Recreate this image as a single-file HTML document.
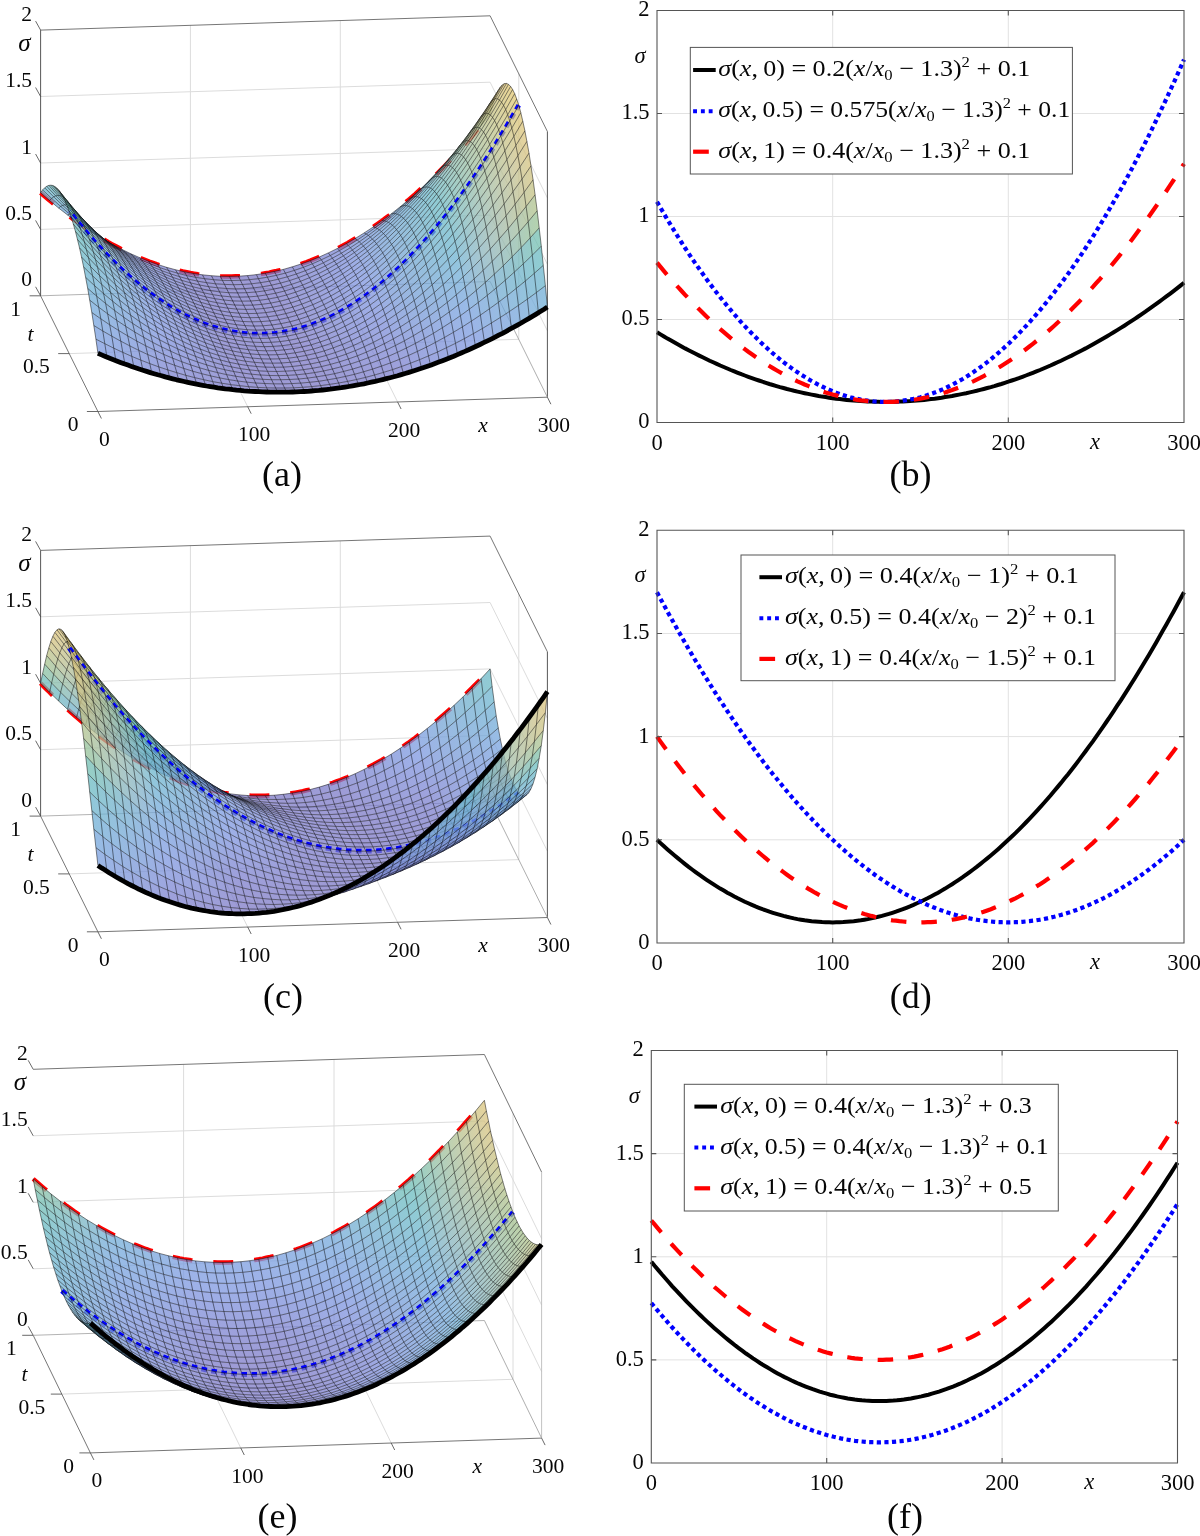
<!DOCTYPE html>
<html><head><meta charset="utf-8"><style>
html,body{margin:0;padding:0;background:#fff;}
svg{display:block;}
text{font-family:"Liberation Serif", serif;fill:#000;opacity:.99}
</style></head><body>
<svg width="1200" height="1536" viewBox="0 0 1200 1536">
<defs><linearGradient id="g1" gradientUnits="userSpaceOnUse" x1="41.6" x2="491.1" y1="0" y2="0"><stop offset="0" stop-color="#6eb3d3"/><stop offset="0.167" stop-color="#7d92dd"/><stop offset="0.333" stop-color="#7d7ac8"/><stop offset="0.5" stop-color="#7d79c6"/><stop offset="0.667" stop-color="#7d8ad7"/><stop offset="0.833" stop-color="#72abd9"/><stop offset="1" stop-color="#b3c28a"/></linearGradient><linearGradient id="g2" gradientUnits="userSpaceOnUse" x1="43.7" x2="493.2" y1="0" y2="0"><stop offset="0" stop-color="#6db5ce"/><stop offset="0.167" stop-color="#7e94df"/><stop offset="0.333" stop-color="#7d7ac8"/><stop offset="0.5" stop-color="#7d79c6"/><stop offset="0.667" stop-color="#7d8cd8"/><stop offset="0.833" stop-color="#70aed7"/><stop offset="1" stop-color="#c8c282"/></linearGradient><linearGradient id="g3" gradientUnits="userSpaceOnUse" x1="45.7" x2="495.2" y1="0" y2="0"><stop offset="0" stop-color="#6cb8ca"/><stop offset="0.167" stop-color="#7e96e0"/><stop offset="0.333" stop-color="#7d7bc8"/><stop offset="0.5" stop-color="#7d79c6"/><stop offset="0.667" stop-color="#7d8dd9"/><stop offset="0.833" stop-color="#6fb1d4"/><stop offset="1" stop-color="#d0c27f"/></linearGradient><linearGradient id="g4" gradientUnits="userSpaceOnUse" x1="47.8" x2="497.3" y1="0" y2="0"><stop offset="0" stop-color="#6bb9c6"/><stop offset="0.167" stop-color="#7d97e0"/><stop offset="0.333" stop-color="#7d7bc8"/><stop offset="0.5" stop-color="#7d79c6"/><stop offset="0.667" stop-color="#7d8fdb"/><stop offset="0.833" stop-color="#6db4d2"/><stop offset="1" stop-color="#d6c37f"/></linearGradient><linearGradient id="g5" gradientUnits="userSpaceOnUse" x1="49.8" x2="499.3" y1="0" y2="0"><stop offset="0" stop-color="#6abbc3"/><stop offset="0.167" stop-color="#7d98e0"/><stop offset="0.333" stop-color="#7d7bc8"/><stop offset="0.5" stop-color="#7d79c7"/><stop offset="0.667" stop-color="#7d90dc"/><stop offset="0.833" stop-color="#6db5cf"/><stop offset="1" stop-color="#dac37e"/></linearGradient><linearGradient id="g6" gradientUnits="userSpaceOnUse" x1="51.9" x2="501.4" y1="0" y2="0"><stop offset="0" stop-color="#6abcc0"/><stop offset="0.167" stop-color="#7c98e0"/><stop offset="0.333" stop-color="#7d7bc9"/><stop offset="0.5" stop-color="#7d79c7"/><stop offset="0.667" stop-color="#7d91dd"/><stop offset="0.833" stop-color="#6cb6cd"/><stop offset="1" stop-color="#ddc47b"/></linearGradient><linearGradient id="g7" gradientUnits="userSpaceOnUse" x1="53.9" x2="503.4" y1="0" y2="0"><stop offset="0" stop-color="#6cbdbb"/><stop offset="0.167" stop-color="#7c99e0"/><stop offset="0.333" stop-color="#7d7bc9"/><stop offset="0.5" stop-color="#7d7ac7"/><stop offset="0.667" stop-color="#7d92dd"/><stop offset="0.833" stop-color="#6cb7ca"/><stop offset="1" stop-color="#dfc579"/></linearGradient><linearGradient id="g8" gradientUnits="userSpaceOnUse" x1="55.9" x2="505.4" y1="0" y2="0"><stop offset="0" stop-color="#6ebeb8"/><stop offset="0.167" stop-color="#7c9ae0"/><stop offset="0.333" stop-color="#7d7bc9"/><stop offset="0.5" stop-color="#7d7ac7"/><stop offset="0.667" stop-color="#7e93de"/><stop offset="0.833" stop-color="#6bb8c9"/><stop offset="1" stop-color="#e0c677"/></linearGradient><linearGradient id="g9" gradientUnits="userSpaceOnUse" x1="58" x2="507.5" y1="0" y2="0"><stop offset="0" stop-color="#70beb5"/><stop offset="0.167" stop-color="#7b9ae0"/><stop offset="0.333" stop-color="#7d7bc9"/><stop offset="0.5" stop-color="#7d7ac7"/><stop offset="0.667" stop-color="#7e93de"/><stop offset="0.833" stop-color="#6bb9c7"/><stop offset="1" stop-color="#e1c776"/></linearGradient><linearGradient id="g10" gradientUnits="userSpaceOnUse" x1="60" x2="509.5" y1="0" y2="0"><stop offset="0" stop-color="#71beb3"/><stop offset="0.167" stop-color="#7b9ae0"/><stop offset="0.333" stop-color="#7d7bc9"/><stop offset="0.5" stop-color="#7d7ac7"/><stop offset="0.667" stop-color="#7e94df"/><stop offset="0.833" stop-color="#6bb9c7"/><stop offset="1" stop-color="#e2c874"/></linearGradient><linearGradient id="g11" gradientUnits="userSpaceOnUse" x1="62.1" x2="511.6" y1="0" y2="0"><stop offset="0" stop-color="#72bfb2"/><stop offset="0.167" stop-color="#7b9be0"/><stop offset="0.333" stop-color="#7d7bc9"/><stop offset="0.5" stop-color="#7d7ac7"/><stop offset="0.667" stop-color="#7e94df"/><stop offset="0.833" stop-color="#6bb9c6"/><stop offset="1" stop-color="#e2c874"/></linearGradient><linearGradient id="g12" gradientUnits="userSpaceOnUse" x1="64.1" x2="513.6" y1="0" y2="0"><stop offset="0" stop-color="#72bfb1"/><stop offset="0.167" stop-color="#7b9be0"/><stop offset="0.333" stop-color="#7d7bc9"/><stop offset="0.5" stop-color="#7d7ac7"/><stop offset="0.667" stop-color="#7e94df"/><stop offset="0.833" stop-color="#6bbac6"/><stop offset="1" stop-color="#e3c874"/></linearGradient><linearGradient id="g13" gradientUnits="userSpaceOnUse" x1="66.2" x2="515.7" y1="0" y2="0"><stop offset="0" stop-color="#72bfb2"/><stop offset="0.167" stop-color="#7b9be0"/><stop offset="0.333" stop-color="#7d7bc9"/><stop offset="0.5" stop-color="#7d7ac7"/><stop offset="0.667" stop-color="#7e94df"/><stop offset="0.833" stop-color="#6bb9c6"/><stop offset="1" stop-color="#e2c874"/></linearGradient><linearGradient id="g14" gradientUnits="userSpaceOnUse" x1="68.2" x2="517.7" y1="0" y2="0"><stop offset="0" stop-color="#71beb3"/><stop offset="0.167" stop-color="#7b9ae0"/><stop offset="0.333" stop-color="#7d7bc9"/><stop offset="0.5" stop-color="#7d7ac7"/><stop offset="0.667" stop-color="#7e94df"/><stop offset="0.833" stop-color="#6bb9c7"/><stop offset="1" stop-color="#e2c875"/></linearGradient><linearGradient id="g15" gradientUnits="userSpaceOnUse" x1="70.3" x2="519.8" y1="0" y2="0"><stop offset="0" stop-color="#70beb5"/><stop offset="0.167" stop-color="#7b9ae0"/><stop offset="0.333" stop-color="#7d7bc9"/><stop offset="0.5" stop-color="#7d7ac7"/><stop offset="0.667" stop-color="#7e93de"/><stop offset="0.833" stop-color="#6bb9c8"/><stop offset="1" stop-color="#e1c776"/></linearGradient><linearGradient id="g16" gradientUnits="userSpaceOnUse" x1="72.3" x2="521.8" y1="0" y2="0"><stop offset="0" stop-color="#6ebeb8"/><stop offset="0.167" stop-color="#7c9ae0"/><stop offset="0.333" stop-color="#7d7bc9"/><stop offset="0.5" stop-color="#7d7ac7"/><stop offset="0.667" stop-color="#7d93de"/><stop offset="0.833" stop-color="#6cb8c9"/><stop offset="1" stop-color="#e0c677"/></linearGradient><linearGradient id="g17" gradientUnits="userSpaceOnUse" x1="74.4" x2="523.9" y1="0" y2="0"><stop offset="0" stop-color="#6cbdbc"/><stop offset="0.167" stop-color="#7c99e0"/><stop offset="0.333" stop-color="#7d7bc9"/><stop offset="0.5" stop-color="#7d7ac7"/><stop offset="0.667" stop-color="#7d92dd"/><stop offset="0.833" stop-color="#6cb7cb"/><stop offset="1" stop-color="#dec579"/></linearGradient><linearGradient id="g18" gradientUnits="userSpaceOnUse" x1="76.4" x2="525.9" y1="0" y2="0"><stop offset="0" stop-color="#6abcc0"/><stop offset="0.167" stop-color="#7c98e0"/><stop offset="0.333" stop-color="#7d7bc9"/><stop offset="0.5" stop-color="#7d79c7"/><stop offset="0.667" stop-color="#7d91dc"/><stop offset="0.833" stop-color="#6cb6cd"/><stop offset="1" stop-color="#ddc47c"/></linearGradient><linearGradient id="g19" gradientUnits="userSpaceOnUse" x1="78.5" x2="528" y1="0" y2="0"><stop offset="0" stop-color="#6abbc3"/><stop offset="0.167" stop-color="#7d98e0"/><stop offset="0.333" stop-color="#7d7bc8"/><stop offset="0.5" stop-color="#7d79c7"/><stop offset="0.667" stop-color="#7d90dc"/><stop offset="0.833" stop-color="#6db5cf"/><stop offset="1" stop-color="#dac37e"/></linearGradient><linearGradient id="g20" gradientUnits="userSpaceOnUse" x1="80.5" x2="530" y1="0" y2="0"><stop offset="0" stop-color="#6bb9c7"/><stop offset="0.167" stop-color="#7d97e0"/><stop offset="0.333" stop-color="#7d7bc8"/><stop offset="0.5" stop-color="#7d79c6"/><stop offset="0.667" stop-color="#7d8fdb"/><stop offset="0.833" stop-color="#6db3d2"/><stop offset="1" stop-color="#d5c37f"/></linearGradient><linearGradient id="g21" gradientUnits="userSpaceOnUse" x1="82.6" x2="532.1" y1="0" y2="0"><stop offset="0" stop-color="#6cb7ca"/><stop offset="0.167" stop-color="#7e96e0"/><stop offset="0.333" stop-color="#7d7bc8"/><stop offset="0.5" stop-color="#7d79c6"/><stop offset="0.667" stop-color="#7d8dd9"/><stop offset="0.833" stop-color="#6fb1d4"/><stop offset="1" stop-color="#d0c280"/></linearGradient><linearGradient id="g22" gradientUnits="userSpaceOnUse" x1="84.6" x2="534.1" y1="0" y2="0"><stop offset="0" stop-color="#6db5cf"/><stop offset="0.167" stop-color="#7e94df"/><stop offset="0.333" stop-color="#7d7ac8"/><stop offset="0.5" stop-color="#7d79c6"/><stop offset="0.667" stop-color="#7d8cd8"/><stop offset="0.833" stop-color="#71aed7"/><stop offset="1" stop-color="#c6c282"/></linearGradient><linearGradient id="g23" gradientUnits="userSpaceOnUse" x1="86.6" x2="536.1" y1="0" y2="0"><stop offset="0" stop-color="#6eb3d3"/><stop offset="0.167" stop-color="#7d91dd"/><stop offset="0.333" stop-color="#7d7ac8"/><stop offset="0.5" stop-color="#7d79c6"/><stop offset="0.667" stop-color="#7d8ad7"/><stop offset="0.833" stop-color="#73abd9"/><stop offset="1" stop-color="#b1c28b"/></linearGradient><linearGradient id="g24" gradientUnits="userSpaceOnUse" x1="88.7" x2="538.2" y1="0" y2="0"><stop offset="0" stop-color="#70aed6"/><stop offset="0.167" stop-color="#7d8fdb"/><stop offset="0.333" stop-color="#7d7ac8"/><stop offset="0.5" stop-color="#7d79c6"/><stop offset="0.667" stop-color="#7d88d5"/><stop offset="0.833" stop-color="#75a7dc"/><stop offset="1" stop-color="#9bc394"/></linearGradient><linearGradient id="g25" gradientUnits="userSpaceOnUse" x1="90.7" x2="540.2" y1="0" y2="0"><stop offset="0" stop-color="#73aada"/><stop offset="0.167" stop-color="#7d8cd8"/><stop offset="0.333" stop-color="#7d7ac7"/><stop offset="0.5" stop-color="#7d79c6"/><stop offset="0.667" stop-color="#7d86d3"/><stop offset="0.833" stop-color="#77a3df"/><stop offset="1" stop-color="#73bfaf"/></linearGradient><linearGradient id="g26" gradientUnits="userSpaceOnUse" x1="92.8" x2="542.3" y1="0" y2="0"><stop offset="0" stop-color="#76a5de"/><stop offset="0.167" stop-color="#7d89d6"/><stop offset="0.333" stop-color="#7d7ac7"/><stop offset="0.5" stop-color="#7d79c6"/><stop offset="0.667" stop-color="#7d84d1"/><stop offset="0.833" stop-color="#799fdf"/><stop offset="1" stop-color="#6abcc1"/></linearGradient><linearGradient id="g27" gradientUnits="userSpaceOnUse" x1="94.8" x2="544.3" y1="0" y2="0"><stop offset="0" stop-color="#79a0df"/><stop offset="0.167" stop-color="#7d86d3"/><stop offset="0.333" stop-color="#7d7ac7"/><stop offset="0.5" stop-color="#7d79c6"/><stop offset="0.667" stop-color="#7d81cf"/><stop offset="0.833" stop-color="#7b9be0"/><stop offset="1" stop-color="#6cb6cc"/></linearGradient><linearGradient id="g28" gradientUnits="userSpaceOnUse" x1="96.9" x2="546.4" y1="0" y2="0"><stop offset="0" stop-color="#7b9be0"/><stop offset="0.167" stop-color="#7d83d1"/><stop offset="0.333" stop-color="#7d79c6"/><stop offset="0.5" stop-color="#7d79c6"/><stop offset="0.667" stop-color="#7c7fcd"/><stop offset="0.833" stop-color="#7d97e0"/><stop offset="1" stop-color="#70afd6"/></linearGradient><linearGradient id="g29" gradientUnits="userSpaceOnUse" x1="41.6" x2="491.1" y1="0" y2="0"><stop offset="0" stop-color="#6fbeb7"/><stop offset="0.167" stop-color="#799fdf"/><stop offset="0.333" stop-color="#7c80ce"/><stop offset="0.5" stop-color="#7d78c5"/><stop offset="0.667" stop-color="#7c7dcb"/><stop offset="0.833" stop-color="#7b9ae0"/><stop offset="1" stop-color="#6bbac5"/></linearGradient><linearGradient id="g30" gradientUnits="userSpaceOnUse" x1="43.7" x2="493.2" y1="0" y2="0"><stop offset="0" stop-color="#8ac1a0"/><stop offset="0.167" stop-color="#77a4df"/><stop offset="0.333" stop-color="#7d84d2"/><stop offset="0.5" stop-color="#7d79c5"/><stop offset="0.667" stop-color="#7d7bc9"/><stop offset="0.833" stop-color="#7d96e0"/><stop offset="1" stop-color="#6db6ce"/></linearGradient><linearGradient id="g31" gradientUnits="userSpaceOnUse" x1="45.7" x2="495.2" y1="0" y2="0"><stop offset="0" stop-color="#a8c38f"/><stop offset="0.167" stop-color="#73a9da"/><stop offset="0.333" stop-color="#7d89d6"/><stop offset="0.5" stop-color="#7d79c6"/><stop offset="0.667" stop-color="#7d7ac8"/><stop offset="0.833" stop-color="#7d90dc"/><stop offset="1" stop-color="#6fb1d4"/></linearGradient><linearGradient id="g32" gradientUnits="userSpaceOnUse" x1="47.8" x2="497.3" y1="0" y2="0"><stop offset="0" stop-color="#bec286"/><stop offset="0.167" stop-color="#70aed7"/><stop offset="0.333" stop-color="#7d8eda"/><stop offset="0.5" stop-color="#7d7ac7"/><stop offset="0.667" stop-color="#7d7ac7"/><stop offset="0.833" stop-color="#7d8cd8"/><stop offset="1" stop-color="#72acd8"/></linearGradient><linearGradient id="g33" gradientUnits="userSpaceOnUse" x1="49.8" x2="499.3" y1="0" y2="0"><stop offset="0" stop-color="#cdc280"/><stop offset="0.167" stop-color="#6eb3d3"/><stop offset="0.333" stop-color="#7d92de"/><stop offset="0.5" stop-color="#7d7bc8"/><stop offset="0.667" stop-color="#7d79c6"/><stop offset="0.833" stop-color="#7d88d5"/><stop offset="1" stop-color="#75a7dc"/></linearGradient><linearGradient id="g34" gradientUnits="userSpaceOnUse" x1="51.9" x2="501.4" y1="0" y2="0"><stop offset="0" stop-color="#d4c27f"/><stop offset="0.167" stop-color="#6db6ce"/><stop offset="0.333" stop-color="#7d96e0"/><stop offset="0.5" stop-color="#7d7bc9"/><stop offset="0.667" stop-color="#7d79c5"/><stop offset="0.833" stop-color="#7d84d2"/><stop offset="1" stop-color="#77a3df"/></linearGradient><linearGradient id="g35" gradientUnits="userSpaceOnUse" x1="53.9" x2="503.4" y1="0" y2="0"><stop offset="0" stop-color="#d9c37e"/><stop offset="0.167" stop-color="#6cb8c9"/><stop offset="0.333" stop-color="#7c98e0"/><stop offset="0.5" stop-color="#7d7cca"/><stop offset="0.667" stop-color="#7d78c5"/><stop offset="0.833" stop-color="#7d82d0"/><stop offset="1" stop-color="#78a1df"/></linearGradient><linearGradient id="g36" gradientUnits="userSpaceOnUse" x1="55.9" x2="505.4" y1="0" y2="0"><stop offset="0" stop-color="#dcc47c"/><stop offset="0.167" stop-color="#6bbac5"/><stop offset="0.333" stop-color="#7c9ae0"/><stop offset="0.5" stop-color="#7c7dcb"/><stop offset="0.667" stop-color="#7d78c5"/><stop offset="0.833" stop-color="#7c80ce"/><stop offset="1" stop-color="#799fdf"/></linearGradient><linearGradient id="g37" gradientUnits="userSpaceOnUse" x1="58" x2="507.5" y1="0" y2="0"><stop offset="0" stop-color="#dec57a"/><stop offset="0.167" stop-color="#6abbc2"/><stop offset="0.333" stop-color="#7b9be0"/><stop offset="0.5" stop-color="#7c7dcc"/><stop offset="0.667" stop-color="#7d78c5"/><stop offset="0.833" stop-color="#7c7fcd"/><stop offset="1" stop-color="#7a9de0"/></linearGradient><linearGradient id="g38" gradientUnits="userSpaceOnUse" x1="60" x2="509.5" y1="0" y2="0"><stop offset="0" stop-color="#dfc678"/><stop offset="0.167" stop-color="#6abcc0"/><stop offset="0.333" stop-color="#7a9ce0"/><stop offset="0.5" stop-color="#7c7ecc"/><stop offset="0.667" stop-color="#7d78c5"/><stop offset="0.833" stop-color="#7c7ecc"/><stop offset="1" stop-color="#7a9ce0"/></linearGradient><linearGradient id="g39" gradientUnits="userSpaceOnUse" x1="62.1" x2="511.6" y1="0" y2="0"><stop offset="0" stop-color="#e0c677"/><stop offset="0.167" stop-color="#6bbdbd"/><stop offset="0.333" stop-color="#7a9de0"/><stop offset="0.5" stop-color="#7c7ecd"/><stop offset="0.667" stop-color="#7d78c5"/><stop offset="0.833" stop-color="#7c7dcc"/><stop offset="1" stop-color="#7b9ce0"/></linearGradient><linearGradient id="g40" gradientUnits="userSpaceOnUse" x1="64.1" x2="513.6" y1="0" y2="0"><stop offset="0" stop-color="#e0c777"/><stop offset="0.167" stop-color="#6cbdbc"/><stop offset="0.333" stop-color="#7a9de0"/><stop offset="0.5" stop-color="#7c7fcd"/><stop offset="0.667" stop-color="#7d78c5"/><stop offset="0.833" stop-color="#7c7dcc"/><stop offset="1" stop-color="#7b9be0"/></linearGradient><linearGradient id="g41" gradientUnits="userSpaceOnUse" x1="66.2" x2="515.7" y1="0" y2="0"><stop offset="0" stop-color="#e0c677"/><stop offset="0.167" stop-color="#6cbdbd"/><stop offset="0.333" stop-color="#7a9de0"/><stop offset="0.5" stop-color="#7c7fcd"/><stop offset="0.667" stop-color="#7d78c5"/><stop offset="0.833" stop-color="#7c7dcc"/><stop offset="1" stop-color="#7b9be0"/></linearGradient><linearGradient id="g42" gradientUnits="userSpaceOnUse" x1="68.2" x2="517.7" y1="0" y2="0"><stop offset="0" stop-color="#e0c678"/><stop offset="0.167" stop-color="#6bbdbf"/><stop offset="0.333" stop-color="#7a9de0"/><stop offset="0.5" stop-color="#7c7ecd"/><stop offset="0.667" stop-color="#7d78c5"/><stop offset="0.833" stop-color="#7c7dcc"/><stop offset="1" stop-color="#7b9ce0"/></linearGradient><linearGradient id="g43" gradientUnits="userSpaceOnUse" x1="70.3" x2="519.8" y1="0" y2="0"><stop offset="0" stop-color="#dec579"/><stop offset="0.167" stop-color="#6abcc1"/><stop offset="0.333" stop-color="#7b9ce0"/><stop offset="0.5" stop-color="#7c7dcc"/><stop offset="0.667" stop-color="#7d78c5"/><stop offset="0.833" stop-color="#7c7ecd"/><stop offset="1" stop-color="#7a9de0"/></linearGradient><linearGradient id="g44" gradientUnits="userSpaceOnUse" x1="72.3" x2="521.8" y1="0" y2="0"><stop offset="0" stop-color="#ddc47b"/><stop offset="0.167" stop-color="#6bbac4"/><stop offset="0.333" stop-color="#7b9ae0"/><stop offset="0.5" stop-color="#7c7dcb"/><stop offset="0.667" stop-color="#7d78c5"/><stop offset="0.833" stop-color="#7c7fce"/><stop offset="1" stop-color="#799edf"/></linearGradient><linearGradient id="g45" gradientUnits="userSpaceOnUse" x1="74.4" x2="523.9" y1="0" y2="0"><stop offset="0" stop-color="#dac37e"/><stop offset="0.167" stop-color="#6bb9c8"/><stop offset="0.333" stop-color="#7c99e0"/><stop offset="0.5" stop-color="#7d7cca"/><stop offset="0.667" stop-color="#7d78c5"/><stop offset="0.833" stop-color="#7d81cf"/><stop offset="1" stop-color="#78a0df"/></linearGradient><linearGradient id="g46" gradientUnits="userSpaceOnUse" x1="76.4" x2="525.9" y1="0" y2="0"><stop offset="0" stop-color="#d5c37f"/><stop offset="0.167" stop-color="#6cb6cc"/><stop offset="0.333" stop-color="#7d97e0"/><stop offset="0.5" stop-color="#7d7cc9"/><stop offset="0.667" stop-color="#7d79c5"/><stop offset="0.833" stop-color="#7d83d1"/><stop offset="1" stop-color="#77a2df"/></linearGradient><linearGradient id="g47" gradientUnits="userSpaceOnUse" x1="78.5" x2="528" y1="0" y2="0"><stop offset="0" stop-color="#d0c280"/><stop offset="0.167" stop-color="#6db4d1"/><stop offset="0.333" stop-color="#7e94df"/><stop offset="0.5" stop-color="#7d7bc8"/><stop offset="0.667" stop-color="#7d79c6"/><stop offset="0.833" stop-color="#7d86d4"/><stop offset="1" stop-color="#75a6dd"/></linearGradient><linearGradient id="g48" gradientUnits="userSpaceOnUse" x1="80.5" x2="530" y1="0" y2="0"><stop offset="0" stop-color="#c5c283"/><stop offset="0.167" stop-color="#6fb0d5"/><stop offset="0.333" stop-color="#7d8fdb"/><stop offset="0.5" stop-color="#7d7ac7"/><stop offset="0.667" stop-color="#7d79c6"/><stop offset="0.833" stop-color="#7d8ad7"/><stop offset="1" stop-color="#73aada"/></linearGradient><linearGradient id="g49" gradientUnits="userSpaceOnUse" x1="82.6" x2="532.1" y1="0" y2="0"><stop offset="0" stop-color="#b0c28c"/><stop offset="0.167" stop-color="#72abd9"/><stop offset="0.333" stop-color="#7d8bd7"/><stop offset="0.5" stop-color="#7d79c6"/><stop offset="0.667" stop-color="#7d7ac7"/><stop offset="0.833" stop-color="#7d8fdb"/><stop offset="1" stop-color="#70afd6"/></linearGradient><linearGradient id="g50" gradientUnits="userSpaceOnUse" x1="84.6" x2="534.1" y1="0" y2="0"><stop offset="0" stop-color="#97c397"/><stop offset="0.167" stop-color="#76a5dd"/><stop offset="0.333" stop-color="#7d86d3"/><stop offset="0.5" stop-color="#7d79c6"/><stop offset="0.667" stop-color="#7d7bc9"/><stop offset="0.833" stop-color="#7e94df"/><stop offset="1" stop-color="#6db4d0"/></linearGradient><linearGradient id="g51" gradientUnits="userSpaceOnUse" x1="86.6" x2="536.1" y1="0" y2="0"><stop offset="0" stop-color="#72bfb1"/><stop offset="0.167" stop-color="#78a0df"/><stop offset="0.333" stop-color="#7d81cf"/><stop offset="0.5" stop-color="#7d78c5"/><stop offset="0.667" stop-color="#7d7cca"/><stop offset="0.833" stop-color="#7c99e0"/><stop offset="1" stop-color="#6bb8c8"/></linearGradient><linearGradient id="g52" gradientUnits="userSpaceOnUse" x1="88.7" x2="538.2" y1="0" y2="0"><stop offset="0" stop-color="#6abbc2"/><stop offset="0.167" stop-color="#7b9ce0"/><stop offset="0.333" stop-color="#7c7dcc"/><stop offset="0.5" stop-color="#7d78c5"/><stop offset="0.667" stop-color="#7c7ecd"/><stop offset="0.833" stop-color="#7a9de0"/><stop offset="1" stop-color="#6bbdbd"/></linearGradient><linearGradient id="g53" gradientUnits="userSpaceOnUse" x1="90.7" x2="540.2" y1="0" y2="0"><stop offset="0" stop-color="#6cb6cc"/><stop offset="0.167" stop-color="#7d97e0"/><stop offset="0.333" stop-color="#7d7cc9"/><stop offset="0.5" stop-color="#7d79c5"/><stop offset="0.667" stop-color="#7d83d1"/><stop offset="0.833" stop-color="#77a2df"/><stop offset="1" stop-color="#81c0a5"/></linearGradient><linearGradient id="g54" gradientUnits="userSpaceOnUse" x1="92.8" x2="542.3" y1="0" y2="0"><stop offset="0" stop-color="#6fb0d5"/><stop offset="0.167" stop-color="#7d90db"/><stop offset="0.333" stop-color="#7d7ac7"/><stop offset="0.5" stop-color="#7d79c6"/><stop offset="0.667" stop-color="#7d8ad7"/><stop offset="0.833" stop-color="#73aada"/><stop offset="1" stop-color="#acc38d"/></linearGradient><linearGradient id="g55" gradientUnits="userSpaceOnUse" x1="94.8" x2="544.3" y1="0" y2="0"><stop offset="0" stop-color="#74a7dc"/><stop offset="0.167" stop-color="#7d88d5"/><stop offset="0.333" stop-color="#7d79c6"/><stop offset="0.5" stop-color="#7d7bc8"/><stop offset="0.667" stop-color="#7d92dd"/><stop offset="0.833" stop-color="#6eb3d3"/><stop offset="1" stop-color="#cdc280"/></linearGradient><linearGradient id="g56" gradientUnits="userSpaceOnUse" x1="96.9" x2="546.4" y1="0" y2="0"><stop offset="0" stop-color="#79a0df"/><stop offset="0.167" stop-color="#7d81cf"/><stop offset="0.333" stop-color="#7d78c5"/><stop offset="0.5" stop-color="#7c7ccb"/><stop offset="0.667" stop-color="#7c99e0"/><stop offset="0.833" stop-color="#6bb9c7"/><stop offset="1" stop-color="#dbc37e"/></linearGradient><linearGradient id="g57" gradientUnits="userSpaceOnUse" x1="34.2" x2="485.4" y1="0" y2="0"><stop offset="0" stop-color="#88c1a1"/><stop offset="0.167" stop-color="#71aed7"/><stop offset="0.333" stop-color="#7a9de0"/><stop offset="0.5" stop-color="#7b9ce0"/><stop offset="0.667" stop-color="#74a9db"/><stop offset="0.833" stop-color="#6ebeb7"/><stop offset="1" stop-color="#dcc47c"/></linearGradient><linearGradient id="g58" gradientUnits="userSpaceOnUse" x1="36.3" x2="487.5" y1="0" y2="0"><stop offset="0" stop-color="#75bfae"/><stop offset="0.167" stop-color="#73aada"/><stop offset="0.333" stop-color="#7c9ae0"/><stop offset="0.5" stop-color="#7c99e0"/><stop offset="0.667" stop-color="#76a5de"/><stop offset="0.833" stop-color="#6abcc0"/><stop offset="1" stop-color="#dac37e"/></linearGradient><linearGradient id="g59" gradientUnits="userSpaceOnUse" x1="38.3" x2="489.5" y1="0" y2="0"><stop offset="0" stop-color="#6fbeb6"/><stop offset="0.167" stop-color="#75a6dd"/><stop offset="0.333" stop-color="#7d97e0"/><stop offset="0.5" stop-color="#7e96e0"/><stop offset="0.667" stop-color="#78a2df"/><stop offset="0.833" stop-color="#6abac4"/><stop offset="1" stop-color="#d6c37e"/></linearGradient><linearGradient id="g60" gradientUnits="userSpaceOnUse" x1="40.4" x2="491.6" y1="0" y2="0"><stop offset="0" stop-color="#6cbdbd"/><stop offset="0.167" stop-color="#77a3df"/><stop offset="0.333" stop-color="#7e93de"/><stop offset="0.5" stop-color="#7d91dc"/><stop offset="0.667" stop-color="#799fdf"/><stop offset="0.833" stop-color="#6bb9c8"/><stop offset="1" stop-color="#d3c27f"/></linearGradient><linearGradient id="g61" gradientUnits="userSpaceOnUse" x1="42.4" x2="493.6" y1="0" y2="0"><stop offset="0" stop-color="#6abbc2"/><stop offset="0.167" stop-color="#78a0df"/><stop offset="0.333" stop-color="#7d8fdb"/><stop offset="0.5" stop-color="#7d8cd9"/><stop offset="0.667" stop-color="#7a9ce0"/><stop offset="0.833" stop-color="#6cb7cb"/><stop offset="1" stop-color="#d0c280"/></linearGradient><linearGradient id="g62" gradientUnits="userSpaceOnUse" x1="44.4" x2="495.6" y1="0" y2="0"><stop offset="0" stop-color="#6bbac5"/><stop offset="0.167" stop-color="#799edf"/><stop offset="0.333" stop-color="#7d8bd7"/><stop offset="0.5" stop-color="#7d88d5"/><stop offset="0.667" stop-color="#7b9ae0"/><stop offset="0.833" stop-color="#6db5cf"/><stop offset="1" stop-color="#cdc280"/></linearGradient><linearGradient id="g63" gradientUnits="userSpaceOnUse" x1="46.5" x2="497.7" y1="0" y2="0"><stop offset="0" stop-color="#6bb8c8"/><stop offset="0.167" stop-color="#7a9ce0"/><stop offset="0.333" stop-color="#7d87d4"/><stop offset="0.5" stop-color="#7d84d2"/><stop offset="0.667" stop-color="#7c98e0"/><stop offset="0.833" stop-color="#6db4d2"/><stop offset="1" stop-color="#cac281"/></linearGradient><linearGradient id="g64" gradientUnits="userSpaceOnUse" x1="48.5" x2="499.7" y1="0" y2="0"><stop offset="0" stop-color="#6cb7cb"/><stop offset="0.167" stop-color="#7b9ae0"/><stop offset="0.333" stop-color="#7d83d1"/><stop offset="0.5" stop-color="#7d81cf"/><stop offset="0.667" stop-color="#7d96e0"/><stop offset="0.833" stop-color="#6eb2d4"/><stop offset="1" stop-color="#c3c284"/></linearGradient><linearGradient id="g65" gradientUnits="userSpaceOnUse" x1="50.6" x2="501.8" y1="0" y2="0"><stop offset="0" stop-color="#6cb6cd"/><stop offset="0.167" stop-color="#7c98e0"/><stop offset="0.333" stop-color="#7c80ce"/><stop offset="0.5" stop-color="#7c7ecc"/><stop offset="0.667" stop-color="#7e93de"/><stop offset="0.833" stop-color="#6fb0d5"/><stop offset="1" stop-color="#bdc286"/></linearGradient><linearGradient id="g66" gradientUnits="userSpaceOnUse" x1="52.6" x2="503.8" y1="0" y2="0"><stop offset="0" stop-color="#6db5cf"/><stop offset="0.167" stop-color="#7d97e0"/><stop offset="0.333" stop-color="#7c7ecc"/><stop offset="0.5" stop-color="#7c7dcb"/><stop offset="0.667" stop-color="#7d91dc"/><stop offset="0.833" stop-color="#71aed7"/><stop offset="1" stop-color="#b8c288"/></linearGradient><linearGradient id="g67" gradientUnits="userSpaceOnUse" x1="54.7" x2="505.9" y1="0" y2="0"><stop offset="0" stop-color="#6db4d1"/><stop offset="0.167" stop-color="#7e96e0"/><stop offset="0.333" stop-color="#7c7dcb"/><stop offset="0.5" stop-color="#7d7cc9"/><stop offset="0.667" stop-color="#7d8eda"/><stop offset="0.833" stop-color="#71add8"/><stop offset="1" stop-color="#b3c28a"/></linearGradient><linearGradient id="g68" gradientUnits="userSpaceOnUse" x1="56.7" x2="507.9" y1="0" y2="0"><stop offset="0" stop-color="#6eb3d3"/><stop offset="0.167" stop-color="#7e94df"/><stop offset="0.333" stop-color="#7d7cca"/><stop offset="0.5" stop-color="#7d7bc8"/><stop offset="0.667" stop-color="#7d8cd9"/><stop offset="0.833" stop-color="#72abd9"/><stop offset="1" stop-color="#afc28c"/></linearGradient><linearGradient id="g69" gradientUnits="userSpaceOnUse" x1="58.7" x2="509.9" y1="0" y2="0"><stop offset="0" stop-color="#6eb2d4"/><stop offset="0.167" stop-color="#7d92dd"/><stop offset="0.333" stop-color="#7d7bc9"/><stop offset="0.5" stop-color="#7d7ac7"/><stop offset="0.667" stop-color="#7d8bd7"/><stop offset="0.833" stop-color="#73aada"/><stop offset="1" stop-color="#acc38d"/></linearGradient><linearGradient id="g70" gradientUnits="userSpaceOnUse" x1="60.8" x2="512" y1="0" y2="0"><stop offset="0" stop-color="#6fb1d4"/><stop offset="0.167" stop-color="#7d91dc"/><stop offset="0.333" stop-color="#7d7ac8"/><stop offset="0.5" stop-color="#7d79c6"/><stop offset="0.667" stop-color="#7d8ad6"/><stop offset="0.833" stop-color="#73a9da"/><stop offset="1" stop-color="#a9c38e"/></linearGradient><linearGradient id="g71" gradientUnits="userSpaceOnUse" x1="62.8" x2="514" y1="0" y2="0"><stop offset="0" stop-color="#6fb1d5"/><stop offset="0.167" stop-color="#7d90dc"/><stop offset="0.333" stop-color="#7d7ac7"/><stop offset="0.5" stop-color="#7d79c6"/><stop offset="0.667" stop-color="#7d89d6"/><stop offset="0.833" stop-color="#74a9db"/><stop offset="1" stop-color="#a8c38f"/></linearGradient><linearGradient id="g72" gradientUnits="userSpaceOnUse" x1="64.9" x2="516.1" y1="0" y2="0"><stop offset="0" stop-color="#6fb0d5"/><stop offset="0.167" stop-color="#7d90db"/><stop offset="0.333" stop-color="#7d7ac7"/><stop offset="0.5" stop-color="#7d79c6"/><stop offset="0.667" stop-color="#7d88d5"/><stop offset="0.833" stop-color="#74a8db"/><stop offset="1" stop-color="#a7c38f"/></linearGradient><linearGradient id="g73" gradientUnits="userSpaceOnUse" x1="66.9" x2="518.1" y1="0" y2="0"><stop offset="0" stop-color="#6fb0d5"/><stop offset="0.167" stop-color="#7d8fdb"/><stop offset="0.333" stop-color="#7d7ac7"/><stop offset="0.5" stop-color="#7d79c6"/><stop offset="0.667" stop-color="#7d88d5"/><stop offset="0.833" stop-color="#74a8db"/><stop offset="1" stop-color="#a6c390"/></linearGradient><linearGradient id="g74" gradientUnits="userSpaceOnUse" x1="69" x2="520.1" y1="0" y2="0"><stop offset="0" stop-color="#6fb1d5"/><stop offset="0.167" stop-color="#7d90db"/><stop offset="0.333" stop-color="#7d7ac7"/><stop offset="0.5" stop-color="#7d79c6"/><stop offset="0.667" stop-color="#7d88d5"/><stop offset="0.833" stop-color="#74a9db"/><stop offset="1" stop-color="#a7c38f"/></linearGradient><linearGradient id="g75" gradientUnits="userSpaceOnUse" x1="71" x2="522.2" y1="0" y2="0"><stop offset="0" stop-color="#6fb1d5"/><stop offset="0.167" stop-color="#7d90dc"/><stop offset="0.333" stop-color="#7d7ac8"/><stop offset="0.5" stop-color="#7d79c6"/><stop offset="0.667" stop-color="#7d89d6"/><stop offset="0.833" stop-color="#74a9db"/><stop offset="1" stop-color="#a8c38f"/></linearGradient><linearGradient id="g76" gradientUnits="userSpaceOnUse" x1="73" x2="524.2" y1="0" y2="0"><stop offset="0" stop-color="#6eb2d4"/><stop offset="0.167" stop-color="#7d91dd"/><stop offset="0.333" stop-color="#7d7bc8"/><stop offset="0.5" stop-color="#7d7ac7"/><stop offset="0.667" stop-color="#7d8ad7"/><stop offset="0.833" stop-color="#73aada"/><stop offset="1" stop-color="#aac38e"/></linearGradient><linearGradient id="g77" gradientUnits="userSpaceOnUse" x1="75.1" x2="526.3" y1="0" y2="0"><stop offset="0" stop-color="#6eb3d3"/><stop offset="0.167" stop-color="#7d93de"/><stop offset="0.333" stop-color="#7d7bc9"/><stop offset="0.5" stop-color="#7d7ac8"/><stop offset="0.667" stop-color="#7d8bd8"/><stop offset="0.833" stop-color="#73abd9"/><stop offset="1" stop-color="#adc38d"/></linearGradient><linearGradient id="g78" gradientUnits="userSpaceOnUse" x1="77.1" x2="528.3" y1="0" y2="0"><stop offset="0" stop-color="#6db3d2"/><stop offset="0.167" stop-color="#7e94df"/><stop offset="0.333" stop-color="#7d7cca"/><stop offset="0.5" stop-color="#7d7bc9"/><stop offset="0.667" stop-color="#7d8dd9"/><stop offset="0.833" stop-color="#72acd8"/><stop offset="1" stop-color="#b0c28b"/></linearGradient><linearGradient id="g79" gradientUnits="userSpaceOnUse" x1="79.2" x2="530.4" y1="0" y2="0"><stop offset="0" stop-color="#6db4d1"/><stop offset="0.167" stop-color="#7d96e0"/><stop offset="0.333" stop-color="#7c7dcb"/><stop offset="0.5" stop-color="#7d7cca"/><stop offset="0.667" stop-color="#7d8fdb"/><stop offset="0.833" stop-color="#71add7"/><stop offset="1" stop-color="#b4c28a"/></linearGradient><linearGradient id="g80" gradientUnits="userSpaceOnUse" x1="81.2" x2="532.4" y1="0" y2="0"><stop offset="0" stop-color="#6db5cf"/><stop offset="0.167" stop-color="#7d97e0"/><stop offset="0.333" stop-color="#7c7ecd"/><stop offset="0.5" stop-color="#7c7dcb"/><stop offset="0.667" stop-color="#7d92dd"/><stop offset="0.833" stop-color="#70afd6"/><stop offset="1" stop-color="#b9c288"/></linearGradient><linearGradient id="g81" gradientUnits="userSpaceOnUse" x1="83.2" x2="534.5" y1="0" y2="0"><stop offset="0" stop-color="#6cb6cc"/><stop offset="0.167" stop-color="#7c99e0"/><stop offset="0.333" stop-color="#7d81cf"/><stop offset="0.5" stop-color="#7c7fcd"/><stop offset="0.667" stop-color="#7e94df"/><stop offset="0.833" stop-color="#6fb1d5"/><stop offset="1" stop-color="#bfc285"/></linearGradient><linearGradient id="g82" gradientUnits="userSpaceOnUse" x1="85.3" x2="536.5" y1="0" y2="0"><stop offset="0" stop-color="#6cb7ca"/><stop offset="0.167" stop-color="#7b9be0"/><stop offset="0.333" stop-color="#7d84d2"/><stop offset="0.5" stop-color="#7d82d0"/><stop offset="0.667" stop-color="#7d97e0"/><stop offset="0.833" stop-color="#6eb3d3"/><stop offset="1" stop-color="#c5c283"/></linearGradient><linearGradient id="g83" gradientUnits="userSpaceOnUse" x1="87.3" x2="538.5" y1="0" y2="0"><stop offset="0" stop-color="#6bb9c7"/><stop offset="0.167" stop-color="#7a9de0"/><stop offset="0.333" stop-color="#7d88d5"/><stop offset="0.5" stop-color="#7d86d3"/><stop offset="0.667" stop-color="#7c99e0"/><stop offset="0.833" stop-color="#6db4d1"/><stop offset="1" stop-color="#cbc280"/></linearGradient><linearGradient id="g84" gradientUnits="userSpaceOnUse" x1="89.4" x2="540.6" y1="0" y2="0"><stop offset="0" stop-color="#6abac4"/><stop offset="0.167" stop-color="#799fdf"/><stop offset="0.333" stop-color="#7d8cd8"/><stop offset="0.5" stop-color="#7d89d6"/><stop offset="0.667" stop-color="#7b9be0"/><stop offset="0.833" stop-color="#6cb6ce"/><stop offset="1" stop-color="#cec280"/></linearGradient></defs>
<rect width="1200" height="1536" fill="#fff"/>
<g><path d="M247.7 406.7l-57.3-115.7M397.6 402l-57.3-115.7M69.2 353.6l449.6-14.3M190.4 291l0-265.7M340.3 286.3l0-265.7M40.6 229.4l449.5-14.3l57.3 115.7M40.6 163l449.5-14.3l57.3 115.7M40.6 96.5l449.5-14.3l57.3 115.7M518.8 339.3l0-265.7" stroke="#dcdcdc" stroke-width="1" fill="none"/><path d="M97.9 411.5l-57.3-115.7M40.6 30.1l449.5-14.3l57.3 115.7M547.4 397.2l-449.5 14.3" stroke="#666" stroke-width="0.9" fill="none"/><path d="M40.6 295.8l0-265.7" stroke="#444" stroke-width="0.9" fill="none"/><path d="M547.4 131.5l0 265.7" stroke="#444" stroke-width="0.9" fill="none"/><path d="M40.6 295.8l449.5-14.3" stroke="#aaa" stroke-width="0.9" fill="none"/><path d="M547.4 397.2l-57.3-115.7" stroke="#999" stroke-width="0.8" fill="none"/><path d="M40.6 295.8l-5-9M40.6 229.4l-5-9M40.6 163l-5-9M40.6 96.5l-5-9M40.6 30.1l-5-9M97.9 411.5l-11 0M69.2 353.6l-11 0M40.6 295.8l-11 0M97.9 411.5l3.5 7M247.7 406.7l3.5 7M397.6 402l3.5 7M547.4 397.2l3.5 7" stroke="#444" stroke-width="0.8" fill="none"/><path d="M40.6 192.7l3.7 3.3l3.8 3.2l3.7 3.2l3.8 3.1l3.7 3.1l3.8 2.9l3.7 2.9l3.8 2.9l3.7 2.7l3.8 2.7l3.7 2.7l3.8 2.5l3.7 2.5l3.7 2.5l3.8 2.4l3.7 2.3l3.8 2.2l3.7 2.2l3.8 2.1l3.7 2l3.8 2l3.7 1.9l3.8 1.8l3.7 1.8l3.7 1.7l3.8 1.7l3.7 1.5l3.8 1.5l3.7 1.5l3.8 1.4l3.7 1.3l3.8 1.2l3.7 1.2l3.8 1.1l3.7 1l3.7 1l3.8 0.9l3.7 0.9l3.8 0.8l3.7 0.7l3.8 0.6l3.7 0.6l3.8 0.5l3.7 0.4l3.8 0.4l3.7 0.3l3.8 0.3l3.7 0.2l3.7 0.1l3.8 0l3.7 0l3.8-0.1l3.7-0.1l3.8-0.3l3.7-0.2l3.8-0.4l3.7-0.4l3.8-0.5l3.7-0.5l3.7-0.7l3.8-0.6l3.7-0.8l3.8-0.8l3.7-0.9l3.8-0.9l3.7-1.1l3.8-1l3.7-1.2l3.8-1.2l3.7-1.3l3.8-1.3l3.7-1.4l3.7-1.5l3.8-1.6l3.7-1.6l3.8-1.7l3.7-1.7l3.8-1.8l3.7-1.9l3.8-2l3.7-2l3.8-2l3.7-2.2l3.7-2.2l3.8-2.3l3.7-2.3l3.8-2.4l3.7-2.5l3.8-2.6l3.7-2.6l3.8-2.6l3.7-2.8l3.8-2.8l3.7-2.9l3.8-2.9l3.7-3l3.7-3.1l3.8-3.1l3.7-3.2l3.8-3.3l3.7-3.4l3.8-3.4l3.7-3.4l3.8-3.6l3.7-3.6l3.8-3.7l3.7-3.7l3.8-3.8l3.7-3.9l3.7-3.9l3.8-4l3.7-4.1l3.8-4.1l3.7-4.2l3.8-4.3l3.7-4.3l3.8-4.5l3.7-4.4l3.8-4.6l3.7-4.6" stroke="#ff0000" stroke-width="4.5" stroke-dasharray="20 21" stroke-dashoffset="3" fill="none"/><path d="M40.6 192.7l9 7.8l9 7.5l9 7l9 6.7l9 6.2l8.9 5.9l9 5.6l9 5.1l9 4.7l9 4.4l9 4l9 3.6l9 3.2l9 2.9l8.9 2.4l9 2.1l9 1.7l9 1.3l9 0.9l9 0.6l9 0.1l9-0.2l9-0.6l9-1l8.9-1.4l9-1.7l9-2.1l9-2.6l9-2.9l9-3.2l9-3.7l9-4.1l9-4.4l9-4.8l8.9-5.2l9-5.6l9-5.9l9-6.4l9-6.7l9-7.1l9-7.5l9-7.9l9-8.2l9-8.7l9-9l8.9-9.4l9-9.8l9-10.2l9-10.5l9-11l2-7.6l-8.9 11.7l-9 11.4l-9 10.9l-9 10.5l-9 10.1l-9 9.7l-9 9.3l-9 8.9l-9 8.4l-9 8.1l-8.9 7.6l-9 7.2l-9 6.8l-9 6.4l-9 6l-9 5.6l-9 5.1l-9 4.8l-9 4.3l-9 4l-8.9 3.5l-9 3.1l-9 2.7l-9 2.2l-9 1.9l-9 1.5l-9 1l-9 0.6l-9 0.2l-9-0.1l-8.9-0.7l-9-1l-9-1.4l-9-1.8l-9-2.3l-9-2.7l-9-3l-9-3.5l-9-3.9l-9-4.4l-8.9-4.7l-9-5.1l-9-5.6l-9-5.9l-9-6.4l-9-6.8l-9-7.2l-9-7.6l-9-8l-9-8.5z" fill="url(#g1)" fill-opacity="0.75"/><path d="M40.6 192.7l2-2.8m7 10.6l2-2.1m7 9.6l2-1.6m7 8.6l2-1m7 7.7l2-0.5m7 6.7l2 0.1m6.9 5.8l2.1 0.6m6.9 5l2.1 0.9m6.9 4.2l2.1 1.4m6.9 3.3l2.1 1.8m6.9 2.6l2 2.1m7 1.9l2 2.5m7 1.1l2 2.8m7 0.4l2 3.1m7-0.2l2 3.2m6.9-0.8l2.1 3.5m6.9-1.4l2.1 3.7m6.9-2l2.1 3.8m6.9-2.5l2.1 3.9m6.9-3l2.1 4m6.9-3.4l2 4.1m7-4l2 4.1m7-4.3l2 4.1m7-4.7l2 4.1m7-5.1l2 4.1m6.9-5.5l2.1 4m6.9-5.7l2.1 3.8m6.9-5.9l2.1 3.7m6.9-6.3l2.1 3.6m6.9-6.5l2.1 3.4m6.9-6.6l2 3.1m7-6.8l2 2.8m7-6.9l2 2.6m7-7l2 2.2m7-7l2 1.9m6.9-7.1l2.1 1.5m6.9-7.1l2.1 1.1m6.9-7l2.1 0.6m6.9-7l2.1 0.2m6.9-6.9l2.1-0.3m6.9-6.8l2-0.8m7-6.7l2-1.4m7-6.5l2-1.9m7-6.3l2-2.6m7-6.1l2-3.2m7-5.8l2-3.9m6.9-5.5l2.1-4.6m6.9-5.2l2.1-5.3m6.9-4.9l2.1-6m6.9-4.5l2.1-6.9m6.9-4.1l2-7.6M40.6 192.7l9 7.8l9 7.5l9 7l9 6.7l9 6.2l8.9 5.9l9 5.6l9 5.1l9 4.7l9 4.4l9 4l9 3.6l9 3.2l9 2.9l8.9 2.4l9 2.1l9 1.7l9 1.3l9 0.9l9 0.6l9 0.1l9-0.2l9-0.6l9-1l8.9-1.4l9-1.7l9-2.1l9-2.6l9-2.9l9-3.2l9-3.7l9-4.1l9-4.4l9-4.8l8.9-5.2l9-5.6l9-5.9l9-6.4l9-6.7l9-7.1l9-7.5l9-7.9l9-8.2l9-8.7l9-9l8.9-9.4l9-9.8l9-10.2l9-10.5l9-11" stroke="#000" stroke-opacity="0.6" stroke-width="0.8" fill="none"/><path d="M42.6 189.9l9 8.5l9 8l9 7.6l9 7.2l9 6.8l9 6.4l9 5.9l9 5.6l9 5.1l8.9 4.7l9 4.4l9 3.9l9 3.5l9 3l9 2.7l9 2.3l9 1.8l9 1.4l9 1l8.9 0.7l9 0.1l9-0.2l9-0.6l9-1l9-1.5l9-1.9l9-2.2l9-2.7l9-3.1l8.9-3.5l9-4l9-4.3l9-4.8l9-5.1l9-5.6l9-6l9-6.4l9-6.8l9-7.2l8.9-7.6l9-8.1l9-8.4l9-8.9l9-9.3l9-9.7l9-10.1l9-10.5l9-10.9l9-11.4l8.9-11.7l2.1-6.6l-9 12.5l-9 12l-9 11.7l-9 11.1l-9 10.8l-8.9 10.3l-9 9.8l-9 9.5l-9 9l-9 8.5l-9 8.1l-9 7.7l-9 7.2l-9 6.8l-9 6.4l-8.9 5.9l-9 5.5l-9 5l-9 4.6l-9 4.2l-9 3.7l-9 3.3l-9 2.8l-9 2.4l-9 2l-8.9 1.5l-9 1.1l-9 0.7l-9 0.2l-9-0.3l-9-0.6l-9-1.1l-9-1.6l-9-1.9l-9-2.5l-8.9-2.8l-9-3.3l-9-3.8l-9-4.1l-9-4.6l-9-5.1l-9-5.5l-9-5.9l-9-6.4l-9-6.8l-8.9-7.2l-9-7.7l-9-8.1l-9-8.6l-9-9z" fill="url(#g2)" fill-opacity="0.75"/><path d="M42.6 189.9l2.1-2.1m6.9 10.6l2.1-1.6m6.9 9.6l2.1-1m6.9 8.6l2.1-0.5m6.9 7.7l2.1 0m6.9 6.8l2 0.4m7 6l2 0.8m7 5.1l2 1.3m7 4.3l2 1.6m7 3.5l2 2m6.9 2.7l2.1 2.4m6.9 2l2.1 2.6m6.9 1.3l2.1 2.8m6.9 0.7l2.1 3.1m6.9-0.1l2.1 3.4m6.9-0.7l2 3.5m7-1.2l2 3.7m7-1.9l2 3.8m7-2.4l2 4m7-3l2 4.1m6.9-3.4l2.1 4m6.9-3.9l2.1 4.2m6.9-4.4l2.1 4.2m6.9-4.8l2.1 4.1m6.9-5.1l2.1 4m6.9-5.5l2 4m7-5.9l2 3.9m7-6.1l2 3.7m7-6.4l2 3.6m7-6.7l2 3.4m6.9-6.9l2.1 3.2m6.9-7.2l2.1 3m6.9-7.3l2.1 2.7m6.9-7.5l2.1 2.5m6.9-7.6l2.1 2.1m6.9-7.7l2 1.8m7-7.8l2 1.4m7-7.8l2 1m7-7.8l2 0.6m7-7.8l2 0.1m6.9-7.7l2.1-0.4m6.9-7.7l2.1-0.8m6.9-7.6l2.1-1.4m6.9-7.5l2.1-2m6.9-7.3l2.1-2.5m6.9-7.2l2-3.1m7-7l2-3.8m7-6.7l2-4.4m7-6.5l2-5.2m7-6.2l2-5.8m6.9-5.9l2.1-6.6M42.6 189.9l9 8.5l9 8l9 7.6l9 7.2l9 6.8l9 6.4l9 5.9l9 5.6l9 5.1l8.9 4.7l9 4.4l9 3.9l9 3.5l9 3l9 2.7l9 2.3l9 1.8l9 1.4l9 1l8.9 0.7l9 0.1l9-0.2l9-0.6l9-1l9-1.5l9-1.9l9-2.2l9-2.7l9-3.1l8.9-3.5l9-4l9-4.3l9-4.8l9-5.1l9-5.6l9-6l9-6.4l9-6.8l9-7.2l8.9-7.6l9-8.1l9-8.4l9-8.9l9-9.3l9-9.7l9-10.1l9-10.5l9-10.9l9-11.4l8.9-11.7" stroke="#000" stroke-opacity="0.6" stroke-width="0.8" fill="none"/><path d="M44.7 187.8l9 9l9 8.6l9 8.1l9 7.7l8.9 7.2l9 6.8l9 6.4l9 5.9l9 5.5l9 5.1l9 4.6l9 4.1l9 3.8l9 3.3l8.9 2.8l9 2.5l9 1.9l9 1.6l9 1.1l9 0.6l9 0.3l9-0.2l9-0.7l9-1.1l8.9-1.5l9-2l9-2.4l9-2.8l9-3.3l9-3.7l9-4.2l9-4.6l9-5l9-5.5l8.9-5.9l9-6.4l9-6.8l9-7.2l9-7.7l9-8.1l9-8.5l9-9l9-9.5l9-9.8l8.9-10.3l9-10.8l9-11.1l9-11.7l9-12l9-12.5l2-5.5l-9 13.1l-8.9 12.7l-9 12.3l-9 11.8l-9 11.3l-9 10.8l-9 10.4l-9 9.9l-9 9.5l-9 9l-9 8.5l-8.9 8.1l-9 7.6l-9 7.2l-9 6.7l-9 6.2l-9 5.8l-9 5.3l-9 4.8l-9 4.4l-9 3.9l-8.9 3.4l-9 3l-9 2.5l-9 2.1l-9 1.6l-9 1.1l-9 0.7l-9 0.2l-9-0.3l-9-0.7l-8.9-1.1l-9-1.7l-9-2.1l-9-2.6l-9-3l-9-3.5l-9-3.9l-9-4.5l-9-4.8l-9-5.4l-8.9-5.8l-9-6.3l-9-6.7l-9-7.2l-9-7.6l-9-8.2l-9-8.6l-9-9l-9-9.5z" fill="url(#g3)" fill-opacity="0.75"/><path d="M44.7 187.8l2-1.5m7 10.5l2-1m7 9.6l2-0.6m7 8.7l2-0.1m7 7.8l2 0.4m6.9 6.8l2.1 0.8m6.9 6l2.1 1.2m6.9 5.2l2.1 1.5m6.9 4.4l2.1 1.9m6.9 3.6l2 2.2m7 2.9l2 2.5m7 2.1l2 2.7m7 1.4l2 3.1m7 0.7l2 3.2m7 0.1l2 3.4m6.9-0.6l2.1 3.6m6.9-1.1l2.1 3.7m6.9-1.8l2.1 3.9m6.9-2.3l2.1 4m6.9-2.9l2 4m7-3.4l2 4.1m7-3.8l2 4.1m7-4.3l2 4.1m7-4.8l2 4.1m7-5.2l2 4.1m6.9-5.6l2.1 4m6.9-6l2.1 3.9m6.9-6.3l2.1 3.8m6.9-6.6l2.1 3.6m6.9-6.9l2 3.5m7-7.2l2 3.3m7-7.5l2 3.1m7-7.7l2 2.9m7-7.9l2 2.6m7-8.1l2 2.3m6.9-8.2l2.1 2m6.9-8.4l2.1 1.7m6.9-8.5l2.1 1.3m6.9-8.5l2.1 0.9m6.9-8.6l2 0.5m7-8.6l2 0.1m7-8.6l2-0.4m7-8.6l2-0.9m7-8.6l2-1.3m7-8.5l2-1.9m6.9-8.4l2.1-2.4m6.9-8.4l2.1-2.9m6.9-8.2l2.1-3.6m6.9-8.1l2.1-4.2m6.9-7.8l2-4.9m7-7.6l2-5.5M44.7 187.8l9 9l9 8.6l9 8.1l9 7.7l8.9 7.2l9 6.8l9 6.4l9 5.9l9 5.5l9 5.1l9 4.6l9 4.1l9 3.8l9 3.3l8.9 2.8l9 2.5l9 1.9l9 1.6l9 1.1l9 0.6l9 0.3l9-0.2l9-0.7l9-1.1l8.9-1.5l9-2l9-2.4l9-2.8l9-3.3l9-3.7l9-4.2l9-4.6l9-5l9-5.5l8.9-5.9l9-6.4l9-6.8l9-7.2l9-7.7l9-8.1l9-8.5l9-9l9-9.5l9-9.8l8.9-10.3l9-10.8l9-11.1l9-11.7l9-12l9-12.5" stroke="#000" stroke-opacity="0.6" stroke-width="0.8" fill="none"/><path d="M46.7 186.3l9 9.5l9 9l9 8.6l9 8.2l9 7.6l9 7.2l9 6.7l9 6.3l8.9 5.8l9 5.4l9 4.8l9 4.5l9 3.9l9 3.5l9 3l9 2.6l9 2.1l9 1.7l8.9 1.1l9 0.7l9 0.3l9-0.2l9-0.7l9-1.1l9-1.6l9-2.1l9-2.5l9-3l8.9-3.4l9-3.9l9-4.4l9-4.8l9-5.3l9-5.8l9-6.2l9-6.7l9-7.2l9-7.6l8.9-8.1l9-8.5l9-9l9-9.5l9-9.9l9-10.4l9-10.8l9-11.3l9-11.8l9-12.3l8.9-12.7l9-13.1l2.1-4.5l-9 13.8l-9 13.3l-9 12.8l-9 12.3l-9 11.8l-9 11.3l-8.9 10.9l-9 10.4l-9 9.8l-9 9.4l-9 9l-9 8.4l-9 8l-9 7.4l-9 7l-9 6.5l-8.9 6l-9 5.5l-9 5.1l-9 4.6l-9 4l-9 3.6l-9 3.1l-9 2.7l-9 2.1l-9 1.7l-8.9 1.1l-9 0.7l-9 0.2l-9-0.2l-9-0.8l-9-1.3l-9-1.7l-9-2.2l-9-2.7l-9-3.2l-8.9-3.7l-9-4.1l-9-4.6l-9-5.2l-9-5.6l-9-6.1l-9-6.5l-9-7.1l-9-7.5l-9-8l-8.9-8.6l-9-9l-9-9.4l-9-10z" fill="url(#g4)" fill-opacity="0.75"/><path d="M46.7 186.3l2.1-0.9m6.9 10.4l2.1-0.4m6.9 9.4l2.1 0m6.9 8.6l2.1 0.4m6.9 7.8l2 0.8m7 6.8l2 1.2m7 6l2 1.5m7 5.2l2 1.9m7 4.4l2 2.1m6.9 3.7l2.1 2.4m6.9 3l2.1 2.6m6.9 2.2l2.1 3m6.9 1.5l2.1 3.1m6.9 0.8l2.1 3.3m6.9 0.2l2 3.5m7-0.5l2 3.7m7-1.1l2 3.8m7-1.7l2 3.9m7-2.2l2 3.9m6.9-2.8l2.1 4.1m6.9-3.4l2.1 4.2m6.9-3.9l2.1 4.1m6.9-4.3l2.1 4.1m6.9-4.8l2.1 4.1m6.9-5.2l2 4.1m7-5.7l2 4m7-6.1l2 4m7-6.5l2 3.8m7-6.8l2 3.7m6.9-7.1l2.1 3.5m6.9-7.4l2.1 3.4m6.9-7.8l2.1 3.2m6.9-8l2.1 2.9m6.9-8.2l2.1 2.7m6.9-8.5l2 2.5m7-8.7l2 2.2m7-8.9l2 1.9m7-9.1l2 1.7m7-9.3l2 1.3m6.9-9.4l2.1 1m6.9-9.5l2.1 0.5m6.9-9.5l2.1 0.1m6.9-9.6l2.1-0.2m6.9-9.7l2.1-0.7m6.9-9.7l2-1.2m7-9.6l2-1.7m7-9.6l2-2.2m7-9.6l2-2.7m7-9.6l2-3.2m6.9-9.5l2.1-3.8m6.9-9.3l2.1-4.5M46.7 186.3l9 9.5l9 9l9 8.6l9 8.2l9 7.6l9 7.2l9 6.7l9 6.3l8.9 5.8l9 5.4l9 4.8l9 4.5l9 3.9l9 3.5l9 3l9 2.6l9 2.1l9 1.7l8.9 1.1l9 0.7l9 0.3l9-0.2l9-0.7l9-1.1l9-1.6l9-2.1l9-2.5l9-3l8.9-3.4l9-3.9l9-4.4l9-4.8l9-5.3l9-5.8l9-6.2l9-6.7l9-7.2l9-7.6l8.9-8.1l9-8.5l9-9l9-9.5l9-9.9l9-10.4l9-10.8l9-11.3l9-11.8l9-12.3l8.9-12.7l9-13.1" stroke="#000" stroke-opacity="0.6" stroke-width="0.8" fill="none"/><path d="M48.8 185.4l9 10l9 9.4l9 9l8.9 8.6l9 8l9 7.5l9 7.1l9 6.5l9 6.1l9 5.6l9 5.2l9 4.6l9 4.1l8.9 3.7l9 3.2l9 2.7l9 2.2l9 1.7l9 1.3l9 0.8l9 0.2l9-0.2l9-0.7l8.9-1.1l9-1.7l9-2.1l9-2.7l9-3.1l9-3.6l9-4l9-4.6l9-5.1l9-5.5l8.9-6l9-6.5l9-7l9-7.4l9-8l9-8.4l9-9l9-9.4l9-9.8l9-10.4l8.9-10.9l9-11.3l9-11.8l9-12.3l9-12.8l9-13.3l9-13.8l2-3.3l-9 14.2l-8.9 13.8l-9 13.3l-9 12.8l-9 12.2l-9 11.8l-9 11.3l-9 10.7l-9 10.3l-9 9.7l-9 9.3l-8.9 8.7l-9 8.3l-9 7.7l-9 7.3l-9 6.7l-9 6.2l-9 5.8l-9 5.2l-9 4.7l-9 4.3l-8.9 3.7l-9 3.2l-9 2.7l-9 2.2l-9 1.7l-9 1.3l-9 0.7l-9 0.2l-9-0.3l-9-0.8l-8.9-1.4l-9-1.8l-9-2.3l-9-2.8l-9-3.3l-9-3.8l-9-4.3l-9-4.9l-9-5.3l-9-5.8l-8.9-6.4l-9-6.8l-9-7.3l-9-7.9l-9-8.3l-9-8.9l-9-9.3l-9-9.9l-9-10.3z" fill="url(#g5)" fill-opacity="0.75"/><path d="M48.8 185.4l2-0.2m7 10.2l2 0.1m7 9.3l2 0.6m7 8.4l2 0.9m6.9 7.7l2.1 1.2m6.9 6.8l2.1 1.5m6.9 6l2.1 1.9m6.9 5.2l2.1 2.1m6.9 4.4l2.1 2.4m6.9 3.7l2 2.7m7 2.9l2 2.9m7 2.3l2 3m7 1.6l2 3.3m7 0.8l2 3.5m6.9 0.2l2.1 3.6m6.9-0.4l2.1 3.7m6.9-1l2.1 3.8m6.9-1.6l2.1 3.9m6.9-2.2l2.1 4m6.9-2.7l2 4.1m7-3.3l2 4.1m7-3.9l2 4.2m7-4.4l2 4.2m7-4.9l2 4.2m6.9-5.3l2.1 4m6.9-5.7l2.1 4m6.9-6.1l2.1 3.9m6.9-6.6l2.1 3.9m6.9-7l2.1 3.8m6.9-7.4l2 3.7m7-7.7l2 3.4m7-8l2 3.3m7-8.4l2 3.2m7-8.7l2 2.9m6.9-8.9l2.1 2.7m6.9-9.2l2.1 2.5m6.9-9.5l2.1 2.2m6.9-9.6l2.1 1.9m6.9-9.9l2.1 1.6m6.9-10l2 1.3m7-10.3l2 1m7-10.4l2 0.7m7-10.5l2 0.2m7-10.6l2-0.1m6.9-10.8l2.1-0.5m6.9-10.8l2.1-1m6.9-10.8l2.1-1.4m6.9-10.9l2.1-1.9m6.9-10.9l2.1-2.4m6.9-10.9l2-2.9m7-10.9l2-3.3M48.8 185.4l9 10l9 9.4l9 9l8.9 8.6l9 8l9 7.5l9 7.1l9 6.5l9 6.1l9 5.6l9 5.2l9 4.6l9 4.1l8.9 3.7l9 3.2l9 2.7l9 2.2l9 1.7l9 1.3l9 0.8l9 0.2l9-0.2l9-0.7l8.9-1.1l9-1.7l9-2.1l9-2.7l9-3.1l9-3.6l9-4l9-4.6l9-5.1l9-5.5l8.9-6l9-6.5l9-7l9-7.4l9-8l9-8.4l9-9l9-9.4l9-9.8l9-10.4l8.9-10.9l9-11.3l9-11.8l9-12.3l9-12.8l9-13.3l9-13.8" stroke="#000" stroke-opacity="0.6" stroke-width="0.8" fill="none"/><path d="M50.8 185.2l9 10.3l9 9.9l9 9.3l9 8.9l9 8.3l9 7.9l9 7.3l9 6.8l8.9 6.4l9 5.8l9 5.3l9 4.9l9 4.3l9 3.8l9 3.3l9 2.8l9 2.3l9 1.8l8.9 1.4l9 0.8l9 0.3l9-0.2l9-0.7l9-1.3l9-1.7l9-2.2l9-2.7l9-3.2l8.9-3.7l9-4.3l9-4.7l9-5.2l9-5.8l9-6.2l9-6.7l9-7.3l9-7.7l9-8.3l8.9-8.7l9-9.3l9-9.7l9-10.3l9-10.7l9-11.3l9-11.8l9-12.2l9-12.8l9-13.3l8.9-13.8l9-14.2l2.1-2.3l-9 14.7l-9 14.2l-9 13.7l-9 13.2l-9 12.6l-9 12.1l-9 11.7l-8.9 11.1l-9 10.5l-9 10.1l-9 9.5l-9 9l-9 8.5l-9 8l-9 7.5l-9 6.9l-9 6.5l-8.9 5.9l-9 5.3l-9 4.9l-9 4.4l-9 3.8l-9 3.3l-9 2.8l-9 2.3l-9 1.7l-9 1.3l-8.9 0.7l-9 0.2l-9-0.3l-9-0.9l-9-1.3l-9-1.9l-9-2.4l-9-2.9l-9-3.4l-9-4l-8.9-4.5l-9-5l-9-5.5l-9-6l-9-6.5l-9-7.1l-9-7.6l-9-8.1l-9-8.6l-9-9.1l-8.9-9.7l-9-10.2l-9-10.7z" fill="url(#g6)" fill-opacity="0.75"/><path d="M50.8 185.2l2.1 0.3m6.9 10l2.1 0.7m6.9 9.2l2.1 1m6.9 8.3l2 1.4m7 7.5l2 1.6m7 6.7l2 1.9m7 6l2 2.1m7 5.2l2 2.4m7 4.4l2 2.7m6.9 3.7l2.1 2.8m6.9 3l2.1 3m6.9 2.3l2.1 3.2m6.9 1.7l2.1 3.3m6.9 1l2 3.5m7 0.3l2 3.7m7-0.4l2 3.8m7-1l2 3.9m7-1.6l2 4m7-2.2l2 4.1m6.9-2.7l2.1 4m6.9-3.2l2.1 4.1m6.9-3.8l2.1 4.1m6.9-4.3l2.1 4.1m6.9-4.8l2 4.1m7-5.4l2 4.1m7-5.8l2 4.1m7-6.3l2 4m7-6.7l2 3.9m7-7.1l2 3.8m6.9-7.5l2.1 3.7m6.9-8l2.1 3.6m6.9-8.3l2.1 3.4m6.9-8.6l2.1 3.3m6.9-9.1l2 3.2m7-9.4l2 2.9m7-9.6l2 2.7m7-10l2 2.5m7-10.2l2 2.2m7-10.5l2 2m6.9-10.7l2.1 1.7m6.9-11l2.1 1.5m6.9-11.2l2.1 1.1m6.9-11.4l2.1 0.9m6.9-11.6l2 0.5m7-11.8l2 0.1m7-11.9l2-0.2m7-12l2-0.6m7-12.2l2-1m7-12.3l2-1.4m6.9-12.4l2.1-1.8m6.9-12.4l2.1-2.3M50.8 185.2l9 10.3l9 9.9l9 9.3l9 8.9l9 8.3l9 7.9l9 7.3l9 6.8l8.9 6.4l9 5.8l9 5.3l9 4.9l9 4.3l9 3.8l9 3.3l9 2.8l9 2.3l9 1.8l8.9 1.4l9 0.8l9 0.3l9-0.2l9-0.7l9-1.3l9-1.7l9-2.2l9-2.7l9-3.2l8.9-3.7l9-4.3l9-4.7l9-5.2l9-5.8l9-6.2l9-6.7l9-7.3l9-7.7l9-8.3l8.9-8.7l9-9.3l9-9.7l9-10.3l9-10.7l9-11.3l9-11.8l9-12.2l9-12.8l9-13.3l8.9-13.8l9-14.2" stroke="#000" stroke-opacity="0.6" stroke-width="0.8" fill="none"/><path d="M52.9 185.5l9 10.7l9 10.2l8.9 9.7l9 9.1l9 8.6l9 8.1l9 7.6l9 7.1l9 6.5l9 6l9 5.5l9 5l8.9 4.5l9 4l9 3.4l9 2.9l9 2.4l9 1.9l9 1.3l9 0.9l9 0.3l9-0.2l8.9-0.7l9-1.3l9-1.7l9-2.3l9-2.8l9-3.3l9-3.8l9-4.4l9-4.9l9-5.3l8.9-5.9l9-6.5l9-6.9l9-7.5l9-8l9-8.5l9-9l9-9.5l9-10.1l9-10.5l8.9-11.1l9-11.7l9-12.1l9-12.6l9-13.2l9-13.7l9-14.2l9-14.7l2-1.2l-9 15.1l-9 14.5l-8.9 14.1l-9 13.5l-9 12.9l-9 12.5l-9 11.9l-9 11.3l-9 10.9l-9 10.3l-9 9.8l-9 9.2l-8.9 8.7l-9 8.2l-9 7.6l-9 7.1l-9 6.6l-9 6.1l-9 5.5l-9 5l-9 4.4l-9 4l-8.9 3.4l-9 2.8l-9 2.3l-9 1.8l-9 1.3l-9 0.7l-9 0.2l-9-0.3l-9-0.9l-9-1.4l-8.9-1.9l-9-2.5l-9-3l-9-3.5l-9-4.1l-9-4.6l-9-5.1l-9-5.6l-9-6.2l-9-6.7l-8.9-7.3l-9-7.8l-9-8.3l-9-8.8l-9-9.4l-9-9.9l-9-10.5l-9-10.9z" fill="url(#g7)" fill-opacity="0.75"/><path d="M52.9 185.5l2 1.1m7 9.6l2 1.3m7 8.9l2 1.6m6.9 8.1l2.1 1.8m6.9 7.3l2.1 2.1m6.9 6.5l2.1 2.3m6.9 5.8l2.1 2.5m6.9 5.1l2.1 2.7m6.9 4.4l2 2.9m7 3.6l2 3.1m7 2.9l2 3.3m7 2.2l2 3.4m7 1.6l2 3.5m6.9 1l2.1 3.6m6.9 0.4l2.1 3.7m6.9-0.3l2.1 3.8m6.9-0.9l2.1 3.9m6.9-1.5l2.1 4m6.9-2.1l2 4m7-2.7l2 4.1m7-3.2l2 4.1m7-3.8l2 4.1m7-4.3l2 4.1m6.9-4.8l2.1 4.1m6.9-5.4l2.1 4.1m6.9-5.8l2.1 4m6.9-6.3l2.1 4m6.9-6.8l2.1 4m6.9-7.3l2 3.9m7-7.7l2 3.7m7-8.1l2 3.7m7-8.6l2 3.6m7-8.9l2 3.4m6.9-9.3l2.1 3.2m6.9-9.7l2.1 3.1m6.9-10l2.1 2.9m6.9-10.4l2.1 2.8m6.9-10.8l2.1 2.6m6.9-11.1l2 2.4m7-11.4l2 2.2m7-11.7l2 1.9m7-12l2 1.7m7-12.2l2 1.3m6.9-12.4l2.1 1.1m6.9-12.8l2.1 0.9m6.9-13l2.1 0.5m6.9-13.1l2.1 0.2m6.9-13.4l2.1-0.1m6.9-13.6l2-0.5m7-13.7l2-0.8m7-13.9l2-1.2M52.9 185.5l9 10.7l9 10.2l8.9 9.7l9 9.1l9 8.6l9 8.1l9 7.6l9 7.1l9 6.5l9 6l9 5.5l9 5l8.9 4.5l9 4l9 3.4l9 2.9l9 2.4l9 1.9l9 1.3l9 0.9l9 0.3l9-0.2l8.9-0.7l9-1.3l9-1.7l9-2.3l9-2.8l9-3.3l9-3.8l9-4.4l9-4.9l9-5.3l8.9-5.9l9-6.5l9-6.9l9-7.5l9-8l9-8.5l9-9l9-9.5l9-10.1l9-10.5l8.9-11.1l9-11.7l9-12.1l9-12.6l9-13.2l9-13.7l9-14.2l9-14.7" stroke="#000" stroke-opacity="0.6" stroke-width="0.8" fill="none"/><path d="M54.9 186.6l9 10.9l9 10.5l9 9.9l9 9.4l9 8.8l9 8.3l9 7.8l8.9 7.3l9 6.7l9 6.2l9 5.6l9 5.1l9 4.6l9 4.1l9 3.5l9 3l9 2.5l8.9 1.9l9 1.4l9 0.9l9 0.3l9-0.2l9-0.7l9-1.3l9-1.8l9-2.3l9-2.8l8.9-3.4l9-4l9-4.4l9-5l9-5.5l9-6.1l9-6.6l9-7.1l9-7.6l9-8.2l8.9-8.7l9-9.2l9-9.8l9-10.3l9-10.9l9-11.3l9-11.9l9-12.5l9-12.9l9-13.5l8.9-14.1l9-14.5l9-15.1l2.1-0.2l-9 15.4l-9 14.9l-9 14.3l-9 13.8l-9 13.2l-9 12.7l-9 12.1l-8.9 11.6l-9 11l-9 10.5l-9 10l-9 9.4l-9 8.9l-9 8.3l-9 7.8l-9 7.3l-9 6.7l-8.9 6.1l-9 5.7l-9 5l-9 4.6l-9 4l-9 3.4l-9 2.9l-9 2.4l-9 1.8l-9 1.3l-8.9 0.7l-9 0.2l-9-0.3l-9-0.9l-9-1.4l-9-2l-9-2.5l-9-3.1l-9-3.6l-9-4.1l-8.9-4.7l-9-5.2l-9-5.8l-9-6.3l-9-6.9l-9-7.4l-9-7.9l-9-8.5l-9-9.1l-9-9.5l-8.9-10.1l-9-10.7l-9-11.2z" fill="url(#g8)" fill-opacity="0.75"/><path d="M54.9 186.6l2.1 1.6m6.9 9.3l2.1 1.9m6.9 8.6l2.1 2.1m6.9 7.8l2 2.3m7 7.1l2 2.4m7 6.4l2 2.7m7 5.6l2 2.9m7 4.9l2 3m6.9 4.3l2.1 3.1m6.9 3.6l2.1 3.3m6.9 2.9l2.1 3.4m6.9 2.2l2.1 3.6m6.9 1.5l2.1 3.7m6.9 0.9l2 3.8m7 0.3l2 3.8m7-0.3l2 3.9m7-0.9l2 4m7-1.5l2 4m6.9-2.1l2.1 4.1m6.9-2.7l2.1 4.1m6.9-3.2l2.1 4.1m6.9-3.8l2.1 4.1m6.9-4.3l2.1 4.1m6.9-4.8l2 4.1m7-5.4l2 4.1m7-5.9l2 4.1m7-6.4l2 4m7-6.8l2 3.9m6.9-7.3l2.1 3.9m6.9-7.9l2.1 3.9m6.9-8.3l2.1 3.7m6.9-8.7l2.1 3.7m6.9-9.2l2.1 3.5m6.9-9.6l2 3.5m7-10.1l2 3.4m7-10.5l2 3.2m7-10.8l2 3m7-11.2l2 2.9m6.9-11.6l2.1 2.7m6.9-11.9l2.1 2.5m6.9-12.3l2.1 2.3m6.9-12.6l2.1 2.1m6.9-13l2.1 2m6.9-13.3l2 1.7m7-13.6l2 1.5m7-14l2 1.3m7-14.2l2 1m7-14.5l2 0.7m6.9-14.8l2.1 0.5m6.9-15l2.1 0.1m6.9-15.2l2.1-0.2M54.9 186.6l9 10.9l9 10.5l9 9.9l9 9.4l9 8.8l9 8.3l9 7.8l8.9 7.3l9 6.7l9 6.2l9 5.6l9 5.1l9 4.6l9 4.1l9 3.5l9 3l9 2.5l8.9 1.9l9 1.4l9 0.9l9 0.3l9-0.2l9-0.7l9-1.3l9-1.8l9-2.3l9-2.8l8.9-3.4l9-4l9-4.4l9-5l9-5.5l9-6.1l9-6.6l9-7.1l9-7.6l9-8.2l8.9-8.7l9-9.2l9-9.8l9-10.3l9-10.9l9-11.3l9-11.9l9-12.5l9-12.9l9-13.5l8.9-14.1l9-14.5l9-15.1" stroke="#000" stroke-opacity="0.6" stroke-width="0.8" fill="none"/><path d="M57 188.2l9 11.2l9 10.7l8.9 10.1l9 9.5l9 9.1l9 8.5l9 7.9l9 7.4l9 6.9l9 6.3l9 5.8l9 5.2l8.9 4.7l9 4.1l9 3.6l9 3.1l9 2.5l9 2l9 1.4l9 0.9l9 0.3l9-0.2l8.9-0.7l9-1.3l9-1.8l9-2.4l9-2.9l9-3.4l9-4l9-4.6l9-5l9-5.7l8.9-6.1l9-6.7l9-7.3l9-7.8l9-8.3l9-8.9l9-9.4l9-10l9-10.5l9-11l8.9-11.6l9-12.1l9-12.7l9-13.2l9-13.8l9-14.3l9-14.9l9-15.4l2 1l-9 15.6l-9 15.1l-9 14.5l-8.9 13.9l-9 13.4l-9 12.9l-9 12.3l-9 11.8l-9 11.2l-9 10.6l-9 10.1l-9 9.6l-9 9l-8.9 8.4l-9 8l-9 7.3l-9 6.8l-9 6.3l-9 5.7l-9 5.1l-9 4.6l-9 4.1l-9 3.5l-8.9 2.9l-9 2.4l-9 1.8l-9 1.3l-9 0.8l-9 0.2l-9-0.4l-9-0.9l-9-1.4l-9-2.1l-8.9-2.5l-9-3.1l-9-3.7l-9-4.2l-9-4.8l-9-5.3l-9-5.8l-9-6.4l-9-7l-9-7.5l-8.9-8.1l-9-8.6l-9-9.2l-9-9.7l-9-10.2l-9-10.9l-9-11.3z" fill="url(#g9)" fill-opacity="0.75"/><path d="M57 188.2l2 2.3m7 8.9l2 2.4m7 8.3l2 2.6m6.9 7.5l2.1 2.7m6.9 6.8l2.1 2.9m6.9 6.2l2.1 3m6.9 5.5l2.1 3.1m6.9 4.8l2 3.3m7 4.1l2 3.4m7 3.5l2 3.5m7 2.8l2 3.6m7 2.2l2 3.6m7 1.6l2 3.7m6.9 1l2.1 3.8m6.9 0.3l2.1 3.9m6.9-0.3l2.1 4m6.9-0.9l2.1 4m6.9-1.5l2 4m7-2l2 4.1m7-2.7l2 4.1m7-3.2l2 4.1m7-3.8l2 4.2m7-4.4l2 4.2m6.9-4.9l2.1 4.1m6.9-5.4l2.1 4.1m6.9-5.9l2.1 4.1m6.9-6.5l2.1 4.1m6.9-7l2 4.1m7-7.5l2 4m7-8l2 3.9m7-8.5l2 3.9m7-8.9l2 3.8m7-9.5l2 3.8m6.9-9.9l2.1 3.6m6.9-10.3l2.1 3.5m6.9-10.8l2.1 3.5m6.9-11.3l2.1 3.3m6.9-11.6l2 3.2m7-12.1l2 3.1m7-12.5l2 2.9m7-12.9l2 2.8m7-13.3l2 2.7m7-13.7l2 2.5m6.9-14.1l2.1 2.3m6.9-14.4l2.1 2.1m6.9-14.8l2.1 1.9m6.9-15.1l2.1 1.7m6.9-15.5l2 1.6m7-15.9l2 1.4m7-16.3l2 1.2m7-16.6l2 1M57 188.2l9 11.2l9 10.7l8.9 10.1l9 9.5l9 9.1l9 8.5l9 7.9l9 7.4l9 6.9l9 6.3l9 5.8l9 5.2l8.9 4.7l9 4.1l9 3.6l9 3.1l9 2.5l9 2l9 1.4l9 0.9l9 0.3l9-0.2l8.9-0.7l9-1.3l9-1.8l9-2.4l9-2.9l9-3.4l9-4l9-4.6l9-5l9-5.7l8.9-6.1l9-6.7l9-7.3l9-7.8l9-8.3l9-8.9l9-9.4l9-10l9-10.5l9-11l8.9-11.6l9-12.1l9-12.7l9-13.2l9-13.8l9-14.3l9-14.9l9-15.4" stroke="#000" stroke-opacity="0.6" stroke-width="0.8" fill="none"/><path d="M59 190.5l9 11.3l9 10.9l9 10.2l9 9.7l9 9.2l9 8.6l8.9 8.1l9 7.5l9 7l9 6.4l9 5.8l9 5.3l9 4.8l9 4.2l9 3.7l9 3.1l8.9 2.5l9 2.1l9 1.4l9 0.9l9 0.4l9-0.2l9-0.8l9-1.3l9-1.8l9-2.4l8.9-2.9l9-3.5l9-4.1l9-4.6l9-5.1l9-5.7l9-6.3l9-6.8l9-7.3l9-8l8.9-8.4l9-9l9-9.6l9-10.1l9-10.6l9-11.2l9-11.8l9-12.3l9-12.9l9-13.4l8.9-13.9l9-14.5l9-15.1l9-15.6l2.1 2l-9 15.8l-9 15.2l-9 14.6l-9 14.1l-9 13.6l-9 12.9l-9 12.5l-9 11.8l-8.9 11.3l-9 10.8l-9 10.2l-9 9.6l-9 9.1l-9 8.5l-9 8l-9 7.4l-9 6.9l-9 6.3l-8.9 5.8l-9 5.2l-9 4.6l-9 4.1l-9 3.5l-9 3l-9 2.4l-9 1.9l-9 1.3l-9 0.7l-8.9 0.2l-9-0.4l-9-0.9l-9-1.4l-9-2.1l-9-2.6l-9-3.1l-9-3.7l-9-4.3l-9-4.8l-8.9-5.3l-9-6l-9-6.4l-9-7.1l-9-7.6l-9-8.1l-9-8.7l-9-9.3l-9-9.8l-9-10.3l-8.9-11l-9-11.4z" fill="url(#g10)" fill-opacity="0.75"/><path d="M59 190.5l2.1 2.9m6.9 8.4l2.1 3m6.9 7.9l2 3.1m7 7.1l2 3.2m7 6.5l2 3.3m7 5.9l2 3.4m7 5.2l2 3.5m6.9 4.6l2.1 3.5m6.9 4l2.1 3.6m6.9 3.4l2.1 3.7m6.9 2.7l2.1 3.7m6.9 2.1l2.1 3.9m6.9 1.4l2 3.9m7 0.9l2 3.9m7 0.3l2 4m7-0.3l2 4m7-0.9l2 4m6.9-1.5l2.1 4.1m6.9-2l2.1 4.1m6.9-2.7l2.1 4.1m6.9-3.2l2.1 4.1m6.9-3.7l2.1 4.1m6.9-4.3l2 4.1m7-4.9l2 4.2m7-5.5l2 4.2m7-6l2 4.1m7-6.5l2 4.1m6.9-7l2.1 4m6.9-7.5l2.1 4m6.9-8.1l2.1 4m6.9-8.6l2.1 4m6.9-9.1l2.1 3.9m6.9-9.6l2 3.8m7-10.1l2 3.8m7-10.6l2 3.7m7-11l2 3.6m7-11.6l2 3.6m6.9-12l2.1 3.5m6.9-12.5l2.1 3.4m6.9-13l2.1 3.4m6.9-13.5l2.1 3.3m6.9-13.9l2.1 3.1m6.9-14.3l2 3m7-14.8l2 3m7-15.3l2 2.8m7-15.7l2 2.8m7-16.2l2 2.6m6.9-16.5l2.1 2.4m6.9-16.9l2.1 2.3m6.9-17.4l2.1 2.2m6.9-17.8l2.1 2M59 190.5l9 11.3l9 10.9l9 10.2l9 9.7l9 9.2l9 8.6l8.9 8.1l9 7.5l9 7l9 6.4l9 5.8l9 5.3l9 4.8l9 4.2l9 3.7l9 3.1l8.9 2.5l9 2.1l9 1.4l9 0.9l9 0.4l9-0.2l9-0.8l9-1.3l9-1.8l9-2.4l8.9-2.9l9-3.5l9-4.1l9-4.6l9-5.1l9-5.7l9-6.3l9-6.8l9-7.3l9-8l8.9-8.4l9-9l9-9.6l9-10.1l9-10.6l9-11.2l9-11.8l9-12.3l9-12.9l9-13.4l8.9-13.9l9-14.5l9-15.1l9-15.6" stroke="#000" stroke-opacity="0.6" stroke-width="0.8" fill="none"/><path d="M61.1 193.4l9 11.4l8.9 11l9 10.3l9 9.8l9 9.3l9 8.7l9 8.1l9 7.6l9 7.1l9 6.4l9 6l8.9 5.3l9 4.8l9 4.3l9 3.7l9 3.1l9 2.6l9 2.1l9 1.4l9 0.9l9 0.4l8.9-0.2l9-0.7l9-1.3l9-1.9l9-2.4l9-3l9-3.5l9-4.1l9-4.6l9-5.2l8.9-5.8l9-6.3l9-6.9l9-7.4l9-8l9-8.5l9-9.1l9-9.6l9-10.2l9-10.8l8.9-11.3l9-11.8l9-12.5l9-12.9l9-13.6l9-14.1l9-14.6l9-15.2l9-15.8l2 3.1l-9 15.9l-9 15.2l-9 14.7l-8.9 14.2l-9 13.6l-9 13l-9 12.5l-9 11.9l-9 11.4l-9 10.8l-9 10.2l-9 9.7l-9 9.1l-8.9 8.6l-9 8l-9 7.5l-9 6.9l-9 6.3l-9 5.8l-9 5.2l-9 4.7l-9 4.1l-9 3.5l-8.9 3l-9 2.4l-9 1.9l-9 1.3l-9 0.7l-9 0.2l-9-0.3l-9-1l-9-1.4l-9-2.1l-8.9-2.6l-9-3.1l-9-3.7l-9-4.3l-9-4.9l-9-5.3l-9-6l-9-6.5l-9-7.1l-9-7.6l-8.9-8.2l-9-8.7l-9-9.3l-9-9.9l-9-10.4l-9-11l-9-11.5z" fill="url(#g11)" fill-opacity="0.75"/><path d="M61.1 193.4l2 3.5m7 7.9l2 3.6m6.9 7.4l2.1 3.6m6.9 6.7l2.1 3.7m6.9 6.1l2.1 3.8m6.9 5.5l2.1 3.8m6.9 4.9l2.1 3.8m6.9 4.3l2 3.9m7 3.7l2 3.9m7 3.2l2 3.9m7 2.5l2 4m7 2l2 4m6.9 1.3l2.1 4m6.9 0.8l2.1 4.1m6.9 0.2l2.1 4.1m6.9-0.4l2.1 4.1m6.9-1l2.1 4.1m6.9-1.5l2 4.1m7-2l2 4.1m7-2.7l2 4.1m7-3.2l2 4.2m7-3.8l2 4.1m6.9-4.3l2.1 4.1m6.9-4.8l2.1 4.1m6.9-5.4l2.1 4.1m6.9-6l2.1 4.1m6.9-6.5l2.1 4.1m6.9-7.1l2 4.1m7-7.6l2 4.1m7-8.2l2 4.1m7-8.7l2 4m7-9.2l2 4m6.9-9.8l2.1 4m6.9-10.3l2.1 4m6.9-10.9l2.1 4m6.9-11.4l2.1 3.9m6.9-11.9l2.1 3.9m6.9-12.4l2 3.8m7-12.9l2 3.8m7-13.4l2 3.7m7-13.9l2 3.7m7-14.5l2 3.7m6.9-15l2.1 3.6m6.9-15.4l2.1 3.5m6.9-16l2.1 3.5m6.9-16.4l2.1 3.4m6.9-17l2.1 3.4m6.9-17.5l2 3.3m7-17.9l2 3.2m7-18.4l2 3.2m7-19l2 3.1M61.1 193.4l9 11.4l8.9 11l9 10.3l9 9.8l9 9.3l9 8.7l9 8.1l9 7.6l9 7.1l9 6.4l9 6l8.9 5.3l9 4.8l9 4.3l9 3.7l9 3.1l9 2.6l9 2.1l9 1.4l9 0.9l9 0.4l8.9-0.2l9-0.7l9-1.3l9-1.9l9-2.4l9-3l9-3.5l9-4.1l9-4.6l9-5.2l8.9-5.8l9-6.3l9-6.9l9-7.4l9-8l9-8.5l9-9.1l9-9.6l9-10.2l9-10.8l8.9-11.3l9-11.8l9-12.5l9-12.9l9-13.6l9-14.1l9-14.6l9-15.2l9-15.8" stroke="#000" stroke-opacity="0.6" stroke-width="0.8" fill="none"/><path d="M63.1 196.9l9 11.5l9 11l9 10.4l9 9.9l9 9.3l9 8.7l8.9 8.2l9 7.6l9 7.1l9 6.5l9 6l9 5.3l9 4.9l9 4.3l9 3.7l9 3.1l8.9 2.6l9 2.1l9 1.4l9 1l9 0.3l9-0.2l9-0.7l9-1.3l9-1.9l9-2.4l8.9-3l9-3.5l9-4.1l9-4.7l9-5.2l9-5.8l9-6.3l9-6.9l9-7.5l9-8l8.9-8.6l9-9.1l9-9.7l9-10.2l9-10.8l9-11.4l9-11.9l9-12.5l9-13l9-13.6l8.9-14.2l9-14.7l9-15.2l9-15.9l2.1 4.2l-9 15.8l-9 15.3l-9 14.7l-9 14.2l-9 13.6l-9 13l-9 12.5l-9 11.9l-9 11.3l-8.9 10.8l-9 10.3l-9 9.7l-9 9.1l-9 8.6l-9 8l-9 7.4l-9 6.9l-9 6.3l-9 5.8l-8.9 5.2l-9 4.7l-9 4.1l-9 3.5l-9 3l-9 2.4l-9 1.9l-9 1.3l-9 0.8l-9 0.2l-8.9-0.4l-9-0.9l-9-1.5l-9-2l-9-2.6l-9-3.2l-9-3.7l-9-4.3l-9-4.8l-9-5.4l-8.9-6l-9-6.5l-9-7l-9-7.6l-9-8.2l-9-8.8l-9-9.3l-9-9.8l-9-10.4l-9-11l-8.9-11.5z" fill="url(#g12)" fill-opacity="0.75"/><path d="M63.1 196.9l2.1 4.2m6.9 7.3l2 4.2m7 6.8l2 4.2m7 6.2l2 4.2m7 5.7l2 4.1m7 5.2l2 4.1m7 4.6l2 4.2m6.9 4l2.1 4.2m6.9 3.4l2.1 4.2m6.9 2.9l2.1 4.1m6.9 2.4l2.1 4.1m6.9 1.9l2 4.1m7 1.2l2 4.2m7 0.7l2 4.1m7 0.2l2 4.1m7-0.4l2 4.1m7-1l2 4.2m6.9-1.6l2.1 4.2m6.9-2.1l2.1 4.1m6.9-2.7l2.1 4.2m6.9-3.2l2.1 4.1m6.9-3.8l2 4.2m7-4.4l2 4.2m7-4.9l2 4.1m7-5.4l2 4.1m7-6l2 4.1m7-6.5l2 4.1m6.9-7.1l2.1 4.1m6.9-7.6l2.1 4.1m6.9-8.2l2.1 4.1m6.9-8.8l2.1 4.1m6.9-9.3l2 4.1m7-9.9l2 4.1m7-10.4l2 4.1m7-11l2 4.1m7-11.6l2 4.2m7-12.2l2 4.2m6.9-12.8l2.1 4.2m6.9-13.3l2.1 4.2m6.9-13.9l2.1 4.2m6.9-14.4l2.1 4.1m6.9-14.9l2 4.1m7-15.5l2 4.2m7-16.1l2 4.2m7-16.7l2 4.2m7-17.2l2 4.2m7-17.8l2 4.2m6.9-18.4l2.1 4.2m6.9-18.9l2.1 4.2m6.9-19.4l2.1 4.1m6.9-20l2.1 4.2M63.1 196.9l9 11.5l9 11l9 10.4l9 9.9l9 9.3l9 8.7l8.9 8.2l9 7.6l9 7.1l9 6.5l9 6l9 5.3l9 4.9l9 4.3l9 3.7l9 3.1l8.9 2.6l9 2.1l9 1.4l9 1l9 0.3l9-0.2l9-0.7l9-1.3l9-1.9l9-2.4l8.9-3l9-3.5l9-4.1l9-4.7l9-5.2l9-5.8l9-6.3l9-6.9l9-7.5l9-8l8.9-8.6l9-9.1l9-9.7l9-10.2l9-10.8l9-11.4l9-11.9l9-12.5l9-13l9-13.6l8.9-14.2l9-14.7l9-15.2l9-15.9" stroke="#000" stroke-opacity="0.6" stroke-width="0.8" fill="none"/><path d="M65.2 201.1l8.9 11.5l9 11l9 10.4l9 9.8l9 9.3l9 8.8l9 8.2l9 7.6l9 7l9 6.5l8.9 6l9 5.4l9 4.8l9 4.3l9 3.7l9 3.2l9 2.6l9 2l9 1.5l9 0.9l8.9 0.4l9-0.2l9-0.8l9-1.3l9-1.9l9-2.4l9-3l9-3.5l9-4.1l9-4.7l8.9-5.2l9-5.8l9-6.3l9-6.9l9-7.4l9-8l9-8.6l9-9.1l9-9.7l9-10.3l8.9-10.8l9-11.3l9-11.9l9-12.5l9-13l9-13.6l9-14.2l9-14.7l9-15.3l9-15.8l2 5.3l-9 15.7l-9 15.2l-9 14.6l-9 14.1l-8.9 13.5l-9 13l-9 12.4l-9 11.9l-9 11.3l-9 10.7l-9 10.2l-9 9.7l-9 9.1l-9 8.5l-8.9 7.9l-9 7.5l-9 6.8l-9 6.3l-9 5.8l-9 5.2l-9 4.6l-9 4.1l-9 3.5l-9 3l-8.9 2.4l-9 1.9l-9 1.3l-9 0.7l-9 0.2l-9-0.4l-9-0.9l-9-1.4l-9-2.1l-9-2.6l-8.9-3.1l-9-3.7l-9-4.2l-9-4.9l-9-5.3l-9-5.9l-9-6.5l-9-7l-9-7.6l-9-8.2l-8.9-8.6l-9-9.3l-9-9.8l-9-10.4l-9-10.9l-9-11.5z" fill="url(#g13)" fill-opacity="0.75"/><path d="M65.2 201.1l2 4.7m6.9 6.8l2.1 4.7m6.9 6.3l2.1 4.6m6.9 5.8l2.1 4.6m6.9 5.2l2.1 4.6m6.9 4.7l2.1 4.6m6.9 4.2l2 4.4m7 3.8l2 4.4m7 3.2l2 4.4m7 2.6l2 4.4m7 2.1l2 4.4m6.9 1.6l2.1 4.3m6.9 1.1l2.1 4.2m6.9 0.6l2.1 4.3m6.9 0l2.1 4.2m6.9-0.5l2.1 4.2m6.9-1l2 4.1m7-1.5l2 4.1m7-2.1l2 4.2m7-2.7l2 4.1m7-3.2l2 4.1m6.9-3.7l2.1 4.1m6.9-4.3l2.1 4.1m6.9-4.9l2.1 4.2m6.9-5.5l2.1 4.2m6.9-6.1l2.1 4.2m6.9-6.6l2 4.2m7-7.2l2 4.2m7-7.7l2 4.2m7-8.3l2 4.2m7-8.9l2 4.3m6.9-9.5l2.1 4.3m6.9-10.1l2.1 4.3m6.9-10.6l2.1 4.3m6.9-11.2l2.1 4.4m6.9-11.8l2.1 4.3m6.9-12.3l2 4.4m7-13l2 4.5m7-13.6l2 4.5m7-14.2l2 4.5m7-14.8l2 4.6m6.9-15.4l2.1 4.7m6.9-16l2.1 4.7m6.9-16.6l2.1 4.7m6.9-17.2l2.1 4.8m6.9-17.8l2.1 4.8m6.9-18.4l2 4.9m7-19.1l2 5m7-19.7l2 5.1m7-20.4l2 5.2m7-21l2 5.3M65.2 201.1l8.9 11.5l9 11l9 10.4l9 9.8l9 9.3l9 8.8l9 8.2l9 7.6l9 7l9 6.5l8.9 6l9 5.4l9 4.8l9 4.3l9 3.7l9 3.2l9 2.6l9 2l9 1.5l9 0.9l8.9 0.4l9-0.2l9-0.8l9-1.3l9-1.9l9-2.4l9-3l9-3.5l9-4.1l9-4.7l8.9-5.2l9-5.8l9-6.3l9-6.9l9-7.4l9-8l9-8.6l9-9.1l9-9.7l9-10.3l8.9-10.8l9-11.3l9-11.9l9-12.5l9-13l9-13.6l9-14.2l9-14.7l9-15.3l9-15.8" stroke="#000" stroke-opacity="0.6" stroke-width="0.8" fill="none"/><path d="M67.2 205.8l9 11.5l9 10.9l9 10.4l9 9.8l9 9.3l8.9 8.6l9 8.2l9 7.6l9 7l9 6.5l9 5.9l9 5.3l9 4.9l9 4.2l9 3.7l8.9 3.1l9 2.6l9 2.1l9 1.4l9 0.9l9 0.4l9-0.2l9-0.7l9-1.3l9-1.9l8.9-2.4l9-3l9-3.5l9-4.1l9-4.6l9-5.2l9-5.8l9-6.3l9-6.8l9-7.5l8.9-7.9l9-8.5l9-9.1l9-9.7l9-10.2l9-10.7l9-11.3l9-11.9l9-12.4l9-13l8.9-13.5l9-14.1l9-14.6l9-15.2l9-15.7l2.1 6.3l-9 15.6l-9 15l-9 14.5l-9 14l-9 13.4l-9 12.8l-9 12.3l-9 11.8l-9 11.2l-8.9 10.6l-9 10.1l-9 9.5l-9 9l-9 8.5l-9 7.9l-9 7.3l-9 6.8l-9 6.2l-9 5.7l-8.9 5.2l-9 4.6l-9 4l-9 3.5l-9 3l-9 2.4l-9 1.8l-9 1.3l-9 0.7l-9 0.2l-8.9-0.3l-9-0.9l-9-1.5l-9-2l-9-2.5l-9-3.1l-9-3.7l-9-4.2l-9-4.8l-9-5.3l-8.9-5.8l-9-6.4l-9-7l-9-7.5l-9-8l-9-8.7l-9-9.1l-9-9.7l-9-10.3l-9-10.8l-9-11.3z" fill="url(#g14)" fill-opacity="0.75"/><path d="M67.2 205.8l2 5.5m7 6l2 5.3m7 5.6l2 5.2m7 5.2l2 5.1m7 4.7l2 5m7 4.3l2 4.8m6.9 3.8l2.1 4.9m6.9 3.3l2.1 4.7m6.9 2.9l2.1 4.6m6.9 2.4l2.1 4.6m6.9 1.9l2.1 4.5m6.9 1.4l2 4.4m7 0.9l2 4.4m7 0.5l2 4.3m7-0.1l2 4.3m7-0.6l2 4.3m6.9-1.2l2.1 4.3m6.9-1.7l2.1 4.2m6.9-2.1l2.1 4.1m6.9-2.7l2.1 4.2m6.9-3.3l2.1 4.2m6.9-3.8l2 4.1m7-4.3l2 4.1m7-4.8l2 4.1m7-5.4l2 4.1m7-6l2 4.2m6.9-6.6l2.1 4.2m6.9-7.2l2.1 4.2m6.9-7.7l2.1 4.2m6.9-8.3l2.1 4.3m6.9-8.9l2.1 4.3m6.9-9.5l2 4.3m7-10.1l2 4.4m7-10.7l2 4.5m7-11.3l2 4.5m7-12l2 4.7m6.9-12.6l2.1 4.7m6.9-13.2l2.1 4.7m6.9-13.8l2.1 4.8m6.9-14.5l2.1 5m6.9-15.2l2.1 5.1m6.9-15.8l2 5.2m7-16.5l2 5.3m7-17.2l2 5.4m7-17.8l2 5.5m7-18.5l2 5.7m6.9-19.2l2.1 5.8m6.9-19.9l2.1 5.9m6.9-20.5l2.1 6m6.9-21.2l2.1 6.2m6.9-21.9l2.1 6.3M67.2 205.8l9 11.5l9 10.9l9 10.4l9 9.8l9 9.3l8.9 8.6l9 8.2l9 7.6l9 7l9 6.5l9 5.9l9 5.3l9 4.9l9 4.2l9 3.7l8.9 3.1l9 2.6l9 2.1l9 1.4l9 0.9l9 0.4l9-0.2l9-0.7l9-1.3l9-1.9l8.9-2.4l9-3l9-3.5l9-4.1l9-4.6l9-5.2l9-5.8l9-6.3l9-6.8l9-7.5l8.9-7.9l9-8.5l9-9.1l9-9.7l9-10.2l9-10.7l9-11.3l9-11.9l9-12.4l9-13l8.9-13.5l9-14.1l9-14.6l9-15.2l9-15.7" stroke="#000" stroke-opacity="0.6" stroke-width="0.8" fill="none"/><path d="M69.2 211.3l3.8 4.8l3.7 4.7l3.8 4.6l3.7 4.5l3.8 4.4l3.7 4.3l3.8 4.3l3.7 4.1l3.8 4l3.7 4l3.8 3.8l3.7 3.7l3.7 3.7l3.8 3.6l3.7 3.4l3.8 3.4l3.7 3.3l3.8 3.1l3.7 3.1l3.8 3l3.7 2.9l3.8 2.8l3.7 2.7l3.8 2.6l3.7 2.5l3.7 2.4l3.8 2.3l3.7 2.2l3.8 2.2l3.7 2l3.8 1.9l3.7 1.9l3.8 1.7l3.7 1.6l3.8 1.6l3.7 1.5l3.7 1.3l3.8 1.3l3.7 1.1l3.8 1.1l3.7 1l3.8 0.9l3.7 0.8l3.8 0.7l3.7 0.6l3.8 0.5l3.7 0.4l3.8 0.3l3.7 0.2l3.7 0.1l3.8 0l3.7 0l3.8-0.2l3.7-0.3l3.8-0.3l3.7-0.5l3.8-0.5l3.7-0.7l3.8-0.7l3.7-0.8l3.7-1l3.8-1l3.7-1.1l3.8-1.2l3.7-1.3l3.8-1.5l3.7-1.5l3.8-1.6l3.7-1.7l3.8-1.7l3.7-1.9l3.8-2l3.7-2.1l3.7-2.2l3.8-2.2l3.7-2.4l3.8-2.5l3.7-2.5l3.8-2.7l3.7-2.7l3.8-2.8l3.7-3l3.8-3l3.7-3.1l3.7-3.3l3.8-3.3l3.7-3.4l3.8-3.5l3.7-3.6l3.8-3.7l3.7-3.8l3.8-3.9l3.7-4l3.8-4.1l3.7-4.1l3.8-4.3l3.7-4.4l3.7-4.4l3.8-4.6l3.7-4.7l3.8-4.7l3.7-4.8l3.8-5l3.7-5l3.8-5.2l3.7-5.2l3.8-5.3l3.7-5.4l3.7-5.5l3.8-5.7l3.7-5.7l3.8-5.8l3.7-5.9l3.8-5.9l3.7-6.1l3.8-6.2l3.7-6.3l3.8-6.4l3.7-6.4l3.8-6.6" stroke="#0000ff" stroke-width="4.8" stroke-dasharray="5.6 4.5" stroke-dashoffset="5.4" fill="none"/><path d="M69.2 211.3l9 11.3l9 10.8l9 10.3l9 9.7l9 9.1l9 8.7l9 8l9 7.5l9 7l9 6.4l8.9 5.8l9 5.3l9 4.8l9 4.2l9 3.7l9 3.1l9 2.5l9 2l9 1.5l9 0.9l8.9 0.3l9-0.2l9-0.7l9-1.3l9-1.8l9-2.4l9-3l9-3.5l9-4l9-4.6l8.9-5.2l9-5.7l9-6.2l9-6.8l9-7.3l9-7.9l9-8.5l9-9l9-9.5l9-10.1l8.9-10.6l9-11.2l9-11.8l9-12.3l9-12.8l9-13.4l9-14l9-14.5l9-15l9-15.6l2 7.4l-9 15.4l-9 14.8l-9 14.3l-9 13.7l-9 13.2l-8.9 12.7l-9 12.1l-9 11.6l-9 11l-9 10.5l-9 9.9l-9 9.5l-9 8.8l-9 8.3l-9 7.8l-8.9 7.3l-9 6.7l-9 6.1l-9 5.6l-9 5.1l-9 4.5l-9 4l-9 3.5l-9 2.9l-9 2.3l-8.9 1.9l-9 1.2l-9 0.8l-9 0.2l-9-0.4l-9-0.9l-9-1.4l-9-2l-9-2.5l-9-3l-8.9-3.6l-9-4.2l-9-4.7l-9-5.2l-9-5.7l-9-6.3l-9-6.9l-9-7.4l-9-7.9l-9-8.5l-8.9-9l-9-9.6l-9-10.1l-9-10.6l-9-11.2z" fill="url(#g15)" fill-opacity="0.75"/><path d="M69.2 211.3l2.1 6m6.9 5.3l2.1 5.9m6.9 4.9l2.1 5.7m6.9 4.6l2.1 5.5m6.9 4.2l2.1 5.4m6.9 3.7l2 5.3m7 3.4l2 5.1m7 2.9l2 5m7 2.5l2 4.9m7 2.1l2 4.8m7 1.6l2 4.7m6.9 1.1l2.1 4.6m6.9 0.7l2.1 4.5m6.9 0.3l2.1 4.4m6.9-0.2l2.1 4.4m6.9-0.7l2 4.3m7-1.2l2 4.2m7-1.7l2 4.2m7-2.2l2 4.2m7-2.7l2 4.1m7-3.2l2 4.1m6.9-3.8l2.1 4.2m6.9-4.4l2.1 4.2m6.9-4.9l2.1 4.1m6.9-5.4l2.1 4.2m6.9-6l2 4.1m7-6.5l2 4.2m7-7.2l2 4.3m7-7.8l2 4.3m7-8.3l2 4.3m7-8.9l2 4.4m6.9-9.6l2.1 4.5m6.9-10.2l2.1 4.6m6.9-10.8l2.1 4.7m6.9-11.5l2.1 4.8m6.9-12.1l2 4.8m7-12.7l2 4.9m7-13.4l2 5.1m7-14.1l2 5.3m7-14.8l2 5.3m7-15.4l2 5.5m6.9-16.1l2.1 5.6m6.9-16.8l2.1 5.8m6.9-17.6l2.1 6m6.9-18.3l2.1 6.2m6.9-19l2 6.3m7-19.7l2 6.5m7-20.5l2 6.8m7-21.3l2 7m7-22l2 7.2m7-22.8l2 7.4M69.2 211.3l9 11.3l9 10.8l9 10.3l9 9.7l9 9.1l9 8.7l9 8l9 7.5l9 7l9 6.4l8.9 5.8l9 5.3l9 4.8l9 4.2l9 3.7l9 3.1l9 2.5l9 2l9 1.5l9 0.9l8.9 0.3l9-0.2l9-0.7l9-1.3l9-1.8l9-2.4l9-3l9-3.5l9-4l9-4.6l8.9-5.2l9-5.7l9-6.2l9-6.8l9-7.3l9-7.9l9-8.5l9-9l9-9.5l9-10.1l8.9-10.6l9-11.2l9-11.8l9-12.3l9-12.8l9-13.4l9-14l9-14.5l9-15l9-15.6" stroke="#000" stroke-opacity="0.6" stroke-width="0.8" fill="none"/><path d="M71.3 217.3l9 11.2l9 10.6l9 10.1l9 9.6l8.9 9l9 8.5l9 7.9l9 7.4l9 6.9l9 6.3l9 5.7l9 5.2l9 4.7l9 4.2l8.9 3.6l9 3l9 2.5l9 2l9 1.4l9 0.9l9 0.4l9-0.2l9-0.8l9-1.2l8.9-1.9l9-2.3l9-2.9l9-3.5l9-4l9-4.5l9-5.1l9-5.6l9-6.1l9-6.7l8.9-7.3l9-7.8l9-8.3l9-8.8l9-9.5l9-9.9l9-10.5l9-11l9-11.6l9-12.1l8.9-12.7l9-13.2l9-13.7l9-14.3l9-14.8l9-15.4l2 8.5l-8.9 15.1l-9 14.5l-9 14l-9 13.5l-9 12.9l-9 12.4l-9 11.9l-9 11.4l-9 10.8l-9 10.3l-8.9 9.7l-9 9.2l-9 8.7l-9 8.2l-9 7.6l-9 7.1l-9 6.6l-9 6l-9 5.5l-9 5l-8.9 4.5l-9 3.9l-9 3.4l-9 2.8l-9 2.3l-9 1.8l-9 1.3l-9 0.7l-9 0.2l-9-0.3l-8.9-0.9l-9-1.4l-9-1.9l-9-2.5l-9-3l-9-3.5l-9-4l-9-4.6l-9-5.1l-9-5.7l-8.9-6.1l-9-6.7l-9-7.3l-9-7.7l-9-8.3l-9-8.9l-9-9.3l-9-9.9l-9-10.4l-9-11z" fill="url(#g16)" fill-opacity="0.75"/><path d="M71.3 217.3l2 6.7m7 4.5l2 6.5m7 4.1l2 6.3m7 3.8l2 6.1m7 3.5l2 5.8m6.9 3.2l2.1 5.7m6.9 2.8l2.1 5.5m6.9 2.4l2.1 5.3m6.9 2.1l2.1 5.2m6.9 1.7l2.1 5m6.9 1.3l2 4.8m7 0.9l2 4.8m7 0.4l2 4.7m7 0l2 4.6m7-0.4l2 4.4m6.9-0.8l2.1 4.3m6.9-1.3l2.1 4.3m6.9-1.8l2.1 4.3m6.9-2.3l2.1 4.2m6.9-2.8l2.1 4.2m6.9-3.3l2 4.2m7-3.8l2 4.1m7-4.3l2 4.1m7-4.9l2 4.2m7-5.4l2 4.1m6.9-6l2.1 4.2m6.9-6.5l2.1 4.2m6.9-7.1l2.1 4.3m6.9-7.8l2.1 4.4m6.9-8.4l2.1 4.5m6.9-9l2 4.5m7-9.6l2 4.6m7-10.2l2 4.7m7-10.8l2 4.8m7-11.5l2 4.9m6.9-12.2l2.1 5.1m6.9-12.9l2.1 5.3m6.9-13.6l2.1 5.4m6.9-14.2l2.1 5.5m6.9-15l2.1 5.8m6.9-15.7l2 6m7-16.5l2 6.2m7-17.2l2 6.4m7-18l2 6.6m7-18.7l2 6.8m6.9-19.5l2.1 7.1m6.9-20.3l2.1 7.4m6.9-21.1l2.1 7.6m6.9-21.9l2.1 7.9m6.9-22.7l2.1 8.2m6.9-23.6l2 8.5M71.3 217.3l9 11.2l9 10.6l9 10.1l9 9.6l8.9 9l9 8.5l9 7.9l9 7.4l9 6.9l9 6.3l9 5.7l9 5.2l9 4.7l9 4.2l8.9 3.6l9 3l9 2.5l9 2l9 1.4l9 0.9l9 0.4l9-0.2l9-0.8l9-1.2l8.9-1.9l9-2.3l9-2.9l9-3.5l9-4l9-4.5l9-5.1l9-5.6l9-6.1l9-6.7l8.9-7.3l9-7.8l9-8.3l9-8.8l9-9.5l9-9.9l9-10.5l9-11l9-11.6l9-12.1l8.9-12.7l9-13.2l9-13.7l9-14.3l9-14.8l9-15.4" stroke="#000" stroke-opacity="0.6" stroke-width="0.8" fill="none"/><path d="M73.3 224l9 11l9 10.4l9 9.9l9 9.3l9 8.9l9 8.3l9 7.7l9 7.3l9 6.7l8.9 6.1l9 5.7l9 5.1l9 4.6l9 4l9 3.5l9 3l9 2.5l9 1.9l9 1.4l8.9 0.9l9 0.3l9-0.2l9-0.7l9-1.3l9-1.8l9-2.3l9-2.8l9-3.4l9-3.9l8.9-4.5l9-5l9-5.5l9-6l9-6.6l9-7.1l9-7.6l9-8.2l9-8.7l9-9.2l8.9-9.7l9-10.3l9-10.8l9-11.4l9-11.9l9-12.4l9-12.9l9-13.5l9-14l9-14.5l8.9-15.1l2.1 9.6l-9 14.7l-9 14.1l-9 13.7l-9 13.1l-9 12.6l-9 12.1l-8.9 11.6l-9 11.1l-9 10.5l-9 10.1l-9 9.5l-9 9l-9 8.5l-9 7.9l-9 7.5l-9 6.9l-8.9 6.4l-9 5.9l-9 5.4l-9 4.8l-9 4.4l-9 3.8l-9 3.3l-9 2.8l-9 2.2l-9 1.8l-8.9 1.2l-9 0.7l-9 0.2l-9-0.3l-9-0.8l-9-1.4l-9-1.8l-9-2.4l-9-2.9l-9-3.4l-8.9-4l-9-4.4l-9-5l-9-5.5l-9-6l-9-6.5l-9-7.1l-9-7.6l-9-8l-9-8.6l-8.9-9.1l-9-9.7l-9-10.1l-9-10.7z" fill="url(#g17)" fill-opacity="0.75"/><path d="M73.3 224l2.1 7.3m6.9 3.7l2.1 7m6.9 3.4l2.1 6.7m6.9 3.2l2.1 6.5m6.9 2.8l2 6.3m7 2.6l2 6m7 2.3l2 5.7m7 2l2 5.6m7 1.7l2 5.4m7 1.3l2 5.2m6.9 0.9l2.1 5.1m6.9 0.6l2.1 4.9m6.9 0.2l2.1 4.8m6.9-0.2l2.1 4.6m6.9-0.6l2 4.6m7-1.1l2 4.5m7-1.5l2 4.4m7-1.9l2 4.3m7-2.4l2 4.2m7-2.8l2 4.2m6.9-3.3l2.1 4.1m6.9-3.8l2.1 4.1m6.9-4.3l2.1 4.1m6.9-4.8l2.1 4.1m6.9-5.4l2 4.2m7-6l2 4.2m7-6.5l2 4.3m7-7.1l2 4.3m7-7.7l2 4.4m7-8.3l2 4.5m6.9-9l2.1 4.6m6.9-9.6l2.1 4.8m6.9-10.3l2.1 4.9m6.9-10.9l2.1 5m6.9-11.6l2 5.2m7-12.3l2 5.4m7-13l2 5.5m7-13.7l2 5.8m7-14.5l2 6m7-15.2l2 6.2m6.9-15.9l2.1 6.4m6.9-16.7l2.1 6.6m6.9-17.4l2.1 6.9m6.9-18.3l2.1 7.2m6.9-19.1l2 7.5m7-19.9l2 7.8m7-20.7l2 8.1m7-21.6l2 8.5m7-22.5l2 8.8m7-23.3l2 9.2m6.9-24.3l2.1 9.6M73.3 224l9 11l9 10.4l9 9.9l9 9.3l9 8.9l9 8.3l9 7.7l9 7.3l9 6.7l8.9 6.1l9 5.7l9 5.1l9 4.6l9 4l9 3.5l9 3l9 2.5l9 1.9l9 1.4l8.9 0.9l9 0.3l9-0.2l9-0.7l9-1.3l9-1.8l9-2.3l9-2.8l9-3.4l9-3.9l8.9-4.5l9-5l9-5.5l9-6l9-6.6l9-7.1l9-7.6l9-8.2l9-8.7l9-9.2l8.9-9.7l9-10.3l9-10.8l9-11.4l9-11.9l9-12.4l9-12.9l9-13.5l9-14l9-14.5l8.9-15.1" stroke="#000" stroke-opacity="0.6" stroke-width="0.8" fill="none"/><path d="M75.4 231.3l9 10.7l9 10.1l9 9.7l8.9 9.1l9 8.6l9 8l9 7.6l9 7.1l9 6.5l9 6l9 5.5l9 5l9 4.4l8.9 4l9 3.4l9 2.9l9 2.4l9 1.8l9 1.4l9 0.8l9 0.3l9-0.2l9-0.7l8.9-1.2l9-1.8l9-2.2l9-2.8l9-3.3l9-3.8l9-4.4l9-4.8l9-5.4l9-5.9l8.9-6.4l9-6.9l9-7.5l9-7.9l9-8.5l9-9l9-9.5l9-10.1l9-10.5l9-11.1l8.9-11.6l9-12.1l9-12.6l9-13.1l9-13.7l9-14.1l9-14.7l2 10.6l-9 14.3l-8.9 13.7l-9 13.2l-9 12.8l-9 12.2l-9 11.7l-9 11.2l-9 10.8l-9 10.2l-9 9.7l-9 9.2l-8.9 8.8l-9 8.2l-9 7.7l-9 7.2l-9 6.8l-9 6.2l-9 5.7l-9 5.2l-9 4.7l-9 4.2l-8.9 3.7l-9 3.2l-9 2.8l-9 2.2l-9 1.7l-9 1.2l-9 0.7l-9 0.2l-9-0.3l-9-0.8l-8.9-1.3l-9-1.8l-9-2.3l-9-2.8l-9-3.3l-9-3.8l-9-4.4l-9-4.8l-9-5.3l-9-5.8l-8.9-6.3l-9-6.8l-9-7.3l-9-7.8l-9-8.4l-9-8.8l-9-9.3l-9-9.8l-9-10.3z" fill="url(#g18)" fill-opacity="0.75"/><path d="M75.4 231.3l2 8m7 2.7l2 7.6m7 2.5l2 7.3m7 2.4l2 6.9m6.9 2.2l2.1 6.6m6.9 2l2.1 6.4m6.9 1.6l2.1 6.2m6.9 1.4l2.1 5.9m6.9 1.2l2.1 5.6m6.9 0.9l2 5.4m7 0.6l2 5.2m7 0.3l2 5m7 0l2 4.8m7-0.4l2 4.8m6.9-0.8l2.1 4.6m6.9-1.2l2.1 4.5m6.9-1.6l2.1 4.4m6.9-2l2.1 4.3m6.9-2.5l2.1 4.3m6.9-2.9l2 4.2m7-3.4l2 4.2m7-3.9l2 4.2m7-4.4l2 4.2m7-4.9l2 4.2m6.9-5.4l2.1 4.2m6.9-6l2.1 4.3m6.9-6.5l2.1 4.3m6.9-7.1l2.1 4.3m6.9-7.6l2.1 4.4m6.9-8.2l2 4.5m7-8.9l2 4.7m7-9.5l2 4.8m7-10.2l2 5m7-10.9l2 5.2m6.9-11.6l2.1 5.4m6.9-12.3l2.1 5.5m6.9-13l2.1 5.8m6.9-13.7l2.1 6m6.9-14.5l2.1 6.3m6.9-15.3l2 6.5m7-16l2 6.8m7-16.9l2 7.2m7-17.7l2 7.5m7-18.6l2 7.8m6.9-19.4l2.1 8.2m6.9-20.3l2.1 8.6m6.9-21.2l2.1 9m6.9-22.1l2.1 9.3m6.9-23l2.1 9.8m6.9-23.9l2 10.2m7-24.9l2 10.6M75.4 231.3l9 10.7l9 10.1l9 9.7l8.9 9.1l9 8.6l9 8l9 7.6l9 7.1l9 6.5l9 6l9 5.5l9 5l9 4.4l8.9 4l9 3.4l9 2.9l9 2.4l9 1.8l9 1.4l9 0.8l9 0.3l9-0.2l9-0.7l8.9-1.2l9-1.8l9-2.2l9-2.8l9-3.3l9-3.8l9-4.4l9-4.8l9-5.4l9-5.9l8.9-6.4l9-6.9l9-7.5l9-7.9l9-8.5l9-9l9-9.5l9-10.1l9-10.5l9-11.1l8.9-11.6l9-12.1l9-12.6l9-13.1l9-13.7l9-14.1l9-14.7" stroke="#000" stroke-opacity="0.6" stroke-width="0.8" fill="none"/><path d="M77.4 239.3l9 10.3l9 9.8l9 9.3l9 8.8l9 8.4l9 7.8l9 7.3l9 6.8l8.9 6.3l9 5.8l9 5.3l9 4.8l9 4.4l9 3.8l9 3.3l9 2.8l9 2.3l9 1.8l8.9 1.3l9 0.8l9 0.3l9-0.2l9-0.7l9-1.2l9-1.7l9-2.2l9-2.8l9-3.2l8.9-3.7l9-4.2l9-4.7l9-5.2l9-5.7l9-6.2l9-6.8l9-7.2l9-7.7l9-8.2l8.9-8.8l9-9.2l9-9.7l9-10.2l9-10.8l9-11.2l9-11.7l9-12.2l9-12.8l9-13.2l8.9-13.7l9-14.3l2.1 11.7l-9 13.8l-9 13.2l-9 12.7l-9 12.3l-9 11.8l-9 11.3l-8.9 10.8l-9 10.3l-9 9.9l-9 9.3l-9 8.9l-9 8.4l-9 7.9l-9 7.5l-9 6.9l-9 6.5l-8.9 6l-9 5.5l-9 5.1l-9 4.5l-9 4.1l-9 3.5l-9 3.1l-9 2.7l-9 2.1l-9 1.6l-8.9 1.2l-9 0.7l-9 0.2l-9-0.3l-9-0.7l-9-1.3l-9-1.7l-9-2.2l-9-2.7l-9-3.2l-8.9-3.6l-9-4.1l-9-4.7l-9-5.1l-9-5.5l-9-6.1l-9-6.5l-9-7.1l-9-7.5l-9-8l-8.9-8.5l-9-8.9l-9-9.5l-9-9.9z" fill="url(#g19)" fill-opacity="0.75"/><path d="M77.4 239.3l2.1 8.5m6.9 1.8l2.1 8.1m6.9 1.7l2.1 7.8m6.9 1.5l2.1 7.4m6.9 1.4l2 7.1m7 1.3l2 6.7m7 1.1l2 6.4m7 0.9l2 6.2m7 0.6l2 5.9m6.9 0.4l2.1 5.7m6.9 0.1l2.1 5.4m6.9-0.1l2.1 5.2m6.9-0.4l2.1 5.1m6.9-0.7l2.1 4.8m6.9-1l2 4.6m7-1.3l2 4.5m7-1.7l2 4.4m7-2.1l2 4.3m7-2.5l2 4.2m6.9-2.9l2.1 4.2m6.9-3.4l2.1 4.1m6.9-3.8l2.1 4.1m6.9-4.3l2.1 4.1m6.9-4.8l2.1 4.1m6.9-5.3l2 4.1m7-5.8l2 4.2m7-6.4l2 4.3m7-7.1l2 4.4m7-7.6l2 4.5m6.9-8.2l2.1 4.7m6.9-8.9l2.1 4.8m6.9-9.5l2.1 5m6.9-10.2l2.1 5.1m6.9-10.8l2.1 5.3m6.9-11.5l2 5.5m7-12.3l2 5.8m7-13l2 6.1m7-13.8l2 6.3m7-14.5l2 6.6m6.9-15.4l2.1 7m6.9-16.2l2.1 7.3m6.9-17l2.1 7.7m6.9-17.9l2.1 8m6.9-18.8l2.1 8.5m6.9-19.7l2 8.9m7-20.6l2 9.3m7-21.5l2 9.7m7-22.5l2 10.2m7-23.4l2 10.7m6.9-24.4l2.1 11.2m6.9-25.5l2.1 11.7M77.4 239.3l9 10.3l9 9.8l9 9.3l9 8.8l9 8.4l9 7.8l9 7.3l9 6.8l8.9 6.3l9 5.8l9 5.3l9 4.8l9 4.4l9 3.8l9 3.3l9 2.8l9 2.3l9 1.8l8.9 1.3l9 0.8l9 0.3l9-0.2l9-0.7l9-1.2l9-1.7l9-2.2l9-2.8l9-3.2l8.9-3.7l9-4.2l9-4.7l9-5.2l9-5.7l9-6.2l9-6.8l9-7.2l9-7.7l9-8.2l8.9-8.8l9-9.2l9-9.7l9-10.2l9-10.8l9-11.2l9-11.7l9-12.2l9-12.8l9-13.2l8.9-13.7l9-14.3" stroke="#000" stroke-opacity="0.6" stroke-width="0.8" fill="none"/><path d="M79.5 247.8l9 9.9l9 9.5l9 8.9l8.9 8.5l9 8l9 7.5l9 7.1l9 6.5l9 6.1l9 5.5l9 5.1l9 4.7l9 4.1l8.9 3.6l9 3.2l9 2.7l9 2.2l9 1.7l9 1.3l9 0.7l9 0.3l9-0.2l9-0.7l8.9-1.2l9-1.6l9-2.1l9-2.7l9-3.1l9-3.5l9-4.1l9-4.5l9-5.1l9-5.5l8.9-6l9-6.5l9-6.9l9-7.5l9-7.9l9-8.4l9-8.9l9-9.3l9-9.9l9-10.3l8.9-10.8l9-11.3l9-11.8l9-12.3l9-12.7l9-13.2l9-13.8l2 12.8l-9 13.2l-9 12.6l-8.9 12.2l-9 11.7l-9 11.3l-9 10.8l-9 10.3l-9 9.9l-9 9.4l-9 9l-9 8.5l-9 8l-8.9 7.6l-9 7.1l-9 6.7l-9 6.2l-9 5.7l-9 5.3l-9 4.8l-9 4.4l-9 3.9l-9 3.4l-8.9 3l-9 2.5l-9 2l-9 1.6l-9 1.2l-9 0.6l-9 0.2l-9-0.2l-9-0.7l-9-1.2l-8.9-1.6l-9-2.1l-9-2.6l-9-3l-9-3.5l-9-3.9l-9-4.4l-9-4.9l-9-5.3l-9-5.8l-8.9-6.2l-9-6.7l-9-7.2l-9-7.6l-9-8.1l-9-8.5l-9-9l-9-9.5z" fill="url(#g20)" fill-opacity="0.75"/><path d="M79.5 247.8l2 9.2m7 0.7l2 8.8m7 0.7l2 8.3m7 0.6l2 7.9m6.9 0.6l2.1 7.5m6.9 0.5l2.1 7.1m6.9 0.4l2.1 6.8m6.9 0.3l2.1 6.4m6.9 0.1l2 6.1m7 0l2 5.8m7-0.3l2 5.6m7-0.5l2 5.4m7-0.7l2 5.1m7-1l2 4.9m6.9-1.3l2.1 4.8m6.9-1.6l2.1 4.6m6.9-1.9l2.1 4.5m6.9-2.3l2.1 4.4m6.9-2.7l2 4.3m7-3l2 4.2m7-3.5l2 4.2m7-3.9l2 4.1m7-4.3l2 4.1m7-4.8l2 4.2m6.9-5.4l2.1 4.2m6.9-5.8l2.1 4.2m6.9-6.3l2.1 4.3m6.9-7l2.1 4.5m6.9-7.6l2 4.6m7-8.1l2 4.7m7-8.8l2 4.9m7-9.4l2 5m7-10.1l2 5.3m7-10.8l2 5.5m6.9-11.5l2.1 5.8m6.9-12.3l2.1 6.1m6.9-13l2.1 6.3m6.9-13.8l2.1 6.7m6.9-14.6l2 7m7-15.4l2 7.4m7-16.3l2 7.8m7-17.1l2 8.1m7-18l2 8.6m7-18.9l2 9m6.9-19.8l2.1 9.5m6.9-20.8l2.1 10m6.9-21.8l2.1 10.5m6.9-22.8l2.1 11.1m6.9-23.8l2 11.6m7-24.8l2 12.2m7-26l2 12.8M79.5 247.8l9 9.9l9 9.5l9 8.9l8.9 8.5l9 8l9 7.5l9 7.1l9 6.5l9 6.1l9 5.5l9 5.1l9 4.7l9 4.1l8.9 3.6l9 3.2l9 2.7l9 2.2l9 1.7l9 1.3l9 0.7l9 0.3l9-0.2l9-0.7l8.9-1.2l9-1.6l9-2.1l9-2.7l9-3.1l9-3.5l9-4.1l9-4.5l9-5.1l9-5.5l8.9-6l9-6.5l9-6.9l9-7.5l9-7.9l9-8.4l9-8.9l9-9.3l9-9.9l9-10.3l8.9-10.8l9-11.3l9-11.8l9-12.3l9-12.7l9-13.2l9-13.8" stroke="#000" stroke-opacity="0.6" stroke-width="0.8" fill="none"/><path d="M81.5 257l9 9.5l9 9l9 8.5l9 8.1l9 7.6l9 7.2l9 6.7l8.9 6.2l9 5.8l9 5.3l9 4.9l9 4.4l9 3.9l9 3.5l9 3l9 2.6l9 2.1l8.9 1.6l9 1.2l9 0.7l9 0.2l9-0.2l9-0.6l9-1.2l9-1.6l9-2l9-2.5l8.9-3l9-3.4l9-3.9l9-4.4l9-4.8l9-5.3l9-5.7l9-6.2l9-6.7l9-7.1l8.9-7.6l9-8l9-8.5l9-9l9-9.4l9-9.9l9-10.3l9-10.8l9-11.3l9-11.7l8.9-12.2l9-12.6l9-13.2l2.1 13.9l-9 12.5l-9 11.9l-9 11.6l-9 11.1l-9 10.7l-9 10.3l-9 9.8l-8.9 9.4l-9 8.9l-9 8.5l-9 8.1l-9 7.6l-9 7.2l-9 6.8l-9 6.3l-9 5.9l-9 5.4l-8.9 5l-9 4.6l-9 4.2l-9 3.7l-9 3.2l-9 2.9l-9 2.4l-9 1.9l-9 1.5l-9 1.1l-8.9 0.7l-9 0.2l-9-0.2l-9-0.7l-9-1.1l-9-1.5l-9-2l-9-2.4l-9-2.8l-9-3.3l-8.9-3.7l-9-4.2l-9-4.6l-9-5l-9-5.5l-9-5.9l-9-6.3l-9-6.8l-9-7.2l-9-7.6l-8.9-8.1l-9-8.5l-9-8.9z" fill="url(#g21)" fill-opacity="0.75"/><path d="M81.5 257l2.1 9.9m6.9-0.4l2.1 9.3m6.9-0.3l2.1 8.8m6.9-0.3l2 8.4m7-0.3l2 7.9m7-0.3l2 7.5m7-0.3l2 7.1m7-0.4l2 6.7m6.9-0.5l2.1 6.4m6.9-0.6l2.1 6.1m6.9-0.8l2.1 5.8m6.9-0.9l2.1 5.5m6.9-1.1l2.1 5.3m6.9-1.4l2 5.1m7-1.6l2 4.9m7-1.9l2 4.7m7-2.1l2 4.5m7-2.4l2 4.4m6.9-2.8l2.1 4.3m6.9-3.1l2.1 4.2m6.9-3.5l2.1 4.2m6.9-4l2.1 4.2m6.9-4.4l2.1 4.2m6.9-4.8l2 4.1m7-5.3l2 4.2m7-5.8l2 4.3m7-6.3l2 4.4m7-6.9l2 4.5m6.9-7.5l2.1 4.6m6.9-8l2.1 4.8m6.9-8.7l2.1 5m6.9-9.4l2.1 5.2m6.9-10l2.1 5.4m6.9-10.7l2 5.7m7-11.4l2 6m7-12.2l2 6.3m7-13l2 6.7m7-13.8l2 7m6.9-14.6l2.1 7.4m6.9-15.4l2.1 7.8m6.9-16.3l2.1 8.2m6.9-17.2l2.1 8.7m6.9-18.1l2.1 9.2m6.9-19.1l2 9.7m7-20l2 10.2m7-21l2 10.7m7-22l2 11.3m7-23l2 11.9m6.9-24.1l2.1 12.5m6.9-25.1l2.1 13.2m6.9-26.4l2.1 13.9M81.5 257l9 9.5l9 9l9 8.5l9 8.1l9 7.6l9 7.2l9 6.7l8.9 6.2l9 5.8l9 5.3l9 4.9l9 4.4l9 3.9l9 3.5l9 3l9 2.6l9 2.1l8.9 1.6l9 1.2l9 0.7l9 0.2l9-0.2l9-0.6l9-1.2l9-1.6l9-2l9-2.5l8.9-3l9-3.4l9-3.9l9-4.4l9-4.8l9-5.3l9-5.7l9-6.2l9-6.7l9-7.1l8.9-7.6l9-8l9-8.5l9-9l9-9.4l9-9.9l9-10.3l9-10.8l9-11.3l9-11.7l8.9-12.2l9-12.6l9-13.2" stroke="#000" stroke-opacity="0.6" stroke-width="0.8" fill="none"/><path d="M83.6 266.9l9 8.9l9 8.5l8.9 8.1l9 7.6l9 7.2l9 6.8l9 6.3l9 5.9l9 5.5l9 5l9 4.6l9 4.2l8.9 3.7l9 3.3l9 2.8l9 2.4l9 2l9 1.5l9 1.1l9 0.7l9 0.2l9-0.2l8.9-0.7l9-1.1l9-1.5l9-1.9l9-2.4l9-2.9l9-3.2l9-3.7l9-4.2l9-4.6l8.9-5l9-5.4l9-5.9l9-6.3l9-6.8l9-7.2l9-7.6l9-8.1l9-8.5l9-8.9l8.9-9.4l9-9.8l9-10.3l9-10.7l9-11.1l9-11.6l9-11.9l9-12.5l2 15l-9 11.7l-9 11.2l-8.9 10.9l-9 10.4l-9 10.1l-9 9.6l-9 9.3l-9 8.8l-9 8.4l-9 8l-9 7.6l-9 7.1l-8.9 6.8l-9 6.4l-9 5.9l-9 5.6l-9 5.1l-9 4.7l-9 4.3l-9 3.9l-9 3.5l-9 3.1l-8.9 2.7l-9 2.2l-9 1.9l-9 1.4l-9 1.1l-9 0.6l-9 0.2l-9-0.2l-9-0.6l-9-1l-8.9-1.4l-9-1.8l-9-2.3l-9-2.6l-9-3.1l-9-3.4l-9-3.9l-9-4.3l-9-4.7l-9-5.1l-8.9-5.5l-9-5.9l-9-6.4l-9-6.7l-9-7.2l-9-7.5l-9-8l-9-8.4z" fill="url(#g22)" fill-opacity="0.75"/><path d="M83.6 266.9l2 10.4m7-1.5l2 9.9m7-1.4l2 9.4m6.9-1.3l2.1 8.8m6.9-1.2l2.1 8.4m6.9-1.2l2.1 7.9m6.9-1.1l2.1 7.5m6.9-1.2l2.1 7.1m6.9-1.2l2 6.7m7-1.2l2 6.3m7-1.3l2 6m7-1.4l2 5.7m7-1.5l2 5.4m6.9-1.7l2.1 5.1m6.9-1.8l2.1 4.9m6.9-2.1l2.1 4.7m6.9-2.3l2.1 4.6m6.9-2.6l2.1 4.4m6.9-2.9l2 4.3m7-3.2l2 4.2m7-3.5l2 4.1m7-3.9l2 4.1m7-4.3l2 4.1m6.9-4.8l2.1 4.2m6.9-5.3l2.1 4.2m6.9-5.7l2.1 4.3m6.9-6.2l2.1 4.3m6.9-6.7l2.1 4.5m6.9-7.4l2 4.7m7-7.9l2 4.8m7-8.5l2 5m7-9.2l2 5.3m7-9.9l2 5.6m6.9-10.6l2.1 5.9m6.9-11.3l2.1 6.2m6.9-12.1l2.1 6.5m6.9-12.8l2.1 6.9m6.9-13.7l2.1 7.3m6.9-14.5l2 7.7m7-15.3l2 8.2m7-16.3l2 8.7m7-17.2l2 9.2m7-18.1l2 9.7m6.9-19.1l2.1 10.3m6.9-20.1l2.1 10.8m6.9-21.1l2.1 11.5m6.9-22.2l2.1 12.1m6.9-23.2l2.1 12.8m6.9-24.4l2 13.5m7-25.4l2 14.2m7-26.7l2 15M83.6 266.9l9 8.9l9 8.5l8.9 8.1l9 7.6l9 7.2l9 6.8l9 6.3l9 5.9l9 5.5l9 5l9 4.6l9 4.2l8.9 3.7l9 3.3l9 2.8l9 2.4l9 2l9 1.5l9 1.1l9 0.7l9 0.2l9-0.2l8.9-0.7l9-1.1l9-1.5l9-1.9l9-2.4l9-2.9l9-3.2l9-3.7l9-4.2l9-4.6l8.9-5l9-5.4l9-5.9l9-6.3l9-6.8l9-7.2l9-7.6l9-8.1l9-8.5l9-8.9l8.9-9.4l9-9.8l9-10.3l9-10.7l9-11.1l9-11.6l9-11.9l9-12.5" stroke="#000" stroke-opacity="0.6" stroke-width="0.8" fill="none"/><path d="M85.6 277.3l9 8.4l9 8l9 7.5l9 7.2l9 6.7l9 6.4l9 5.9l8.9 5.5l9 5.1l9 4.7l9 4.3l9 3.9l9 3.4l9 3.1l9 2.6l9 2.3l9 1.8l8.9 1.4l9 1l9 0.6l9 0.2l9-0.2l9-0.6l9-1.1l9-1.4l9-1.9l9-2.2l8.9-2.7l9-3.1l9-3.5l9-3.9l9-4.3l9-4.7l9-5.1l9-5.6l9-5.9l9-6.4l8.9-6.8l9-7.1l9-7.6l9-8l9-8.4l9-8.8l9-9.3l9-9.6l9-10.1l9-10.4l8.9-10.9l9-11.2l9-11.7l2.1 16l-9 10.9l-9 10.4l-9 10.1l-9 9.8l-9 9.3l-9 9l-9 8.5l-9 8.2l-8.9 7.8l-9 7.5l-9 7l-9 6.7l-9 6.3l-9 5.9l-9 5.6l-9 5.1l-9 4.8l-9 4.4l-8.9 4l-9 3.7l-9 3.2l-9 2.9l-9 2.5l-9 2.2l-9 1.7l-9 1.4l-9 0.9l-9 0.6l-8.9 0.3l-9-0.2l-9-0.5l-9-0.9l-9-1.3l-9-1.7l-9-2.1l-9-2.4l-9-2.8l-9-3.2l-8.9-3.6l-9-4l-9-4.3l-9-4.7l-9-5.1l-9-5.5l-9-5.8l-9-6.3l-9-6.6l-9-7l-8.9-7.3l-9-7.8z" fill="url(#g23)" fill-opacity="0.75"/><path d="M85.6 277.3l2.1 11.1m6.9-2.7l2.1 10.5m6.9-2.5l2 9.8m7-2.3l2 9.3m7-2.1l2 8.7m7-2l2 8.3m7-1.9l2 7.7m7-1.8l2 7.3m6.9-1.8l2.1 6.9m6.9-1.8l2.1 6.5m6.9-1.8l2.1 6.1m6.9-1.8l2.1 5.8m6.9-1.9l2 5.5m7-2.1l2 5.3m7-2.2l2 5m7-2.4l2 4.8m7-2.5l2 4.6m7-2.8l2 4.5m6.9-3.1l2.1 4.4m6.9-3.4l2.1 4.3m6.9-3.7l2.1 4.2m6.9-4l2.1 4.2m6.9-4.4l2 4.1m7-4.7l2 4.1m7-5.2l2 4.3m7-5.7l2 4.3m7-6.2l2 4.5m7-6.7l2 4.5m6.9-7.2l2.1 4.7m6.9-7.8l2.1 4.9m6.9-8.4l2.1 5.2m6.9-9.1l2.1 5.4m6.9-9.7l2 5.7m7-10.4l2 6m7-11.1l2 6.3m7-11.9l2 6.8m7-12.7l2 7.1m7-13.5l2 7.6m6.9-14.4l2.1 8.1m6.9-15.2l2.1 8.5m6.9-16.1l2.1 9.1m6.9-17.1l2.1 9.6m6.9-18l2 10.2m7-19l2 10.8m7-20.1l2 11.6m7-21.2l2 12.2m7-22.3l2 13m7-23.4l2 13.6m6.9-24.5l2.1 14.4m6.9-25.6l2.1 15.2m6.9-26.9l2.1 16M85.6 277.3l9 8.4l9 8l9 7.5l9 7.2l9 6.7l9 6.4l9 5.9l8.9 5.5l9 5.1l9 4.7l9 4.3l9 3.9l9 3.4l9 3.1l9 2.6l9 2.3l9 1.8l8.9 1.4l9 1l9 0.6l9 0.2l9-0.2l9-0.6l9-1.1l9-1.4l9-1.9l9-2.2l8.9-2.7l9-3.1l9-3.5l9-3.9l9-4.3l9-4.7l9-5.1l9-5.6l9-5.9l9-6.4l8.9-6.8l9-7.1l9-7.6l9-8l9-8.4l9-8.8l9-9.3l9-9.6l9-10.1l9-10.4l8.9-10.9l9-11.2l9-11.7" stroke="#000" stroke-opacity="0.6" stroke-width="0.8" fill="none"/><path d="M87.7 288.4l9 7.8l8.9 7.3l9 7l9 6.6l9 6.3l9 5.8l9 5.5l9 5.1l9 4.7l9 4.3l9 4l8.9 3.6l9 3.2l9 2.8l9 2.4l9 2.1l9 1.7l9 1.3l9 0.9l9 0.5l9 0.2l8.9-0.3l9-0.6l9-0.9l9-1.4l9-1.7l9-2.2l9-2.5l9-2.9l9-3.2l9-3.7l8.9-4l9-4.4l9-4.8l9-5.1l9-5.6l9-5.9l9-6.3l9-6.7l9-7l9-7.5l8.9-7.8l9-8.2l9-8.5l9-9l9-9.3l9-9.8l9-10.1l9-10.4l9-10.9l2 17.1l-9 10l-9 9.6l-9 9.2l-8.9 9l-9 8.5l-9 8.2l-9 7.9l-9 7.5l-9 7.2l-9 6.9l-9 6.4l-9 6.2l-9 5.8l-8.9 5.4l-9 5.1l-9 4.7l-9 4.4l-9 4.1l-9 3.7l-9 3.3l-9 3l-9 2.7l-9 2.3l-8.9 2l-9 1.6l-9 1.3l-9 0.9l-9 0.6l-9 0.2l-9-0.1l-9-0.5l-9-0.8l-9-1.2l-8.9-1.5l-9-1.8l-9-2.2l-9-2.6l-9-2.9l-9-3.2l-9-3.6l-9-4l-9-4.3l-9-4.6l-8.9-5l-9-5.3l-9-5.7l-9-6l-9-6.4l-9-6.7l-9-7.1z" fill="url(#g24)" fill-opacity="0.75"/><path d="M87.7 288.4l2 11.7m7-3.9l2 11m6.9-3.7l2.1 10.4m6.9-3.4l2.1 9.8m6.9-3.2l2.1 9.2m6.9-2.9l2.1 8.6m6.9-2.8l2.1 8.1m6.9-2.6l2 7.6m7-2.5l2 7.1m7-2.4l2 6.7m7-2.4l2 6.4m7-2.4l2 6m6.9-2.4l2.1 5.6m6.9-2.4l2.1 5.3m6.9-2.5l2.1 5.1m6.9-2.7l2.1 4.9m6.9-2.8l2.1 4.6m6.9-2.9l2 4.4m7-3.1l2 4.3m7-3.4l2 4.2m7-3.7l2 4.2m7-4l2 4.1m6.9-4.4l2.1 4.2m6.9-4.8l2.1 4.2m6.9-5.1l2.1 4.2m6.9-5.6l2.1 4.3m6.9-6l2.1 4.4m6.9-6.6l2 4.6m7-7.1l2 4.8m7-7.7l2 5m7-8.2l2 5.2m7-8.9l2 5.6m6.9-9.6l2.1 5.9m6.9-10.3l2.1 6.2m6.9-11l2.1 6.6m6.9-11.7l2.1 7m6.9-12.6l2.1 7.5m6.9-13.4l2 8m7-14.3l2 8.5m7-15.2l2 9m7-16l2 9.6m7-17.1l2 10.2m6.9-18l2.1 10.8m6.9-19l2.1 11.5m6.9-20l2.1 12.1m6.9-21.1l2.1 12.9m6.9-22.2l2.1 13.7m6.9-23.5l2 14.5m7-24.6l2 15.4m7-25.8l2 16.2m7-27.1l2 17.1M87.7 288.4l9 7.8l8.9 7.3l9 7l9 6.6l9 6.3l9 5.8l9 5.5l9 5.1l9 4.7l9 4.3l9 4l8.9 3.6l9 3.2l9 2.8l9 2.4l9 2.1l9 1.7l9 1.3l9 0.9l9 0.5l9 0.2l8.9-0.3l9-0.6l9-0.9l9-1.4l9-1.7l9-2.2l9-2.5l9-2.9l9-3.2l9-3.7l8.9-4l9-4.4l9-4.8l9-5.1l9-5.6l9-5.9l9-6.3l9-6.7l9-7l9-7.5l8.9-7.8l9-8.2l9-8.5l9-9l9-9.3l9-9.8l9-10.1l9-10.4l9-10.9" stroke="#000" stroke-opacity="0.6" stroke-width="0.8" fill="none"/><path d="M89.7 300.1l9 7.1l9 6.7l9 6.4l9 6l9 5.7l9 5.3l8.9 5l9 4.6l9 4.3l9 4l9 3.6l9 3.2l9 2.9l9 2.6l9 2.2l9 1.8l8.9 1.5l9 1.2l9 0.8l9 0.5l9 0.1l9-0.2l9-0.6l9-0.9l9-1.3l9-1.6l8.9-2l9-2.3l9-2.7l9-3l9-3.3l9-3.7l9-4.1l9-4.4l9-4.7l9-5.1l8.9-5.4l9-5.8l9-6.2l9-6.4l9-6.9l9-7.2l9-7.5l9-7.9l9-8.2l9-8.5l8.9-9l9-9.2l9-9.6l9-10l2.1 18.2l-9 9l-9 8.7l-9 8.3l-9 8.1l-9 7.7l-9 7.4l-9 7.1l-9 6.8l-8.9 6.5l-9 6.2l-9 5.8l-9 5.6l-9 5.2l-9 4.9l-9 4.6l-9 4.3l-9 4l-9 3.7l-8.9 3.3l-9 3.1l-9 2.7l-9 2.4l-9 2.2l-9 1.7l-9 1.5l-9 1.2l-9 0.9l-9 0.5l-8.9 0.2l-9 0l-9-0.4l-9-0.7l-9-1l-9-1.4l-9-1.6l-9-2l-9-2.2l-9-2.6l-8.9-2.9l-9-3.2l-9-3.5l-9-3.8l-9-4.2l-9-4.4l-9-4.8l-9-5.1l-9-5.4l-9-5.7l-8.9-6l-9-6.3z" fill="url(#g25)" fill-opacity="0.75"/><path d="M89.7 300.1l2.1 12.4m6.9-5.3l2.1 11.6m6.9-4.9l2 10.9m7-4.5l2 10.2m7-4.2l2 9.6m7-3.9l2 9m7-3.7l2 8.5m6.9-3.5l2.1 7.9m6.9-3.3l2.1 7.5m6.9-3.2l2.1 7m6.9-3l2.1 6.5m6.9-2.9l2.1 6.1m6.9-2.9l2 5.8m7-2.9l2 5.5m7-2.9l2 5.1m7-2.9l2 4.9m7-3.1l2 4.7m6.9-3.2l2.1 4.6m6.9-3.4l2.1 4.4m6.9-3.6l2.1 4.3m6.9-3.8l2.1 4.2m6.9-4.1l2.1 4.1m6.9-4.3l2 4.1m7-4.7l2 4.2m7-5.1l2 4.2m7-5.5l2 4.3m7-5.9l2 4.4m6.9-6.4l2.1 4.7m6.9-7l2.1 4.8m6.9-7.5l2.1 5.1m6.9-8.1l2.1 5.4m6.9-8.7l2.1 5.6m6.9-9.3l2 6m7-10.1l2 6.4m7-10.8l2 6.8m7-11.5l2 7.2m7-12.3l2 7.7m6.9-13.1l2.1 8.2m6.9-14l2.1 8.8m6.9-15l2.1 9.4m6.9-15.8l2.1 10m6.9-16.9l2.1 10.7m6.9-17.9l2 11.4m7-18.9l2 12.1m7-20l2 12.9m7-21.1l2 13.7m7-22.2l2 14.5m6.9-23.5l2.1 15.4m6.9-24.6l2.1 16.3m6.9-25.9l2.1 17.2m6.9-27.2l2.1 18.2M89.7 300.1l9 7.1l9 6.7l9 6.4l9 6l9 5.7l9 5.3l8.9 5l9 4.6l9 4.3l9 4l9 3.6l9 3.2l9 2.9l9 2.6l9 2.2l9 1.8l8.9 1.5l9 1.2l9 0.8l9 0.5l9 0.1l9-0.2l9-0.6l9-0.9l9-1.3l9-1.6l8.9-2l9-2.3l9-2.7l9-3l9-3.3l9-3.7l9-4.1l9-4.4l9-4.7l9-5.1l8.9-5.4l9-5.8l9-6.2l9-6.4l9-6.9l9-7.2l9-7.5l9-7.9l9-8.2l9-8.5l8.9-9l9-9.2l9-9.6l9-10" stroke="#000" stroke-opacity="0.6" stroke-width="0.8" fill="none"/><path d="M91.8 312.5l9 6.3l8.9 6l9 5.7l9 5.4l9 5.1l9 4.8l9 4.4l9 4.2l9 3.8l9 3.5l9 3.2l8.9 2.9l9 2.6l9 2.2l9 2l9 1.6l9 1.4l9 1l9 0.7l9 0.4l9 0l8.9-0.2l9-0.5l9-0.9l9-1.2l9-1.5l9-1.7l9-2.2l9-2.4l9-2.7l9-3.1l8.9-3.3l9-3.7l9-4l9-4.3l9-4.6l9-4.9l9-5.2l9-5.6l9-5.8l9-6.2l8.9-6.5l9-6.8l9-7.1l9-7.4l9-7.7l9-8.1l9-8.3l9-8.7l9-9l2 19.3l-9 7.9l-9 7.7l-9 7.3l-9 7.2l-8.9 6.8l-9 6.5l-9 6.3l-9 6l-9 5.8l-9 5.4l-9 5.2l-9 4.9l-9 4.7l-9 4.3l-8.9 4.1l-9 3.8l-9 3.6l-9 3.2l-9 3l-9 2.7l-9 2.5l-9 2.1l-9 1.9l-9 1.6l-8.9 1.4l-9 1l-9 0.8l-9 0.5l-9 0.3l-9-0.1l-9-0.3l-9-0.5l-9-0.9l-9-1.1l-8.9-1.4l-9-1.7l-9-2l-9-2.2l-9-2.5l-9-2.8l-9-3.1l-9-3.3l-9-3.6l-9-3.9l-8.9-4.1l-9-4.5l-9-4.7l-9-5l-9-5.2l-9-5.5z" fill="url(#g26)" fill-opacity="0.75"/><path d="M91.8 312.5l2 13m7-6.7l2 12.2m6.9-6.2l2.1 11.4m6.9-5.7l2.1 10.7m6.9-5.3l2.1 10m6.9-4.9l2.1 9.4m6.9-4.6l2 8.7m7-4.3l2 8.2m7-4l2 7.6m7-3.8l2 7.1m7-3.6l2 6.7m7-3.5l2 6.3m6.9-3.4l2.1 5.9m6.9-3.3l2.1 5.5m6.9-3.3l2.1 5.3m6.9-3.3l2.1 5m6.9-3.4l2 4.8m7-3.4l2 4.5m7-3.5l2 4.4m7-3.7l2 4.2m7-3.8l2 4.1m7-4.1l2 4.2m6.9-4.4l2.1 4.1m6.9-4.6l2.1 4.1m6.9-5l2.1 4.2m6.9-5.4l2.1 4.4m6.9-5.9l2 4.5m7-6.2l2 4.6m7-6.8l2 4.9m7-7.3l2 5.2m7-7.9l2 5.4m7-8.5l2 5.8m6.9-9.1l2.1 6.1m6.9-9.8l2.1 6.6m6.9-10.6l2.1 7m6.9-11.3l2.1 7.5m6.9-12.1l2 8m7-12.9l2 8.6m7-13.8l2 9.1m7-14.7l2 9.8m7-15.6l2 10.4m7-16.6l2 11.2m6.9-17.7l2.1 11.9m6.9-18.7l2.1 12.7m6.9-19.8l2.1 13.5m6.9-20.9l2.1 14.4m6.9-22.1l2 15.3m7-23.4l2 16.2m7-24.5l2 17.2m7-25.9l2 18.2m7-27.2l2 19.3M91.8 312.5l9 6.3l8.9 6l9 5.7l9 5.4l9 5.1l9 4.8l9 4.4l9 4.2l9 3.8l9 3.5l9 3.2l8.9 2.9l9 2.6l9 2.2l9 2l9 1.6l9 1.4l9 1l9 0.7l9 0.4l9 0l8.9-0.2l9-0.5l9-0.9l9-1.2l9-1.5l9-1.7l9-2.2l9-2.4l9-2.7l9-3.1l8.9-3.3l9-3.7l9-4l9-4.3l9-4.6l9-4.9l9-5.2l9-5.6l9-5.8l9-6.2l8.9-6.5l9-6.8l9-7.1l9-7.4l9-7.7l9-8.1l9-8.3l9-8.7l9-9" stroke="#000" stroke-opacity="0.6" stroke-width="0.8" fill="none"/><path d="M93.8 325.5l9 5.5l9 5.2l9 5l9 4.7l9 4.5l8.9 4.1l9 3.9l9 3.6l9 3.3l9 3.1l9 2.8l9 2.5l9 2.2l9 2l9 1.7l8.9 1.4l9 1.1l9 0.9l9 0.5l9 0.3l9 0.1l9-0.3l9-0.5l9-0.8l9-1l8.9-1.4l9-1.6l9-1.9l9-2.1l9-2.5l9-2.7l9-3l9-3.2l9-3.6l9-3.8l8.9-4.1l9-4.3l9-4.7l9-4.9l9-5.2l9-5.4l9-5.8l9-6l9-6.3l9-6.5l8.9-6.8l9-7.2l9-7.3l9-7.7l9-7.9l2.1 20.3l-9 6.8l-9 6.6l-9 6.3l-9 6.1l-9 5.9l-9 5.6l-9 5.5l-9 5.1l-9 5l-8.9 4.7l-9 4.4l-9 4.3l-9 3.9l-9 3.8l-9 3.5l-9 3.3l-9 3.1l-9 2.8l-9 2.6l-8.9 2.4l-9 2.1l-9 1.9l-9 1.6l-9 1.4l-9 1.2l-9 1l-9 0.7l-9 0.5l-9 0.2l-8.9 0l-9-0.2l-9-0.4l-9-0.7l-9-1l-9-1.1l-9-1.4l-9-1.6l-9-1.9l-9-2.1l-8.9-2.3l-9-2.6l-9-2.8l-9-3l-9-3.3l-9-3.5l-9-3.7l-9-4l-9-4.2l-9-4.5l-8.9-4.6z" fill="url(#g27)" fill-opacity="0.75"/><path d="M93.8 325.5l2.1 13.6m6.9-8.1l2 12.7m7-7.5l2 12m7-7l2 11.2m7-6.5l2 10.5m7-6l2 9.7m6.9-5.6l2.1 9.1m6.9-5.2l2.1 8.5m6.9-4.9l2.1 7.9m6.9-4.6l2.1 7.4m6.9-4.3l2.1 6.9m6.9-4.1l2 6.4m7-3.9l2 6m7-3.8l2 5.7m7-3.7l2 5.3m7-3.6l2 5m6.9-3.6l2.1 4.7m6.9-3.6l2.1 4.6m6.9-3.7l2.1 4.4m6.9-3.9l2.1 4.3m6.9-4l2.1 4.2m6.9-4.1l2 4.1m7-4.4l2 4.2m7-4.7l2 4.2m7-5l2 4.3m7-5.3l2 4.3m6.9-5.7l2.1 4.5m6.9-6.1l2.1 4.7m6.9-6.6l2.1 5m6.9-7.1l2.1 5.2m6.9-7.7l2.1 5.6m6.9-8.3l2 5.9m7-8.9l2 6.3m7-9.5l2 6.7m7-10.3l2 7.2m7-11l2 7.7m6.9-11.8l2.1 8.3m6.9-12.6l2.1 8.8m6.9-13.5l2.1 9.6m6.9-14.5l2.1 10.2m6.9-15.4l2.1 11m6.9-16.4l2 11.7m7-17.5l2 12.5m7-18.5l2 13.4m7-19.7l2 14.2m7-20.7l2 15.1m6.9-21.9l2.1 16m6.9-23.2l2.1 17.1m6.9-24.4l2.1 18.1m6.9-25.8l2.1 19.2m6.9-27.1l2.1 20.3M93.8 325.5l9 5.5l9 5.2l9 5l9 4.7l9 4.5l8.9 4.1l9 3.9l9 3.6l9 3.3l9 3.1l9 2.8l9 2.5l9 2.2l9 2l9 1.7l8.9 1.4l9 1.1l9 0.9l9 0.5l9 0.3l9 0.1l9-0.3l9-0.5l9-0.8l9-1l8.9-1.4l9-1.6l9-1.9l9-2.1l9-2.5l9-2.7l9-3l9-3.2l9-3.6l9-3.8l8.9-4.1l9-4.3l9-4.7l9-4.9l9-5.2l9-5.4l9-5.8l9-6l9-6.3l9-6.5l8.9-6.8l9-7.2l9-7.3l9-7.7l9-7.9" stroke="#000" stroke-opacity="0.6" stroke-width="0.8" fill="none"/><path d="M95.9 339.1l8.9 4.6l9 4.5l9 4.2l9 4l9 3.7l9 3.5l9 3.3l9 3l9 2.8l9 2.6l8.9 2.3l9 2.1l9 1.9l9 1.6l9 1.4l9 1.1l9 1l9 0.7l9 0.4l9 0.2l8.9 0l9-0.2l9-0.5l9-0.7l9-1l9-1.2l9-1.4l9-1.6l9-1.9l9-2.1l8.9-2.4l9-2.6l9-2.8l9-3.1l9-3.3l9-3.5l9-3.8l9-3.9l9-4.3l9-4.4l8.9-4.7l9-5l9-5.1l9-5.5l9-5.6l9-5.9l9-6.1l9-6.3l9-6.6l9-6.8l2 21.4l-9 5.6l-9 5.5l-9 5.2l-9 5l-8.9 4.9l-9 4.6l-9 4.5l-9 4.3l-9 4l-9 3.9l-9 3.7l-9 3.5l-9 3.3l-9 3.2l-9 2.9l-8.9 2.7l-9 2.6l-9 2.3l-9 2.2l-9 2l-9 1.8l-9 1.6l-9 1.4l-9 1.2l-9 1l-8.9 0.8l-9 0.7l-9 0.4l-9 0.3l-9 0l-9-0.1l-9-0.3l-9-0.5l-9-0.7l-8.9-0.9l-9-1.1l-9-1.3l-9-1.5l-9-1.6l-9-1.9l-9-2l-9-2.2l-9-2.5l-9-2.6l-8.9-2.8l-9-3l-9-3.2l-9-3.4l-9-3.5l-9-3.8z" fill="url(#g28)" fill-opacity="0.75"/><path d="M95.9 339.1l2 14.2m6.9-9.6l2.1 13.4m6.9-8.9l2.1 12.4m6.9-8.2l2.1 11.6m6.9-7.6l2.1 10.8m6.9-7.1l2.1 10.1m6.9-6.6l2 9.4m7-6.1l2 8.7m7-5.7l2 8.2m7-5.4l2 7.6m7-5l2 7m6.9-4.7l2.1 6.6m6.9-4.5l2.1 6.1m6.9-4.2l2.1 5.7m6.9-4.1l2.1 5.4m6.9-4l2.1 5.1m6.9-4l2 4.9m7-3.9l2 4.6m7-3.9l2 4.4m7-4l2 4.3m7-4.1l2 4.2m6.9-4.2l2.1 4.2m6.9-4.4l2.1 4.1m6.9-4.6l2.1 4.2m6.9-4.9l2.1 4.2m6.9-5.2l2 4.4m7-5.6l2 4.6m7-6l2 4.8m7-6.4l2 5m7-6.9l2 5.3m7-7.4l2 5.6m6.9-8l2.1 6m6.9-8.6l2.1 6.4m6.9-9.2l2.1 6.9m6.9-10l2.1 7.4m6.9-10.7l2 8m7-11.5l2 8.6m7-12.4l2 9.2m7-13.1l2 9.8m7-14.1l2 10.6m7-15l2 11.3m6.9-16l2.1 12.1m6.9-17.1l2.1 13.1m6.9-18.2l2.1 13.9m6.9-19.4l2.1 14.9m6.9-20.5l2.1 15.9m6.9-21.8l2 16.9m7-23l2 18m7-24.3l2 19.1m7-25.7l2 20.2m7-27l2 21.4M95.9 339.1l8.9 4.6l9 4.5l9 4.2l9 4l9 3.7l9 3.5l9 3.3l9 3l9 2.8l9 2.6l8.9 2.3l9 2.1l9 1.9l9 1.6l9 1.4l9 1.1l9 1l9 0.7l9 0.4l9 0.2l8.9 0l9-0.2l9-0.5l9-0.7l9-1l9-1.2l9-1.4l9-1.6l9-1.9l9-2.1l8.9-2.4l9-2.6l9-2.8l9-3.1l9-3.3l9-3.5l9-3.8l9-3.9l9-4.3l9-4.4l8.9-4.7l9-5l9-5.1l9-5.5l9-5.6l9-5.9l9-6.1l9-6.3l9-6.6l9-6.8" stroke="#000" stroke-opacity="0.6" stroke-width="0.8" fill="none"/><path d="M97.9 353.3l3.7 1.6l3.8 1.6l3.7 1.5l3.8 1.5l3.7 1.4l3.8 1.5l3.7 1.4l3.8 1.3l3.7 1.3l3.8 1.3l3.7 1.3l3.8 1.2l3.7 1.2l3.7 1.2l3.8 1.1l3.7 1.1l3.8 1l3.7 1.1l3.8 1l3.7 0.9l3.8 1l3.7 0.8l3.8 0.9l3.7 0.8l3.7 0.8l3.8 0.8l3.7 0.7l3.8 0.7l3.7 0.7l3.8 0.6l3.7 0.6l3.8 0.6l3.7 0.5l3.8 0.5l3.7 0.4l3.8 0.5l3.7 0.4l3.7 0.3l3.8 0.4l3.7 0.3l3.8 0.2l3.7 0.2l3.8 0.2l3.7 0.2l3.8 0.1l3.7 0.1l3.8 0.1l3.7 0l3.7 0l3.8 0l3.7-0.1l3.8-0.1l3.7-0.1l3.8-0.2l3.7-0.2l3.8-0.2l3.7-0.3l3.8-0.3l3.7-0.3l3.7-0.4l3.8-0.4l3.7-0.4l3.8-0.5l3.7-0.5l3.8-0.5l3.7-0.6l3.8-0.6l3.7-0.6l3.8-0.7l3.7-0.7l3.8-0.7l3.7-0.8l3.7-0.8l3.8-0.8l3.7-0.9l3.8-0.9l3.7-0.9l3.8-1l3.7-1l3.8-1l3.7-1.1l3.8-1.1l3.7-1.1l3.7-1.2l3.8-1.2l3.7-1.2l3.8-1.3l3.7-1.3l3.8-1.3l3.7-1.4l3.8-1.4l3.7-1.4l3.8-1.5l3.7-1.5l3.8-1.5l3.7-1.6l3.7-1.6l3.8-1.6l3.7-1.7l3.8-1.7l3.7-1.7l3.8-1.8l3.7-1.8l3.8-1.8l3.7-1.8l3.8-1.9l3.7-2l3.8-1.9l3.7-2l3.7-2.1l3.8-2l3.7-2.1l3.8-2.1l3.7-2.2l3.8-2.2l3.7-2.2l3.8-2.3l3.7-2.3l3.8-2.3l3.7-2.4" stroke="#000" stroke-width="4.8" fill="none" stroke-linejoin="round"/></g>
<g><path d="M247.7 927l-57.3-115.7M397.6 922.3l-57.3-115.7M69.2 873.9l449.6-14.3M190.4 811.3l0-265.7M340.3 806.6l0-265.7M40.6 749.7l449.5-14.3l57.3 115.7M40.6 683.2l449.5-14.3l57.3 115.7M40.6 616.8l449.5-14.3l57.3 115.7M518.8 859.6l0-265.6" stroke="#dcdcdc" stroke-width="1" fill="none"/><path d="M97.9 931.8l-57.3-115.7M40.6 550.4l449.5-14.3l57.3 115.7M547.4 917.5l-449.5 14.3" stroke="#666" stroke-width="0.9" fill="none"/><path d="M40.6 816.1l0-265.7" stroke="#444" stroke-width="0.9" fill="none"/><path d="M547.4 651.8l0 265.7" stroke="#444" stroke-width="0.9" fill="none"/><path d="M40.6 816.1l449.5-14.3" stroke="#aaa" stroke-width="0.9" fill="none"/><path d="M547.4 917.5l-57.3-115.7" stroke="#999" stroke-width="0.8" fill="none"/><path d="M40.6 816.1l-5-9M40.6 749.7l-5-9M40.6 683.2l-5-9M40.6 616.8l-5-9M40.6 550.4l-5-9M97.9 931.8l-11 0M69.2 873.9l-11 0M40.6 816.1l-11 0M97.9 931.8l3.5 7M247.7 927l3.5 7M397.6 922.3l3.5 7M547.4 917.5l3.5 7" stroke="#444" stroke-width="0.8" fill="none"/><path d="M40.6 683.2l3.7 3.9l3.8 3.7l3.7 3.8l3.8 3.6l3.7 3.6l3.8 3.5l3.7 3.4l3.8 3.4l3.7 3.3l3.8 3.2l3.7 3.2l3.8 3.1l3.7 3l3.7 3l3.8 2.9l3.7 2.8l3.8 2.8l3.7 2.7l3.8 2.6l3.7 2.6l3.8 2.5l3.7 2.4l3.8 2.4l3.7 2.3l3.7 2.3l3.8 2.1l3.7 2.1l3.8 2.1l3.7 1.9l3.8 1.9l3.7 1.9l3.8 1.8l3.7 1.7l3.8 1.6l3.7 1.6l3.7 1.5l3.8 1.4l3.7 1.4l3.8 1.3l3.7 1.3l3.8 1.1l3.7 1.1l3.8 1.1l3.7 1l3.8 0.9l3.7 0.8l3.8 0.8l3.7 0.7l3.7 0.7l3.8 0.5l3.7 0.5l3.8 0.5l3.7 0.4l3.8 0.3l3.7 0.2l3.8 0.2l3.7 0.1l3.8 0.1l3.7 0l3.7-0.1l3.8-0.2l3.7-0.2l3.8-0.3l3.7-0.3l3.8-0.5l3.7-0.4l3.8-0.6l3.7-0.6l3.8-0.7l3.7-0.7l3.8-0.9l3.7-0.8l3.7-1l3.8-1l3.7-1.1l3.8-1.1l3.7-1.3l3.8-1.2l3.7-1.4l3.8-1.4l3.7-1.5l3.8-1.5l3.7-1.6l3.7-1.7l3.8-1.8l3.7-1.8l3.8-1.9l3.7-1.9l3.8-2l3.7-2.1l3.8-2.1l3.7-2.3l3.8-2.2l3.7-2.4l3.8-2.4l3.7-2.5l3.7-2.5l3.8-2.6l3.7-2.7l3.8-2.7l3.7-2.9l3.8-2.8l3.7-3l3.8-3l3.7-3.1l3.8-3.1l3.7-3.2l3.8-3.3l3.7-3.3l3.7-3.4l3.8-3.5l3.7-3.5l3.8-3.6l3.7-3.7l3.8-3.8l3.7-3.8l3.8-3.8l3.7-4l3.8-4l3.7-4.1" stroke="#ff0000" stroke-width="4.5" stroke-dasharray="20 21" stroke-dashoffset="3" fill="none"/><path d="M40.6 683.2l9 9.1l9 8.7l9 8.4l9 7.9l9 7.6l8.9 7.1l9 6.8l9 6.4l9 6.1l9 5.6l9 5.3l9 4.9l9 4.4l9 4.2l8.9 3.7l9 3.3l9 3l9 2.6l9 2.2l9 1.8l9 1.4l9 1.1l9 0.7l9 0.3l8.9-0.1l9-0.5l9-0.9l9-1.2l9-1.6l9-2l9-2.4l9-2.8l9-3.2l9-3.5l8.9-3.9l9-4.3l9-4.7l9-5.1l9-5.4l9-5.9l9-6.2l9-6.6l9-7l9-7.3l9-7.8l8.9-8.1l9-8.5l9-8.9l9-9.3l9-9.7l2 17.4l-8.9 9.1l-9 8.8l-9 8.3l-9 8l-9 7.6l-9 7.2l-9 6.8l-9 6.4l-9 6.1l-9 5.6l-8.9 5.3l-9 4.9l-9 4.6l-9 4.1l-9 3.8l-9 3.3l-9 3l-9 2.6l-9 2.3l-9 1.8l-8.9 1.5l-9 1.1l-9 0.7l-9 0.3l-9-0.1l-9-0.4l-9-0.9l-9-1.2l-9-1.6l-9-2l-8.9-2.3l-9-2.8l-9-3.1l-9-3.5l-9-3.9l-9-4.3l-9-4.6l-9-5.1l-9-5.4l-9-5.8l-8.9-6.2l-9-6.6l-9-6.9l-9-7.4l-9-7.7l-9-8.1l-9-8.5l-9-8.8l-9-9.3l-9-9.6z" fill="url(#g29)" fill-opacity="0.75"/><path d="M40.6 683.2l2-9.8m7 18.9l2-9.3m7 18l2-8.7m7 17.1l2-8.3m7 16.2l2-7.7m7 15.3l2-7.2m6.9 14.3l2.1-6.6m6.9 13.4l2.1-6m6.9 12.4l2.1-5.5m6.9 11.6l2.1-5m6.9 10.6l2-4.4m7 9.7l2-3.9m7 8.8l2-3.4m7 7.8l2-2.7m7 6.9l2-2.3m6.9 6l2.1-1.7m6.9 5l2.1-1.1m6.9 4.1l2.1-0.6m6.9 3.2l2.1-0.1m6.9 2.3l2.1 0.5m6.9 1.3l2 1m7 0.4l2 1.6m7-0.5l2 2.1m7-1.4l2 2.6m7-2.3l2 3.2m6.9-3.3l2.1 3.7m6.9-4.2l2.1 4.3m6.9-5.2l2.1 4.9m6.9-6.1l2.1 5.4m6.9-7l2.1 5.9m6.9-7.9l2 6.4m7-8.8l2 7m7-9.8l2 7.5m7-10.7l2 8.1m7-11.6l2 8.6m6.9-12.5l2.1 9.2m6.9-13.5l2.1 9.7m6.9-14.4l2.1 10.3m6.9-15.4l2.1 10.8m6.9-16.2l2.1 11.3m6.9-17.2l2 11.9m7-18.1l2 12.5m7-19.1l2 13m7-20l2 13.6m7-20.9l2 14.1m7-21.9l2 14.7m6.9-22.8l2.1 15.2m6.9-23.7l2.1 15.7m6.9-24.6l2.1 16.3m6.9-25.6l2.1 16.8m6.9-26.5l2 17.4M40.6 683.2l9 9.1l9 8.7l9 8.4l9 7.9l9 7.6l8.9 7.1l9 6.8l9 6.4l9 6.1l9 5.6l9 5.3l9 4.9l9 4.4l9 4.2l8.9 3.7l9 3.3l9 3l9 2.6l9 2.2l9 1.8l9 1.4l9 1.1l9 0.7l9 0.3l8.9-0.1l9-0.5l9-0.9l9-1.2l9-1.6l9-2l9-2.4l9-2.8l9-3.2l9-3.5l8.9-3.9l9-4.3l9-4.7l9-5.1l9-5.4l9-5.9l9-6.2l9-6.6l9-7l9-7.3l9-7.8l8.9-8.1l9-8.5l9-8.9l9-9.3l9-9.7" stroke="#000" stroke-opacity="0.6" stroke-width="0.8" fill="none"/><path d="M42.6 673.4l9 9.6l9 9.3l9 8.8l9 8.5l9 8.1l9 7.7l9 7.4l9 6.9l9 6.6l8.9 6.2l9 5.8l9 5.4l9 5.1l9 4.6l9 4.3l9 3.9l9 3.5l9 3.1l9 2.8l8.9 2.3l9 2l9 1.6l9 1.2l9 0.9l9 0.4l9 0.1l9-0.3l9-0.7l9-1.1l8.9-1.5l9-1.8l9-2.3l9-2.6l9-3l9-3.3l9-3.8l9-4.1l9-4.6l9-4.9l8.9-5.3l9-5.6l9-6.1l9-6.4l9-6.8l9-7.2l9-7.6l9-8l9-8.3l9-8.8l8.9-9.1l2.1 15.5l-9 8.6l-9 8.3l-9 7.8l-9 7.5l-9 7.1l-8.9 6.7l-9 6.3l-9 6l-9 5.5l-9 5.2l-9 4.8l-9 4.4l-9 4l-9 3.7l-9 3.2l-8.9 2.9l-9 2.5l-9 2.1l-9 1.8l-9 1.3l-9 1l-9 0.6l-9 0.2l-9-0.2l-9-0.6l-8.9-0.9l-9-1.4l-9-1.7l-9-2.1l-9-2.4l-9-2.9l-9-3.2l-9-3.7l-9-4l-9-4.4l-8.9-4.7l-9-5.2l-9-5.5l-9-6l-9-6.3l-9-6.6l-9-7.1l-9-7.5l-9-7.8l-9-8.2l-8.9-8.6l-9-9l-9-9.4l-9-9.7l-9-10.1z" fill="url(#g30)" fill-opacity="0.75"/><path d="M42.6 673.4l2.1-9.3m6.9 18.9l2.1-8.8m6.9 18.1l2.1-8.4m6.9 17.2l2.1-7.8m6.9 16.3l2.1-7.3m6.9 15.4l2-6.8m7 14.5l2-6.3m7 13.7l2-5.9m7 12.8l2-5.3m7 11.9l2-4.8m6.9 11l2.1-4.4m6.9 10.2l2.1-3.9m6.9 9.3l2.1-3.3m6.9 8.4l2.1-2.9m6.9 7.5l2.1-2.3m6.9 6.6l2-1.9m7 5.8l2-1.4m7 4.9l2-0.9m7 4l2-0.3m7 3.1l2 0.1m6.9 2.2l2.1 0.7m6.9 1.3l2.1 1.1m6.9 0.5l2.1 1.6m6.9-0.4l2.1 2.1m6.9-1.2l2.1 2.6m6.9-2.2l2 3.1m7-3l2 3.6m7-3.9l2 4.1m7-4.8l2 4.6m7-5.7l2 5.1m6.9-6.6l2.1 5.6m6.9-7.4l2.1 6.1m6.9-8.4l2.1 6.6m6.9-9.2l2.1 7.1m6.9-10.1l2.1 7.6m6.9-10.9l2 8m7-11.8l2 8.6m7-12.7l2 9m7-13.6l2 9.6m7-14.5l2 10.1m6.9-15.4l2.1 10.6m6.9-16.2l2.1 11m6.9-17.1l2.1 11.6m6.9-18l2.1 12m6.9-18.8l2.1 12.5m6.9-19.7l2 13m7-20.6l2 13.5m7-21.5l2 14m7-22.3l2 14.5m7-23.3l2 15m6.9-24.1l2.1 15.5M42.6 673.4l9 9.6l9 9.3l9 8.8l9 8.5l9 8.1l9 7.7l9 7.4l9 6.9l9 6.6l8.9 6.2l9 5.8l9 5.4l9 5.1l9 4.6l9 4.3l9 3.9l9 3.5l9 3.1l9 2.8l8.9 2.3l9 2l9 1.6l9 1.2l9 0.9l9 0.4l9 0.1l9-0.3l9-0.7l9-1.1l8.9-1.5l9-1.8l9-2.3l9-2.6l9-3l9-3.3l9-3.8l9-4.1l9-4.6l9-4.9l8.9-5.3l9-5.6l9-6.1l9-6.4l9-6.8l9-7.2l9-7.6l9-8l9-8.3l9-8.8l8.9-9.1" stroke="#000" stroke-opacity="0.6" stroke-width="0.8" fill="none"/><path d="M44.7 664.1l9 10.1l9 9.7l9 9.4l9 9l8.9 8.6l9 8.2l9 7.8l9 7.5l9 7.1l9 6.6l9 6.3l9 6l9 5.5l9 5.2l8.9 4.7l9 4.4l9 4l9 3.7l9 3.2l9 2.9l9 2.4l9 2.1l9 1.7l9 1.4l8.9 0.9l9 0.6l9 0.2l9-0.2l9-0.6l9-1l9-1.3l9-1.8l9-2.1l9-2.5l8.9-2.9l9-3.2l9-3.7l9-4l9-4.4l9-4.8l9-5.2l9-5.5l9-6l9-6.3l8.9-6.7l9-7.1l9-7.5l9-7.8l9-8.3l9-8.6l2 13.9l-9 8.1l-8.9 7.8l-9 7.4l-9 7.1l-9 6.6l-9 6.3l-9 5.8l-9 5.5l-9 5.1l-9 4.8l-9 4.3l-8.9 4l-9 3.5l-9 3.2l-9 2.9l-9 2.4l-9 2l-9 1.7l-9 1.3l-9 0.9l-9 0.5l-8.9 0.2l-9-0.3l-9-0.6l-9-1l-9-1.4l-9-1.8l-9-2.2l-9-2.5l-9-2.9l-9-3.3l-8.9-3.7l-9-4.1l-9-4.5l-9-4.8l-9-5.2l-9-5.6l-9-6l-9-6.4l-9-6.7l-9-7.1l-8.9-7.6l-9-7.9l-9-8.2l-9-8.7l-9-9.1l-9-9.4l-9-9.8l-9-10.2l-9-10.6z" fill="url(#g31)" fill-opacity="0.75"/><path d="M44.7 664.1l2-8.6m7 18.7l2-8.1m7 17.8l2-7.6m7 17l2-7.2m7 16.2l2-6.8m6.9 15.4l2.1-6.3m6.9 14.5l2.1-5.8m6.9 13.6l2.1-5.4m6.9 12.9l2.1-5m6.9 12.1l2-4.5m7 11.1l2-4m7 10.3l2-3.6m7 9.6l2-3.2m7 8.7l2-2.7m7 7.9l2-2.3m6.9 7l2.1-1.8m6.9 6.2l2.1-1.4m6.9 5.4l2.1-0.9m6.9 4.6l2.1-0.5m6.9 3.7l2 0m7 2.9l2 0.4m7 2l2 0.9m7 1.2l2 1.3m7 0.4l2 1.8m7-0.4l2 2.2m6.9-1.3l2.1 2.7m6.9-2.1l2.1 3.1m6.9-2.9l2.1 3.5m6.9-3.7l2.1 4m6.9-4.6l2 4.4m7-5.4l2 4.9m7-6.2l2 5.3m7-7.1l2 5.8m7-7.9l2 6.2m7-8.7l2 6.7m6.9-9.6l2.1 7.2m6.9-10.4l2.1 7.5m6.9-11.2l2.1 8m6.9-12l2.1 8.5m6.9-12.9l2 8.9m7-13.7l2 9.4m7-14.6l2 9.8m7-15.3l2 10.2m7-16.2l2 10.7m7-17l2 11.2m6.9-17.9l2.1 11.6m6.9-18.7l2.1 12.1m6.9-19.6l2.1 12.5m6.9-20.3l2.1 12.9m6.9-21.2l2 13.4m7-22l2 13.9M44.7 664.1l9 10.1l9 9.7l9 9.4l9 9l8.9 8.6l9 8.2l9 7.8l9 7.5l9 7.1l9 6.6l9 6.3l9 6l9 5.5l9 5.2l8.9 4.7l9 4.4l9 4l9 3.7l9 3.2l9 2.9l9 2.4l9 2.1l9 1.7l9 1.4l8.9 0.9l9 0.6l9 0.2l9-0.2l9-0.6l9-1l9-1.3l9-1.8l9-2.1l9-2.5l8.9-2.9l9-3.2l9-3.7l9-4l9-4.4l9-4.8l9-5.2l9-5.5l9-6l9-6.3l8.9-6.7l9-7.1l9-7.5l9-7.8l9-8.3l9-8.6" stroke="#000" stroke-opacity="0.6" stroke-width="0.8" fill="none"/><path d="M46.7 655.5l9 10.6l9 10.2l9 9.8l9 9.4l9 9.1l9 8.7l9 8.2l9 7.9l8.9 7.6l9 7.1l9 6.7l9 6.4l9 6l9 5.6l9 5.2l9 4.8l9 4.5l9 4.1l8.9 3.7l9 3.3l9 2.9l9 2.5l9 2.2l9 1.8l9 1.4l9 1l9 0.6l9 0.3l8.9-0.2l9-0.5l9-0.9l9-1.3l9-1.7l9-2l9-2.4l9-2.9l9-3.2l9-3.5l8.9-4l9-4.3l9-4.8l9-5.1l9-5.5l9-5.8l9-6.3l9-6.6l9-7.1l9-7.4l8.9-7.8l9-8.1l2.1 12.3l-9 7.8l-9 7.4l-9 7l-9 6.6l-9 6.2l-9 5.9l-8.9 5.5l-9 5.1l-9 4.7l-9 4.3l-9 4l-9 3.5l-9 3.2l-9 2.8l-9 2.4l-9 2.1l-8.9 1.6l-9 1.3l-9 0.9l-9 0.5l-9 0.1l-9-0.3l-9-0.6l-9-1.1l-9-1.4l-9-1.8l-8.9-2.1l-9-2.6l-9-2.9l-9-3.3l-9-3.8l-9-4l-9-4.5l-9-4.9l-9-5.2l-9-5.6l-8.9-6l-9-6.4l-9-6.8l-9-7.1l-9-7.5l-9-8l-9-8.3l-9-8.6l-9-9.1l-9-9.4l-8.9-9.9l-9-10.2l-9-10.6l-9-11z" fill="url(#g32)" fill-opacity="0.75"/><path d="M46.7 655.5l2.1-7.6m6.9 18.2l2.1-7.2m6.9 17.4l2.1-6.8m6.9 16.6l2.1-6.4m6.9 15.8l2-5.9m7 15l2-5.6m7 14.3l2-5.2m7 13.4l2-4.8m7 12.7l2-4.4m6.9 12l2.1-4m6.9 11.1l2.1-3.6m6.9 10.3l2.1-3.2m6.9 9.6l2.1-2.8m6.9 8.8l2.1-2.4m6.9 8l2-2m7 7.2l2-1.6m7 6.4l2-1.2m7 5.7l2-0.8m7 4.9l2-0.4m6.9 4.1l2.1-0.1m6.9 3.4l2.1 0.4m6.9 2.5l2.1 0.8m6.9 1.7l2.1 1.2m6.9 1l2.1 1.6m6.9 0.2l2 1.9m7-0.5l2 2.3m7-1.3l2 2.7m7-2.1l2 3.2m7-2.9l2 3.5m6.9-3.7l2.1 4m6.9-4.5l2.1 4.4m6.9-5.3l2.1 4.8m6.9-6.1l2.1 5.2m6.9-6.9l2.1 5.6m6.9-7.6l2 6m7-8.4l2 6.3m7-9.2l2 6.8m7-10l2 7.2m7-10.7l2 7.5m6.9-11.5l2.1 8m6.9-12.3l2.1 8.3m6.9-13.1l2.1 8.8m6.9-13.9l2.1 9.2m6.9-14.7l2.1 9.6m6.9-15.4l2 9.9m7-16.2l2 10.3m7-16.9l2 10.7m7-17.8l2 11.2m7-18.6l2 11.6m6.9-19.4l2.1 12m6.9-20.1l2.1 12.3M46.7 655.5l9 10.6l9 10.2l9 9.8l9 9.4l9 9.1l9 8.7l9 8.2l9 7.9l8.9 7.6l9 7.1l9 6.7l9 6.4l9 6l9 5.6l9 5.2l9 4.8l9 4.5l9 4.1l8.9 3.7l9 3.3l9 2.9l9 2.5l9 2.2l9 1.8l9 1.4l9 1l9 0.6l9 0.3l8.9-0.2l9-0.5l9-0.9l9-1.3l9-1.7l9-2l9-2.4l9-2.9l9-3.2l9-3.5l8.9-4l9-4.3l9-4.8l9-5.1l9-5.5l9-5.8l9-6.3l9-6.6l9-7.1l9-7.4l8.9-7.8l9-8.1" stroke="#000" stroke-opacity="0.6" stroke-width="0.8" fill="none"/><path d="M48.8 647.9l9 11l9 10.6l9 10.2l8.9 9.9l9 9.4l9 9.1l9 8.6l9 8.3l9 8l9 7.5l9 7.1l9 6.8l9 6.4l8.9 6l9 5.6l9 5.2l9 4.9l9 4.5l9 4l9 3.8l9 3.3l9 2.9l9 2.6l8.9 2.1l9 1.8l9 1.4l9 1.1l9 0.6l9 0.3l9-0.1l9-0.5l9-0.9l9-1.3l8.9-1.6l9-2.1l9-2.4l9-2.8l9-3.2l9-3.5l9-4l9-4.3l9-4.7l9-5.1l8.9-5.5l9-5.9l9-6.2l9-6.6l9-7l9-7.4l9-7.8l2 11l-9 7.4l-8.9 7.1l-9 6.6l-9 6.3l-9 5.9l-9 5.5l-9 5.1l-9 4.8l-9 4.3l-9 4l-9 3.6l-8.9 3.2l-9 2.8l-9 2.5l-9 2.1l-9 1.6l-9 1.4l-9 0.9l-9 0.5l-9 0.2l-9-0.3l-8.9-0.6l-9-1l-9-1.4l-9-1.7l-9-2.2l-9-2.5l-9-2.9l-9-3.3l-9-3.6l-9-4.1l-8.9-4.4l-9-4.9l-9-5.2l-9-5.6l-9-5.9l-9-6.4l-9-6.7l-9-7.1l-9-7.5l-9-7.9l-8.9-8.3l-9-8.6l-9-9l-9-9.4l-9-9.8l-9-10.2l-9-10.6l-9-10.9l-9-11.3z" fill="url(#g33)" fill-opacity="0.75"/><path d="M48.8 647.9l2-6.4m7 17.4l2-6.1m7 16.7l2-5.8m7 16l2-5.4m6.9 15.3l2.1-5.1m6.9 14.5l2.1-4.7m6.9 13.8l2.1-4.4m6.9 13l2.1-4m6.9 12.3l2.1-3.7m6.9 11.7l2-3.4m7 10.9l2-3m7 10.1l2-2.6m7 9.4l2-2.3m7 8.7l2-2m6.9 8l2.1-1.6m6.9 7.2l2.1-1.3m6.9 6.5l2.1-0.9m6.9 5.8l2.1-0.6m6.9 5.1l2.1-0.2m6.9 4.2l2 0.2m7 3.6l2 0.5m7 2.8l2 0.8m7 2.1l2 1.2m7 1.4l2 1.5m6.9 0.6l2.1 1.9m6.9-0.1l2.1 2.3m6.9-0.9l2.1 2.6m6.9-1.5l2.1 2.9m6.9-2.3l2.1 3.3m6.9-3l2 3.6m7-3.7l2 4m7-4.5l2 4.3m7-5.2l2 4.7m7-6l2 5.1m6.9-6.7l2.1 5.3m6.9-7.4l2.1 5.8m6.9-8.2l2.1 6.1m6.9-8.9l2.1 6.4m6.9-9.6l2.1 6.8m6.9-10.3l2 7.1m7-11.1l2 7.5m7-11.8l2 7.8m7-12.5l2 8.2m7-13.3l2 8.5m6.9-14l2.1 8.9m6.9-14.8l2.1 9.3m6.9-15.5l2.1 9.6m6.9-16.2l2.1 9.9m6.9-16.9l2.1 10.3m6.9-17.7l2 10.6m7-18.4l2 11M48.8 647.9l9 11l9 10.6l9 10.2l8.9 9.9l9 9.4l9 9.1l9 8.6l9 8.3l9 8l9 7.5l9 7.1l9 6.8l9 6.4l8.9 6l9 5.6l9 5.2l9 4.9l9 4.5l9 4l9 3.8l9 3.3l9 2.9l9 2.6l8.9 2.1l9 1.8l9 1.4l9 1.1l9 0.6l9 0.3l9-0.1l9-0.5l9-0.9l9-1.3l8.9-1.6l9-2.1l9-2.4l9-2.8l9-3.2l9-3.5l9-4l9-4.3l9-4.7l9-5.1l8.9-5.5l9-5.9l9-6.2l9-6.6l9-7l9-7.4l9-7.8" stroke="#000" stroke-opacity="0.6" stroke-width="0.8" fill="none"/><path d="M50.8 641.5l9 11.3l9 10.9l9 10.6l9 10.2l9 9.8l9 9.4l9 9l9 8.6l8.9 8.3l9 7.9l9 7.5l9 7.1l9 6.7l9 6.4l9 5.9l9 5.6l9 5.2l9 4.9l8.9 4.4l9 4.1l9 3.6l9 3.3l9 2.9l9 2.5l9 2.2l9 1.7l9 1.4l9 1l8.9 0.6l9 0.3l9-0.2l9-0.5l9-0.9l9-1.4l9-1.6l9-2.1l9-2.5l9-2.8l8.9-3.2l9-3.6l9-4l9-4.3l9-4.8l9-5.1l9-5.5l9-5.9l9-6.3l9-6.6l8.9-7.1l9-7.4l2.1 9.8l-9 7.1l-9 6.7l-9 6.4l-9 6l-9 5.6l-9 5.2l-9 4.8l-8.9 4.4l-9 4.1l-9 3.7l-9 3.3l-9 2.9l-9 2.5l-9 2.2l-9 1.7l-9 1.4l-9 1l-8.9 0.6l-9 0.3l-9-0.2l-9-0.5l-9-0.9l-9-1.3l-9-1.7l-9-2.1l-9-2.4l-9-2.8l-8.9-3.2l-9-3.6l-9-4l-9-4.4l-9-4.7l-9-5.1l-9-5.5l-9-5.9l-9-6.3l-9-6.6l-8.9-7.1l-9-7.4l-9-7.8l-9-8.2l-9-8.5l-9-9l-9-9.3l-9-9.7l-9-10.1l-9-10.5l-8.9-10.8l-9-11.3l-9-11.6z" fill="url(#g34)" fill-opacity="0.75"/><path d="M50.8 641.5l2.1-5.3m6.9 16.6l2.1-5m6.9 15.9l2.1-4.6m6.9 15.2l2-4.4m7 14.6l2-4.1m7 13.9l2-3.8m7 13.2l2-3.5m7 12.5l2-3.2m7 11.8l2-2.8m6.9 11.1l2.1-2.6m6.9 10.5l2.1-2.3m6.9 9.8l2.1-2m6.9 9.1l2.1-1.7m6.9 8.4l2-1.3m7 7.7l2-1.1m7 7l2-0.7m7 6.3l2-0.4m7 5.6l2-0.1m7 5l2 0.1m6.9 4.3l2.1 0.4m6.9 3.7l2.1 0.7m6.9 2.9l2.1 1.1m6.9 2.2l2.1 1.4m6.9 1.5l2 1.7m7 0.8l2 2m7 0.2l2 2.2m7-0.5l2 2.6m7-1.2l2 2.9m7-1.9l2 3.2m6.9-2.6l2.1 3.5m6.9-3.2l2.1 3.7m6.9-3.9l2.1 4.1m6.9-4.6l2.1 4.3m6.9-5.2l2 4.6m7-6l2 5m7-6.6l2 5.2m7-7.3l2 5.6m7-8.1l2 5.9m7-8.7l2 6.2m6.9-9.4l2.1 6.5m6.9-10.1l2.1 6.8m6.9-10.8l2.1 7.1m6.9-11.4l2.1 7.3m6.9-12.1l2 7.7m7-12.8l2 8m7-13.5l2 8.3m7-14.2l2 8.6m7-14.9l2 8.9m7-15.5l2 9.1m6.9-16.2l2.1 9.5m6.9-16.9l2.1 9.8M50.8 641.5l9 11.3l9 10.9l9 10.6l9 10.2l9 9.8l9 9.4l9 9l9 8.6l8.9 8.3l9 7.9l9 7.5l9 7.1l9 6.7l9 6.4l9 5.9l9 5.6l9 5.2l9 4.9l8.9 4.4l9 4.1l9 3.6l9 3.3l9 2.9l9 2.5l9 2.2l9 1.7l9 1.4l9 1l8.9 0.6l9 0.3l9-0.2l9-0.5l9-0.9l9-1.4l9-1.6l9-2.1l9-2.5l9-2.8l8.9-3.2l9-3.6l9-4l9-4.3l9-4.8l9-5.1l9-5.5l9-5.9l9-6.3l9-6.6l8.9-7.1l9-7.4" stroke="#000" stroke-opacity="0.6" stroke-width="0.8" fill="none"/><path d="M52.9 636.2l9 11.6l9 11.3l8.9 10.8l9 10.5l9 10.1l9 9.7l9 9.3l9 9l9 8.5l9 8.2l9 7.8l9 7.4l8.9 7.1l9 6.6l9 6.3l9 5.9l9 5.5l9 5.1l9 4.7l9 4.4l9 4l9 3.6l8.9 3.2l9 2.8l9 2.4l9 2.1l9 1.7l9 1.3l9 0.9l9 0.5l9 0.2l9-0.3l8.9-0.6l9-1l9-1.4l9-1.7l9-2.2l9-2.5l9-2.9l9-3.3l9-3.7l9-4.1l8.9-4.4l9-4.8l9-5.2l9-5.6l9-6l9-6.4l9-6.7l9-7.1l2 8.6l-9 6.9l-9 6.5l-8.9 6.1l-9 5.7l-9 5.4l-9 4.9l-9 4.6l-9 4.2l-9 3.8l-9 3.4l-9 3.1l-9 2.6l-8.9 2.3l-9 1.9l-9 1.5l-9 1.2l-9 0.7l-9 0.4l-9 0l-9-0.4l-9-0.8l-9-1.2l-8.9-1.5l-9-2l-9-2.3l-9-2.7l-9-3.1l-9-3.4l-9-3.9l-9-4.2l-9-4.6l-9-5l-8.9-5.4l-9-5.7l-9-6.2l-9-6.5l-9-6.9l-9-7.3l-9-7.6l-9-8.1l-9-8.4l-9-8.8l-8.9-9.2l-9-9.6l-9-10l-9-10.3l-9-10.8l-9-11.1l-9-11.5l-9-11.8z" fill="url(#g35)" fill-opacity="0.75"/><path d="M52.9 636.2l2-3.9m7 15.5l2-3.7m7 15l2-3.5m6.9 14.3l2.1-3.2m6.9 13.7l2.1-2.9m6.9 13l2.1-2.7m6.9 12.4l2.1-2.4m6.9 11.7l2.1-2.1m6.9 11.1l2-1.9m7 10.4l2-1.6m7 9.8l2-1.4m7 9.2l2-1.1m7 8.5l2-0.9m6.9 8l2.1-0.7m6.9 7.3l2.1-0.4m6.9 6.7l2.1-0.2m6.9 6.1l2.1 0.1m6.9 5.4l2.1 0.3m6.9 4.8l2 0.6m7 4.1l2 0.9m7 3.5l2 1.1m7 2.9l2 1.3m7 2.3l2 1.6m6.9 1.6l2.1 1.8m6.9 1l2.1 2.1m6.9 0.3l2.1 2.4m6.9-0.3l2.1 2.6m6.9-0.9l2.1 2.9m6.9-1.6l2 3.1m7-2.2l2 3.4m7-2.9l2 3.7m7-3.5l2 3.9m7-4.2l2 4.2m6.9-4.8l2.1 4.4m6.9-5.4l2.1 4.7m6.9-6.1l2.1 4.9m6.9-6.6l2.1 5.1m6.9-7.3l2.1 5.4m6.9-7.9l2 5.6m7-8.5l2 5.9m7-9.2l2 6.1m7-9.8l2 6.4m7-10.5l2 6.7m6.9-11.1l2.1 6.9m6.9-11.7l2.1 7.1m6.9-12.3l2.1 7.4m6.9-13l2.1 7.6m6.9-13.6l2.1 7.9m6.9-14.3l2 8.2m7-14.9l2 8.4m7-15.5l2 8.6M52.9 636.2l9 11.6l9 11.3l8.9 10.8l9 10.5l9 10.1l9 9.7l9 9.3l9 9l9 8.5l9 8.2l9 7.8l9 7.4l8.9 7.1l9 6.6l9 6.3l9 5.9l9 5.5l9 5.1l9 4.7l9 4.4l9 4l9 3.6l8.9 3.2l9 2.8l9 2.4l9 2.1l9 1.7l9 1.3l9 0.9l9 0.5l9 0.2l9-0.3l8.9-0.6l9-1l9-1.4l9-1.7l9-2.2l9-2.5l9-2.9l9-3.3l9-3.7l9-4.1l8.9-4.4l9-4.8l9-5.2l9-5.6l9-6l9-6.4l9-6.7l9-7.1" stroke="#000" stroke-opacity="0.6" stroke-width="0.8" fill="none"/><path d="M54.9 632.3l9 11.8l9 11.5l9 11.1l9 10.8l9 10.3l9 10l9 9.6l8.9 9.2l9 8.8l9 8.4l9 8.1l9 7.6l9 7.3l9 6.9l9 6.5l9 6.2l9 5.7l8.9 5.4l9 5l9 4.6l9 4.2l9 3.9l9 3.4l9 3.1l9 2.7l9 2.3l9 2l8.9 1.5l9 1.2l9 0.8l9 0.4l9 0l9-0.4l9-0.7l9-1.2l9-1.5l9-1.9l8.9-2.3l9-2.6l9-3.1l9-3.4l9-3.8l9-4.2l9-4.6l9-4.9l9-5.4l9-5.7l8.9-6.1l9-6.5l9-6.9l2.1 7.7l-9 6.7l-9 6.3l-9 5.9l-9 5.5l-9 5.1l-9 4.8l-9 4.4l-8.9 3.9l-9 3.7l-9 3.2l-9 2.8l-9 2.5l-9 2.1l-9 1.6l-9 1.4l-9 0.9l-9 0.5l-8.9 0.2l-9-0.2l-9-0.6l-9-1l-9-1.4l-9-1.7l-9-2.2l-9-2.5l-9-2.9l-9-3.3l-8.9-3.6l-9-4.1l-9-4.4l-9-4.8l-9-5.2l-9-5.6l-9-5.9l-9-6.4l-9-6.7l-9-7.1l-8.9-7.5l-9-7.9l-9-8.2l-9-8.7l-9-9l-9-9.4l-9-9.8l-9-10.2l-9-10.5l-9-10.9l-8.9-11.4l-9-11.6l-9-12.1z" fill="url(#g36)" fill-opacity="0.75"/><path d="M54.9 632.3l2.1-2.5m6.9 14.3l2.1-2.2m6.9 13.7l2.1-2.1m6.9 13.2l2-1.8m7 12.6l2-1.7m7 12l2-1.5m7 11.5l2-1.3m7 10.9l2-1.1m6.9 10.3l2.1-0.9m6.9 9.7l2.1-0.7m6.9 9.1l2.1-0.4m6.9 8.5l2.1-0.3m6.9 7.9l2.1 0m6.9 7.3l2 0.2m7 6.7l2 0.4m7 6.1l2 0.6m7 5.6l2 0.8m7 4.9l2 1m6.9 4.4l2.1 1.2m6.9 3.8l2.1 1.4m6.9 3.2l2.1 1.6m6.9 2.6l2.1 1.8m6.9 2.1l2.1 2m6.9 1.4l2 2.2m7 0.9l2 2.4m7 0.3l2 2.6m7-0.3l2 2.8m7-0.8l2 3m6.9-1.5l2.1 3.2m6.9-2l2.1 3.4m6.9-2.6l2.1 3.6m6.9-3.2l2.1 3.8m6.9-3.8l2.1 4m6.9-4.4l2 4.2m7-4.9l2 4.4m7-5.6l2 4.7m7-6.2l2 4.8m7-6.7l2 5.1m6.9-7.4l2.1 5.3m6.9-7.9l2.1 5.4m6.9-8.5l2.1 5.7m6.9-9.1l2.1 5.9m6.9-9.7l2.1 6m6.9-10.2l2 6.3m7-10.9l2 6.5m7-11.4l2 6.6m7-12l2 6.9m7-12.6l2 7.1m6.9-13.2l2.1 7.3m6.9-13.8l2.1 7.5m6.9-14.4l2.1 7.7M54.9 632.3l9 11.8l9 11.5l9 11.1l9 10.8l9 10.3l9 10l9 9.6l8.9 9.2l9 8.8l9 8.4l9 8.1l9 7.6l9 7.3l9 6.9l9 6.5l9 6.2l9 5.7l8.9 5.4l9 5l9 4.6l9 4.2l9 3.9l9 3.4l9 3.1l9 2.7l9 2.3l9 2l8.9 1.5l9 1.2l9 0.8l9 0.4l9 0l9-0.4l9-0.7l9-1.2l9-1.5l9-1.9l8.9-2.3l9-2.6l9-3.1l9-3.4l9-3.8l9-4.2l9-4.6l9-4.9l9-5.4l9-5.7l8.9-6.1l9-6.5l9-6.9" stroke="#000" stroke-opacity="0.6" stroke-width="0.8" fill="none"/><path d="M57 629.8l9 12.1l9 11.6l8.9 11.4l9 10.9l9 10.5l9 10.2l9 9.8l9 9.4l9 9l9 8.7l9 8.2l9 7.9l8.9 7.5l9 7.1l9 6.7l9 6.4l9 5.9l9 5.6l9 5.2l9 4.8l9 4.4l9 4.1l8.9 3.6l9 3.3l9 2.9l9 2.5l9 2.2l9 1.7l9 1.4l9 1l9 0.6l9 0.2l8.9-0.2l9-0.5l9-0.9l9-1.4l9-1.6l9-2.1l9-2.5l9-2.8l9-3.2l9-3.7l8.9-3.9l9-4.4l9-4.8l9-5.1l9-5.5l9-5.9l9-6.3l9-6.7l2 6.8l-9 6.5l-9 6.1l-9 5.8l-8.9 5.3l-9 5l-9 4.6l-9 4.2l-9 3.9l-9 3.4l-9 3.1l-9 2.7l-9 2.3l-9 1.9l-8.9 1.5l-9 1.2l-9 0.8l-9 0.4l-9 0l-9-0.4l-9-0.8l-9-1.1l-9-1.5l-9-1.9l-8.9-2.3l-9-2.7l-9-3l-9-3.5l-9-3.8l-9-4.2l-9-4.6l-9-5l-9-5.3l-9-5.7l-8.9-6.1l-9-6.5l-9-6.9l-9-7.3l-9-7.6l-9-8.1l-9-8.4l-9-8.8l-9-9.1l-9-9.6l-8.9-9.9l-9-10.4l-9-10.7l-9-11l-9-11.5l-9-11.9l-9-12.2z" fill="url(#g37)" fill-opacity="0.75"/><path d="M57 629.8l2-1m7 13.1l2-0.9m7 12.5l2-0.6m6.9 12l2.1-0.5m6.9 11.4l2.1-0.4m6.9 10.9l2.1-0.2m6.9 10.4l2.1 0m6.9 9.8l2 0.1m7 9.3l2 0.3m7 8.7l2 0.4m7 8.3l2 0.5m7 7.7l2 0.7m7 7.2l2 0.9m6.9 6.6l2.1 1m6.9 6.1l2.1 1.2m6.9 5.5l2.1 1.4m6.9 5l2.1 1.5m6.9 4.4l2 1.7m7 3.9l2 1.8m7 3.4l2 1.9m7 2.9l2 2.1m7 2.3l2 2.3m7 1.8l2 2.4m6.9 1.2l2.1 2.6m6.9 0.7l2.1 2.8m6.9 0.1l2.1 2.9m6.9-0.4l2.1 3.1m6.9-0.9l2 3.2m7-1.5l2 3.4m7-2l2 3.5m7-2.5l2 3.6m7-3l2 3.8m7-3.6l2 4m6.9-4.2l2.1 4.2m6.9-4.7l2.1 4.3m6.9-5.2l2.1 4.4m6.9-5.8l2.1 4.6m6.9-6.2l2 4.7m7-6.8l2 4.9m7-7.4l2 5.1m7-7.9l2 5.2m7-8.4l2 5.3m7-9l2 5.6m6.9-9.5l2.1 5.6m6.9-10l2.1 5.8m6.9-10.6l2.1 6m6.9-11.1l2.1 6.1m6.9-11.6l2 6.3m7-12.2l2 6.4m7-12.7l2 6.6m7-13.3l2 6.8M57 629.8l9 12.1l9 11.6l8.9 11.4l9 10.9l9 10.5l9 10.2l9 9.8l9 9.4l9 9l9 8.7l9 8.2l9 7.9l8.9 7.5l9 7.1l9 6.7l9 6.4l9 5.9l9 5.6l9 5.2l9 4.8l9 4.4l9 4.1l8.9 3.6l9 3.3l9 2.9l9 2.5l9 2.2l9 1.7l9 1.4l9 1l9 0.6l9 0.2l8.9-0.2l9-0.5l9-0.9l9-1.4l9-1.6l9-2.1l9-2.5l9-2.8l9-3.2l9-3.7l8.9-3.9l9-4.4l9-4.8l9-5.1l9-5.5l9-5.9l9-6.3l9-6.7" stroke="#000" stroke-opacity="0.6" stroke-width="0.8" fill="none"/><path d="M59 628.8l9 12.2l9 11.9l9 11.5l9 11l9 10.7l9 10.4l8.9 9.9l9 9.6l9 9.1l9 8.8l9 8.4l9 8.1l9 7.6l9 7.3l9 6.9l9 6.5l8.9 6.1l9 5.7l9 5.3l9 5l9 4.6l9 4.2l9 3.8l9 3.5l9 3l9 2.7l8.9 2.3l9 1.9l9 1.5l9 1.1l9 0.8l9 0.4l9 0l9-0.4l9-0.8l9-1.2l8.9-1.5l9-1.9l9-2.3l9-2.7l9-3.1l9-3.4l9-3.9l9-4.2l9-4.6l9-5l8.9-5.3l9-5.8l9-6.1l9-6.5l2.1 5.9l-9 6.4l-9 6l-9 5.6l-9 5.3l-9 4.9l-9 4.5l-9 4.1l-9 3.7l-8.9 3.4l-9 2.9l-9 2.6l-9 2.2l-9 1.8l-9 1.4l-9 1.1l-9 0.7l-9 0.2l-9 0l-8.9-0.5l-9-0.9l-9-1.2l-9-1.7l-9-2l-9-2.4l-9-2.7l-9-3.2l-9-3.5l-9-4l-8.9-4.3l-9-4.7l-9-5l-9-5.5l-9-5.8l-9-6.2l-9-6.7l-9-6.9l-9-7.4l-9-7.8l-8.9-8.1l-9-8.5l-9-8.9l-9-9.3l-9-9.6l-9-10.1l-9-10.4l-9-10.8l-9-11.2l-9-11.6l-8.9-12l-9-12.3z" fill="url(#g38)" fill-opacity="0.75"/><path d="M59 628.8l2.1 0.6m6.9 11.6l2.1 0.7m6.9 11.2l2 0.8m7 10.7l2 0.9m7 10.1l2 1.1m7 9.6l2 1.2m7 9.2l2 1.2m6.9 8.7l2.1 1.4m6.9 8.2l2.1 1.4m6.9 7.7l2.1 1.6m6.9 7.2l2.1 1.7m6.9 6.7l2.1 1.8m6.9 6.3l2 1.8m7 5.8l2 2m7 5.3l2 2.1m7 4.8l2 2.1m7 4.4l2 2.3m6.9 3.8l2.1 2.4m6.9 3.3l2.1 2.5m6.9 2.8l2.1 2.7m6.9 2.3l2.1 2.7m6.9 1.9l2.1 2.8m6.9 1.4l2 2.9m7 0.9l2 3.1m7 0.4l2 3.1m7-0.1l2 3.3m7-0.6l2 3.3m6.9-1l2.1 3.4m6.9-1.5l2.1 3.5m6.9-2l2.1 3.7m6.9-2.6l2.1 3.8m6.9-3l2.1 3.9m6.9-3.5l2 4m7-4l2 4m7-4.4l2 4.2m7-5l2 4.3m7-5.5l2 4.4m6.9-5.9l2.1 4.5m6.9-6.4l2.1 4.6m6.9-6.9l2.1 4.7m6.9-7.4l2.1 4.8m6.9-7.9l2.1 5m6.9-8.4l2 5m7-8.9l2 5.2m7-9.4l2 5.3m7-9.9l2 5.4m7-10.4l2 5.5m6.9-10.8l2.1 5.5m6.9-11.3l2.1 5.7m6.9-11.8l2.1 5.8m6.9-12.3l2.1 5.9M59 628.8l9 12.2l9 11.9l9 11.5l9 11l9 10.7l9 10.4l8.9 9.9l9 9.6l9 9.1l9 8.8l9 8.4l9 8.1l9 7.6l9 7.3l9 6.9l9 6.5l8.9 6.1l9 5.7l9 5.3l9 5l9 4.6l9 4.2l9 3.8l9 3.5l9 3l9 2.7l8.9 2.3l9 1.9l9 1.5l9 1.1l9 0.8l9 0.4l9 0l9-0.4l9-0.8l9-1.2l8.9-1.5l9-1.9l9-2.3l9-2.7l9-3.1l9-3.4l9-3.9l9-4.2l9-4.6l9-5l8.9-5.3l9-5.8l9-6.1l9-6.5" stroke="#000" stroke-opacity="0.6" stroke-width="0.8" fill="none"/><path d="M61.1 629.4l9 12.3l8.9 12l9 11.6l9 11.2l9 10.8l9 10.4l9 10.1l9 9.6l9 9.3l9 8.9l9 8.5l8.9 8.1l9 7.8l9 7.4l9 6.9l9 6.7l9 6.2l9 5.8l9 5.5l9 5l9 4.7l8.9 4.3l9 4l9 3.5l9 3.2l9 2.7l9 2.4l9 2l9 1.7l9 1.2l9 0.9l8.9 0.5l9 0l9-0.2l9-0.7l9-1.1l9-1.4l9-1.8l9-2.2l9-2.6l9-2.9l8.9-3.4l9-3.7l9-4.1l9-4.5l9-4.9l9-5.3l9-5.6l9-6l9-6.4l2 5l-9 6.4l-9 6l-9 5.5l-8.9 5.2l-9 4.9l-9 4.4l-9 4.1l-9 3.6l-9 3.3l-9 2.9l-9 2.5l-9 2.2l-9 1.7l-8.9 1.4l-9 1l-9 0.6l-9 0.2l-9-0.1l-9-0.5l-9-1l-9-1.3l-9-1.7l-9-2l-8.9-2.5l-9-2.8l-9-3.2l-9-3.6l-9-4l-9-4.4l-9-4.7l-9-5.1l-9-5.5l-9-5.9l-8.9-6.3l-9-6.7l-9-7l-9-7.4l-9-7.9l-9-8.1l-9-8.6l-9-9l-9-9.3l-9-9.7l-8.9-10.1l-9-10.5l-9-10.9l-9-11.2l-9-11.7l-9-12l-9-12.4z" fill="url(#g39)" fill-opacity="0.75"/><path d="M61.1 629.4l2 2.2m7 10.1l2 2.3m6.9 9.7l2.1 2.3m6.9 9.3l2.1 2.4m6.9 8.8l2.1 2.4m6.9 8.4l2.1 2.5m6.9 7.9l2.1 2.6m6.9 7.5l2 2.6m7 7l2 2.7m7 6.6l2 2.7m7 6.2l2 2.8m7 5.7l2 2.9m6.9 5.2l2.1 2.9m6.9 4.9l2.1 3m6.9 4.4l2.1 3m6.9 3.9l2.1 3.1m6.9 3.6l2.1 3.1m6.9 3.1l2 3.2m7 2.6l2 3.3m7 2.2l2 3.3m7 1.7l2 3.4m7 1.3l2 3.4m6.9 0.9l2.1 3.5m6.9 0.5l2.1 3.5m6.9 0l2.1 3.6m6.9-0.4l2.1 3.6m6.9-0.9l2.1 3.7m6.9-1.3l2 3.8m7-1.8l2 3.8m7-2.1l2 3.8m7-2.6l2 3.9m7-3l2 4m6.9-3.5l2.1 4m6.9-4l2.1 4.1m6.9-4.3l2.1 4.1m6.9-4.8l2.1 4.2m6.9-5.3l2.1 4.3m6.9-5.7l2 4.3m7-6.1l2 4.4m7-6.6l2 4.4m7-7l2 4.5m7-7.4l2 4.5m6.9-7.9l2.1 4.6m6.9-8.3l2.1 4.7m6.9-8.8l2.1 4.7m6.9-9.2l2.1 4.8m6.9-9.7l2.1 4.8m6.9-10.1l2 4.9m7-10.5l2 5m7-11l2 5m7-11.4l2 5M61.1 629.4l9 12.3l8.9 12l9 11.6l9 11.2l9 10.8l9 10.4l9 10.1l9 9.6l9 9.3l9 8.9l9 8.5l8.9 8.1l9 7.8l9 7.4l9 6.9l9 6.7l9 6.2l9 5.8l9 5.5l9 5l9 4.7l8.9 4.3l9 4l9 3.5l9 3.2l9 2.7l9 2.4l9 2l9 1.7l9 1.2l9 0.9l8.9 0.5l9 0l9-0.2l9-0.7l9-1.1l9-1.4l9-1.8l9-2.2l9-2.6l9-2.9l8.9-3.4l9-3.7l9-4.1l9-4.5l9-4.9l9-5.3l9-5.6l9-6l9-6.4" stroke="#000" stroke-opacity="0.6" stroke-width="0.8" fill="none"/><path d="M63.1 631.6l9 12.4l9 12l9 11.7l9 11.2l9 10.9l9 10.5l8.9 10.1l9 9.7l9 9.3l9 9l9 8.6l9 8.1l9 7.9l9 7.4l9 7l9 6.7l8.9 6.3l9 5.9l9 5.5l9 5.1l9 4.7l9 4.4l9 4l9 3.6l9 3.2l9 2.8l8.9 2.5l9 2l9 1.7l9 1.3l9 1l9 0.5l9 0.1l9-0.2l9-0.6l9-1l8.9-1.4l9-1.7l9-2.2l9-2.5l9-2.9l9-3.3l9-3.6l9-4.1l9-4.4l9-4.9l8.9-5.2l9-5.5l9-6l9-6.4l2.1 4.3l-9 6.3l-9 6l-9 5.6l-9 5.2l-9 4.8l-9 4.4l-9 4.1l-9 3.6l-9 3.3l-8.9 2.9l-9 2.5l-9 2.2l-9 1.7l-9 1.4l-9 1l-9 0.6l-9 0.2l-9-0.2l-9-0.5l-8.9-1l-9-1.3l-9-1.7l-9-2l-9-2.5l-9-2.8l-9-3.3l-9-3.6l-9-4l-9-4.3l-8.9-4.8l-9-5.1l-9-5.5l-9-5.9l-9-6.3l-9-6.7l-9-7l-9-7.5l-9-7.8l-9-8.2l-8.9-8.6l-9-8.9l-9-9.4l-9-9.7l-9-10.1l-9-10.5l-9-10.9l-9-11.2l-9-11.7l-9-12l-8.9-12.4z" fill="url(#g40)" fill-opacity="0.75"/><path d="M63.1 631.6l2.1 3.9m6.9 8.5l2 3.9m7 8.1l2 3.9m7 7.8l2 3.9m7 7.3l2 3.9m7 7l2 3.9m7 6.6l2 3.9m6.9 6.2l2.1 3.9m6.9 5.8l2.1 3.9m6.9 5.4l2.1 4m6.9 5l2.1 3.9m6.9 4.7l2 3.9m7 4.2l2 4m7 3.9l2 3.9m7 3.5l2 4m7 3l2 4m7 2.7l2 4m6.9 2.3l2.1 4m6.9 1.9l2.1 4m6.9 1.5l2.1 4m6.9 1.1l2.1 4m6.9 0.7l2 4.1m7 0.3l2 4m7 0l2 4m7-0.4l2 4m7-0.8l2 4.1m7-1.3l2 4.1m6.9-1.6l2.1 4.1m6.9-2.1l2.1 4.1m6.9-2.4l2.1 4.1m6.9-2.8l2.1 4.1m6.9-3.1l2 4.1m7-3.6l2 4.1m7-4l2 4.2m7-4.4l2 4.2m7-4.8l2 4.2m7-5.2l2 4.2m6.9-5.6l2.1 4.2m6.9-5.9l2.1 4.2m6.9-6.4l2.1 4.2m6.9-6.7l2.1 4.2m6.9-7.1l2 4.2m7-7.5l2 4.2m7-7.8l2 4.2m7-8.3l2 4.2m7-8.6l2 4.2m7-9.1l2 4.3m6.9-9.5l2.1 4.3m6.9-9.8l2.1 4.2m6.9-10.2l2.1 4.2m6.9-10.6l2.1 4.3M63.1 631.6l9 12.4l9 12l9 11.7l9 11.2l9 10.9l9 10.5l8.9 10.1l9 9.7l9 9.3l9 9l9 8.6l9 8.1l9 7.9l9 7.4l9 7l9 6.7l8.9 6.3l9 5.9l9 5.5l9 5.1l9 4.7l9 4.4l9 4l9 3.6l9 3.2l9 2.8l8.9 2.5l9 2l9 1.7l9 1.3l9 1l9 0.5l9 0.1l9-0.2l9-0.6l9-1l8.9-1.4l9-1.7l9-2.2l9-2.5l9-2.9l9-3.3l9-3.6l9-4.1l9-4.4l9-4.9l8.9-5.2l9-5.5l9-6l9-6.4" stroke="#000" stroke-opacity="0.6" stroke-width="0.8" fill="none"/><path d="M65.2 635.5l8.9 12.4l9 12l9 11.7l9 11.2l9 10.9l9 10.5l9 10.1l9 9.7l9 9.4l9 8.9l8.9 8.6l9 8.2l9 7.8l9 7.5l9 7l9 6.7l9 6.3l9 5.9l9 5.5l9 5.1l8.9 4.8l9 4.3l9 4l9 3.6l9 3.3l9 2.8l9 2.5l9 2l9 1.7l9 1.3l8.9 1l9 0.5l9 0.2l9-0.2l9-0.6l9-1l9-1.4l9-1.7l9-2.2l9-2.5l8.9-2.9l9-3.3l9-3.6l9-4.1l9-4.4l9-4.8l9-5.2l9-5.6l9-6l9-6.3l2 3.5l-9 6.4l-9 6l-9 5.6l-9 5.2l-8.9 4.9l-9 4.4l-9 4.1l-9 3.7l-9 3.3l-9 3l-9 2.5l-9 2.2l-9 1.8l-9 1.4l-8.9 1l-9 0.7l-9 0.2l-9-0.1l-9-0.5l-9-0.9l-9-1.3l-9-1.6l-9-2l-9-2.5l-8.9-2.8l-9-3.1l-9-3.6l-9-4l-9-4.3l-9-4.7l-9-5.1l-9-5.5l-9-5.8l-9-6.3l-8.9-6.6l-9-7l-9-7.4l-9-7.8l-9-8.1l-9-8.6l-9-8.9l-9-9.3l-9-9.7l-9-10.1l-8.9-10.4l-9-10.9l-9-11.2l-9-11.6l-9-12l-9-12.3z" fill="url(#g41)" fill-opacity="0.75"/><path d="M65.2 635.5l2 5.5m6.9 6.9l2.1 5.4m6.9 6.6l2.1 5.4m6.9 6.3l2.1 5.3m6.9 5.9l2.1 5.3m6.9 5.6l2.1 5.3m6.9 5.2l2 5.2m7 4.9l2 5.2m7 4.5l2 5.2m7 4.2l2 5.1m7 3.8l2 5.1m6.9 3.5l2.1 5.1m6.9 3.1l2.1 5m6.9 2.8l2.1 5m6.9 2.5l2.1 4.9m6.9 2.1l2.1 4.9m6.9 1.8l2 4.8m7 1.5l2 4.8m7 1.1l2 4.7m7 0.8l2 4.7m7 0.4l2 4.7m6.9 0.1l2.1 4.6m6.9-0.3l2.1 4.6m6.9-0.6l2.1 4.6m6.9-1l2.1 4.6m6.9-1.3l2.1 4.4m6.9-1.6l2 4.4m7-1.9l2 4.4m7-2.4l2 4.4m7-2.7l2 4.3m7-3l2 4.3m6.9-3.3l2.1 4.2m6.9-3.7l2.1 4.2m6.9-4l2.1 4.1m6.9-4.3l2.1 4.1m6.9-4.7l2.1 4m6.9-5l2 4m7-5.4l2 4m7-5.7l2 3.9m7-6.1l2 3.9m7-6.4l2 3.9m6.9-6.8l2.1 3.8m6.9-7.1l2.1 3.8m6.9-7.4l2.1 3.7m6.9-7.8l2.1 3.7m6.9-8.1l2.1 3.7m6.9-8.5l2 3.6m7-8.8l2 3.6m7-9.2l2 3.6m7-9.6l2 3.6m7-9.9l2 3.5M65.2 635.5l8.9 12.4l9 12l9 11.7l9 11.2l9 10.9l9 10.5l9 10.1l9 9.7l9 9.4l9 8.9l8.9 8.6l9 8.2l9 7.8l9 7.5l9 7l9 6.7l9 6.3l9 5.9l9 5.5l9 5.1l8.9 4.8l9 4.3l9 4l9 3.6l9 3.3l9 2.8l9 2.5l9 2l9 1.7l9 1.3l8.9 1l9 0.5l9 0.2l9-0.2l9-0.6l9-1l9-1.4l9-1.7l9-2.2l9-2.5l8.9-2.9l9-3.3l9-3.6l9-4.1l9-4.4l9-4.8l9-5.2l9-5.6l9-6l9-6.3" stroke="#000" stroke-opacity="0.6" stroke-width="0.8" fill="none"/><path d="M67.2 641l9 12.3l9 12l9 11.6l9 11.2l9 10.9l8.9 10.4l9 10.1l9 9.7l9 9.3l9 8.9l9 8.6l9 8.1l9 7.8l9 7.4l9 7l8.9 6.6l9 6.3l9 5.8l9 5.5l9 5.1l9 4.7l9 4.3l9 4l9 3.6l9 3.1l8.9 2.8l9 2.5l9 2l9 1.6l9 1.3l9 0.9l9 0.5l9 0.1l9-0.2l9-0.7l8.9-1l9-1.4l9-1.8l9-2.2l9-2.5l9-3l9-3.3l9-3.7l9-4.1l9-4.4l8.9-4.9l9-5.2l9-5.6l9-6l9-6.4l2.1 2.6l-9 6.5l-9 6.1l-9 5.7l-9 5.3l-9 5l-9 4.5l-9 4.2l-9 3.8l-9 3.4l-8.9 3l-9 2.7l-9 2.2l-9 1.9l-9 1.5l-9 1.1l-9 0.8l-9 0.3l-9 0l-9-0.4l-8.9-0.8l-9-1.2l-9-1.6l-9-1.9l-9-2.4l-9-2.7l-9-3.1l-9-3.4l-9-3.9l-9-4.2l-8.9-4.7l-9-5l-9-5.4l-9-5.7l-9-6.2l-9-6.5l-9-6.9l-9-7.3l-9-7.7l-9-8.1l-8.9-8.4l-9-8.9l-9-9.2l-9-9.6l-9-10l-9-10.3l-9-10.8l-9-11.1l-9-11.5l-9-11.9l-9-12.3z" fill="url(#g42)" fill-opacity="0.75"/><path d="M67.2 641l2 7.1m7 5.2l2 7.1m7 4.9l2 7m7 4.6l2 6.9m7 4.3l2 6.8m7 4.1l2 6.7m6.9 3.7l2.1 6.6m6.9 3.5l2.1 6.5m6.9 3.2l2.1 6.4m6.9 2.9l2.1 6.3m6.9 2.6l2.1 6.3m6.9 2.3l2 6.1m7 2l2 6.1m7 1.7l2 6m7 1.4l2 5.9m7 1.1l2 5.8m6.9 0.8l2.1 5.7m6.9 0.6l2.1 5.6m6.9 0.2l2.1 5.5m6.9 0l2.1 5.4m6.9-0.3l2.1 5.3m6.9-0.6l2 5.3m7-1l2 5.2m7-1.2l2 5.1m7-1.5l2 4.9m7-1.8l2 4.9m6.9-2.1l2.1 4.8m6.9-2.3l2.1 4.7m6.9-2.7l2.1 4.6m6.9-3l2.1 4.6m6.9-3.3l2.1 4.5m6.9-3.6l2 4.4m7-3.9l2 4.3m7-4.2l2 4.2m7-4.4l2 4.1m7-4.8l2 4m6.9-5l2.1 3.9m6.9-5.3l2.1 3.8m6.9-5.6l2.1 3.7m6.9-5.9l2.1 3.7m6.9-6.2l2.1 3.5m6.9-6.5l2 3.5m7-6.8l2 3.4m7-7.1l2 3.3m7-7.4l2 3.2m7-7.6l2 3.1m6.9-8l2.1 3m6.9-8.2l2.1 2.9m6.9-8.5l2.1 2.8m6.9-8.8l2.1 2.7m6.9-9.1l2.1 2.6M67.2 641l9 12.3l9 12l9 11.6l9 11.2l9 10.9l8.9 10.4l9 10.1l9 9.7l9 9.3l9 8.9l9 8.6l9 8.1l9 7.8l9 7.4l9 7l8.9 6.6l9 6.3l9 5.8l9 5.5l9 5.1l9 4.7l9 4.3l9 4l9 3.6l9 3.1l8.9 2.8l9 2.5l9 2l9 1.6l9 1.3l9 0.9l9 0.5l9 0.1l9-0.2l9-0.7l8.9-1l9-1.4l9-1.8l9-2.2l9-2.5l9-3l9-3.3l9-3.7l9-4.1l9-4.4l8.9-4.9l9-5.2l9-5.6l9-6l9-6.4" stroke="#000" stroke-opacity="0.6" stroke-width="0.8" fill="none"/><path d="M69.2 648.1l3.8 5.2l3.7 5.1l3.8 5l3.7 5l3.8 4.8l3.7 4.9l3.8 4.7l3.7 4.7l3.8 4.7l3.7 4.5l3.8 4.5l3.7 4.5l3.7 4.3l3.8 4.3l3.7 4.3l3.8 4.1l3.7 4.1l3.8 4.1l3.7 3.9l3.8 3.9l3.7 3.8l3.8 3.8l3.7 3.7l3.8 3.7l3.7 3.5l3.7 3.5l3.8 3.5l3.7 3.3l3.8 3.3l3.7 3.3l3.8 3.1l3.7 3.1l3.8 3.1l3.7 2.9l3.8 2.9l3.7 2.9l3.7 2.7l3.8 2.7l3.7 2.7l3.8 2.6l3.7 2.5l3.8 2.4l3.7 2.4l3.8 2.3l3.7 2.2l3.8 2.2l3.7 2.1l3.8 2l3.7 2l3.7 1.9l3.8 1.9l3.7 1.7l3.8 1.7l3.7 1.7l3.8 1.6l3.7 1.5l3.8 1.4l3.7 1.4l3.8 1.3l3.7 1.2l3.7 1.2l3.8 1.1l3.7 1.1l3.8 0.9l3.7 0.9l3.8 0.9l3.7 0.8l3.8 0.7l3.7 0.6l3.8 0.6l3.7 0.5l3.8 0.5l3.7 0.3l3.7 0.4l3.8 0.2l3.7 0.2l3.8 0.1l3.7 0l3.8 0l3.7-0.1l3.8-0.1l3.7-0.2l3.8-0.3l3.7-0.4l3.7-0.4l3.8-0.5l3.7-0.5l3.8-0.6l3.7-0.7l3.8-0.8l3.7-0.8l3.8-0.9l3.7-0.9l3.8-1l3.7-1.1l3.8-1.2l3.7-1.2l3.7-1.3l3.8-1.3l3.7-1.4l3.8-1.5l3.7-1.6l3.8-1.6l3.7-1.7l3.8-1.7l3.7-1.8l3.8-1.9l3.7-1.9l3.7-2.1l3.8-2l3.7-2.2l3.8-2.2l3.7-2.3l3.8-2.3l3.7-2.4l3.8-2.5l3.7-2.5l3.8-2.7l3.7-2.6l3.8-2.8" stroke="#0000ff" stroke-width="4.8" stroke-dasharray="5.6 4.5" stroke-dashoffset="0" fill="none"/><path d="M69.2 648.1l9 12.3l9 11.9l9 11.5l9 11.1l9 10.8l9 10.3l9 10l9 9.6l9 9.2l9 8.9l8.9 8.4l9 8.1l9 7.7l9 7.3l9 6.9l9 6.5l9 6.2l9 5.7l9 5.4l9 5l8.9 4.7l9 4.2l9 3.9l9 3.4l9 3.1l9 2.7l9 2.4l9 1.9l9 1.6l9 1.2l8.9 0.8l9 0.4l9 0l9-0.3l9-0.8l9-1.1l9-1.5l9-1.9l9-2.2l9-2.7l8.9-3l9-3.4l9-3.8l9-4.2l9-4.5l9-5l9-5.3l9-5.7l9-6.1l9-6.5l2 1.8l-9 6.6l-9 6.3l-9 5.8l-9 5.5l-9 5.1l-8.9 4.6l-9 4.4l-9 3.9l-9 3.5l-9 3.2l-9 2.8l-9 2.4l-9 2l-9 1.6l-9 1.3l-8.9 0.9l-9 0.5l-9 0.1l-9-0.3l-9-0.7l-9-1l-9-1.4l-9-1.8l-9-2.2l-9-2.6l-8.9-3l-9-3.3l-9-3.7l-9-4.1l-9-4.5l-9-4.9l-9-5.2l-9-5.7l-9-6l-9-6.4l-8.9-6.8l-9-7.1l-9-7.6l-9-7.9l-9-8.3l-9-8.7l-9-9.1l-9-9.4l-9-9.9l-9-10.2l-8.9-10.6l-9-11l-9-11.4l-9-11.7l-9-12.2z" fill="url(#g43)" fill-opacity="0.75"/><path d="M69.2 648.1l2.1 8.7m6.9 3.6l2.1 8.6m6.9 3.3l2.1 8.4m6.9 3.1l2.1 8.3m6.9 2.8l2.1 8.2m6.9 2.6l2 8m7 2.3l2 7.9m7 2.1l2 7.8m7 1.8l2 7.6m7 1.6l2 7.5m7 1.4l2 7.3m6.9 1.1l2.1 7.2m6.9 0.9l2.1 7m6.9 0.7l2.1 6.9m6.9 0.4l2.1 6.7m6.9 0.2l2 6.6m7-0.1l2 6.5m7-0.3l2 6.3m7-0.6l2 6.3m7-0.9l2 6.1m7-1.1l2 6m6.9-1.3l2.1 5.8m6.9-1.6l2.1 5.7m6.9-1.8l2.1 5.5m6.9-2.1l2.1 5.4m6.9-2.3l2 5.3m7-2.6l2 5.2m7-2.8l2 5m7-3.1l2 4.9m7-3.3l2 4.7m7-3.5l2 4.5m6.9-3.7l2.1 4.4m6.9-4l2.1 4.3m6.9-4.3l2.1 4.2m6.9-4.5l2.1 4m6.9-4.8l2 3.9m7-5l2 3.7m7-5.2l2 3.6m7-5.5l2 3.5m7-5.7l2 3.3m7-6l2 3.2m6.9-6.2l2.1 3m6.9-6.4l2.1 2.9m6.9-6.7l2.1 2.8m6.9-7l2.1 2.6m6.9-7.1l2 2.5m7-7.5l2 2.4m7-7.7l2 2.2m7-7.9l2 2.1m7-8.2l2 1.9m7-8.4l2 1.8M69.2 648.1l9 12.3l9 11.9l9 11.5l9 11.1l9 10.8l9 10.3l9 10l9 9.6l9 9.2l9 8.9l8.9 8.4l9 8.1l9 7.7l9 7.3l9 6.9l9 6.5l9 6.2l9 5.7l9 5.4l9 5l8.9 4.7l9 4.2l9 3.9l9 3.4l9 3.1l9 2.7l9 2.4l9 1.9l9 1.6l9 1.2l8.9 0.8l9 0.4l9 0l9-0.3l9-0.8l9-1.1l9-1.5l9-1.9l9-2.2l9-2.7l8.9-3l9-3.4l9-3.8l9-4.2l9-4.5l9-5l9-5.3l9-5.7l9-6.1l9-6.5" stroke="#000" stroke-opacity="0.6" stroke-width="0.8" fill="none"/><path d="M71.3 656.8l9 12.2l9 11.7l9 11.4l9 11l8.9 10.6l9 10.2l9 9.9l9 9.4l9 9.1l9 8.7l9 8.3l9 7.9l9 7.6l9 7.1l8.9 6.8l9 6.4l9 6l9 5.7l9 5.2l9 4.9l9 4.5l9 4.1l9 3.7l9 3.3l8.9 3l9 2.6l9 2.2l9 1.8l9 1.4l9 1l9 0.7l9 0.3l9-0.1l9-0.5l8.9-0.9l9-1.3l9-1.6l9-2l9-2.4l9-2.8l9-3.2l9-3.5l9-3.9l9-4.4l8.9-4.6l9-5.1l9-5.5l9-5.8l9-6.3l9-6.6l2 0.9l-8.9 6.8l-9 6.4l-9 6.1l-9 5.6l-9 5.3l-9 4.9l-9 4.5l-9 4.1l-9 3.7l-9 3.4l-8.9 3l-9 2.5l-9 2.2l-9 1.9l-9 1.4l-9 1.1l-9 0.6l-9 0.3l-9-0.1l-9-0.4l-8.9-0.9l-9-1.2l-9-1.6l-9-2l-9-2.4l-9-2.8l-9-3.2l-9-3.5l-9-3.9l-9-4.3l-8.9-4.7l-9-5l-9-5.5l-9-5.8l-9-6.2l-9-6.6l-9-7l-9-7.4l-9-7.7l-9-8.1l-8.9-8.5l-9-8.9l-9-9.3l-9-9.7l-9-10l-9-10.4l-9-10.8l-9-11.2l-9-11.6l-9-11.9z" fill="url(#g44)" fill-opacity="0.75"/><path d="M71.3 656.8l2 10.3m7 1.9l2 10m7 1.7l2 9.9m7 1.5l2 9.7m7 1.3l2 9.5m6.9 1.1l2.1 9.3m6.9 0.9l2.1 9.1m6.9 0.8l2.1 8.9m6.9 0.5l2.1 8.8m6.9 0.3l2.1 8.6m6.9 0.1l2 8.4m7-0.1l2 8.2m7-0.3l2 8m7-0.4l2 7.8m7-0.7l2 7.7m6.9-0.9l2.1 7.5m6.9-1.1l2.1 7.3m6.9-1.3l2.1 7.1m6.9-1.4l2.1 6.9m6.9-1.7l2.1 6.7m6.9-1.8l2 6.5m7-2l2 6.3m7-2.2l2 6.1m7-2.4l2 5.9m7-2.6l2 5.8m6.9-2.8l2.1 5.6m6.9-3l2.1 5.4m6.9-3.2l2.1 5.2m6.9-3.4l2.1 5m6.9-3.6l2.1 4.8m6.9-3.8l2 4.7m7-4l2 4.4m7-4.1l2 4.2m7-4.3l2 4m7-4.5l2 3.9m6.9-4.8l2.1 3.7m6.9-5l2.1 3.6m6.9-5.2l2.1 3.3m6.9-5.3l2.1 3.1m6.9-5.5l2.1 3m6.9-5.8l2 2.8m7-6l2 2.6m7-6.1l2 2.4m7-6.3l2 2.2m7-6.6l2 2.1m6.9-6.7l2.1 1.8m6.9-6.9l2.1 1.6m6.9-7.1l2.1 1.5m6.9-7.3l2.1 1.2m6.9-7.5l2.1 1.1m6.9-7.7l2 0.9M71.3 656.8l9 12.2l9 11.7l9 11.4l9 11l8.9 10.6l9 10.2l9 9.9l9 9.4l9 9.1l9 8.7l9 8.3l9 7.9l9 7.6l9 7.1l8.9 6.8l9 6.4l9 6l9 5.7l9 5.2l9 4.9l9 4.5l9 4.1l9 3.7l9 3.3l8.9 3l9 2.6l9 2.2l9 1.8l9 1.4l9 1l9 0.7l9 0.3l9-0.1l9-0.5l8.9-0.9l9-1.3l9-1.6l9-2l9-2.4l9-2.8l9-3.2l9-3.5l9-3.9l9-4.4l8.9-4.6l9-5.1l9-5.5l9-5.8l9-6.3l9-6.6" stroke="#000" stroke-opacity="0.6" stroke-width="0.8" fill="none"/><path d="M73.3 667.1l9 11.9l9 11.6l9 11.2l9 10.8l9 10.4l9 10l9 9.7l9 9.3l9 8.9l8.9 8.5l9 8.1l9 7.7l9 7.4l9 7l9 6.6l9 6.2l9 5.8l9 5.5l9 5l8.9 4.7l9 4.3l9 3.9l9 3.5l9 3.2l9 2.8l9 2.4l9 2l9 1.6l9 1.2l8.9 0.9l9 0.4l9 0.1l9-0.3l9-0.6l9-1.1l9-1.4l9-1.9l9-2.2l9-2.5l8.9-3l9-3.4l9-3.7l9-4.1l9-4.5l9-4.9l9-5.3l9-5.6l9-6.1l9-6.4l8.9-6.8l2.1 0l-9 7l-9 6.6l-9 6.3l-9 5.9l-9 5.5l-9 5.1l-8.9 4.8l-9 4.3l-9 4l-9 3.6l-9 3.2l-9 2.8l-9 2.4l-9 2.1l-9 1.7l-9 1.3l-8.9 0.9l-9 0.5l-9 0.2l-9-0.3l-9-0.6l-9-1l-9-1.4l-9-1.8l-9-2.1l-9-2.5l-8.9-3l-9-3.3l-9-3.6l-9-4.1l-9-4.4l-9-4.9l-9-5.2l-9-5.6l-9-6l-9-6.3l-8.9-6.8l-9-7.1l-9-7.5l-9-7.9l-9-8.2l-9-8.7l-9-9l-9-9.5l-9-9.8l-9-10.1l-8.9-10.6l-9-11l-9-11.3l-9-11.7z" fill="url(#g45)" fill-opacity="0.75"/><path d="M73.3 667.1l2.1 11.7m6.9 0.2l2.1 11.5m6.9 0.1l2.1 11.2m6.9 0l2.1 11m6.9-0.2l2 10.8m7-0.4l2 10.5m7-0.5l2 10.3m7-0.6l2 10.1m7-0.8l2 9.8m7-0.9l2 9.6m6.9-1.1l2.1 9.3m6.9-1.2l2.1 9.1m6.9-1.4l2.1 8.9m6.9-1.5l2.1 8.6m6.9-1.6l2 8.4m7-1.8l2 8.1m7-1.9l2 7.9m7-2.1l2 7.7m7-2.2l2 7.4m7-2.4l2 7.3m6.9-2.6l2.1 7m6.9-2.7l2.1 6.8m6.9-2.9l2.1 6.5m6.9-3l2.1 6.3m6.9-3.1l2 6.1m7-3.3l2 5.8m7-3.4l2 5.5m7-3.5l2 5.3m7-3.7l2 5.1m7-3.9l2 4.9m6.9-4l2.1 4.6m6.9-4.2l2.1 4.5m6.9-4.4l2.1 4.2m6.9-4.5l2.1 4m6.9-4.6l2 3.7m7-4.8l2 3.5m7-4.9l2 3.2m7-5.1l2 3m7-5.2l2 2.8m7-5.3l2 2.5m6.9-5.5l2.1 2.3m6.9-5.7l2.1 2.1m6.9-5.8l2.1 1.8m6.9-5.9l2.1 1.6m6.9-6.1l2 1.3m7-6.2l2 1.1m7-6.4l2 0.9m7-6.5l2 0.6m7-6.7l2 0.4m7-6.8l2 0.2m6.9-7l2.1 0M73.3 667.1l9 11.9l9 11.6l9 11.2l9 10.8l9 10.4l9 10l9 9.7l9 9.3l9 8.9l8.9 8.5l9 8.1l9 7.7l9 7.4l9 7l9 6.6l9 6.2l9 5.8l9 5.5l9 5l8.9 4.7l9 4.3l9 3.9l9 3.5l9 3.2l9 2.8l9 2.4l9 2l9 1.6l9 1.2l8.9 0.9l9 0.4l9 0.1l9-0.3l9-0.6l9-1.1l9-1.4l9-1.9l9-2.2l9-2.5l8.9-3l9-3.4l9-3.7l9-4.1l9-4.5l9-4.9l9-5.3l9-5.6l9-6.1l9-6.4l8.9-6.8" stroke="#000" stroke-opacity="0.6" stroke-width="0.8" fill="none"/><path d="M75.4 678.8l9 11.7l9 11.3l9 11l8.9 10.6l9 10.1l9 9.8l9 9.5l9 9l9 8.7l9 8.2l9 7.9l9 7.5l9 7.1l8.9 6.8l9 6.3l9 6l9 5.6l9 5.2l9 4.9l9 4.4l9 4.1l9 3.6l9 3.3l8.9 3l9 2.5l9 2.1l9 1.8l9 1.4l9 1l9 0.6l9 0.3l9-0.2l9-0.5l8.9-0.9l9-1.3l9-1.7l9-2.1l9-2.4l9-2.8l9-3.2l9-3.6l9-4l9-4.3l8.9-4.8l9-5.1l9-5.5l9-5.9l9-6.3l9-6.6l9-7l2-1.2l-9 7.3l-8.9 7l-9 6.5l-9 6.2l-9 5.8l-9 5.4l-9 5l-9 4.6l-9 4.3l-9 3.9l-9 3.5l-8.9 3.1l-9 2.7l-9 2.3l-9 2l-9 1.6l-9 1.2l-9 0.8l-9 0.4l-9 0.1l-9-0.4l-8.9-0.7l-9-1.1l-9-1.5l-9-1.8l-9-2.3l-9-2.6l-9-3l-9-3.4l-9-3.8l-9-4.2l-8.9-4.5l-9-4.9l-9-5.3l-9-5.7l-9-6.1l-9-6.5l-9-6.8l-9-7.2l-9-7.6l-9-8l-8.9-8.4l-9-8.7l-9-9.2l-9-9.5l-9-9.9l-9-10.3l-9-10.6l-9-11.1l-9-11.4z" fill="url(#g46)" fill-opacity="0.75"/><path d="M75.4 678.8l2 13.1m7-1.4l2 12.8m7-1.5l2 12.6m7-1.6l2 12.2m6.9-1.6l2.1 11.9m6.9-1.8l2.1 11.7m6.9-1.9l2.1 11.4m6.9-1.9l2.1 11.1m6.9-2.1l2.1 10.8m6.9-2.1l2 10.5m7-2.3l2 10.3m7-2.4l2 10m7-2.5l2 9.7m7-2.6l2 9.4m6.9-2.6l2.1 9.1m6.9-2.8l2.1 8.9m6.9-2.9l2.1 8.6m6.9-3l2.1 8.3m6.9-3.1l2.1 8m6.9-3.1l2 7.6m7-3.2l2 7.4m7-3.3l2 7.1m7-3.5l2 6.9m7-3.6l2 6.6m6.9-3.6l2.1 6.2m6.9-3.7l2.1 6m6.9-3.9l2.1 5.7m6.9-3.9l2.1 5.4m6.9-4l2.1 5.1m6.9-4.1l2 4.8m7-4.2l2 4.6m7-4.3l2 4.2m7-4.4l2 4m7-4.5l2 3.7m6.9-4.6l2.1 3.4m6.9-4.7l2.1 3.1m6.9-4.8l2.1 2.8m6.9-4.9l2.1 2.6m6.9-5l2.1 2.3m6.9-5.1l2 2m7-5.2l2 1.7m7-5.3l2 1.4m7-5.4l2 1.1m7-5.4l2 0.8m6.9-5.6l2.1 0.6m6.9-5.7l2.1 0.3m6.9-5.8l2.1 0m6.9-5.9l2.1-0.3m6.9-6l2.1-0.5m6.9-6.1l2-0.9m7-6.1l2-1.2M75.4 678.8l9 11.7l9 11.3l9 11l8.9 10.6l9 10.1l9 9.8l9 9.5l9 9l9 8.7l9 8.2l9 7.9l9 7.5l9 7.1l8.9 6.8l9 6.3l9 6l9 5.6l9 5.2l9 4.9l9 4.4l9 4.1l9 3.6l9 3.3l8.9 3l9 2.5l9 2.1l9 1.8l9 1.4l9 1l9 0.6l9 0.3l9-0.2l9-0.5l8.9-0.9l9-1.3l9-1.7l9-2.1l9-2.4l9-2.8l9-3.2l9-3.6l9-4l9-4.3l8.9-4.8l9-5.1l9-5.5l9-5.9l9-6.3l9-6.6l9-7" stroke="#000" stroke-opacity="0.6" stroke-width="0.8" fill="none"/><path d="M77.4 691.9l9 11.4l9 11.1l9 10.6l9 10.3l9 9.9l9 9.5l9 9.2l9 8.7l8.9 8.4l9 8l9 7.6l9 7.2l9 6.8l9 6.5l9 6.1l9 5.7l9 5.3l9 4.9l8.9 4.5l9 4.2l9 3.8l9 3.4l9 3l9 2.6l9 2.3l9 1.8l9 1.5l9 1.1l8.9 0.7l9 0.4l9-0.1l9-0.4l9-0.8l9-1.2l9-1.6l9-2l9-2.3l9-2.7l8.9-3.1l9-3.5l9-3.9l9-4.3l9-4.6l9-5l9-5.4l9-5.8l9-6.2l9-6.5l8.9-7l9-7.3l2.1-2.3l-9 7.7l-9 7.2l-9 6.9l-9 6.5l-9 6.1l-9 5.8l-8.9 5.3l-9 5l-9 4.6l-9 4.2l-9 3.8l-9 3.5l-9 3l-9 2.7l-9 2.3l-9 1.9l-8.9 1.5l-9 1.2l-9 0.8l-9 0.3l-9 0l-9-0.4l-9-0.7l-9-1.2l-9-1.5l-9-1.9l-8.9-2.3l-9-2.7l-9-3.1l-9-3.4l-9-3.8l-9-4.2l-9-4.6l-9-5l-9-5.4l-9-5.7l-8.9-6.1l-9-6.5l-9-6.9l-9-7.3l-9-7.6l-9-8.1l-9-8.4l-9-8.8l-9-9.2l-9-9.5l-8.9-10l-9-10.3l-9-10.7l-9-11.1z" fill="url(#g47)" fill-opacity="0.75"/><path d="M77.4 691.9l2.1 14.4m6.9-3l2.1 14.1m6.9-3l2.1 13.7m6.9-3.1l2.1 13.4m6.9-3.1l2 13.1m7-3.2l2 12.7m7-3.2l2 12.4m7-3.2l2 12m7-3.3l2 11.7m6.9-3.3l2.1 11.4m6.9-3.4l2.1 11m6.9-3.4l2.1 10.7m6.9-3.5l2.1 10.4m6.9-3.6l2.1 10.1m6.9-3.6l2 9.7m7-3.6l2 9.3m7-3.6l2 9m7-3.7l2 8.7m7-3.8l2 8.4m6.9-3.9l2.1 8.1m6.9-3.9l2.1 7.7m6.9-3.9l2.1 7.3m6.9-3.9l2.1 7m6.9-4l2.1 6.7m6.9-4.1l2 6.4m7-4.1l2 6m7-4.2l2 5.7m7-4.2l2 5.4m7-4.3l2 5m6.9-4.3l2.1 4.7m6.9-4.3l2.1 4.3m6.9-4.4l2.1 4.1m6.9-4.5l2.1 3.7m6.9-4.5l2.1 3.3m6.9-4.5l2 3m7-4.6l2 2.7m7-4.7l2 2.4m7-4.7l2 2m7-4.7l2 1.7m6.9-4.8l2.1 1.3m6.9-4.8l2.1 1m6.9-4.9l2.1 0.7m6.9-5l2.1 0.4m6.9-5l2.1 0m6.9-5l2-0.3m7-5.1l2-0.7m7-5.1l2-1m7-5.2l2-1.3m7-5.2l2-1.7m6.9-5.3l2.1-1.9m6.9-5.4l2.1-2.3M77.4 691.9l9 11.4l9 11.1l9 10.6l9 10.3l9 9.9l9 9.5l9 9.2l9 8.7l8.9 8.4l9 8l9 7.6l9 7.2l9 6.8l9 6.5l9 6.1l9 5.7l9 5.3l9 4.9l8.9 4.5l9 4.2l9 3.8l9 3.4l9 3l9 2.6l9 2.3l9 1.8l9 1.5l9 1.1l8.9 0.7l9 0.4l9-0.1l9-0.4l9-0.8l9-1.2l9-1.6l9-2l9-2.3l9-2.7l8.9-3.1l9-3.5l9-3.9l9-4.3l9-4.6l9-5l9-5.4l9-5.8l9-6.2l9-6.5l8.9-7l9-7.3" stroke="#000" stroke-opacity="0.6" stroke-width="0.8" fill="none"/><path d="M79.5 706.3l9 11.1l9 10.7l9 10.3l8.9 10l9 9.5l9 9.2l9 8.8l9 8.4l9 8.1l9 7.6l9 7.3l9 6.9l9 6.5l8.9 6.1l9 5.7l9 5.4l9 5l9 4.6l9 4.2l9 3.8l9 3.4l9 3.1l9 2.7l8.9 2.3l9 1.9l9 1.5l9 1.2l9 0.7l9 0.4l9 0l9-0.3l9-0.8l9-1.2l8.9-1.5l9-1.9l9-2.3l9-2.7l9-3l9-3.5l9-3.8l9-4.2l9-4.6l9-5l8.9-5.3l9-5.8l9-6.1l9-6.5l9-6.9l9-7.2l9-7.7l2-3.6l-9 8l-9 7.7l-8.9 7.3l-9 6.8l-9 6.5l-9 6.2l-9 5.7l-9 5.4l-9 4.9l-9 4.6l-9 4.2l-9 3.8l-8.9 3.5l-9 3l-9 2.7l-9 2.3l-9 1.9l-9 1.6l-9 1.1l-9 0.8l-9 0.4l-9 0l-8.9-0.4l-9-0.8l-9-1.2l-9-1.5l-9-1.9l-9-2.3l-9-2.7l-9-3l-9-3.5l-9-3.8l-8.9-4.2l-9-4.6l-9-5l-9-5.3l-9-5.8l-9-6.1l-9-6.5l-9-6.9l-9-7.3l-9-7.6l-8.9-8.1l-9-8.4l-9-8.8l-9-9.2l-9-9.5l-9-10l-9-10.3l-9-10.7z" fill="url(#g48)" fill-opacity="0.75"/><path d="M79.5 706.3l2 15.5m7-4.4l2 15.1m7-4.4l2 14.7m7-4.4l2 14.4m6.9-4.4l2.1 13.9m6.9-4.4l2.1 13.6m6.9-4.4l2.1 13.2m6.9-4.4l2.1 12.8m6.9-4.4l2 12.5m7-4.4l2 12m7-4.4l2 11.7m7-4.4l2 11.3m7-4.4l2 10.9m7-4.4l2 10.5m6.9-4.4l2.1 10.2m6.9-4.5l2.1 9.8m6.9-4.4l2.1 9.4m6.9-4.4l2.1 9m6.9-4.4l2 8.6m7-4.4l2 8.2m7-4.4l2 7.9m7-4.5l2 7.5m7-4.4l2 7.1m7-4.4l2 6.7m6.9-4.4l2.1 6.3m6.9-4.4l2.1 5.9m6.9-4.4l2.1 5.6m6.9-4.4l2.1 5.2m6.9-4.5l2 4.9m7-4.5l2 4.5m7-4.5l2 4.1m7-4.4l2 3.6m7-4.4l2 3.3m7-4.5l2 2.9m6.9-4.4l2.1 2.5m6.9-4.4l2.1 2.1m6.9-4.4l2.1 1.7m6.9-4.4l2.1 1.4m6.9-4.4l2 0.9m7-4.4l2 0.6m7-4.4l2 0.2m7-4.4l2-0.2m7-4.4l2-0.5m7-4.5l2-0.9m6.9-4.4l2.1-1.3m6.9-4.5l2.1-1.7m6.9-4.4l2.1-2.1m6.9-4.4l2.1-2.4m6.9-4.5l2-2.8m7-4.4l2-3.3m7-4.4l2-3.6M79.5 706.3l9 11.1l9 10.7l9 10.3l8.9 10l9 9.5l9 9.2l9 8.8l9 8.4l9 8.1l9 7.6l9 7.3l9 6.9l9 6.5l8.9 6.1l9 5.7l9 5.4l9 5l9 4.6l9 4.2l9 3.8l9 3.4l9 3.1l9 2.7l8.9 2.3l9 1.9l9 1.5l9 1.2l9 0.7l9 0.4l9 0l9-0.3l9-0.8l9-1.2l8.9-1.5l9-1.9l9-2.3l9-2.7l9-3l9-3.5l9-3.8l9-4.2l9-4.6l9-5l8.9-5.3l9-5.8l9-6.1l9-6.5l9-6.9l9-7.2l9-7.7" stroke="#000" stroke-opacity="0.6" stroke-width="0.8" fill="none"/><path d="M81.5 721.8l9 10.7l9 10.3l9 10l9 9.5l9 9.2l9 8.8l9 8.4l8.9 8.1l9 7.6l9 7.3l9 6.9l9 6.5l9 6.1l9 5.8l9 5.3l9 5l9 4.6l8.9 4.2l9 3.8l9 3.5l9 3l9 2.7l9 2.3l9 1.9l9 1.5l9 1.2l9 0.8l8.9 0.4l9 0l9-0.4l9-0.8l9-1.1l9-1.6l9-1.9l9-2.3l9-2.7l9-3l8.9-3.5l9-3.8l9-4.2l9-4.6l9-4.9l9-5.4l9-5.7l9-6.2l9-6.5l9-6.8l8.9-7.3l9-7.7l9-8l2.1-5.1l-9 8.5l-9 8.1l-9 7.7l-9 7.3l-9 6.9l-9 6.6l-9 6.2l-8.9 5.7l-9 5.5l-9 5l-9 4.6l-9 4.3l-9 3.8l-9 3.5l-9 3.1l-9 2.8l-9 2.3l-8.9 2l-9 1.5l-9 1.2l-9 0.8l-9 0.5l-9 0l-9-0.3l-9-0.7l-9-1.1l-9-1.5l-8.9-1.9l-9-2.2l-9-2.7l-9-3l-9-3.4l-9-3.7l-9-4.2l-9-4.6l-9-4.9l-9-5.3l-8.9-5.7l-9-6.1l-9-6.4l-9-6.9l-9-7.2l-9-7.6l-9-8l-9-8.3l-9-8.8l-9-9.1l-8.9-9.5l-9-10l-9-10.2z" fill="url(#g49)" fill-opacity="0.75"/><path d="M81.5 721.8l2.1 16.5m6.9-5.8l2.1 16m6.9-5.7l2.1 15.7m6.9-5.7l2 15.2m7-5.7l2 14.8m7-5.6l2 14.4m7-5.6l2 13.9m7-5.5l2 13.5m6.9-5.4l2.1 13m6.9-5.4l2.1 12.6m6.9-5.3l2.1 12.2m6.9-5.3l2.1 11.7m6.9-5.2l2.1 11.3m6.9-5.2l2 10.9m7-5.1l2 10.4m7-5.1l2 10m7-5l2 9.6m7-5l2 9.2m6.9-5l2.1 8.7m6.9-4.9l2.1 8.3m6.9-4.8l2.1 7.8m6.9-4.8l2.1 7.5m6.9-4.8l2.1 7m6.9-4.7l2 6.6m7-4.7l2 6.2m7-4.7l2 5.8m7-4.6l2 5.3m7-4.5l2 4.8m6.9-4.4l2.1 4.4m6.9-4.4l2.1 3.9m6.9-4.3l2.1 3.5m6.9-4.3l2.1 3.1m6.9-4.2l2.1 2.7m6.9-4.3l2 2.3m7-4.2l2 1.9m7-4.2l2 1.4m7-4.1l2 1m7-4l2 0.5m6.9-4l2.1 0.2m6.9-4l2.1-0.3m6.9-3.9l2.1-0.7m6.9-3.9l2.1-1.1m6.9-3.8l2.1-1.7m6.9-3.7l2-2m7-3.7l2-2.5m7-3.7l2-2.9m7-3.6l2-3.3m7-3.5l2-3.8m6.9-3.5l2.1-4.2m6.9-3.5l2.1-4.6m6.9-3.4l2.1-5.1M81.5 721.8l9 10.7l9 10.3l9 10l9 9.5l9 9.2l9 8.8l9 8.4l8.9 8.1l9 7.6l9 7.3l9 6.9l9 6.5l9 6.1l9 5.8l9 5.3l9 5l9 4.6l8.9 4.2l9 3.8l9 3.5l9 3l9 2.7l9 2.3l9 1.9l9 1.5l9 1.2l9 0.8l8.9 0.4l9 0l9-0.4l9-0.8l9-1.1l9-1.6l9-1.9l9-2.3l9-2.7l9-3l8.9-3.5l9-3.8l9-4.2l9-4.6l9-4.9l9-5.4l9-5.7l9-6.2l9-6.5l9-6.8l8.9-7.3l9-7.7l9-8" stroke="#000" stroke-opacity="0.6" stroke-width="0.8" fill="none"/><path d="M83.6 738.3l9 10.2l9 10l8.9 9.5l9 9.1l9 8.8l9 8.3l9 8l9 7.6l9 7.2l9 6.9l9 6.4l9 6.1l8.9 5.7l9 5.3l9 4.9l9 4.6l9 4.2l9 3.7l9 3.4l9 3l9 2.7l9 2.2l8.9 1.9l9 1.5l9 1.1l9 0.7l9 0.3l9 0l9-0.5l9-0.8l9-1.2l9-1.5l8.9-2l9-2.3l9-2.8l9-3.1l9-3.5l9-3.8l9-4.3l9-4.6l9-5l9-5.5l8.9-5.7l9-6.2l9-6.6l9-6.9l9-7.3l9-7.7l9-8.1l9-8.5l2-6.6l-9 8.9l-9 8.6l-8.9 8.2l-9 7.8l-9 7.4l-9 7l-9 6.7l-9 6.2l-9 5.9l-9 5.5l-9 5.1l-9 4.8l-8.9 4.3l-9 4l-9 3.6l-9 3.2l-9 2.8l-9 2.4l-9 2.1l-9 1.7l-9 1.3l-9 0.9l-8.9 0.5l-9 0.1l-9-0.2l-9-0.6l-9-1l-9-1.4l-9-1.8l-9-2.1l-9-2.6l-9-2.9l-8.9-3.3l-9-3.7l-9-4l-9-4.5l-9-4.8l-9-5.2l-9-5.6l-9-6l-9-6.3l-9-6.8l-8.9-7.1l-9-7.5l-9-7.9l-9-8.3l-9-8.6l-9-9.1l-9-9.4l-9-9.8z" fill="url(#g50)" fill-opacity="0.75"/><path d="M83.6 738.3l2 17.3m7-7.1l2 16.9m7-6.9l2 16.3m6.9-6.8l2.1 15.9m6.9-6.8l2.1 15.4m6.9-6.6l2.1 14.9m6.9-6.6l2.1 14.5m6.9-6.5l2.1 14m6.9-6.4l2 13.5m7-6.3l2 13.1m7-6.2l2 12.5m7-6.1l2 12.1m7-6l2 11.6m6.9-5.9l2.1 11.1m6.9-5.8l2.1 10.6m6.9-5.7l2.1 10.2m6.9-5.6l2.1 9.6m6.9-5.4l2.1 9.1m6.9-5.4l2 8.7m7-5.3l2 8.2m7-5.2l2 7.8m7-5.1l2 7.2m7-5l2 6.8m6.9-4.9l2.1 6.3m6.9-4.8l2.1 5.8m6.9-4.7l2.1 5.3m6.9-4.6l2.1 4.8m6.9-4.5l2.1 4.4m6.9-4.4l2 3.9m7-4.4l2 3.5m7-4.3l2 3m7-4.2l2 2.5m7-4l2 1.9m6.9-3.9l2.1 1.5m6.9-3.8l2.1 1m6.9-3.8l2.1 0.6m6.9-3.7l2.1 0.1m6.9-3.6l2.1-0.4m6.9-3.4l2-0.9m7-3.4l2-1.4m7-3.2l2-1.9m7-3.1l2-2.4m7-3.1l2-2.8m6.9-2.9l2.1-3.3m6.9-2.9l2.1-3.8m6.9-2.8l2.1-4.2m6.9-2.7l2.1-4.7m6.9-2.6l2.1-5.2m6.9-2.5l2-5.7m7-2.4l2-6.2m7-2.3l2-6.6M83.6 738.3l9 10.2l9 10l8.9 9.5l9 9.1l9 8.8l9 8.3l9 8l9 7.6l9 7.2l9 6.9l9 6.4l9 6.1l8.9 5.7l9 5.3l9 4.9l9 4.6l9 4.2l9 3.7l9 3.4l9 3l9 2.7l9 2.2l8.9 1.9l9 1.5l9 1.1l9 0.7l9 0.3l9 0l9-0.5l9-0.8l9-1.2l9-1.5l8.9-2l9-2.3l9-2.8l9-3.1l9-3.5l9-3.8l9-4.3l9-4.6l9-5l9-5.5l8.9-5.7l9-6.2l9-6.6l9-6.9l9-7.3l9-7.7l9-8.1l9-8.5" stroke="#000" stroke-opacity="0.6" stroke-width="0.8" fill="none"/><path d="M85.6 755.6l9 9.8l9 9.4l9 9.1l9 8.6l9 8.3l9 7.9l9 7.5l8.9 7.1l9 6.8l9 6.3l9 6l9 5.6l9 5.2l9 4.8l9 4.5l9 4l9 3.7l8.9 3.3l9 2.9l9 2.6l9 2.1l9 1.8l9 1.4l9 1l9 0.6l9 0.2l9-0.1l8.9-0.5l9-0.9l9-1.3l9-1.7l9-2.1l9-2.4l9-2.8l9-3.2l9-3.6l9-4l8.9-4.3l9-4.8l9-5.1l9-5.5l9-5.9l9-6.2l9-6.7l9-7l9-7.4l9-7.8l8.9-8.2l9-8.6l9-8.9l2.1-8.5l-9 9.5l-9 9.1l-9 8.7l-9 8.3l-9 8l-9 7.5l-9 7.2l-9 6.8l-8.9 6.4l-9 6l-9 5.7l-9 5.2l-9 4.9l-9 4.5l-9 4.1l-9 3.8l-9 3.3l-9 3l-8.9 2.6l-9 2.2l-9 1.8l-9 1.4l-9 1.1l-9 0.7l-9 0.3l-9-0.1l-9-0.5l-9-0.9l-8.9-1.2l-9-1.6l-9-2l-9-2.4l-9-2.8l-9-3.1l-9-3.6l-9-3.9l-9-4.3l-9-4.7l-8.9-5.1l-9-5.4l-9-5.8l-9-6.2l-9-6.6l-9-7l-9-7.4l-9-7.7l-9-8.2l-9-8.5l-8.9-8.9l-9-9.2z" fill="url(#g51)" fill-opacity="0.75"/><path d="M85.6 755.6l2.1 18m6.9-8.2l2.1 17.4m6.9-8l2 16.9m7-7.8l2 16.3m7-7.7l2 15.9m7-7.6l2 15.3m7-7.4l2 14.8m7-7.3l2 14.3m6.9-7.2l2.1 13.8m6.9-7l2.1 13.2m6.9-6.9l2.1 12.7m6.9-6.7l2.1 12.1m6.9-6.5l2 11.6m7-6.4l2 11.1m7-6.3l2 10.6m7-6.1l2 10m7-6l2 9.6m7-5.9l2 9m6.9-5.7l2.1 8.5m6.9-5.6l2.1 8m6.9-5.4l2.1 7.4m6.9-5.3l2.1 6.9m6.9-5.1l2 6.3m7-4.9l2 5.8m7-4.8l2 5.3m7-4.7l2 4.8m7-4.6l2 4.3m7-4.4l2 3.7m6.9-4.2l2.1 3.1m6.9-4l2.1 2.6m6.9-3.9l2.1 2.1m6.9-3.8l2.1 1.6m6.9-3.7l2 1.1m7-3.5l2 0.5m7-3.3l2 0m7-3.2l2-0.6m7-3l2-1.1m7-2.9l2-1.6m6.9-2.7l2.1-2.2m6.9-2.6l2.1-2.6m6.9-2.5l2.1-3.2m6.9-2.3l2.1-3.7m6.9-2.2l2-4.2m7-2l2-4.8m7-1.9l2-5.3m7-1.7l2-5.8m7-1.6l2-6.4m7-1.4l2-6.9m6.9-1.3l2.1-7.4m6.9-1.2l2.1-7.9m6.9-1l2.1-8.5M85.6 755.6l9 9.8l9 9.4l9 9.1l9 8.6l9 8.3l9 7.9l9 7.5l8.9 7.1l9 6.8l9 6.3l9 6l9 5.6l9 5.2l9 4.8l9 4.5l9 4l9 3.7l8.9 3.3l9 2.9l9 2.6l9 2.1l9 1.8l9 1.4l9 1l9 0.6l9 0.2l9-0.1l8.9-0.5l9-0.9l9-1.3l9-1.7l9-2.1l9-2.4l9-2.8l9-3.2l9-3.6l9-4l8.9-4.3l9-4.8l9-5.1l9-5.5l9-5.9l9-6.2l9-6.7l9-7l9-7.4l9-7.8l8.9-8.2l9-8.6l9-8.9" stroke="#000" stroke-opacity="0.6" stroke-width="0.8" fill="none"/><path d="M87.7 773.6l9 9.2l8.9 8.9l9 8.5l9 8.2l9 7.7l9 7.4l9 7l9 6.6l9 6.2l9 5.8l9 5.4l8.9 5.1l9 4.7l9 4.3l9 3.9l9 3.6l9 3.1l9 2.8l9 2.4l9 2l9 1.6l8.9 1.2l9 0.9l9 0.5l9 0.1l9-0.3l9-0.7l9-1.1l9-1.4l9-1.8l9-2.2l8.9-2.6l9-3l9-3.3l9-3.8l9-4.1l9-4.5l9-4.9l9-5.2l9-5.7l9-6l8.9-6.4l9-6.8l9-7.2l9-7.5l9-8l9-8.3l9-8.7l9-9.1l9-9.5l2-10.4l-9 10l-9 9.7l-9 9.3l-8.9 8.9l-9 8.5l-9 8.1l-9 7.8l-9 7.4l-9 6.9l-9 6.6l-9 6.3l-9 5.8l-9 5.5l-8.9 5l-9 4.7l-9 4.4l-9 3.9l-9 3.5l-9 3.2l-9 2.8l-9 2.4l-9 2l-9 1.6l-8.9 1.3l-9 0.8l-9 0.5l-9 0.1l-9-0.3l-9-0.6l-9-1.1l-9-1.4l-9-1.8l-9-2.2l-8.9-2.6l-9-2.9l-9-3.4l-9-3.7l-9-4.1l-9-4.5l-9-4.9l-9-5.2l-9-5.7l-9-6l-8.9-6.4l-9-6.8l-9-7.1l-9-7.6l-9-7.9l-9-8.3l-9-8.7z" fill="url(#g52)" fill-opacity="0.75"/><path d="M87.7 773.6l2 18.4m7-9.2l2 17.9m6.9-9l2.1 17.3m6.9-8.8l2.1 16.7m6.9-8.5l2.1 16.1m6.9-8.4l2.1 15.5m6.9-8.1l2.1 14.9m6.9-7.9l2 14.3m7-7.7l2 13.7m7-7.5l2 13.2m7-7.4l2 12.6m7-7.2l2 12.1m6.9-7l2.1 11.5m6.9-6.8l2.1 10.9m6.9-6.6l2.1 10.3m6.9-6.4l2.1 9.8m6.9-6.2l2.1 9.1m6.9-6l2 8.6m7-5.8l2 8m7-5.6l2 7.4m7-5.4l2 6.8m7-5.2l2 6.3m6.9-5.1l2.1 5.7m6.9-4.8l2.1 5.1m6.9-4.6l2.1 4.5m6.9-4.4l2.1 3.9m6.9-4.2l2.1 3.4m6.9-4.1l2 2.8m7-3.9l2 2.3m7-3.7l2 1.7m7-3.5l2 1.1m7-3.3l2 0.5m6.9-3.1l2.1-0.1m6.9-2.9l2.1-0.6m6.9-2.7l2.1-1.2m6.9-2.6l2.1-1.8m6.9-2.3l2.1-2.4m6.9-2.1l2-2.9m7-2l2-3.5m7-1.7l2-4.1m7-1.6l2-4.7m7-1.3l2-5.3m6.9-1.1l2.1-5.8m6.9-1l2.1-6.4m6.9-0.8l2.1-7m6.9-0.5l2.1-7.6m6.9-0.4l2.1-8.1m6.9-0.2l2-8.7m7 0l2-9.3m7 0.2l2-9.9m7 0.4l2-10.4M87.7 773.6l9 9.2l8.9 8.9l9 8.5l9 8.2l9 7.7l9 7.4l9 7l9 6.6l9 6.2l9 5.8l9 5.4l8.9 5.1l9 4.7l9 4.3l9 3.9l9 3.6l9 3.1l9 2.8l9 2.4l9 2l9 1.6l8.9 1.2l9 0.9l9 0.5l9 0.1l9-0.3l9-0.7l9-1.1l9-1.4l9-1.8l9-2.2l8.9-2.6l9-3l9-3.3l9-3.8l9-4.1l9-4.5l9-4.9l9-5.2l9-5.7l9-6l8.9-6.4l9-6.8l9-7.2l9-7.5l9-8l9-8.3l9-8.7l9-9.1l9-9.5" stroke="#000" stroke-opacity="0.6" stroke-width="0.8" fill="none"/><path d="M89.7 792l9 8.7l9 8.3l9 7.9l9 7.6l9 7.1l9 6.8l8.9 6.4l9 6l9 5.7l9 5.2l9 4.9l9 4.5l9 4.1l9 3.7l9 3.4l9 2.9l8.9 2.6l9 2.2l9 1.8l9 1.4l9 1.1l9 0.6l9 0.3l9-0.1l9-0.5l9-0.8l8.9-1.3l9-1.6l9-2l9-2.4l9-2.8l9-3.2l9-3.5l9-3.9l9-4.4l9-4.7l8.9-5l9-5.5l9-5.8l9-6.3l9-6.6l9-6.9l9-7.4l9-7.8l9-8.1l9-8.5l8.9-8.9l9-9.3l9-9.7l9-10l2.1-12.7l-9 10.7l-9 10.3l-9 9.9l-9 9.5l-9 9.1l-9 8.8l-9 8.4l-9 8l-8.9 7.6l-9 7.2l-9 6.9l-9 6.5l-9 6l-9 5.7l-9 5.4l-9 4.9l-9 4.6l-9 4.1l-8.9 3.8l-9 3.4l-9 3l-9 2.7l-9 2.2l-9 1.9l-9 1.5l-9 1.1l-9 0.8l-9 0.3l-8.9 0l-9-0.5l-9-0.8l-9-1.1l-9-1.6l-9-2l-9-2.3l-9-2.7l-9-3.1l-9-3.5l-8.9-3.8l-9-4.3l-9-4.6l-9-5l-9-5.4l-9-5.8l-9-6.1l-9-6.6l-9-6.9l-9-7.3l-8.9-7.7l-9-8.1z" fill="url(#g53)" fill-opacity="0.75"/><path d="M89.7 792l2.1 18.6m6.9-9.9l2.1 18m6.9-9.7l2 17.4m7-9.5l2 16.8m7-9.2l2 16.1m7-9l2 15.6m7-8.8l2 14.9m6.9-8.5l2.1 14.3m6.9-8.3l2.1 13.7m6.9-8l2.1 13m6.9-7.8l2.1 12.4m6.9-7.5l2.1 11.8m6.9-7.3l2 11.1m7-7l2 10.5m7-6.8l2 9.9m7-6.5l2 9.2m7-6.3l2 8.6m6.9-6l2.1 8m6.9-5.8l2.1 7.4m6.9-5.6l2.1 6.7m6.9-5.3l2.1 6.1m6.9-5l2.1 5.5m6.9-4.9l2 4.9m7-4.6l2 4.3m7-4.4l2 3.6m7-4.1l2 3m7-3.8l2 2.3m6.9-3.6l2.1 1.7m6.9-3.3l2.1 1.1m6.9-3.1l2.1 0.4m6.9-2.8l2.1-0.2m6.9-2.6l2.1-0.8m6.9-2.4l2-1.4m7-2.1l2-2m7-1.9l2-2.7m7-1.7l2-3.2m7-1.5l2-3.9m6.9-1.1l2.1-4.6m6.9-0.9l2.1-5.1m6.9-0.7l2.1-5.8m6.9-0.5l2.1-6.4m6.9-0.2l2.1-7m6.9 0.1l2-7.7m7 0.3l2-8.3m7 0.5l2-8.9m7 0.8l2-9.6m7 1.1l2-10.2m6.9 1.3l2.1-10.8m6.9 1.5l2.1-11.4m6.9 1.7l2.1-12m6.9 2l2.1-12.7M89.7 792l9 8.7l9 8.3l9 7.9l9 7.6l9 7.1l9 6.8l8.9 6.4l9 6l9 5.7l9 5.2l9 4.9l9 4.5l9 4.1l9 3.7l9 3.4l9 2.9l8.9 2.6l9 2.2l9 1.8l9 1.4l9 1.1l9 0.6l9 0.3l9-0.1l9-0.5l9-0.8l8.9-1.3l9-1.6l9-2l9-2.4l9-2.8l9-3.2l9-3.5l9-3.9l9-4.4l9-4.7l8.9-5l9-5.5l9-5.8l9-6.3l9-6.6l9-6.9l9-7.4l9-7.8l9-8.1l9-8.5l8.9-8.9l9-9.3l9-9.7l9-10" stroke="#000" stroke-opacity="0.6" stroke-width="0.8" fill="none"/><path d="M91.8 810.6l9 8.1l8.9 7.7l9 7.3l9 6.9l9 6.6l9 6.1l9 5.8l9 5.4l9 5l9 4.6l9 4.3l8.9 3.8l9 3.5l9 3.1l9 2.7l9 2.3l9 2l9 1.6l9 1.1l9 0.8l9 0.5l8.9 0l9-0.3l9-0.8l9-1.1l9-1.5l9-1.9l9-2.2l9-2.7l9-3l9-3.4l8.9-3.8l9-4.1l9-4.6l9-4.9l9-5.4l9-5.7l9-6l9-6.5l9-6.9l9-7.2l8.9-7.6l9-8l9-8.4l9-8.8l9-9.1l9-9.5l9-9.9l9-10.3l9-10.7l2-15.1l-9 11.3l-9 11l-9 10.6l-9 10.2l-8.9 9.8l-9 9.4l-9 9.1l-9 8.7l-9 8.2l-9 7.9l-9 7.6l-9 7.1l-9 6.8l-9 6.4l-8.9 6l-9 5.6l-9 5.2l-9 4.8l-9 4.5l-9 4.1l-9 3.7l-9 3.3l-9 2.9l-9 2.6l-8.9 2.2l-9 1.7l-9 1.5l-9 1l-9 0.6l-9 0.3l-9-0.2l-9-0.5l-9-0.9l-9-1.2l-8.9-1.7l-9-2l-9-2.5l-9-2.8l-9-3.1l-9-3.6l-9-4l-9-4.3l-9-4.7l-9-5.1l-8.9-5.5l-9-5.9l-9-6.2l-9-6.6l-9-7.1l-9-7.4z" fill="url(#g54)" fill-opacity="0.75"/><path d="M91.8 810.6l2 18.6m7-10.5l2 17.9m6.9-10.2l2.1 17.3m6.9-10l2.1 16.6m6.9-9.7l2.1 15.9m6.9-9.3l2.1 15.2m6.9-9.1l2 14.6m7-8.8l2 13.9m7-8.5l2 13.2m7-8.2l2 12.5m7-7.9l2 11.9m7-7.6l2 11.2m6.9-7.4l2.1 10.5m6.9-7l2.1 9.8m6.9-6.7l2.1 9.2m6.9-6.5l2.1 8.5m6.9-6.2l2 7.9m7-5.9l2 7.1m7-5.5l2 6.4m7-5.3l2 5.8m7-5l2 5.2m7-4.7l2 4.4m6.9-4.4l2.1 3.8m6.9-4.1l2.1 3.1m6.9-3.9l2.1 2.4m6.9-3.5l2.1 1.8m6.9-3.3l2 1.1m7-3l2 0.4m7-2.6l2-0.3m7-2.4l2-0.9m7-2.1l2-1.6m7-1.8l2-2.3m6.9-1.5l2.1-3m6.9-1.1l2.1-3.7m6.9-0.9l2.1-4.3m6.9-0.6l2.1-5m6.9-0.4l2-5.6m7-0.1l2-6.3m7 0.3l2-7.1m7 0.6l2-7.7m7 0.8l2-8.4m7 1.2l2-9.1m6.9 1.5l2.1-9.7m6.9 1.7l2.1-10.4m6.9 2l2.1-11.1m6.9 2.3l2.1-11.7m6.9 2.6l2-12.4m7 2.9l2-13.1m7 3.2l2-13.8m7 3.5l2-14.5m7 3.8l2-15.1M91.8 810.6l9 8.1l8.9 7.7l9 7.3l9 6.9l9 6.6l9 6.1l9 5.8l9 5.4l9 5l9 4.6l9 4.3l8.9 3.8l9 3.5l9 3.1l9 2.7l9 2.3l9 2l9 1.6l9 1.1l9 0.8l9 0.5l8.9 0l9-0.3l9-0.8l9-1.1l9-1.5l9-1.9l9-2.2l9-2.7l9-3l9-3.4l8.9-3.8l9-4.1l9-4.6l9-4.9l9-5.4l9-5.7l9-6l9-6.5l9-6.9l9-7.2l8.9-7.6l9-8l9-8.4l9-8.8l9-9.1l9-9.5l9-9.9l9-10.3l9-10.7" stroke="#000" stroke-opacity="0.6" stroke-width="0.8" fill="none"/><path d="M93.8 829.2l9 7.4l9 7.1l9 6.6l9 6.2l9 5.9l8.9 5.5l9 5.1l9 4.7l9 4.3l9 4l9 3.6l9 3.1l9 2.8l9 2.5l9 2l8.9 1.7l9 1.2l9 0.9l9 0.5l9 0.2l9-0.3l9-0.6l9-1l9-1.5l9-1.7l8.9-2.2l9-2.6l9-2.9l9-3.3l9-3.7l9-4.1l9-4.5l9-4.8l9-5.2l9-5.6l8.9-6l9-6.4l9-6.8l9-7.1l9-7.6l9-7.9l9-8.2l9-8.7l9-9.1l9-9.4l8.9-9.8l9-10.2l9-10.6l9-11l9-11.3l2.1-17.9l-9 12.1l-9 11.7l-9 11.3l-9 10.9l-9 10.6l-9 10.1l-9 9.8l-9 9.4l-9 9l-8.9 8.6l-9 8.3l-9 7.9l-9 7.4l-9 7.1l-9 6.8l-9 6.3l-9 5.9l-9 5.6l-9 5.2l-8.9 4.8l-9 4.4l-9 4.1l-9 3.6l-9 3.3l-9 2.9l-9 2.5l-9 2.1l-9 1.8l-9 1.4l-8.9 0.9l-9 0.6l-9 0.2l-9-0.1l-9-0.6l-9-0.9l-9-1.3l-9-1.7l-9-2.1l-9-2.5l-8.9-2.8l-9-3.2l-9-3.7l-9-3.9l-9-4.4l-9-4.8l-9-5.1l-9-5.5l-9-6l-9-6.2l-8.9-6.7z" fill="url(#g55)" fill-opacity="0.75"/><path d="M93.8 829.2l2.1 18.4m6.9-11l2 17.7m7-10.6l2 16.8m7-10.2l2 16.2m7-10l2 15.5m7-9.6l2 14.7m6.9-9.2l2.1 14m6.9-8.9l2.1 13.3m6.9-8.6l2.1 12.5m6.9-8.2l2.1 11.9m6.9-7.9l2.1 11.1m6.9-7.5l2 10.3m7-7.2l2 9.7m7-6.9l2 9m7-6.5l2 8.2m7-6.2l2 7.5m6.9-5.8l2.1 6.7m6.9-5.5l2.1 6.1m6.9-5.2l2.1 5.3m6.9-4.8l2.1 4.6m6.9-4.4l2.1 3.8m6.9-4.1l2 3.2m7-3.8l2 2.4m7-3.4l2 1.6m7-3.1l2 1m7-2.7l2 0.2m6.9-2.4l2.1-0.5m6.9-2.1l2.1-1.2m6.9-1.7l2.1-1.9m6.9-1.4l2.1-2.7m6.9-1l2.1-3.4m6.9-0.7l2-4.1m7-0.4l2-4.8m7 0l2-5.6m7 0.4l2-6.3m7 0.7l2-7m6.9 1l2.1-7.8m6.9 1.4l2.1-8.5m6.9 1.7l2.1-9.1m6.9 2l2.1-9.9m6.9 2.3l2.1-10.6m6.9 2.7l2-11.3m7 3.1l2-12.1m7 3.4l2-12.8m7 3.7l2-13.5m7 4.1l2-14.2m6.9 4.4l2.1-15m6.9 4.8l2.1-15.7m6.9 5.1l2.1-16.4m6.9 5.4l2.1-17.1m6.9 5.8l2.1-17.9M93.8 829.2l9 7.4l9 7.1l9 6.6l9 6.2l9 5.9l8.9 5.5l9 5.1l9 4.7l9 4.3l9 4l9 3.6l9 3.1l9 2.8l9 2.5l9 2l8.9 1.7l9 1.2l9 0.9l9 0.5l9 0.2l9-0.3l9-0.6l9-1l9-1.5l9-1.7l8.9-2.2l9-2.6l9-2.9l9-3.3l9-3.7l9-4.1l9-4.5l9-4.8l9-5.2l9-5.6l8.9-6l9-6.4l9-6.8l9-7.1l9-7.6l9-7.9l9-8.2l9-8.7l9-9.1l9-9.4l8.9-9.8l9-10.2l9-10.6l9-11l9-11.3" stroke="#000" stroke-opacity="0.6" stroke-width="0.8" fill="none"/><path d="M95.9 847.6l8.9 6.7l9 6.2l9 6l9 5.5l9 5.1l9 4.8l9 4.4l9 3.9l9 3.7l9 3.2l8.9 2.8l9 2.5l9 2.1l9 1.7l9 1.3l9 0.9l9 0.6l9 0.1l9-0.2l9-0.6l8.9-0.9l9-1.4l9-1.8l9-2.1l9-2.5l9-2.9l9-3.3l9-3.6l9-4.1l9-4.4l8.9-4.8l9-5.2l9-5.6l9-5.9l9-6.3l9-6.8l9-7.1l9-7.4l9-7.9l9-8.3l8.9-8.6l9-9l9-9.4l9-9.8l9-10.1l9-10.6l9-10.9l9-11.3l9-11.7l9-12.1l2-20.8l-9 12.8l-9 12.5l-9 12.1l-9 11.7l-8.9 11.3l-9 10.9l-9 10.6l-9 10.1l-9 9.8l-9 9.4l-9 9l-9 8.7l-9 8.2l-9 7.9l-9 7.5l-8.9 7.1l-9 6.7l-9 6.4l-9 5.9l-9 5.6l-9 5.2l-9 4.8l-9 4.5l-9 4l-9 3.7l-8.9 3.3l-9 2.9l-9 2.5l-9 2.1l-9 1.8l-9 1.3l-9 1l-9 0.6l-9 0.3l-8.9-0.2l-9-0.5l-9-1l-9-1.3l-9-1.7l-9-2l-9-2.5l-9-2.8l-9-3.3l-9-3.6l-8.9-4l-9-4.3l-9-4.8l-9-5.1l-9-5.5l-9-5.9z" fill="url(#g56)" fill-opacity="0.75"/><path d="M95.9 847.6l2 17.8m6.9-11.1l2.1 17m6.9-10.8l2.1 16.3m6.9-10.3l2.1 15.4m6.9-9.9l2.1 14.7m6.9-9.6l2.1 13.9m6.9-9.1l2 13.1m7-8.7l2 12.3m7-8.4l2 11.7m7-8l2 10.8m7-7.6l2 10.1m6.9-7.3l2.1 9.3m6.9-6.8l2.1 8.5m6.9-6.4l2.1 7.7m6.9-6l2.1 7m6.9-5.7l2.1 6.2m6.9-5.3l2 5.5m7-4.9l2 4.6m7-4.5l2 3.9m7-4.1l2 3.1m7-3.7l2 2.4m6.9-3.3l2.1 1.5m6.9-2.9l2.1 0.8m6.9-2.6l2.1 0.1m6.9-2.2l2.1-0.7m6.9-1.8l2-1.5m7-1.4l2-2.3m7-1l2-3m7-0.6l2-3.9m7-0.2l2-4.6m7 0.2l2-5.4m6.9 0.6l2.1-6.2m6.9 1l2.1-6.9m6.9 1.3l2.1-7.7m6.9 1.8l2.1-8.5m6.9 2.2l2-9.3m7 2.5l2-10m7 2.9l2-10.8m7 3.4l2-11.6m7 3.7l2-12.4m7 4.1l2-13.1m6.9 4.5l2.1-13.9m6.9 4.9l2.1-14.7m6.9 5.3l2.1-15.4m6.9 5.6l2.1-16.2m6.9 6.1l2.1-17m6.9 6.4l2-17.7m7 6.8l2-18.5m7 7.2l2-19.3m7 7.6l2-20.1m7 8l2-20.8M95.9 847.6l8.9 6.7l9 6.2l9 6l9 5.5l9 5.1l9 4.8l9 4.4l9 3.9l9 3.7l9 3.2l8.9 2.8l9 2.5l9 2.1l9 1.7l9 1.3l9 0.9l9 0.6l9 0.1l9-0.2l9-0.6l8.9-0.9l9-1.4l9-1.8l9-2.1l9-2.5l9-2.9l9-3.3l9-3.6l9-4.1l9-4.4l8.9-4.8l9-5.2l9-5.6l9-5.9l9-6.3l9-6.8l9-7.1l9-7.4l9-7.9l9-8.3l8.9-8.6l9-9l9-9.4l9-9.8l9-10.1l9-10.6l9-10.9l9-11.3l9-11.7l9-12.1" stroke="#000" stroke-opacity="0.6" stroke-width="0.8" fill="none"/><path d="M97.9 865.4l3.7 2.5l3.8 2.4l3.7 2.4l3.8 2.3l3.7 2.2l3.8 2.2l3.7 2.1l3.8 2.1l3.7 1.9l3.8 1.9l3.7 1.9l3.8 1.7l3.7 1.8l3.7 1.6l3.8 1.6l3.7 1.5l3.8 1.4l3.7 1.4l3.8 1.3l3.7 1.2l3.8 1.2l3.7 1.1l3.8 1.1l3.7 1l3.7 0.9l3.8 0.8l3.7 0.8l3.8 0.7l3.7 0.6l3.8 0.6l3.7 0.5l3.8 0.5l3.7 0.4l3.8 0.3l3.7 0.2l3.8 0.2l3.7 0.1l3.7 0.1l3.8-0.1l3.7-0.1l3.8-0.1l3.7-0.2l3.8-0.3l3.7-0.4l3.8-0.4l3.7-0.5l3.8-0.5l3.7-0.6l3.7-0.7l3.8-0.8l3.7-0.8l3.8-0.9l3.7-0.9l3.8-1l3.7-1.1l3.8-1.2l3.7-1.2l3.8-1.3l3.7-1.3l3.7-1.4l3.8-1.5l3.7-1.5l3.8-1.7l3.7-1.6l3.8-1.8l3.7-1.8l3.8-1.9l3.7-1.9l3.8-2l3.7-2.1l3.8-2.2l3.7-2.2l3.7-2.3l3.8-2.3l3.7-2.4l3.8-2.5l3.7-2.5l3.8-2.6l3.7-2.7l3.8-2.8l3.7-2.8l3.8-2.8l3.7-3l3.7-3l3.8-3.1l3.7-3.1l3.8-3.2l3.7-3.3l3.8-3.3l3.7-3.4l3.8-3.5l3.7-3.6l3.8-3.6l3.7-3.6l3.8-3.8l3.7-3.8l3.7-3.9l3.8-3.9l3.7-4l3.8-4.1l3.7-4.1l3.8-4.2l3.7-4.3l3.8-4.3l3.7-4.4l3.8-4.5l3.7-4.5l3.8-4.6l3.7-4.7l3.7-4.7l3.8-4.8l3.7-4.9l3.8-4.9l3.7-5l3.8-5.1l3.7-5.1l3.8-5.2l3.7-5.3l3.8-5.3l3.7-5.4" stroke="#000" stroke-width="4.8" fill="none" stroke-linejoin="round"/></g>
<g><path d="M240.8 1448l-57.2-117.6M391.2 1443l-57.2-117.6M61.8 1394.1l451.2-14.8M183.6 1330.4l0-266M334 1325.4l0-266M33.2 1268.8l451.2-14.8l57.2 117.6M33.2 1202.3l451.2-14.8l57.2 117.6M33.2 1135.8l451.2-14.8l57.2 117.6M513 1379.3l0-266" stroke="#dcdcdc" stroke-width="1" fill="none"/><path d="M90.4 1452.9l-57.2-117.6M33.2 1069.3l451.2-14.8l57.2 117.6M541.6 1438.1l-451.2 14.8" stroke="#666" stroke-width="0.9" fill="none"/><path d="M541.6 1172.1l0 266" stroke="#bbb" stroke-width="0.9" fill="none"/><path d="M33.2 1335.3l451.2-14.8" stroke="#aaa" stroke-width="0.9" fill="none"/><path d="M541.6 1438.1l-57.2-117.6" stroke="#999" stroke-width="0.8" fill="none"/><path d="M33.2 1335.3l-5-9M33.2 1268.8l-5-9M33.2 1202.3l-5-9M33.2 1135.8l-5-9M33.2 1069.3l-5-9M90.4 1452.9l-11 0M61.8 1394.1l-11 0M33.2 1335.3l-11 0M90.4 1452.9l3.5 7M240.8 1448l3.5 7M391.2 1443l3.5 7M541.6 1438.1l3.5 7" stroke="#444" stroke-width="0.8" fill="none"/><path d="M33.2 1178.9l3.8 3.3l3.7 3.2l3.8 3.2l3.7 3.1l3.8 3l3.8 3l3.7 2.9l3.8 2.8l3.7 2.8l3.8 2.7l3.8 2.7l3.7 2.5l3.8 2.5l3.7 2.5l3.8 2.3l3.8 2.3l3.7 2.3l3.8 2.1l3.7 2.1l3.8 2.1l3.8 2l3.7 1.9l3.8 1.8l3.7 1.8l3.8 1.7l3.8 1.6l3.7 1.6l3.8 1.5l3.7 1.4l3.8 1.4l3.8 1.3l3.7 1.3l3.8 1.1l3.7 1.1l3.8 1.1l3.8 0.9l3.7 1l3.8 0.8l3.7 0.8l3.8 0.7l3.8 0.6l3.7 0.6l3.8 0.5l3.7 0.4l3.8 0.4l3.8 0.3l3.7 0.3l3.8 0.1l3.7 0.2l3.8 0l3.8 0l3.7-0.1l3.8-0.2l3.7-0.2l3.8-0.3l3.8-0.3l3.7-0.5l3.8-0.5l3.7-0.5l3.8-0.6l3.8-0.7l3.7-0.8l3.8-0.8l3.7-0.9l3.8-0.9l3.8-1.1l3.7-1l3.8-1.2l3.7-1.2l3.8-1.3l3.8-1.4l3.7-1.4l3.8-1.5l3.7-1.5l3.8-1.6l3.8-1.7l3.7-1.8l3.8-1.8l3.7-1.9l3.8-1.9l3.8-2.1l3.7-2l3.8-2.2l3.7-2.2l3.8-2.3l3.8-2.3l3.7-2.5l3.8-2.4l3.7-2.6l3.8-2.6l3.8-2.7l3.7-2.7l3.8-2.9l3.7-2.8l3.8-3l3.8-3l3.7-3.1l3.8-3.1l3.7-3.3l3.8-3.2l3.8-3.4l3.7-3.4l3.8-3.5l3.7-3.5l3.8-3.6l3.8-3.7l3.7-3.8l3.8-3.8l3.7-3.9l3.8-3.9l3.8-4l3.7-4.1l3.8-4.2l3.7-4.2l3.8-4.3l3.8-4.3l3.7-4.4l3.8-4.5l3.7-4.5l3.8-4.6" stroke="#ff0000" stroke-width="4.5" stroke-dasharray="20 21" stroke-dashoffset="2.5" fill="none"/><path d="M33.2 1178.9l9 7.8l9 7.4l9.1 7.1l9 6.6l9 6.3l9 5.9l9.1 5.5l9 5.2l9 4.7l9 4.4l9.1 4l9 3.6l9 3.2l9 2.8l9.1 2.4l9 2.1l9 1.7l9 1.3l9.1 0.9l9 0.5l9 0.2l9-0.2l9.1-0.6l9-1l9-1.4l9-1.8l9-2.1l9.1-2.6l9-2.9l9-3.3l9-3.7l9.1-4l9-4.5l9-4.8l9-5.2l9.1-5.6l9-6l9-6.3l9-6.8l9.1-7.1l9-7.5l9-7.9l9-8.3l9.1-8.6l9-9.1l9-9.4l9-9.8l9.1-10.2l9-10.6l9-10.9l2 10.6l-9 11l-9 10.5l-9 10.2l-9.1 9.8l-9 9.5l-9 9l-9 8.7l-9 8.2l-9.1 7.9l-9 7.5l-9 7.2l-9 6.7l-9.1 6.4l-9 5.9l-9 5.6l-9 5.3l-9.1 4.8l-9 4.4l-9 4.1l-9 3.7l-9.1 3.3l-9 2.9l-9 2.5l-9 2.2l-9.1 1.7l-9 1.4l-9 1l-9 0.6l-9.1 0.2l-9-0.1l-9-0.5l-9-1l-9-1.3l-9.1-1.6l-9-2.1l-9-2.5l-9-2.8l-9.1-3.2l-9-3.6l-9-4l-9-4.3l-9.1-4.8l-9-5.1l-9-5.5l-9-5.9l-9.1-6.3l-9-6.7l-9-7l-9-7.4l-9.1-7.9z" fill="url(#g57)" fill-opacity="0.75"/><path d="M33.2 1178.9l2 10.6m7-2.8l2.1 10.7m6.9-3.3l2.1 10.7m7-3.6l2 10.6m7-4l2 10.7m7-4.4l2.1 10.7m6.9-4.8l2.1 10.7m7-5.2l2 10.7m7-5.5l2 10.6m7-5.9l2.1 10.7m6.9-6.3l2.1 10.6m7-6.6l2 10.6m7-7l2 10.6m7-7.4l2.1 10.6m6.9-7.8l2.1 10.6m7-8.2l2 10.7m7-8.6l2 10.7m7-9l2.1 10.6m6.9-9.3l2.1 10.6m7-9.7l2 10.7m7-10.2l2 10.7m7-10.5l2 10.6m7-10.8l2.1 10.6m7-11.2l2 10.6m7-11.6l2 10.6m7-12l2 10.6m7-12.4l2.1 10.7m6.9-12.8l2.1 10.6m7-13.2l2 10.7m7-13.6l2 10.7m7-14l2.1 10.7m6.9-14.4l2.1 10.7m7-14.7l2 10.6m7-15.1l2 10.7m7-15.5l2.1 10.7m6.9-15.9l2.1 10.6m7-16.2l2 10.6m7-16.6l2 10.7m7-17l2.1 10.6m6.9-17.4l2.1 10.7m7-17.8l2 10.6m7-18.1l2 10.6m7-18.5l2.1 10.6m6.9-18.9l2.1 10.7m7-19.3l2 10.6m7-19.7l2 10.7m7-20.1l2 10.6m7-20.4l2.1 10.6m7-20.8l2 10.6m7-21.2l2 10.7m7-21.6l2 10.6M33.2 1178.9l9 7.8l9 7.4l9.1 7.1l9 6.6l9 6.3l9 5.9l9.1 5.5l9 5.2l9 4.7l9 4.4l9.1 4l9 3.6l9 3.2l9 2.8l9.1 2.4l9 2.1l9 1.7l9 1.3l9.1 0.9l9 0.5l9 0.2l9-0.2l9.1-0.6l9-1l9-1.4l9-1.8l9-2.1l9.1-2.6l9-2.9l9-3.3l9-3.7l9.1-4l9-4.5l9-4.8l9-5.2l9.1-5.6l9-6l9-6.3l9-6.8l9.1-7.1l9-7.5l9-7.9l9-8.3l9.1-8.6l9-9.1l9-9.4l9-9.8l9.1-10.2l9-10.6l9-10.9" stroke="#000" stroke-opacity="0.6" stroke-width="0.8" fill="none"/><path d="M35.2 1189.5l9.1 7.9l9 7.4l9 7l9 6.7l9.1 6.3l9 5.9l9 5.5l9 5.1l9.1 4.8l9 4.3l9 4l9 3.6l9.1 3.2l9 2.8l9 2.5l9 2.1l9.1 1.6l9 1.3l9 1l9 0.5l9 0.1l9.1-0.2l9-0.6l9-1l9-1.4l9.1-1.7l9-2.2l9-2.5l9-2.9l9.1-3.3l9-3.7l9-4.1l9-4.4l9.1-4.8l9-5.3l9-5.6l9-5.9l9.1-6.4l9-6.7l9-7.2l9-7.5l9.1-7.9l9-8.2l9-8.7l9-9l9-9.5l9.1-9.8l9-10.2l9-10.5l9-11l2.1 10.2l-9 11l-9.1 10.6l-9 10.2l-9 9.8l-9 9.4l-9.1 9l-9 8.7l-9 8.3l-9 7.9l-9.1 7.5l-9 7.1l-9 6.7l-9 6.4l-9.1 6l-9 5.6l-9 5.2l-9 4.8l-9 4.5l-9.1 4l-9 3.7l-9 3.3l-9 2.9l-9.1 2.5l-9 2.2l-9 1.8l-9 1.3l-9.1 1l-9 0.7l-9 0.2l-9-0.2l-9.1-0.5l-9-0.9l-9-1.3l-9-1.7l-9.1-2.1l-9-2.4l-9-2.8l-9-3.3l-9.1-3.6l-9-3.9l-9-4.4l-9-4.8l-9-5.1l-9.1-5.5l-9-5.9l-9-6.3l-9-6.6l-9.1-7.1l-9-7.4l-9-7.8z" fill="url(#g58)" fill-opacity="0.75"/><path d="M35.2 1189.5l2.1 10.3m7-2.4l2 10.2m7-2.8l2 10.2m7-3.2l2.1 10.3m6.9-3.6l2.1 10.2m7-3.9l2 10.2m7-4.3l2 10.2m7-4.7l2.1 10.2m6.9-5.1l2.1 10.2m7-5.4l2 10.2m7-5.9l2 10.3m7-6.3l2 10.2m7-6.6l2.1 10.2m7-7l2 10.3m7-7.5l2 10.3m7-7.8l2 10.2m7-8.1l2.1 10.2m7-8.6l2 10.3m7-9l2 10.3m7-9.3l2 10.2m7-9.7l2.1 10.2m6.9-10.1l2.1 10.3m7-10.5l2 10.3m7-10.9l2 10.2m7-11.2l2.1 10.2m6.9-11.6l2.1 10.3m7-12l2 10.2m7-12.4l2 10.2m7-12.7l2.1 10.2m6.9-13.1l2.1 10.2m7-13.5l2 10.2m7-13.9l2 10.2m7-14.3l2.1 10.3m6.9-14.7l2.1 10.2m7-15l2 10.2m7-15.5l2 10.3m7-15.9l2 10.3m7-16.2l2.1 10.2m7-16.6l2 10.2m7-16.9l2 10.2m7-17.4l2 10.3m7-17.8l2.1 10.3m7-18.2l2 10.3m7-18.5l2 10.2m7-18.9l2 10.2m7-19.2l2.1 10.2m6.9-19.7l2.1 10.3m7-20.1l2 10.3m7-20.5l2 10.3m7-20.8l2.1 10.2m6.9-21.2l2.1 10.2M35.2 1189.5l9.1 7.9l9 7.4l9 7l9 6.7l9.1 6.3l9 5.9l9 5.5l9 5.1l9.1 4.8l9 4.3l9 4l9 3.6l9.1 3.2l9 2.8l9 2.5l9 2.1l9.1 1.6l9 1.3l9 1l9 0.5l9 0.1l9.1-0.2l9-0.6l9-1l9-1.4l9.1-1.7l9-2.2l9-2.5l9-2.9l9.1-3.3l9-3.7l9-4.1l9-4.4l9.1-4.8l9-5.3l9-5.6l9-5.9l9.1-6.4l9-6.7l9-7.2l9-7.5l9.1-7.9l9-8.2l9-8.7l9-9l9-9.5l9.1-9.8l9-10.2l9-10.5l9-11" stroke="#000" stroke-opacity="0.6" stroke-width="0.8" fill="none"/><path d="M37.3 1199.8l9 7.8l9 7.4l9.1 7.1l9 6.6l9 6.3l9 5.9l9.1 5.5l9 5.1l9 4.8l9 4.4l9 3.9l9.1 3.6l9 3.3l9 2.8l9 2.4l9.1 2.1l9 1.7l9 1.3l9 0.9l9.1 0.5l9 0.2l9-0.2l9-0.7l9.1-1l9-1.3l9-1.8l9-2.2l9.1-2.5l9-2.9l9-3.3l9-3.7l9.1-4l9-4.5l9-4.8l9-5.2l9-5.6l9.1-6l9-6.4l9-6.7l9-7.1l9.1-7.5l9-7.9l9-8.3l9-8.7l9.1-9l9-9.4l9-9.8l9-10.2l9.1-10.6l9-11l2 9.9l-9 10.9l-9 10.6l-9 10.2l-9.1 9.8l-9 9.4l-9 9.1l-9 8.6l-9.1 8.3l-9 7.9l-9 7.5l-9 7.1l-9.1 6.8l-9 6.3l-9 6l-9 5.6l-9.1 5.2l-9 4.9l-9 4.4l-9 4.1l-9.1 3.6l-9 3.3l-9 2.9l-9 2.6l-9 2.1l-9.1 1.8l-9 1.4l-9 1l-9 0.6l-9.1 0.2l-9-0.1l-9-0.6l-9-0.9l-9.1-1.3l-9-1.7l-9-2l-9-2.5l-9.1-2.8l-9-3.2l-9-3.6l-9-4l-9.1-4.4l-9-4.7l-9-5.2l-9-5.5l-9.1-5.9l-9-6.2l-9-6.7l-9-7l-9-7.5l-9.1-7.8z" fill="url(#g59)" fill-opacity="0.75"/><path d="M37.3 1199.8l2 9.8m7-2l2.1 9.8m6.9-2.4l2.1 9.9m7-2.8l2 9.8m7-3.2l2 9.9m7-3.6l2 9.8m7-3.9l2.1 9.8m7-4.3l2 9.8m7-4.7l2 9.9m7-5.1l2 9.8m7-5.4l2.1 9.8m6.9-5.9l2.1 9.9m7-6.3l2 9.9m7-6.6l2 9.8m7-7l2.1 9.8m6.9-7.4l2.1 9.9m7-7.8l2 9.8m7-8.1l2 9.8m7-8.5l2.1 9.8m6.9-8.9l2.1 9.8m7-9.3l2 9.9m7-9.7l2 9.8m7-10l2.1 9.8m6.9-10.5l2.1 9.9m7-10.9l2 9.9m7-11.2l2 9.8m7-11.6l2.1 9.8m6.9-12l2.1 9.9m7-12.4l2 9.8m7-12.7l2 9.8m7-13.1l2 9.8m7-13.5l2.1 9.9m7-13.9l2 9.8m7-14.3l2 9.9m7-14.7l2 9.8m7-15l2.1 9.8m6.9-15.4l2.1 9.8m7-15.8l2 9.8m7-16.2l2 9.9m7-16.6l2.1 9.8m6.9-16.9l2.1 9.8m7-17.3l2 9.8m7-17.7l2 9.8m7-18.1l2.1 9.8m6.9-18.5l2.1 9.9m7-18.9l2 9.8m7-19.2l2 9.8m7-19.6l2.1 9.8m6.9-20l2.1 9.8m7-20.4l2 9.8m7-20.8l2 9.9M37.3 1199.8l9 7.8l9 7.4l9.1 7.1l9 6.6l9 6.3l9 5.9l9.1 5.5l9 5.1l9 4.8l9 4.4l9 3.9l9.1 3.6l9 3.3l9 2.8l9 2.4l9.1 2.1l9 1.7l9 1.3l9 0.9l9.1 0.5l9 0.2l9-0.2l9-0.7l9.1-1l9-1.3l9-1.8l9-2.2l9.1-2.5l9-2.9l9-3.3l9-3.7l9.1-4l9-4.5l9-4.8l9-5.2l9-5.6l9.1-6l9-6.4l9-6.7l9-7.1l9.1-7.5l9-7.9l9-8.3l9-8.7l9.1-9l9-9.4l9-9.8l9-10.2l9.1-10.6l9-11" stroke="#000" stroke-opacity="0.6" stroke-width="0.8" fill="none"/><path d="M39.3 1209.6l9.1 7.8l9 7.5l9 7l9 6.7l9 6.2l9.1 5.9l9 5.5l9 5.2l9 4.7l9.1 4.4l9 4l9 3.6l9 3.2l9.1 2.8l9 2.5l9 2l9 1.7l9.1 1.3l9 0.9l9 0.6l9 0.1l9.1-0.2l9-0.6l9-1l9-1.4l9.1-1.8l9-2.1l9-2.6l9-2.9l9-3.3l9.1-3.6l9-4.1l9-4.4l9-4.9l9.1-5.2l9-5.6l9-6l9-6.3l9.1-6.8l9-7.1l9-7.5l9-7.9l9.1-8.3l9-8.6l9-9.1l9-9.4l9.1-9.8l9-10.2l9-10.6l9-10.9l2.1 9.4l-9.1 11l-9 10.5l-9 10.2l-9 9.8l-9 9.5l-9.1 9l-9 8.7l-9 8.2l-9 7.9l-9.1 7.5l-9 7.2l-9 6.7l-9 6.4l-9.1 5.9l-9 5.6l-9 5.2l-9 4.9l-9.1 4.4l-9 4.1l-9 3.7l-9 3.3l-9.1 2.9l-9 2.5l-9 2.2l-9 1.7l-9.1 1.4l-9 1l-9 0.6l-9 0.2l-9-0.1l-9.1-0.5l-9-1l-9-1.3l-9-1.6l-9.1-2.1l-9-2.5l-9-2.8l-9-3.2l-9.1-3.6l-9-4l-9-4.3l-9-4.8l-9.1-5.1l-9-5.5l-9-5.9l-9-6.3l-9.1-6.7l-9-7l-9-7.5l-9-7.8z" fill="url(#g60)" fill-opacity="0.75"/><path d="M39.3 1209.6l2.1 9.4m7-1.6l2 9.4m7-1.9l2 9.4m7-2.4l2 9.4m7-2.7l2.1 9.4m6.9-3.2l2.1 9.5m7-3.6l2 9.5m7-4l2 9.5m7-4.3l2.1 9.4m6.9-4.7l2.1 9.5m7-5.1l2 9.4m7-5.4l2 9.4m7-5.8l2.1 9.4m6.9-6.2l2.1 9.4m7-6.6l2 9.4m7-6.9l2 9.4m7-7.4l2.1 9.5m6.9-7.8l2.1 9.4m7-8.1l2 9.4m7-8.5l2 9.5m7-8.9l2.1 9.4m6.9-9.3l2.1 9.4m7-9.6l2 9.4m7-10l2 9.4m7-10.4l2 9.4m7-10.8l2.1 9.4m7-11.2l2 9.5m7-11.6l2 9.4m7-12l2 9.5m7-12.4l2.1 9.5m6.9-12.8l2.1 9.5m7-13.1l2 9.4m7-13.5l2 9.4m7-13.8l2.1 9.4m6.9-14.3l2.1 9.4m7-14.6l2 9.4m7-15l2 9.4m7-15.4l2.1 9.5m6.9-15.8l2.1 9.4m7-16.2l2 9.5m7-16.6l2 9.4m7-16.9l2.1 9.4m6.9-17.3l2.1 9.4m7-17.7l2 9.5m7-18.1l2 9.4m7-18.5l2.1 9.5m6.9-18.9l2.1 9.4m7-19.2l2 9.4m7-19.6l2 9.4m7-20l2 9.5m7-20.4l2.1 9.4M39.3 1209.6l9.1 7.8l9 7.5l9 7l9 6.7l9 6.2l9.1 5.9l9 5.5l9 5.2l9 4.7l9.1 4.4l9 4l9 3.6l9 3.2l9.1 2.8l9 2.5l9 2l9 1.7l9.1 1.3l9 0.9l9 0.6l9 0.1l9.1-0.2l9-0.6l9-1l9-1.4l9.1-1.8l9-2.1l9-2.6l9-2.9l9-3.3l9.1-3.6l9-4.1l9-4.4l9-4.9l9.1-5.2l9-5.6l9-6l9-6.3l9.1-6.8l9-7.1l9-7.5l9-7.9l9.1-8.3l9-8.6l9-9.1l9-9.4l9.1-9.8l9-10.2l9-10.6l9-10.9" stroke="#000" stroke-opacity="0.6" stroke-width="0.8" fill="none"/><path d="M41.4 1219l9 7.8l9 7.5l9 7l9.1 6.7l9 6.3l9 5.9l9 5.5l9.1 5.1l9 4.8l9 4.3l9 4l9.1 3.6l9 3.2l9 2.8l9 2.5l9.1 2.1l9 1.6l9 1.3l9 1l9.1 0.5l9 0.1l9-0.2l9-0.6l9-1l9.1-1.4l9-1.7l9-2.2l9-2.5l9.1-2.9l9-3.3l9-3.7l9-4.1l9.1-4.4l9-4.9l9-5.2l9-5.6l9.1-5.9l9-6.4l9-6.7l9-7.2l9.1-7.5l9-7.9l9-8.2l9-8.7l9.1-9l9-9.5l9-9.8l9-10.2l9-10.5l9.1-11l2 9l-9 11l-9 10.5l-9.1 10.2l-9 9.8l-9 9.5l-9 9l-9.1 8.7l-9 8.2l-9 7.9l-9 7.5l-9 7.2l-9.1 6.7l-9 6.4l-9 6l-9 5.6l-9.1 5.2l-9 4.8l-9 4.4l-9 4.1l-9.1 3.7l-9 3.3l-9 2.9l-9 2.5l-9.1 2.2l-9 1.7l-9 1.4l-9 1l-9.1 0.6l-9 0.3l-9-0.2l-9-0.5l-9.1-0.9l-9-1.3l-9-1.7l-9-2.1l-9-2.4l-9.1-2.9l-9-3.2l-9-3.6l-9-4l-9.1-4.3l-9-4.8l-9-5.1l-9-5.5l-9.1-5.9l-9-6.3l-9-6.7l-9-7l-9.1-7.4l-9-7.8z" fill="url(#g61)" fill-opacity="0.75"/><path d="M41.4 1219l2 9.1m7-1.3l2 9.1m7-1.6l2.1 9m6.9-2l2.1 9m7-2.3l2 9m7-2.7l2 9m7-3.1l2.1 9m6.9-3.5l2.1 9m7-3.9l2 9m7-4.2l2 9m7-4.7l2.1 9m6.9-5l2.1 9m7-5.4l2 9m7-5.8l2 9m7-6.2l2.1 9.1m6.9-6.6l2.1 9m7-6.9l2 9m7-7.4l2 9.1m7-7.8l2 9.1m7-8.1l2.1 9m7-8.5l2 9m7-8.9l2 9.1m7-9.3l2 9m7-9.6l2.1 9m6.9-10l2.1 9m7-10.4l2 9m7-10.7l2 9m7-11.2l2.1 9m6.9-11.5l2.1 9m7-11.9l2 9m7-12.3l2 9m7-12.7l2.1 9m6.9-13.1l2.1 9m7-13.4l2 9m7-13.9l2 9.1m7-14.3l2.1 9.1m6.9-14.7l2.1 9.1m7-15l2 9m7-15.4l2 9m7-15.7l2.1 9m6.9-16.2l2.1 9m7-16.5l2 9m7-16.9l2 9m7-17.2l2 9m7-17.7l2.1 9m7-18l2 9m7-18.5l2 9m7-18.8l2 9m7-19.2l2.1 9m6.9-19.5l2.1 9m7-20l2 9M41.4 1219l9 7.8l9 7.5l9 7l9.1 6.7l9 6.3l9 5.9l9 5.5l9.1 5.1l9 4.8l9 4.3l9 4l9.1 3.6l9 3.2l9 2.8l9 2.5l9.1 2.1l9 1.6l9 1.3l9 1l9.1 0.5l9 0.1l9-0.2l9-0.6l9-1l9.1-1.4l9-1.7l9-2.2l9-2.5l9.1-2.9l9-3.3l9-3.7l9-4.1l9.1-4.4l9-4.9l9-5.2l9-5.6l9.1-5.9l9-6.4l9-6.7l9-7.2l9.1-7.5l9-7.9l9-8.2l9-8.7l9.1-9l9-9.5l9-9.8l9-10.2l9-10.5l9.1-11" stroke="#000" stroke-opacity="0.6" stroke-width="0.8" fill="none"/><path d="M43.4 1228.1l9 7.8l9.1 7.4l9 7l9 6.7l9 6.3l9.1 5.9l9 5.5l9 5.1l9 4.8l9.1 4.3l9 4l9 3.6l9 3.2l9.1 2.9l9 2.4l9 2.1l9 1.7l9 1.3l9.1 0.9l9 0.5l9 0.2l9-0.3l9.1-0.6l9-1l9-1.4l9-1.7l9.1-2.2l9-2.5l9-2.9l9-3.3l9.1-3.7l9-4.1l9-4.4l9-4.8l9.1-5.2l9-5.6l9-6l9-6.4l9.1-6.7l9-7.2l9-7.5l9-7.9l9-8.2l9.1-8.7l9-9l9-9.5l9-9.8l9.1-10.2l9-10.5l9-11l2.1 8.6l-9.1 11l-9 10.6l-9 10.1l-9 9.9l-9.1 9.4l-9 9l-9 8.7l-9 8.3l-9.1 7.8l-9 7.6l-9 7.1l-9 6.7l-9.1 6.4l-9 6l-9 5.6l-9 5.2l-9.1 4.8l-9 4.4l-9 4.1l-9 3.7l-9 3.3l-9.1 2.9l-9 2.5l-9 2.2l-9 1.7l-9.1 1.4l-9 1l-9 0.6l-9 0.3l-9.1-0.2l-9-0.5l-9-0.9l-9-1.3l-9.1-1.7l-9-2.1l-9-2.4l-9-2.9l-9.1-3.2l-9-3.6l-9-4l-9-4.3l-9.1-4.8l-9-5.1l-9-5.5l-9-5.9l-9-6.3l-9.1-6.7l-9-7l-9-7.4l-9-7.8z" fill="url(#g62)" fill-opacity="0.75"/><path d="M43.4 1228.1l2.1 8.6m6.9-0.8l2.1 8.6m7-1.2l2 8.6m7-1.6l2 8.6m7-1.9l2.1 8.6m6.9-2.3l2.1 8.6m7-2.7l2 8.6m7-3.1l2 8.6m7-3.5l2 8.6m7-3.8l2.1 8.6m7-4.3l2 8.6m7-4.6l2 8.6m7-5l2 8.6m7-5.4l2.1 8.6m7-5.7l2 8.6m7-6.2l2 8.6m7-6.5l2 8.6m7-6.9l2.1 8.6m6.9-7.3l2.1 8.6m7-7.7l2 8.6m7-8.1l2 8.6m7-8.4l2.1 8.6m6.9-8.9l2.1 8.6m7-9.2l2 8.6m7-9.6l2 8.6m7-10l2.1 8.6m6.9-10.3l2.1 8.6m7-10.8l2 8.6m7-11.1l2 8.6m7-11.5l2.1 8.6m6.9-11.9l2.1 8.6m7-12.3l2 8.6m7-12.7l2 8.6m7-13l2 8.6m7-13.4l2.1 8.6m7-13.8l2 8.6m7-14.2l2 8.6m7-14.6l2 8.6m7-15l2.1 8.6m7-15.3l2 8.6m7-15.8l2 8.7m7-16.2l2 8.6m7-16.5l2.1 8.7m6.9-16.9l2.1 8.6m7-17.3l2 8.6m7-17.6l2 8.6m7-18.1l2.1 8.7m6.9-18.5l2.1 8.6m7-18.8l2 8.7m7-19.2l2 8.6m7-19.6l2.1 8.6M43.4 1228.1l9 7.8l9.1 7.4l9 7l9 6.7l9 6.3l9.1 5.9l9 5.5l9 5.1l9 4.8l9.1 4.3l9 4l9 3.6l9 3.2l9.1 2.9l9 2.4l9 2.1l9 1.7l9 1.3l9.1 0.9l9 0.5l9 0.2l9-0.3l9.1-0.6l9-1l9-1.4l9-1.7l9.1-2.2l9-2.5l9-2.9l9-3.3l9.1-3.7l9-4.1l9-4.4l9-4.8l9.1-5.2l9-5.6l9-6l9-6.4l9.1-6.7l9-7.2l9-7.5l9-7.9l9-8.2l9.1-8.7l9-9l9-9.5l9-9.8l9.1-10.2l9-10.5l9-11" stroke="#000" stroke-opacity="0.6" stroke-width="0.8" fill="none"/><path d="M45.5 1236.7l9 7.8l9 7.4l9 7l9.1 6.7l9 6.3l9 5.9l9 5.5l9 5.1l9.1 4.8l9 4.3l9 4l9 3.6l9.1 3.2l9 2.9l9 2.4l9 2.1l9.1 1.7l9 1.3l9 0.9l9 0.5l9.1 0.2l9-0.3l9-0.6l9-1l9.1-1.4l9-1.7l9-2.2l9-2.5l9.1-2.9l9-3.3l9-3.7l9-4.1l9-4.4l9.1-4.8l9-5.2l9-5.6l9-6l9.1-6.4l9-6.7l9-7.1l9-7.6l9.1-7.8l9-8.3l9-8.7l9-9l9.1-9.4l9-9.9l9-10.1l9-10.6l9.1-11l2 8.2l-9 11l-9 10.6l-9.1 10.1l-9 9.9l-9 9.4l-9 9l-9.1 8.7l-9 8.3l-9 7.9l-9 7.5l-9.1 7.1l-9 6.7l-9 6.4l-9 6l-9.1 5.6l-9 5.2l-9 4.8l-9 4.5l-9.1 4l-9 3.7l-9 3.3l-9 2.9l-9.1 2.5l-9 2.2l-9 1.7l-9 1.4l-9 1l-9.1 0.6l-9 0.3l-9-0.2l-9-0.5l-9.1-0.9l-9-1.3l-9-1.7l-9-2.1l-9.1-2.4l-9-2.9l-9-3.2l-9-3.6l-9.1-4l-9-4.3l-9-4.8l-9-5.1l-9.1-5.5l-9-5.9l-9-6.3l-9-6.6l-9.1-7.1l-9-7.4l-9-7.8z" fill="url(#g63)" fill-opacity="0.75"/><path d="M45.5 1236.7l2 8.2m7-0.4l2 8.2m7-0.8l2 8.2m7-1.2l2.1 8.3m7-1.6l2 8.2m7-1.9l2 8.2m7-2.3l2 8.2m7-2.7l2.1 8.2m6.9-3.1l2.1 8.2m7-3.4l2 8.2m7-3.9l2 8.2m7-4.2l2.1 8.2m6.9-4.6l2.1 8.2m7-5l2 8.2m7-5.3l2 8.2m7-5.8l2.1 8.2m6.9-6.1l2.1 8.2m7-6.5l2 8.2m7-6.9l2 8.2m7-7.3l2.1 8.2m6.9-7.7l2.1 8.2m7-8l2 8.2m7-8.5l2 8.2m7-8.8l2.1 8.2m6.9-9.2l2.1 8.2m7-9.6l2 8.2m7-9.9l2 8.2m7-10.4l2 8.2m7-10.7l2.1 8.2m7-11.1l2 8.2m7-11.5l2 8.2m7-11.9l2 8.2m7-12.3l2.1 8.3m6.9-12.7l2.1 8.2m7-13l2 8.2m7-13.4l2 8.2m7-13.8l2.1 8.2m6.9-14.2l2.1 8.2m7-14.6l2 8.2m7-14.9l2 8.2m7-15.3l2.1 8.2m6.9-15.8l2.1 8.3m7-16.1l2 8.2m7-16.5l2 8.2m7-16.9l2.1 8.2m6.9-17.2l2.1 8.2m7-17.6l2 8.2m7-18.1l2 8.2m7-18.3l2.1 8.2m6.9-18.8l2.1 8.2m7-19.2l2 8.2M45.5 1236.7l9 7.8l9 7.4l9 7l9.1 6.7l9 6.3l9 5.9l9 5.5l9 5.1l9.1 4.8l9 4.3l9 4l9 3.6l9.1 3.2l9 2.9l9 2.4l9 2.1l9.1 1.7l9 1.3l9 0.9l9 0.5l9.1 0.2l9-0.3l9-0.6l9-1l9.1-1.4l9-1.7l9-2.2l9-2.5l9.1-2.9l9-3.3l9-3.7l9-4.1l9-4.4l9.1-4.8l9-5.2l9-5.6l9-6l9.1-6.4l9-6.7l9-7.1l9-7.6l9.1-7.8l9-8.3l9-8.7l9-9l9.1-9.4l9-9.9l9-10.1l9-10.6l9.1-11" stroke="#000" stroke-opacity="0.6" stroke-width="0.8" fill="none"/><path d="M47.5 1244.9l9 7.8l9 7.4l9.1 7.1l9 6.6l9 6.3l9 5.9l9.1 5.5l9 5.1l9 4.8l9 4.3l9.1 4l9 3.6l9 3.2l9 2.9l9.1 2.4l9 2.1l9 1.7l9 1.3l9.1 0.9l9 0.5l9 0.2l9-0.3l9.1-0.6l9-1l9-1.4l9-1.7l9-2.2l9.1-2.5l9-2.9l9-3.3l9-3.7l9.1-4l9-4.5l9-4.8l9-5.2l9.1-5.6l9-6l9-6.4l9-6.7l9.1-7.1l9-7.5l9-7.9l9-8.3l9.1-8.7l9-9l9-9.4l9-9.9l9.1-10.1l9-10.6l9-11l2 7.8l-9 11l-9 10.6l-9 10.1l-9.1 9.9l-9 9.4l-9 9l-9 8.7l-9 8.3l-9.1 7.8l-9 7.6l-9 7.1l-9 6.7l-9.1 6.4l-9 6l-9 5.6l-9 5.2l-9.1 4.8l-9 4.4l-9 4.1l-9 3.7l-9.1 3.3l-9 2.9l-9 2.5l-9 2.2l-9.1 1.7l-9 1.4l-9 1l-9 0.6l-9.1 0.3l-9-0.2l-9-0.5l-9-0.9l-9-1.3l-9.1-1.7l-9-2.1l-9-2.4l-9-2.9l-9.1-3.2l-9-3.6l-9-4l-9-4.3l-9.1-4.8l-9-5.1l-9-5.5l-9-5.9l-9.1-6.3l-9-6.7l-9-7l-9-7.4l-9.1-7.8z" fill="url(#g64)" fill-opacity="0.75"/><path d="M47.5 1244.9l2 7.8m7 0l2.1 7.8m6.9-0.4l2.1 7.8m7-0.7l2 7.7m7-1.1l2 7.8m7-1.5l2.1 7.8m6.9-1.9l2.1 7.8m7-2.3l2 7.8m7-2.7l2 7.8m7-3l2.1 7.8m6.9-3.5l2.1 7.8m7-3.8l2 7.8m7-4.2l2 7.8m7-4.6l2.1 7.8m6.9-4.9l2.1 7.8m7-5.4l2 7.8m7-5.7l2 7.8m7-6.1l2.1 7.8m6.9-6.5l2.1 7.8m7-6.9l2 7.8m7-7.3l2 7.8m7-7.6l2 7.8m7-8.1l2.1 7.8m7-8.4l2 7.8m7-8.8l2 7.8m7-9.2l2 7.8m7-9.5l2.1 7.8m6.9-10l2.1 7.8m7-10.3l2 7.8m7-10.7l2 7.8m7-11.1l2.1 7.8m6.9-11.5l2.1 7.8m7-11.8l2 7.7m7-12.2l2 7.8m7-12.6l2.1 7.8m6.9-13l2.1 7.8m7-13.4l2 7.8m7-13.8l2 7.8m7-14.2l2.1 7.8m6.9-14.5l2.1 7.8m7-14.9l2 7.8m7-15.3l2 7.7m7-15.6l2.1 7.8m6.9-16.1l2.1 7.8m7-16.5l2 7.8m7-16.8l2 7.8m7-17.2l2 7.8m7-17.7l2.1 7.8m7-17.9l2 7.8m7-18.4l2 7.8m7-18.8l2 7.8M47.5 1244.9l9 7.8l9 7.4l9.1 7.1l9 6.6l9 6.3l9 5.9l9.1 5.5l9 5.1l9 4.8l9 4.3l9.1 4l9 3.6l9 3.2l9 2.9l9.1 2.4l9 2.1l9 1.7l9 1.3l9.1 0.9l9 0.5l9 0.2l9-0.3l9.1-0.6l9-1l9-1.4l9-1.7l9-2.2l9.1-2.5l9-2.9l9-3.3l9-3.7l9.1-4l9-4.5l9-4.8l9-5.2l9.1-5.6l9-6l9-6.4l9-6.7l9.1-7.1l9-7.5l9-7.9l9-8.3l9.1-8.7l9-9l9-9.4l9-9.9l9.1-10.1l9-10.6l9-11" stroke="#000" stroke-opacity="0.6" stroke-width="0.8" fill="none"/><path d="M49.5 1252.7l9.1 7.8l9 7.4l9 7l9 6.7l9.1 6.3l9 5.9l9 5.5l9 5.1l9.1 4.8l9 4.3l9 4l9 3.6l9.1 3.2l9 2.9l9 2.4l9 2.1l9.1 1.7l9 1.3l9 0.9l9 0.5l9 0.2l9.1-0.3l9-0.6l9-1l9-1.4l9.1-1.7l9-2.2l9-2.5l9-2.9l9.1-3.3l9-3.7l9-4.1l9-4.4l9.1-4.8l9-5.2l9-5.6l9-6l9.1-6.4l9-6.7l9-7.1l9-7.6l9.1-7.8l9-8.3l9-8.7l9-9l9-9.4l9.1-9.9l9-10.1l9-10.6l9-11l2.1 7.4l-9 11l-9.1 10.5l-9 10.2l-9 9.8l-9 9.5l-9.1 9l-9 8.7l-9 8.2l-9 7.9l-9.1 7.5l-9 7.2l-9 6.7l-9 6.4l-9.1 6l-9 5.6l-9 5.2l-9 4.8l-9 4.4l-9.1 4.1l-9 3.7l-9 3.3l-9 2.9l-9.1 2.5l-9 2.2l-9 1.7l-9 1.4l-9.1 1l-9 0.6l-9 0.3l-9-0.2l-9.1-0.5l-9-0.9l-9-1.3l-9-1.7l-9.1-2.1l-9-2.4l-9-2.9l-9-3.2l-9.1-3.6l-9-4l-9-4.3l-9-4.8l-9-5.1l-9.1-5.5l-9-5.9l-9-6.3l-9-6.7l-9.1-7l-9-7.4l-9-7.8z" fill="url(#g65)" fill-opacity="0.75"/><path d="M49.5 1252.7l2.1 7.4m7 0.4l2 7.4m7 0l2 7.4m7-0.4l2.1 7.4m6.9-0.7l2.1 7.4m7-1.1l2 7.4m7-1.5l2 7.4m7-1.9l2.1 7.4m6.9-2.3l2.1 7.4m7-2.6l2 7.4m7-3.1l2 7.4m7-3.4l2 7.4m7-3.8l2.1 7.4m7-4.2l2 7.4m7-4.5l2 7.4m7-5l2 7.4m7-5.3l2.1 7.4m7-5.7l2 7.4m7-6.1l2 7.4m7-6.5l2 7.4m7-6.9l2.1 7.4m6.9-7.2l2.1 7.4m7-7.7l2 7.4m7-8l2 7.4m7-8.4l2.1 7.4m6.9-8.8l2.1 7.4m7-9.1l2 7.4m7-9.6l2 7.4m7-9.9l2.1 7.4m6.9-10.3l2.1 7.4m7-10.7l2 7.4m7-11.1l2 7.4m7-11.5l2.1 7.4m6.9-11.8l2.1 7.4m7-12.2l2 7.4m7-12.6l2 7.4m7-13l2 7.4m7-13.4l2.1 7.4m7-13.8l2 7.4m7-14.1l2 7.4m7-14.5l2 7.3m7-14.9l2.1 7.4m7-15.2l2 7.3m7-15.6l2 7.4m7-16.1l2 7.4m7-16.4l2.1 7.4m6.9-16.8l2.1 7.3m7-17.2l2 7.4m7-17.5l2 7.3m7-17.9l2.1 7.4m6.9-18.4l2.1 7.4M49.5 1252.7l9.1 7.8l9 7.4l9 7l9 6.7l9.1 6.3l9 5.9l9 5.5l9 5.1l9.1 4.8l9 4.3l9 4l9 3.6l9.1 3.2l9 2.9l9 2.4l9 2.1l9.1 1.7l9 1.3l9 0.9l9 0.5l9 0.2l9.1-0.3l9-0.6l9-1l9-1.4l9.1-1.7l9-2.2l9-2.5l9-2.9l9.1-3.3l9-3.7l9-4.1l9-4.4l9.1-4.8l9-5.2l9-5.6l9-6l9.1-6.4l9-6.7l9-7.1l9-7.6l9.1-7.8l9-8.3l9-8.7l9-9l9-9.4l9.1-9.9l9-10.1l9-10.6l9-11" stroke="#000" stroke-opacity="0.6" stroke-width="0.8" fill="none"/><path d="M51.6 1260.1l9 7.8l9 7.4l9.1 7l9 6.7l9 6.3l9 5.9l9.1 5.5l9 5.1l9 4.8l9 4.3l9 4l9.1 3.6l9 3.2l9 2.9l9 2.4l9.1 2.1l9 1.7l9 1.3l9 0.9l9.1 0.5l9 0.2l9-0.3l9-0.6l9.1-1l9-1.4l9-1.7l9-2.2l9.1-2.5l9-2.9l9-3.3l9-3.7l9.1-4.1l9-4.4l9-4.8l9-5.2l9-5.6l9.1-6l9-6.4l9-6.7l9-7.2l9.1-7.5l9-7.9l9-8.2l9-8.7l9.1-9l9-9.5l9-9.8l9-10.2l9.1-10.5l9-11l2 7l-9 11l-9 10.5l-9 10.2l-9.1 9.8l-9 9.5l-9 9l-9 8.7l-9.1 8.2l-9 7.9l-9 7.5l-9 7.2l-9.1 6.7l-9 6.4l-9 5.9l-9 5.6l-9.1 5.2l-9 4.9l-9 4.4l-9 4.1l-9.1 3.7l-9 3.3l-9 2.9l-9 2.5l-9 2.2l-9.1 1.7l-9 1.4l-9 1l-9 0.6l-9.1 0.2l-9-0.1l-9-0.5l-9-1l-9.1-1.3l-9-1.6l-9-2.1l-9-2.5l-9.1-2.8l-9-3.2l-9-3.6l-9-4l-9.1-4.3l-9-4.8l-9-5.1l-9-5.5l-9.1-5.9l-9-6.3l-9-6.7l-9-7l-9-7.5l-9.1-7.8z" fill="url(#g66)" fill-opacity="0.75"/><path d="M51.6 1260.1l2 6.9m7 0.9l2.1 6.9m6.9 0.5l2.1 7m7 0l2 7m7-0.3l2 7m7-0.7l2 7m7-1.1l2.1 7m7-1.5l2 7m7-1.9l2 7m7-2.2l2 7m7-2.7l2.1 7m6.9-3l2.1 7m7-3.4l2 7m7-3.8l2 7m7-4.1l2.1 6.9m6.9-4.5l2.1 7m7-4.9l2 7m7-5.3l2 6.9m7-5.6l2.1 6.9m6.9-6l2.1 7m7-6.5l2 7m7-6.8l2 6.9m7-7.2l2.1 7m6.9-7.6l2.1 7m7-8l2 7m7-8.4l2 7m7-8.7l2.1 7m6.9-9.2l2.1 7m7-9.5l2 7m7-9.9l2 7m7-10.3l2 7m7-10.7l2.1 7m7-11.1l2 7m7-11.4l2 7m7-11.8l2 6.9m7-12.1l2.1 6.9m6.9-12.5l2.1 6.9m7-12.9l2 7m7-13.4l2 7m7-13.7l2.1 7m6.9-14.2l2.1 7m7-14.5l2 7m7-14.9l2 7m7-15.2l2.1 7m6.9-15.7l2.1 7m7-16l2 7m7-16.5l2 7m7-16.8l2.1 7m6.9-17.2l2.1 7m7-17.5l2 7m7-18l2 7M51.6 1260.1l9 7.8l9 7.4l9.1 7l9 6.7l9 6.3l9 5.9l9.1 5.5l9 5.1l9 4.8l9 4.3l9 4l9.1 3.6l9 3.2l9 2.9l9 2.4l9.1 2.1l9 1.7l9 1.3l9 0.9l9.1 0.5l9 0.2l9-0.3l9-0.6l9.1-1l9-1.4l9-1.7l9-2.2l9.1-2.5l9-2.9l9-3.3l9-3.7l9.1-4.1l9-4.4l9-4.8l9-5.2l9-5.6l9.1-6l9-6.4l9-6.7l9-7.2l9.1-7.5l9-7.9l9-8.2l9-8.7l9.1-9l9-9.5l9-9.8l9-10.2l9.1-10.5l9-11" stroke="#000" stroke-opacity="0.6" stroke-width="0.8" fill="none"/><path d="M53.6 1267l9.1 7.8l9 7.5l9 7l9 6.7l9 6.3l9.1 5.9l9 5.5l9 5.1l9 4.8l9.1 4.3l9 4l9 3.6l9 3.2l9.1 2.8l9 2.5l9 2.1l9 1.6l9.1 1.3l9 1l9 0.5l9 0.1l9.1-0.2l9-0.6l9-1l9-1.4l9.1-1.7l9-2.2l9-2.5l9-2.9l9-3.3l9.1-3.7l9-4.1l9-4.4l9-4.9l9.1-5.2l9-5.6l9-5.9l9-6.4l9.1-6.7l9-7.2l9-7.5l9-7.9l9.1-8.2l9-8.7l9-9l9-9.5l9.1-9.8l9-10.2l9-10.5l9-11l2.1 6.6l-9.1 10.9l-9 10.6l-9 10.2l-9 9.8l-9 9.4l-9.1 9.1l-9 8.6l-9 8.3l-9 7.9l-9.1 7.5l-9 7.1l-9 6.8l-9 6.3l-9.1 6l-9 5.6l-9 5.2l-9 4.9l-9.1 4.4l-9 4.1l-9 3.6l-9 3.3l-9.1 2.9l-9 2.6l-9 2.1l-9 1.8l-9.1 1.4l-9 1l-9 0.6l-9 0.2l-9-0.1l-9.1-0.6l-9-0.9l-9-1.3l-9-1.7l-9.1-2l-9-2.5l-9-2.8l-9-3.2l-9.1-3.6l-9-4l-9-4.4l-9-4.7l-9.1-5.2l-9-5.5l-9-5.9l-9-6.2l-9.1-6.7l-9-7l-9-7.5l-9-7.8z" fill="url(#g67)" fill-opacity="0.75"/><path d="M53.6 1267l2.1 6.6m7 1.2l2 6.6m7 0.9l2 6.6m7 0.4l2 6.6m7 0.1l2.1 6.6m6.9-0.3l2.1 6.5m7-0.6l2 6.5m7-1l2 6.5m7-1.4l2.1 6.6m6.9-1.8l2.1 6.5m7-2.2l2 6.6m7-2.6l2 6.6m7-3l2.1 6.6m6.9-3.4l2.1 6.6m7-3.8l2 6.6m7-4.1l2 6.6m7-4.5l2.1 6.5m6.9-4.9l2.1 6.6m7-5.3l2 6.6m7-5.6l2 6.5m7-6l2.1 6.6m6.9-6.5l2.1 6.6m7-6.8l2 6.6m7-7.2l2 6.6m7-7.6l2 6.6m7-8l2.1 6.6m7-8.3l2 6.5m7-8.7l2 6.6m7-9.1l2 6.5m7-9.4l2.1 6.5m6.9-9.8l2.1 6.5m7-10.2l2 6.6m7-10.7l2 6.6m7-11l2.1 6.6m6.9-11.5l2.1 6.6m7-11.8l2 6.6m7-12.2l2 6.6m7-12.5l2.1 6.5m6.9-12.9l2.1 6.6m7-13.3l2 6.5m7-13.7l2 6.6m7-14.1l2.1 6.6m6.9-14.5l2.1 6.6m7-14.8l2 6.5m7-15.2l2 6.6m7-15.6l2.1 6.5m6.9-16l2.1 6.6m7-16.4l2 6.6m7-16.8l2 6.6m7-17.1l2 6.5m7-17.5l2.1 6.6M53.6 1267l9.1 7.8l9 7.5l9 7l9 6.7l9 6.3l9.1 5.9l9 5.5l9 5.1l9 4.8l9.1 4.3l9 4l9 3.6l9 3.2l9.1 2.8l9 2.5l9 2.1l9 1.6l9.1 1.3l9 1l9 0.5l9 0.1l9.1-0.2l9-0.6l9-1l9-1.4l9.1-1.7l9-2.2l9-2.5l9-2.9l9-3.3l9.1-3.7l9-4.1l9-4.4l9-4.9l9.1-5.2l9-5.6l9-5.9l9-6.4l9.1-6.7l9-7.2l9-7.5l9-7.9l9.1-8.2l9-8.7l9-9l9-9.5l9.1-9.8l9-10.2l9-10.5l9-11" stroke="#000" stroke-opacity="0.6" stroke-width="0.8" fill="none"/><path d="M55.7 1273.6l9 7.8l9 7.5l9 7l9.1 6.7l9 6.2l9 5.9l9 5.5l9.1 5.2l9 4.7l9 4.4l9 4l9.1 3.6l9 3.2l9 2.8l9 2.5l9.1 2l9 1.7l9 1.3l9 0.9l9.1 0.6l9 0.1l9-0.2l9-0.6l9-1l9.1-1.4l9-1.8l9-2.1l9-2.6l9.1-2.9l9-3.3l9-3.6l9-4.1l9.1-4.4l9-4.9l9-5.2l9-5.6l9.1-6l9-6.3l9-6.8l9-7.1l9.1-7.5l9-7.9l9-8.3l9-8.6l9.1-9.1l9-9.4l9-9.8l9-10.2l9-10.6l9.1-10.9l2 6.1l-9 11l-9 10.6l-9.1 10.2l-9 9.8l-9 9.4l-9 9l-9.1 8.7l-9 8.3l-9 7.9l-9 7.5l-9 7.1l-9.1 6.7l-9 6.4l-9 6l-9 5.6l-9.1 5.2l-9 4.8l-9 4.5l-9 4l-9.1 3.7l-9 3.3l-9 2.9l-9 2.5l-9.1 2.2l-9 1.8l-9 1.3l-9 1l-9.1 0.7l-9 0.2l-9-0.2l-9-0.5l-9.1-0.9l-9-1.3l-9-1.7l-9-2.1l-9-2.4l-9.1-2.8l-9-3.3l-9-3.6l-9-3.9l-9.1-4.4l-9-4.8l-9-5.1l-9-5.5l-9.1-5.9l-9-6.3l-9-6.6l-9-7.1l-9.1-7.4l-9-7.8z" fill="url(#g68)" fill-opacity="0.75"/><path d="M55.7 1273.6l2 6.2m7 1.6l2 6.2m7 1.3l2.1 6.1m6.9 0.9l2.1 6.2m7 0.5l2 6.1m7 0.1l2 6.2m7-0.3l2.1 6.2m6.9-0.7l2.1 6.2m7-1l2 6.1m7-1.4l2 6.2m7-1.8l2.1 6.2m6.9-2.2l2.1 6.1m7-2.5l2 6.1m7-2.9l2 6.2m7-3.4l2.1 6.2m6.9-3.7l2.1 6.1m7-4.1l2 6.2m7-4.5l2 6.2m7-4.9l2 6.2m7-5.3l2.1 6.2m7-5.6l2 6.1m7-6l2 6.2m7-6.4l2 6.2m7-6.8l2.1 6.1m6.9-7.1l2.1 6.1m7-7.5l2 6.2m7-8l2 6.2m7-8.3l2.1 6.1m6.9-8.7l2.1 6.2m7-9.1l2 6.2m7-9.5l2 6.2m7-9.8l2.1 6.1m6.9-10.2l2.1 6.2m7-10.6l2 6.1m7-11l2 6.2m7-11.4l2.1 6.2m6.9-11.8l2.1 6.2m7-12.2l2 6.2m7-12.5l2 6.1m7-12.9l2.1 6.2m6.9-13.3l2.1 6.2m7-13.7l2 6.2m7-14.1l2 6.2m7-14.5l2 6.2m7-14.8l2.1 6.1m7-15.2l2 6.2m7-15.6l2 6.2m7-16l2 6.2m7-16.4l2.1 6.2m6.9-16.8l2.1 6.2m7-17.1l2 6.1M55.7 1273.6l9 7.8l9 7.5l9 7l9.1 6.7l9 6.2l9 5.9l9 5.5l9.1 5.2l9 4.7l9 4.4l9 4l9.1 3.6l9 3.2l9 2.8l9 2.5l9.1 2l9 1.7l9 1.3l9 0.9l9.1 0.6l9 0.1l9-0.2l9-0.6l9-1l9.1-1.4l9-1.8l9-2.1l9-2.6l9.1-2.9l9-3.3l9-3.6l9-4.1l9.1-4.4l9-4.9l9-5.2l9-5.6l9.1-6l9-6.3l9-6.8l9-7.1l9.1-7.5l9-7.9l9-8.3l9-8.6l9.1-9.1l9-9.4l9-9.8l9-10.2l9-10.6l9.1-10.9" stroke="#000" stroke-opacity="0.6" stroke-width="0.8" fill="none"/><path d="M57.7 1279.8l9 7.8l9.1 7.4l9 7.1l9 6.6l9 6.3l9.1 5.9l9 5.5l9 5.1l9 4.8l9.1 4.4l9 3.9l9 3.6l9 3.3l9.1 2.8l9 2.4l9 2.1l9 1.7l9 1.3l9.1 0.9l9 0.5l9 0.2l9-0.2l9.1-0.7l9-1l9-1.3l9-1.8l9.1-2.2l9-2.5l9-2.9l9-3.3l9.1-3.7l9-4l9-4.5l9-4.8l9.1-5.2l9-5.6l9-6l9-6.4l9.1-6.7l9-7.1l9-7.5l9-7.9l9-8.3l9.1-8.7l9-9l9-9.4l9-9.8l9.1-10.2l9-10.6l9-11l2.1 5.8l-9.1 11l-9 10.5l-9 10.2l-9 9.8l-9.1 9.5l-9 9l-9 8.7l-9 8.2l-9.1 7.9l-9 7.5l-9 7.2l-9 6.7l-9.1 6.4l-9 5.9l-9 5.6l-9 5.3l-9.1 4.8l-9 4.4l-9 4.1l-9 3.7l-9 3.3l-9.1 2.9l-9 2.5l-9 2.2l-9 1.7l-9.1 1.4l-9 1l-9 0.6l-9 0.2l-9.1-0.1l-9-0.5l-9-1l-9-1.3l-9.1-1.6l-9-2.1l-9-2.5l-9-2.8l-9.1-3.2l-9-3.6l-9-4l-9-4.3l-9.1-4.8l-9-5.1l-9-5.5l-9-5.9l-9-6.3l-9.1-6.7l-9-7l-9-7.4l-9-7.9z" fill="url(#g69)" fill-opacity="0.75"/><path d="M57.7 1279.8l2.1 5.7m6.9 2.1l2.1 5.8m7 1.6l2 5.8m7 1.3l2 5.7m7 0.9l2.1 5.8m6.9 0.5l2.1 5.8m7 0.1l2 5.8m7-0.3l2 5.8m7-0.7l2 5.8m7-1l2.1 5.8m7-1.4l2 5.7m7-1.8l2 5.8m7-2.2l2 5.8m7-2.5l2.1 5.7m7-2.9l2 5.7m7-3.3l2 5.8m7-3.7l2 5.8m7-4.1l2.1 5.7m6.9-4.4l2.1 5.7m7-4.8l2 5.8m7-5.3l2 5.8m7-5.6l2.1 5.7m6.9-5.9l2.1 5.7m7-6.4l2 5.8m7-6.8l2 5.8m7-7.1l2.1 5.7m6.9-7.5l2.1 5.8m7-8l2 5.8m7-8.3l2 5.8m7-8.7l2.1 5.8m6.9-9.1l2.1 5.8m7-9.5l2 5.8m7-9.8l2 5.7m7-10.2l2 5.8m7-10.6l2.1 5.8m7-11l2 5.7m7-11.3l2 5.7m7-11.7l2 5.8m7-12.2l2.1 5.8m7-12.5l2 5.8m7-12.9l2 5.7m7-13.2l2 5.7m7-13.6l2.1 5.7m6.9-14l2.1 5.8m7-14.5l2 5.8m7-14.8l2 5.8m7-15.2l2.1 5.7m6.9-15.5l2.1 5.7m7-15.9l2 5.7m7-16.3l2 5.8m7-16.8l2.1 5.8M57.7 1279.8l9 7.8l9.1 7.4l9 7.1l9 6.6l9 6.3l9.1 5.9l9 5.5l9 5.1l9 4.8l9.1 4.4l9 3.9l9 3.6l9 3.3l9.1 2.8l9 2.4l9 2.1l9 1.7l9 1.3l9.1 0.9l9 0.5l9 0.2l9-0.2l9.1-0.7l9-1l9-1.3l9-1.8l9.1-2.2l9-2.5l9-2.9l9-3.3l9.1-3.7l9-4l9-4.5l9-4.8l9.1-5.2l9-5.6l9-6l9-6.4l9.1-6.7l9-7.1l9-7.5l9-7.9l9-8.3l9.1-8.7l9-9l9-9.4l9-9.8l9.1-10.2l9-10.6l9-11" stroke="#000" stroke-opacity="0.6" stroke-width="0.8" fill="none"/><path d="M59.8 1285.5l9 7.9l9 7.4l9 7l9.1 6.7l9 6.3l9 5.9l9 5.5l9 5.1l9.1 4.8l9 4.3l9 4l9 3.6l9.1 3.2l9 2.8l9 2.5l9 2.1l9.1 1.6l9 1.3l9 1l9 0.5l9.1 0.1l9-0.2l9-0.6l9-1l9.1-1.4l9-1.7l9-2.2l9-2.5l9.1-2.9l9-3.3l9-3.7l9-4.1l9-4.4l9.1-4.8l9-5.3l9-5.6l9-5.9l9.1-6.4l9-6.7l9-7.2l9-7.5l9.1-7.9l9-8.2l9-8.7l9-9l9.1-9.5l9-9.8l9-10.2l9-10.5l9.1-11l2 5.4l-9 10.9l-9 10.6l-9.1 10.2l-9 9.8l-9 9.4l-9 9.1l-9.1 8.6l-9 8.3l-9 7.9l-9 7.5l-9.1 7.1l-9 6.8l-9 6.3l-9 6l-9.1 5.6l-9 5.2l-9 4.8l-9 4.5l-9.1 4l-9 3.7l-9 3.3l-9 2.9l-9.1 2.6l-9 2.1l-9 1.8l-9 1.4l-9 1l-9.1 0.6l-9 0.2l-9-0.2l-9-0.5l-9.1-0.9l-9-1.3l-9-1.7l-9-2.1l-9.1-2.4l-9-2.8l-9-3.2l-9-3.6l-9.1-4l-9-4.4l-9-4.7l-9-5.2l-9.1-5.5l-9-5.9l-9-6.3l-9-6.6l-9.1-7.1l-9-7.4l-9-7.8z" fill="url(#g70)" fill-opacity="0.75"/><path d="M59.8 1285.5l2 5.4m7 2.5l2 5.3m7 2.1l2 5.3m7 1.7l2.1 5.4m7 1.3l2 5.3m7 1l2 5.3m7 0.6l2 5.3m7 0.2l2.1 5.3m6.9-0.2l2.1 5.4m7-0.6l2 5.3m7-1l2 5.4m7-1.4l2.1 5.4m6.9-1.8l2.1 5.4m7-2.2l2 5.4m7-2.6l2 5.4m7-2.9l2.1 5.3m6.9-3.2l2.1 5.3m7-3.7l2 5.4m7-4.1l2 5.4m7-4.4l2.1 5.3m6.9-4.8l2.1 5.3m7-5.2l2 5.4m7-5.6l2 5.4m7-6l2.1 5.4m6.9-6.4l2.1 5.4m7-6.8l2 5.4m7-7.1l2 5.3m7-7.5l2 5.4m7-7.9l2.1 5.3m7-8.2l2 5.3m7-8.6l2 5.3m7-9l2 5.3m7-9.4l2.1 5.4m6.9-9.8l2.1 5.3m7-10.1l2 5.3m7-10.6l2 5.4m7-11l2.1 5.4m6.9-11.3l2.1 5.3m7-11.7l2 5.4m7-12.1l2 5.3m7-12.5l2.1 5.4m6.9-12.9l2.1 5.4m7-13.3l2 5.4m7-13.6l2 5.3m7-14l2.1 5.4m6.9-14.4l2.1 5.3m7-14.8l2 5.4m7-15.2l2 5.4m7-15.6l2.1 5.4m6.9-15.9l2.1 5.3m7-16.3l2 5.4M59.8 1285.5l9 7.9l9 7.4l9 7l9.1 6.7l9 6.3l9 5.9l9 5.5l9 5.1l9.1 4.8l9 4.3l9 4l9 3.6l9.1 3.2l9 2.8l9 2.5l9 2.1l9.1 1.6l9 1.3l9 1l9 0.5l9.1 0.1l9-0.2l9-0.6l9-1l9.1-1.4l9-1.7l9-2.2l9-2.5l9.1-2.9l9-3.3l9-3.7l9-4.1l9-4.4l9.1-4.8l9-5.3l9-5.6l9-5.9l9.1-6.4l9-6.7l9-7.2l9-7.5l9.1-7.9l9-8.2l9-8.7l9-9l9.1-9.5l9-9.8l9-10.2l9-10.5l9.1-11" stroke="#000" stroke-opacity="0.6" stroke-width="0.8" fill="none"/><path d="M61.8 1290.9l3.8 3.3l3.7 3.2l3.8 3.2l3.7 3.1l3.8 3l3.8 3l3.7 2.9l3.8 2.8l3.7 2.8l3.8 2.7l3.8 2.7l3.7 2.5l3.8 2.5l3.7 2.5l3.8 2.3l3.8 2.3l3.7 2.3l3.8 2.1l3.7 2.1l3.8 2.1l3.8 2l3.7 1.9l3.8 1.8l3.7 1.8l3.8 1.7l3.8 1.6l3.7 1.6l3.8 1.5l3.7 1.4l3.8 1.4l3.8 1.3l3.7 1.3l3.8 1.1l3.7 1.1l3.8 1.1l3.8 0.9l3.7 1l3.8 0.8l3.7 0.8l3.8 0.7l3.8 0.6l3.7 0.6l3.8 0.5l3.7 0.4l3.8 0.4l3.8 0.3l3.7 0.3l3.8 0.1l3.7 0.2l3.8 0l3.8 0l3.7-0.1l3.8-0.2l3.7-0.2l3.8-0.3l3.8-0.3l3.7-0.5l3.8-0.5l3.7-0.5l3.8-0.6l3.8-0.7l3.7-0.8l3.8-0.8l3.7-0.9l3.8-0.9l3.8-1.1l3.7-1l3.8-1.2l3.7-1.2l3.8-1.3l3.8-1.4l3.7-1.4l3.8-1.5l3.7-1.5l3.8-1.6l3.8-1.7l3.7-1.8l3.8-1.8l3.7-1.9l3.8-1.9l3.8-2.1l3.7-2l3.8-2.2l3.7-2.2l3.8-2.3l3.8-2.3l3.7-2.5l3.8-2.4l3.7-2.6l3.8-2.6l3.8-2.7l3.7-2.7l3.8-2.9l3.7-2.8l3.8-3l3.8-3l3.7-3.1l3.8-3.1l3.7-3.3l3.8-3.2l3.8-3.4l3.7-3.4l3.8-3.5l3.7-3.5l3.8-3.6l3.8-3.7l3.7-3.8l3.8-3.8l3.7-3.9l3.8-3.9l3.8-4l3.7-4.1l3.8-4.2l3.7-4.2l3.8-4.3l3.8-4.3l3.7-4.4l3.8-4.5l3.7-4.5l3.8-4.6" stroke="#0000ff" stroke-width="4.8" stroke-dasharray="5.6 4.5" stroke-dashoffset="0" fill="none"/><path d="M61.8 1290.9l9 7.8l9 7.4l9.1 7.1l9 6.6l9 6.3l9 5.9l9.1 5.5l9 5.2l9 4.7l9 4.4l9.1 4l9 3.6l9 3.2l9 2.8l9.1 2.4l9 2.1l9 1.7l9 1.3l9.1 0.9l9 0.5l9 0.2l9-0.2l9.1-0.6l9-1l9-1.4l9-1.8l9-2.1l9.1-2.6l9-2.9l9-3.3l9-3.7l9.1-4l9-4.5l9-4.8l9-5.2l9.1-5.6l9-6l9-6.3l9-6.8l9.1-7.1l9-7.5l9-7.9l9-8.3l9.1-8.6l9-9.1l9-9.4l9-9.8l9.1-10.2l9-10.6l9-10.9l2 4.9l-9 11l-9 10.5l-9 10.2l-9.1 9.8l-9 9.5l-9 9l-9 8.7l-9 8.2l-9.1 7.9l-9 7.5l-9 7.2l-9 6.7l-9.1 6.4l-9 5.9l-9 5.6l-9 5.3l-9.1 4.8l-9 4.4l-9 4.1l-9 3.7l-9.1 3.3l-9 2.9l-9 2.5l-9 2.2l-9.1 1.7l-9 1.4l-9 1l-9 0.6l-9.1 0.2l-9-0.1l-9-0.5l-9-1l-9-1.3l-9.1-1.6l-9-2.1l-9-2.5l-9-2.8l-9.1-3.2l-9-3.6l-9-4l-9-4.3l-9.1-4.8l-9-5.1l-9-5.5l-9-5.9l-9.1-6.3l-9-6.7l-9-7l-9-7.4l-9.1-7.9z" fill="url(#g71)" fill-opacity="0.75"/><path d="M61.8 1290.9l2 4.9m7 2.9l2.1 5m6.9 2.4l2.1 5m7 2.1l2 4.9m7 1.7l2 5m7 1.3l2.1 5m6.9 0.9l2.1 5m7 0.5l2 5m7 0.2l2 4.9m7-0.2l2.1 5m6.9-0.6l2.1 4.9m7-0.9l2 4.9m7-1.3l2 4.9m7-1.7l2.1 4.9m6.9-2.1l2.1 4.9m7-2.5l2 5m7-2.9l2 5m7-3.3l2.1 4.9m6.9-3.6l2.1 4.9m7-4l2 5m7-4.5l2 5m7-4.8l2 4.9m7-5.1l2.1 4.9m7-5.5l2 4.9m7-5.9l2 4.9m7-6.3l2 4.9m7-6.7l2.1 5m6.9-7.1l2.1 4.9m7-7.5l2 5m7-7.9l2 5m7-8.3l2.1 5m6.9-8.7l2.1 5m7-9l2 4.9m7-9.4l2 5m7-9.8l2.1 5m6.9-10.2l2.1 4.9m7-10.5l2 4.9m7-10.9l2 5m7-11.3l2.1 4.9m6.9-11.7l2.1 5m7-12.1l2 4.9m7-12.4l2 4.9m7-12.8l2.1 4.9m6.9-13.2l2.1 5m7-13.6l2 4.9m7-14l2 5m7-14.4l2 4.9m7-14.7l2.1 4.9m7-15.1l2 4.9m7-15.5l2 5m7-15.9l2 4.9M61.8 1290.9l9 7.8l9 7.4l9.1 7.1l9 6.6l9 6.3l9 5.9l9.1 5.5l9 5.2l9 4.7l9 4.4l9.1 4l9 3.6l9 3.2l9 2.8l9.1 2.4l9 2.1l9 1.7l9 1.3l9.1 0.9l9 0.5l9 0.2l9-0.2l9.1-0.6l9-1l9-1.4l9-1.8l9-2.1l9.1-2.6l9-2.9l9-3.3l9-3.7l9.1-4l9-4.5l9-4.8l9-5.2l9.1-5.6l9-6l9-6.3l9-6.8l9.1-7.1l9-7.5l9-7.9l9-8.3l9.1-8.6l9-9.1l9-9.4l9-9.8l9.1-10.2l9-10.6l9-10.9" stroke="#000" stroke-opacity="0.6" stroke-width="0.8" fill="none"/><path d="M63.8 1295.8l9.1 7.9l9 7.4l9 7l9 6.7l9.1 6.3l9 5.9l9 5.5l9 5.1l9.1 4.8l9 4.3l9 4l9 3.6l9.1 3.2l9 2.8l9 2.5l9 2.1l9.1 1.6l9 1.3l9 1l9 0.5l9 0.1l9.1-0.2l9-0.6l9-1l9-1.4l9.1-1.7l9-2.2l9-2.5l9-2.9l9.1-3.3l9-3.7l9-4.1l9-4.4l9.1-4.8l9-5.3l9-5.6l9-5.9l9.1-6.4l9-6.7l9-7.2l9-7.5l9.1-7.9l9-8.2l9-8.7l9-9l9-9.5l9.1-9.8l9-10.2l9-10.5l9-11l2.1 4.5l-9 11l-9.1 10.6l-9 10.2l-9 9.8l-9 9.4l-9.1 9l-9 8.7l-9 8.3l-9 7.9l-9.1 7.5l-9 7.1l-9 6.7l-9 6.4l-9.1 6l-9 5.6l-9 5.2l-9 4.8l-9 4.5l-9.1 4l-9 3.7l-9 3.3l-9 2.9l-9.1 2.5l-9 2.2l-9 1.8l-9 1.3l-9.1 1l-9 0.7l-9 0.2l-9-0.2l-9.1-0.5l-9-0.9l-9-1.3l-9-1.7l-9.1-2.1l-9-2.4l-9-2.8l-9-3.3l-9.1-3.6l-9-3.9l-9-4.4l-9-4.8l-9-5.1l-9.1-5.5l-9-5.9l-9-6.3l-9-6.6l-9.1-7.1l-9-7.4l-9-7.8z" fill="url(#g72)" fill-opacity="0.75"/><path d="M63.8 1295.8l2.1 4.6m7 3.3l2 4.5m7 2.9l2 4.5m7 2.5l2.1 4.6m6.9 2.1l2.1 4.5m7 1.8l2 4.5m7 1.4l2 4.5m7 1l2.1 4.5m6.9 0.6l2.1 4.5m7 0.3l2 4.5m7-0.2l2 4.6m7-0.6l2 4.5m7-0.9l2.1 4.5m7-1.3l2 4.6m7-1.8l2 4.6m7-2.1l2 4.5m7-2.4l2.1 4.5m7-2.9l2 4.6m7-3.3l2 4.6m7-3.6l2 4.5m7-4l2.1 4.5m6.9-4.4l2.1 4.6m7-4.8l2 4.6m7-5.2l2 4.5m7-5.5l2.1 4.5m6.9-5.9l2.1 4.6m7-6.3l2 4.5m7-6.7l2 4.5m7-7l2.1 4.5m6.9-7.4l2.1 4.5m7-7.8l2 4.5m7-8.2l2 4.5m7-8.6l2.1 4.6m6.9-9l2.1 4.5m7-9.3l2 4.5m7-9.8l2 4.6m7-10.2l2 4.6m7-10.5l2.1 4.5m7-10.9l2 4.5m7-11.2l2 4.5m7-11.7l2 4.6m7-12.1l2.1 4.6m7-12.5l2 4.6m7-12.8l2 4.5m7-13.2l2 4.5m7-13.5l2.1 4.5m6.9-14l2.1 4.6m7-14.4l2 4.6m7-14.8l2 4.6m7-15.1l2.1 4.5m6.9-15.5l2.1 4.5M63.8 1295.8l9.1 7.9l9 7.4l9 7l9 6.7l9.1 6.3l9 5.9l9 5.5l9 5.1l9.1 4.8l9 4.3l9 4l9 3.6l9.1 3.2l9 2.8l9 2.5l9 2.1l9.1 1.6l9 1.3l9 1l9 0.5l9 0.1l9.1-0.2l9-0.6l9-1l9-1.4l9.1-1.7l9-2.2l9-2.5l9-2.9l9.1-3.3l9-3.7l9-4.1l9-4.4l9.1-4.8l9-5.3l9-5.6l9-5.9l9.1-6.4l9-6.7l9-7.2l9-7.5l9.1-7.9l9-8.2l9-8.7l9-9l9-9.5l9.1-9.8l9-10.2l9-10.5l9-11" stroke="#000" stroke-opacity="0.6" stroke-width="0.8" fill="none"/><path d="M65.9 1300.4l9 7.8l9 7.4l9.1 7.1l9 6.6l9 6.3l9 5.9l9.1 5.5l9 5.1l9 4.8l9 4.4l9 3.9l9.1 3.6l9 3.3l9 2.8l9 2.4l9.1 2.1l9 1.7l9 1.3l9 0.9l9.1 0.5l9 0.2l9-0.2l9-0.7l9.1-1l9-1.3l9-1.8l9-2.2l9.1-2.5l9-2.9l9-3.3l9-3.7l9.1-4l9-4.5l9-4.8l9-5.2l9-5.6l9.1-6l9-6.4l9-6.7l9-7.1l9.1-7.5l9-7.9l9-8.3l9-8.7l9.1-9l9-9.4l9-9.8l9-10.2l9.1-10.6l9-11l2 4.2l-9 10.9l-9 10.6l-9 10.2l-9.1 9.8l-9 9.4l-9 9.1l-9 8.6l-9.1 8.3l-9 7.9l-9 7.5l-9 7.1l-9.1 6.8l-9 6.3l-9 6l-9 5.6l-9.1 5.2l-9 4.9l-9 4.4l-9 4.1l-9.1 3.6l-9 3.3l-9 2.9l-9 2.6l-9 2.1l-9.1 1.8l-9 1.4l-9 1l-9 0.6l-9.1 0.2l-9-0.1l-9-0.6l-9-0.9l-9.1-1.3l-9-1.7l-9-2l-9-2.5l-9.1-2.8l-9-3.2l-9-3.6l-9-4l-9.1-4.4l-9-4.7l-9-5.2l-9-5.5l-9.1-5.9l-9-6.2l-9-6.7l-9-7l-9-7.5l-9.1-7.8z" fill="url(#g73)" fill-opacity="0.75"/><path d="M65.9 1300.4l2 4.1m7 3.7l2.1 4.1m6.9 3.3l2.1 4.2m7 2.9l2 4.1m7 2.5l2 4.2m7 2.1l2 4.1m7 1.8l2.1 4.1m7 1.4l2 4.1m7 1l2 4.2m7 0.6l2 4.1m7 0.3l2.1 4.1m6.9-0.2l2.1 4.2m7-0.6l2 4.2m7-0.9l2 4.1m7-1.3l2.1 4.1m6.9-1.7l2.1 4.2m7-2.1l2 4.1m7-2.4l2 4.1m7-2.8l2.1 4.1m6.9-3.2l2.1 4.1m7-3.6l2 4.2m7-4l2 4.1m7-4.3l2.1 4.1m6.9-4.8l2.1 4.2m7-5.2l2 4.2m7-5.5l2 4.1m7-5.9l2.1 4.1m6.9-6.3l2.1 4.2m7-6.7l2 4.1m7-7l2 4.1m7-7.4l2 4.1m7-7.8l2.1 4.2m7-8.2l2 4.1m7-8.6l2 4.2m7-9l2 4.1m7-9.3l2.1 4.1m6.9-9.7l2.1 4.1m7-10.1l2 4.1m7-10.5l2 4.2m7-10.9l2.1 4.1m6.9-11.2l2.1 4.1m7-11.6l2 4.1m7-12l2 4.1m7-12.4l2.1 4.1m6.9-12.8l2.1 4.2m7-13.2l2 4.1m7-13.5l2 4.1m7-13.9l2.1 4.1m6.9-14.3l2.1 4.1m7-14.7l2 4.1m7-15.1l2 4.2M65.9 1300.4l9 7.8l9 7.4l9.1 7.1l9 6.6l9 6.3l9 5.9l9.1 5.5l9 5.1l9 4.8l9 4.4l9 3.9l9.1 3.6l9 3.3l9 2.8l9 2.4l9.1 2.1l9 1.7l9 1.3l9 0.9l9.1 0.5l9 0.2l9-0.2l9-0.7l9.1-1l9-1.3l9-1.8l9-2.2l9.1-2.5l9-2.9l9-3.3l9-3.7l9.1-4l9-4.5l9-4.8l9-5.2l9-5.6l9.1-6l9-6.4l9-6.7l9-7.1l9.1-7.5l9-7.9l9-8.3l9-8.7l9.1-9l9-9.4l9-9.8l9-10.2l9.1-10.6l9-11" stroke="#000" stroke-opacity="0.6" stroke-width="0.8" fill="none"/><path d="M67.9 1304.5l9.1 7.8l9 7.5l9 7l9 6.7l9 6.2l9.1 5.9l9 5.5l9 5.2l9 4.7l9.1 4.4l9 4l9 3.6l9 3.2l9.1 2.8l9 2.5l9 2l9 1.7l9.1 1.3l9 0.9l9 0.6l9 0.1l9.1-0.2l9-0.6l9-1l9-1.4l9.1-1.8l9-2.1l9-2.6l9-2.9l9-3.3l9.1-3.6l9-4.1l9-4.4l9-4.9l9.1-5.2l9-5.6l9-6l9-6.3l9.1-6.8l9-7.1l9-7.5l9-7.9l9.1-8.3l9-8.6l9-9.1l9-9.4l9.1-9.8l9-10.2l9-10.6l9-10.9l2.1 3.7l-9.1 11l-9 10.5l-9 10.2l-9 9.8l-9 9.5l-9.1 9l-9 8.7l-9 8.2l-9 7.9l-9.1 7.5l-9 7.2l-9 6.7l-9 6.4l-9.1 5.9l-9 5.6l-9 5.2l-9 4.9l-9.1 4.4l-9 4.1l-9 3.7l-9 3.3l-9.1 2.9l-9 2.5l-9 2.2l-9 1.7l-9.1 1.4l-9 1l-9 0.6l-9 0.2l-9-0.1l-9.1-0.5l-9-1l-9-1.3l-9-1.6l-9.1-2.1l-9-2.5l-9-2.8l-9-3.2l-9.1-3.6l-9-4l-9-4.3l-9-4.8l-9.1-5.1l-9-5.5l-9-5.9l-9-6.3l-9.1-6.7l-9-7l-9-7.5l-9-7.8z" fill="url(#g74)" fill-opacity="0.75"/><path d="M67.9 1304.5l2.1 3.7m7 4.1l2 3.7m7 3.8l2 3.7m7 3.3l2 3.7m7 3l2.1 3.7m6.9 2.5l2.1 3.8m7 2.1l2 3.8m7 1.7l2 3.8m7 1.4l2.1 3.7m6.9 1l2.1 3.8m7 0.6l2 3.7m7 0.3l2 3.7m7-0.1l2.1 3.7m6.9-0.5l2.1 3.7m7-0.9l2 3.7m7-1.2l2 3.7m7-1.7l2.1 3.8m6.9-2.1l2.1 3.7m7-2.4l2 3.7m7-2.8l2 3.8m7-3.2l2.1 3.7m6.9-3.6l2.1 3.7m7-3.9l2 3.7m7-4.3l2 3.7m7-4.7l2 3.7m7-5.1l2.1 3.7m7-5.5l2 3.8m7-5.9l2 3.7m7-6.3l2 3.8m7-6.7l2.1 3.8m6.9-7.1l2.1 3.8m7-7.4l2 3.7m7-7.8l2 3.7m7-8.1l2.1 3.7m6.9-8.6l2.1 3.7m7-8.9l2 3.7m7-9.3l2 3.7m7-9.7l2.1 3.8m6.9-10.1l2.1 3.7m7-10.5l2 3.8m7-10.9l2 3.7m7-11.2l2.1 3.7m6.9-11.6l2.1 3.7m7-12l2 3.8m7-12.4l2 3.7m7-12.8l2.1 3.8m6.9-13.2l2.1 3.7m7-13.5l2 3.7m7-13.9l2 3.7m7-14.3l2 3.8m7-14.7l2.1 3.7M67.9 1304.5l9.1 7.8l9 7.5l9 7l9 6.7l9 6.2l9.1 5.9l9 5.5l9 5.2l9 4.7l9.1 4.4l9 4l9 3.6l9 3.2l9.1 2.8l9 2.5l9 2l9 1.7l9.1 1.3l9 0.9l9 0.6l9 0.1l9.1-0.2l9-0.6l9-1l9-1.4l9.1-1.8l9-2.1l9-2.6l9-2.9l9-3.3l9.1-3.6l9-4.1l9-4.4l9-4.9l9.1-5.2l9-5.6l9-6l9-6.3l9.1-6.8l9-7.1l9-7.5l9-7.9l9.1-8.3l9-8.6l9-9.1l9-9.4l9.1-9.8l9-10.2l9-10.6l9-10.9" stroke="#000" stroke-opacity="0.6" stroke-width="0.8" fill="none"/><path d="M70 1308.2l9 7.8l9 7.5l9 7l9.1 6.7l9 6.3l9 5.9l9 5.5l9.1 5.1l9 4.8l9 4.3l9 4l9.1 3.6l9 3.2l9 2.8l9 2.5l9.1 2.1l9 1.6l9 1.3l9 1l9.1 0.5l9 0.1l9-0.2l9-0.6l9-1l9.1-1.4l9-1.7l9-2.2l9-2.5l9.1-2.9l9-3.3l9-3.7l9-4.1l9.1-4.4l9-4.9l9-5.2l9-5.6l9.1-5.9l9-6.4l9-6.7l9-7.2l9.1-7.5l9-7.9l9-8.2l9-8.7l9.1-9l9-9.5l9-9.8l9-10.2l9-10.5l9.1-11l2 3.3l-9 11l-9 10.5l-9.1 10.2l-9 9.8l-9 9.5l-9 9l-9.1 8.7l-9 8.2l-9 7.9l-9 7.5l-9 7.2l-9.1 6.7l-9 6.4l-9 6l-9 5.6l-9.1 5.2l-9 4.8l-9 4.4l-9 4.1l-9.1 3.7l-9 3.3l-9 2.9l-9 2.5l-9.1 2.2l-9 1.7l-9 1.4l-9 1l-9.1 0.6l-9 0.3l-9-0.2l-9-0.5l-9.1-0.9l-9-1.3l-9-1.7l-9-2.1l-9-2.4l-9.1-2.9l-9-3.2l-9-3.6l-9-4l-9.1-4.3l-9-4.8l-9-5.1l-9-5.5l-9.1-5.9l-9-6.3l-9-6.7l-9-7l-9.1-7.4l-9-7.8z" fill="url(#g75)" fill-opacity="0.75"/><path d="M70 1308.2l2 3.4m7 4.4l2 3.4m7 4.1l2.1 3.3m6.9 3.7l2.1 3.3m7 3.4l2 3.3m7 3l2 3.3m7 2.6l2.1 3.3m6.9 2.2l2.1 3.3m7 1.8l2 3.3m7 1.5l2 3.3m7 1l2.1 3.3m6.9 0.7l2.1 3.3m7 0.3l2 3.3m7-0.1l2 3.3m7-0.5l2.1 3.4m6.9-0.9l2.1 3.3m7-1.2l2 3.3m7-1.7l2 3.4m7-2.1l2 3.4m7-2.4l2.1 3.3m7-2.8l2 3.3m7-3.2l2 3.4m7-3.6l2 3.3m7-3.9l2.1 3.3m6.9-4.3l2.1 3.3m7-4.7l2 3.3m7-5l2 3.3m7-5.5l2.1 3.3m6.9-5.8l2.1 3.3m7-6.2l2 3.3m7-6.6l2 3.3m7-7l2.1 3.3m6.9-7.4l2.1 3.3m7-7.7l2 3.3m7-8.2l2 3.4m7-8.6l2.1 3.4m6.9-9l2.1 3.4m7-9.3l2 3.3m7-9.7l2 3.3m7-10l2.1 3.3m6.9-10.5l2.1 3.3m7-10.8l2 3.3m7-11.2l2 3.3m7-11.5l2 3.3m7-12l2.1 3.3m7-12.3l2 3.3m7-12.8l2 3.3m7-13.1l2 3.3m7-13.5l2.1 3.3m6.9-13.8l2.1 3.3m7-14.3l2 3.3M70 1308.2l9 7.8l9 7.5l9 7l9.1 6.7l9 6.3l9 5.9l9 5.5l9.1 5.1l9 4.8l9 4.3l9 4l9.1 3.6l9 3.2l9 2.8l9 2.5l9.1 2.1l9 1.6l9 1.3l9 1l9.1 0.5l9 0.1l9-0.2l9-0.6l9-1l9.1-1.4l9-1.7l9-2.2l9-2.5l9.1-2.9l9-3.3l9-3.7l9-4.1l9.1-4.4l9-4.9l9-5.2l9-5.6l9.1-5.9l9-6.4l9-6.7l9-7.2l9.1-7.5l9-7.9l9-8.2l9-8.7l9.1-9l9-9.5l9-9.8l9-10.2l9-10.5l9.1-11" stroke="#000" stroke-opacity="0.6" stroke-width="0.8" fill="none"/><path d="M72 1311.6l9 7.8l9.1 7.4l9 7l9 6.7l9 6.3l9.1 5.9l9 5.5l9 5.1l9 4.8l9.1 4.3l9 4l9 3.6l9 3.2l9.1 2.9l9 2.4l9 2.1l9 1.7l9 1.3l9.1 0.9l9 0.5l9 0.2l9-0.3l9.1-0.6l9-1l9-1.4l9-1.7l9.1-2.2l9-2.5l9-2.9l9-3.3l9.1-3.7l9-4.1l9-4.4l9-4.8l9.1-5.2l9-5.6l9-6l9-6.4l9.1-6.7l9-7.2l9-7.5l9-7.9l9-8.2l9.1-8.7l9-9l9-9.5l9-9.8l9.1-10.2l9-10.5l9-11l2.1 2.9l-9.1 11l-9 10.6l-9 10.1l-9 9.9l-9.1 9.4l-9 9l-9 8.7l-9 8.3l-9.1 7.8l-9 7.6l-9 7.1l-9 6.7l-9.1 6.4l-9 6l-9 5.6l-9 5.2l-9.1 4.8l-9 4.4l-9 4.1l-9 3.7l-9 3.3l-9.1 2.9l-9 2.5l-9 2.2l-9 1.7l-9.1 1.4l-9 1l-9 0.6l-9 0.3l-9.1-0.2l-9-0.5l-9-0.9l-9-1.3l-9.1-1.7l-9-2.1l-9-2.4l-9-2.9l-9.1-3.2l-9-3.6l-9-4l-9-4.3l-9.1-4.8l-9-5.1l-9-5.5l-9-5.9l-9-6.3l-9.1-6.7l-9-7l-9-7.4l-9-7.8z" fill="url(#g76)" fill-opacity="0.75"/><path d="M72 1311.6l2.1 2.9m6.9 4.9l2.1 2.9m7 4.5l2 2.9m7 4.1l2 2.9m7 3.8l2.1 2.9m6.9 3.4l2.1 2.9m7 3l2 2.9m7 2.6l2 2.9m7 2.2l2 2.9m7 1.9l2.1 2.9m7 1.4l2 2.9m7 1.1l2 2.9m7 0.7l2 2.9m7 0.3l2.1 2.9m7 0l2 2.9m7-0.5l2 2.9m7-0.8l2 2.9m7-1.2l2.1 2.9m6.9-1.6l2.1 2.9m7-2l2 2.9m7-2.4l2 2.9m7-2.7l2.1 2.9m6.9-3.2l2.1 2.9m7-3.5l2 2.9m7-3.9l2 2.9m7-4.3l2.1 2.9m6.9-4.6l2.1 2.9m7-5.1l2 2.9m7-5.4l2 2.9m7-5.8l2.1 2.9m6.9-6.2l2.1 2.9m7-6.6l2 2.9m7-7l2 2.9m7-7.3l2 2.9m7-7.7l2.1 2.9m7-8.1l2 2.9m7-8.5l2 2.9m7-8.9l2 2.9m7-9.3l2.1 2.9m7-9.6l2 2.9m7-10.1l2 3m7-10.5l2 2.9m7-10.8l2.1 3m6.9-11.2l2.1 2.9m7-11.6l2 2.9m7-11.9l2 2.9m7-12.4l2.1 3m6.9-12.8l2.1 2.9m7-13.1l2 3m7-13.5l2 2.9m7-13.9l2.1 2.9M72 1311.6l9 7.8l9.1 7.4l9 7l9 6.7l9 6.3l9.1 5.9l9 5.5l9 5.1l9 4.8l9.1 4.3l9 4l9 3.6l9 3.2l9.1 2.9l9 2.4l9 2.1l9 1.7l9 1.3l9.1 0.9l9 0.5l9 0.2l9-0.3l9.1-0.6l9-1l9-1.4l9-1.7l9.1-2.2l9-2.5l9-2.9l9-3.3l9.1-3.7l9-4.1l9-4.4l9-4.8l9.1-5.2l9-5.6l9-6l9-6.4l9.1-6.7l9-7.2l9-7.5l9-7.9l9-8.2l9.1-8.7l9-9l9-9.5l9-9.8l9.1-10.2l9-10.5l9-11" stroke="#000" stroke-opacity="0.6" stroke-width="0.8" fill="none"/><path d="M74.1 1314.5l9 7.8l9 7.4l9 7l9.1 6.7l9 6.3l9 5.9l9 5.5l9 5.1l9.1 4.8l9 4.3l9 4l9 3.6l9.1 3.2l9 2.9l9 2.4l9 2.1l9.1 1.7l9 1.3l9 0.9l9 0.5l9.1 0.2l9-0.3l9-0.6l9-1l9.1-1.4l9-1.7l9-2.2l9-2.5l9.1-2.9l9-3.3l9-3.7l9-4.1l9-4.4l9.1-4.8l9-5.2l9-5.6l9-6l9.1-6.4l9-6.7l9-7.1l9-7.6l9.1-7.8l9-8.3l9-8.7l9-9l9.1-9.4l9-9.9l9-10.1l9-10.6l9.1-11l2 2.5l-9 11l-9 10.6l-9.1 10.1l-9 9.9l-9 9.4l-9 9l-9.1 8.7l-9 8.3l-9 7.9l-9 7.5l-9.1 7.1l-9 6.7l-9 6.4l-9 6l-9.1 5.6l-9 5.2l-9 4.8l-9 4.5l-9.1 4l-9 3.7l-9 3.3l-9 2.9l-9.1 2.5l-9 2.2l-9 1.7l-9 1.4l-9 1l-9.1 0.6l-9 0.3l-9-0.2l-9-0.5l-9.1-0.9l-9-1.3l-9-1.7l-9-2.1l-9.1-2.4l-9-2.9l-9-3.2l-9-3.6l-9.1-4l-9-4.3l-9-4.8l-9-5.1l-9.1-5.5l-9-5.9l-9-6.3l-9-6.6l-9.1-7.1l-9-7.4l-9-7.8z" fill="url(#g77)" fill-opacity="0.75"/><path d="M74.1 1314.5l2 2.5m7 5.3l2 2.5m7 4.9l2 2.5m7 4.5l2.1 2.6m7 4.1l2 2.5m7 3.8l2 2.5m7 3.4l2 2.5m7 3l2.1 2.5m6.9 2.6l2.1 2.5m7 2.3l2 2.5m7 1.8l2 2.5m7 1.5l2.1 2.5m6.9 1.1l2.1 2.5m7 0.7l2 2.5m7 0.4l2 2.5m7-0.1l2.1 2.5m6.9-0.4l2.1 2.5m7-0.8l2 2.5m7-1.2l2 2.5m7-1.6l2.1 2.5m6.9-2l2.1 2.5m7-2.3l2 2.5m7-2.8l2 2.5m7-3.1l2.1 2.5m6.9-3.5l2.1 2.5m7-3.9l2 2.5m7-4.2l2 2.5m7-4.7l2 2.5m7-5l2.1 2.5m7-5.4l2 2.5m7-5.8l2 2.5m7-6.2l2 2.5m7-6.6l2.1 2.6m6.9-7l2.1 2.5m7-7.3l2 2.5m7-7.7l2 2.5m7-8.1l2.1 2.5m6.9-8.5l2.1 2.5m7-8.9l2 2.5m7-9.2l2 2.5m7-9.6l2.1 2.5m6.9-10.1l2.1 2.6m7-10.4l2 2.5m7-10.8l2 2.5m7-11.2l2.1 2.5m6.9-11.5l2.1 2.5m7-11.9l2 2.5m7-12.4l2 2.5m7-12.6l2.1 2.5m6.9-13.1l2.1 2.5m7-13.5l2 2.5M74.1 1314.5l9 7.8l9 7.4l9 7l9.1 6.7l9 6.3l9 5.9l9 5.5l9 5.1l9.1 4.8l9 4.3l9 4l9 3.6l9.1 3.2l9 2.9l9 2.4l9 2.1l9.1 1.7l9 1.3l9 0.9l9 0.5l9.1 0.2l9-0.3l9-0.6l9-1l9.1-1.4l9-1.7l9-2.2l9-2.5l9.1-2.9l9-3.3l9-3.7l9-4.1l9-4.4l9.1-4.8l9-5.2l9-5.6l9-6l9.1-6.4l9-6.7l9-7.1l9-7.6l9.1-7.8l9-8.3l9-8.7l9-9l9.1-9.4l9-9.9l9-10.1l9-10.6l9.1-11" stroke="#000" stroke-opacity="0.6" stroke-width="0.8" fill="none"/><path d="M76.1 1317l9 7.8l9 7.4l9.1 7.1l9 6.6l9 6.3l9 5.9l9.1 5.5l9 5.1l9 4.8l9 4.3l9.1 4l9 3.6l9 3.2l9 2.9l9.1 2.4l9 2.1l9 1.7l9 1.3l9.1 0.9l9 0.5l9 0.2l9-0.3l9.1-0.6l9-1l9-1.4l9-1.7l9-2.2l9.1-2.5l9-2.9l9-3.3l9-3.7l9.1-4l9-4.5l9-4.8l9-5.2l9.1-5.6l9-6l9-6.4l9-6.7l9.1-7.1l9-7.5l9-7.9l9-8.3l9.1-8.7l9-9l9-9.4l9-9.9l9.1-10.1l9-10.6l9-11l2 2.1l-9 11l-9 10.6l-9 10.1l-9.1 9.9l-9 9.4l-9 9l-9 8.7l-9 8.3l-9.1 7.8l-9 7.6l-9 7.1l-9 6.7l-9.1 6.4l-9 6l-9 5.6l-9 5.2l-9.1 4.8l-9 4.4l-9 4.1l-9 3.7l-9.1 3.3l-9 2.9l-9 2.5l-9 2.2l-9.1 1.7l-9 1.4l-9 1l-9 0.6l-9.1 0.3l-9-0.2l-9-0.5l-9-0.9l-9-1.3l-9.1-1.7l-9-2.1l-9-2.4l-9-2.9l-9.1-3.2l-9-3.6l-9-4l-9-4.3l-9.1-4.8l-9-5.1l-9-5.5l-9-5.9l-9.1-6.3l-9-6.7l-9-7l-9-7.4l-9.1-7.8z" fill="url(#g78)" fill-opacity="0.75"/><path d="M76.1 1317l2 2.1m7 5.7l2.1 2.1m6.9 5.3l2.1 2.1m7 5l2 2m7 4.6l2 2.1m7 4.2l2.1 2.1m6.9 3.8l2.1 2.1m7 3.4l2 2.1m7 3l2 2.1m7 2.7l2.1 2.1m6.9 2.2l2.1 2.1m7 1.9l2 2.1m7 1.5l2 2.1m7 1.1l2.1 2.1m6.9 0.8l2.1 2.1m7 0.3l2 2.1m7 0l2 2.1m7-0.4l2.1 2.1m6.9-0.8l2.1 2.1m7-1.2l2 2.1m7-1.6l2 2.1m7-1.9l2 2.1m7-2.4l2.1 2.1m7-2.7l2 2.1m7-3.1l2 2.1m7-3.5l2 2.1m7-3.8l2.1 2.1m6.9-4.3l2.1 2.1m7-4.6l2 2.1m7-5l2 2.1m7-5.4l2.1 2.1m6.9-5.8l2.1 2.1m7-6.1l2 2m7-6.5l2 2.1m7-6.9l2.1 2.1m6.9-7.3l2.1 2.1m7-7.7l2 2.1m7-8.1l2 2.1m7-8.5l2.1 2.1m6.9-8.8l2.1 2.1m7-9.2l2 2.1m7-9.6l2 2m7-9.9l2.1 2.1m6.9-10.4l2.1 2.1m7-10.8l2 2.1m7-11.1l2 2.1m7-11.5l2 2.1m7-12l2.1 2.1m7-12.2l2 2.1m7-12.7l2 2.1m7-13.1l2 2.1M76.1 1317l9 7.8l9 7.4l9.1 7.1l9 6.6l9 6.3l9 5.9l9.1 5.5l9 5.1l9 4.8l9 4.3l9.1 4l9 3.6l9 3.2l9 2.9l9.1 2.4l9 2.1l9 1.7l9 1.3l9.1 0.9l9 0.5l9 0.2l9-0.3l9.1-0.6l9-1l9-1.4l9-1.7l9-2.2l9.1-2.5l9-2.9l9-3.3l9-3.7l9.1-4l9-4.5l9-4.8l9-5.2l9.1-5.6l9-6l9-6.4l9-6.7l9.1-7.1l9-7.5l9-7.9l9-8.3l9.1-8.7l9-9l9-9.4l9-9.9l9.1-10.1l9-10.6l9-11" stroke="#000" stroke-opacity="0.6" stroke-width="0.8" fill="none"/><path d="M78.1 1319.1l9.1 7.8l9 7.4l9 7l9 6.7l9.1 6.3l9 5.9l9 5.5l9 5.1l9.1 4.8l9 4.3l9 4l9 3.6l9.1 3.2l9 2.9l9 2.4l9 2.1l9.1 1.7l9 1.3l9 0.9l9 0.5l9 0.2l9.1-0.3l9-0.6l9-1l9-1.4l9.1-1.7l9-2.2l9-2.5l9-2.9l9.1-3.3l9-3.7l9-4.1l9-4.4l9.1-4.8l9-5.2l9-5.6l9-6l9.1-6.4l9-6.7l9-7.1l9-7.6l9.1-7.8l9-8.3l9-8.7l9-9l9-9.4l9.1-9.9l9-10.1l9-10.6l9-11l2.1 1.7l-9 11l-9.1 10.5l-9 10.2l-9 9.8l-9 9.5l-9.1 9l-9 8.7l-9 8.2l-9 7.9l-9.1 7.5l-9 7.2l-9 6.7l-9 6.4l-9.1 6l-9 5.6l-9 5.2l-9 4.8l-9 4.4l-9.1 4.1l-9 3.7l-9 3.3l-9 2.9l-9.1 2.5l-9 2.2l-9 1.7l-9 1.4l-9.1 1l-9 0.6l-9 0.3l-9-0.2l-9.1-0.5l-9-0.9l-9-1.3l-9-1.7l-9.1-2.1l-9-2.4l-9-2.9l-9-3.2l-9.1-3.6l-9-4l-9-4.3l-9-4.8l-9-5.1l-9.1-5.5l-9-5.9l-9-6.3l-9-6.7l-9.1-7l-9-7.4l-9-7.8z" fill="url(#g79)" fill-opacity="0.75"/><path d="M78.1 1319.1l2.1 1.7m7 6.1l2 1.7m7 5.7l2 1.7m7 5.3l2.1 1.7m6.9 5l2.1 1.7m7 4.6l2 1.7m7 4.2l2 1.7m7 3.8l2.1 1.7m6.9 3.4l2.1 1.7m7 3.1l2 1.7m7 2.6l2 1.7m7 2.3l2 1.7m7 1.9l2.1 1.7m7 1.5l2 1.7m7 1.2l2 1.7m7 0.7l2 1.7m7 0.4l2.1 1.7m7 0l2 1.7m7-0.4l2 1.7m7-0.8l2 1.7m7-1.2l2.1 1.7m6.9-1.5l2.1 1.7m7-2l2 1.7m7-2.3l2 1.7m7-2.7l2.1 1.7m6.9-3.1l2.1 1.7m7-3.4l2 1.7m7-3.9l2 1.7m7-4.2l2.1 1.7m6.9-4.6l2.1 1.7m7-5l2 1.7m7-5.4l2 1.7m7-5.8l2.1 1.7m6.9-6.1l2.1 1.7m7-6.5l2 1.7m7-6.9l2 1.7m7-7.3l2 1.7m7-7.7l2.1 1.7m7-8.1l2 1.7m7-8.4l2 1.7m7-8.8l2 1.6m7-9.2l2.1 1.7m7-9.5l2 1.6m7-9.9l2 1.7m7-10.4l2 1.7m7-10.7l2.1 1.7m6.9-11.1l2.1 1.6m7-11.5l2 1.7m7-11.8l2 1.6m7-12.2l2.1 1.7m6.9-12.7l2.1 1.7M78.1 1319.1l9.1 7.8l9 7.4l9 7l9 6.7l9.1 6.3l9 5.9l9 5.5l9 5.1l9.1 4.8l9 4.3l9 4l9 3.6l9.1 3.2l9 2.9l9 2.4l9 2.1l9.1 1.7l9 1.3l9 0.9l9 0.5l9 0.2l9.1-0.3l9-0.6l9-1l9-1.4l9.1-1.7l9-2.2l9-2.5l9-2.9l9.1-3.3l9-3.7l9-4.1l9-4.4l9.1-4.8l9-5.2l9-5.6l9-6l9.1-6.4l9-6.7l9-7.1l9-7.6l9.1-7.8l9-8.3l9-8.7l9-9l9-9.4l9.1-9.9l9-10.1l9-10.6l9-11" stroke="#000" stroke-opacity="0.6" stroke-width="0.8" fill="none"/><path d="M80.2 1320.8l9 7.8l9 7.4l9.1 7l9 6.7l9 6.3l9 5.9l9.1 5.5l9 5.1l9 4.8l9 4.3l9 4l9.1 3.6l9 3.2l9 2.9l9 2.4l9.1 2.1l9 1.7l9 1.3l9 0.9l9.1 0.5l9 0.2l9-0.3l9-0.6l9.1-1l9-1.4l9-1.7l9-2.2l9.1-2.5l9-2.9l9-3.3l9-3.7l9.1-4.1l9-4.4l9-4.8l9-5.2l9-5.6l9.1-6l9-6.4l9-6.7l9-7.2l9.1-7.5l9-7.9l9-8.2l9-8.7l9.1-9l9-9.5l9-9.8l9-10.2l9.1-10.5l9-11l2 1.3l-9 11l-9 10.5l-9 10.2l-9.1 9.8l-9 9.5l-9 9l-9 8.7l-9.1 8.2l-9 7.9l-9 7.5l-9 7.2l-9.1 6.7l-9 6.4l-9 5.9l-9 5.6l-9.1 5.2l-9 4.9l-9 4.4l-9 4.1l-9.1 3.7l-9 3.3l-9 2.9l-9 2.5l-9 2.2l-9.1 1.7l-9 1.4l-9 1l-9 0.6l-9.1 0.2l-9-0.1l-9-0.5l-9-1l-9.1-1.3l-9-1.6l-9-2.1l-9-2.5l-9.1-2.8l-9-3.2l-9-3.6l-9-4l-9.1-4.3l-9-4.8l-9-5.1l-9-5.5l-9.1-5.9l-9-6.3l-9-6.7l-9-7l-9-7.5l-9.1-7.8z" fill="url(#g80)" fill-opacity="0.75"/><path d="M80.2 1320.8l2 1.2m7 6.6l2.1 1.2m6.9 6.2l2.1 1.3m7 5.7l2 1.3m7 5.4l2 1.3m7 5l2 1.3m7 4.6l2.1 1.3m7 4.2l2 1.3m7 3.8l2 1.3m7 3.5l2 1.3m7 3l2.1 1.3m6.9 2.7l2.1 1.3m7 2.3l2 1.3m7 1.9l2 1.3m7 1.6l2.1 1.2m6.9 1.2l2.1 1.3m7 0.8l2 1.3m7 0.4l2 1.2m7 0.1l2.1 1.2m6.9-0.3l2.1 1.3m7-0.8l2 1.3m7-1.1l2 1.2m7-1.5l2.1 1.3m6.9-1.9l2.1 1.3m7-2.3l2 1.3m7-2.7l2 1.3m7-3l2.1 1.3m6.9-3.5l2.1 1.3m7-3.8l2 1.3m7-4.2l2 1.3m7-4.6l2 1.3m7-5l2.1 1.3m7-5.4l2 1.3m7-5.7l2 1.3m7-6.1l2 1.2m7-6.4l2.1 1.2m6.9-6.8l2.1 1.2m7-7.2l2 1.3m7-7.7l2 1.3m7-8l2.1 1.3m6.9-8.5l2.1 1.3m7-8.8l2 1.3m7-9.2l2 1.3m7-9.5l2.1 1.3m6.9-10l2.1 1.3m7-10.3l2 1.3m7-10.8l2 1.3m7-11.1l2.1 1.3m6.9-11.5l2.1 1.3m7-11.8l2 1.3m7-12.3l2 1.3M80.2 1320.8l9 7.8l9 7.4l9.1 7l9 6.7l9 6.3l9 5.9l9.1 5.5l9 5.1l9 4.8l9 4.3l9 4l9.1 3.6l9 3.2l9 2.9l9 2.4l9.1 2.1l9 1.7l9 1.3l9 0.9l9.1 0.5l9 0.2l9-0.3l9-0.6l9.1-1l9-1.4l9-1.7l9-2.2l9.1-2.5l9-2.9l9-3.3l9-3.7l9.1-4.1l9-4.4l9-4.8l9-5.2l9-5.6l9.1-6l9-6.4l9-6.7l9-7.2l9.1-7.5l9-7.9l9-8.2l9-8.7l9.1-9l9-9.5l9-9.8l9-10.2l9.1-10.5l9-11" stroke="#000" stroke-opacity="0.6" stroke-width="0.8" fill="none"/><path d="M82.2 1322l9.1 7.8l9 7.5l9 7l9 6.7l9 6.3l9.1 5.9l9 5.5l9 5.1l9 4.8l9.1 4.3l9 4l9 3.6l9 3.2l9.1 2.8l9 2.5l9 2.1l9 1.6l9.1 1.3l9 1l9 0.5l9 0.1l9.1-0.2l9-0.6l9-1l9-1.4l9.1-1.7l9-2.2l9-2.5l9-2.9l9-3.3l9.1-3.7l9-4.1l9-4.4l9-4.9l9.1-5.2l9-5.6l9-5.9l9-6.4l9.1-6.7l9-7.2l9-7.5l9-7.9l9.1-8.2l9-8.7l9-9l9-9.5l9.1-9.8l9-10.2l9-10.5l9-11l2.1 0.9l-9.1 10.9l-9 10.6l-9 10.2l-9 9.8l-9 9.4l-9.1 9.1l-9 8.6l-9 8.3l-9 7.9l-9.1 7.5l-9 7.1l-9 6.8l-9 6.3l-9.1 6l-9 5.6l-9 5.2l-9 4.9l-9.1 4.4l-9 4.1l-9 3.6l-9 3.3l-9.1 2.9l-9 2.6l-9 2.1l-9 1.8l-9.1 1.4l-9 1l-9 0.6l-9 0.2l-9-0.1l-9.1-0.6l-9-0.9l-9-1.3l-9-1.7l-9.1-2l-9-2.5l-9-2.8l-9-3.2l-9.1-3.6l-9-4l-9-4.4l-9-4.7l-9.1-5.2l-9-5.5l-9-5.9l-9-6.2l-9.1-6.7l-9-7l-9-7.5l-9-7.8z" fill="url(#g81)" fill-opacity="0.75"/><path d="M82.2 1322l2.1 0.9m7 6.9l2 0.9m7 6.6l2 0.9m7 6.1l2 0.9m7 5.8l2.1 0.9m6.9 5.4l2.1 0.8m7 5.1l2 0.8m7 4.7l2 0.8m7 4.3l2.1 0.9m6.9 3.9l2.1 0.8m7 3.5l2 0.9m7 3.1l2 0.9m7 2.7l2.1 0.9m6.9 2.3l2.1 0.9m7 1.9l2 0.9m7 1.6l2 0.9m7 1.2l2.1 0.8m6.9 0.8l2.1 0.9m7 0.4l2 0.9m7 0.1l2 0.8m7-0.3l2.1 0.9m6.9-0.8l2.1 0.9m7-1.1l2 0.9m7-1.5l2 0.9m7-1.9l2 0.9m7-2.3l2.1 0.9m7-2.6l2 0.8m7-3l2 0.9m7-3.4l2 0.8m7-3.7l2.1 0.8m6.9-4.1l2.1 0.8m7-4.5l2 0.9m7-5l2 0.9m7-5.3l2.1 0.9m6.9-5.8l2.1 0.9m7-6.1l2 0.9m7-6.5l2 0.9m7-6.8l2.1 0.8m6.9-7.2l2.1 0.9m7-7.6l2 0.8m7-8l2 0.9m7-8.4l2.1 0.9m6.9-8.8l2.1 0.9m7-9.1l2 0.8m7-9.5l2 0.9m7-9.9l2.1 0.8m6.9-10.3l2.1 0.9m7-10.7l2 0.9m7-11.1l2 0.9m7-11.4l2 0.8m7-11.8l2.1 0.9M82.2 1322l9.1 7.8l9 7.5l9 7l9 6.7l9 6.3l9.1 5.9l9 5.5l9 5.1l9 4.8l9.1 4.3l9 4l9 3.6l9 3.2l9.1 2.8l9 2.5l9 2.1l9 1.6l9.1 1.3l9 1l9 0.5l9 0.1l9.1-0.2l9-0.6l9-1l9-1.4l9.1-1.7l9-2.2l9-2.5l9-2.9l9-3.3l9.1-3.7l9-4.1l9-4.4l9-4.9l9.1-5.2l9-5.6l9-5.9l9-6.4l9.1-6.7l9-7.2l9-7.5l9-7.9l9.1-8.2l9-8.7l9-9l9-9.5l9.1-9.8l9-10.2l9-10.5l9-11" stroke="#000" stroke-opacity="0.6" stroke-width="0.8" fill="none"/><path d="M84.3 1322.9l9 7.8l9 7.5l9 7l9.1 6.7l9 6.2l9 5.9l9 5.5l9.1 5.2l9 4.7l9 4.4l9 4l9.1 3.6l9 3.2l9 2.8l9 2.5l9.1 2l9 1.7l9 1.3l9 0.9l9.1 0.6l9 0.1l9-0.2l9-0.6l9-1l9.1-1.4l9-1.8l9-2.1l9-2.6l9.1-2.9l9-3.3l9-3.6l9-4.1l9.1-4.4l9-4.9l9-5.2l9-5.6l9.1-6l9-6.3l9-6.8l9-7.1l9.1-7.5l9-7.9l9-8.3l9-8.6l9.1-9.1l9-9.4l9-9.8l9-10.2l9-10.6l9.1-10.9l2 0.4l-9 11l-9 10.6l-9.1 10.2l-9 9.8l-9 9.4l-9 9l-9.1 8.7l-9 8.3l-9 7.9l-9 7.5l-9 7.1l-9.1 6.7l-9 6.4l-9 6l-9 5.6l-9.1 5.2l-9 4.8l-9 4.5l-9 4l-9.1 3.7l-9 3.3l-9 2.9l-9 2.5l-9.1 2.2l-9 1.8l-9 1.3l-9 1l-9.1 0.7l-9 0.2l-9-0.2l-9-0.5l-9.1-0.9l-9-1.3l-9-1.7l-9-2.1l-9-2.4l-9.1-2.8l-9-3.3l-9-3.6l-9-3.9l-9.1-4.4l-9-4.8l-9-5.1l-9-5.5l-9.1-5.9l-9-6.3l-9-6.6l-9-7.1l-9.1-7.4l-9-7.8z" fill="url(#g82)" fill-opacity="0.75"/><path d="M84.3 1322.9l2 0.5m7 7.3l2 0.5m7 7l2.1 0.4m6.9 6.6l2.1 0.5m7 6.2l2 0.4m7 5.8l2 0.5m7 5.4l2.1 0.5m6.9 5l2.1 0.5m7 4.7l2 0.4m7 4.3l2 0.5m7 3.9l2.1 0.5m6.9 3.5l2.1 0.4m7 3.2l2 0.4m7 2.8l2 0.5m7 2.3l2.1 0.5m6.9 2l2.1 0.4m7 1.6l2 0.5m7 1.2l2 0.5m7 0.8l2 0.5m7 0.4l2.1 0.5m7 0.1l2 0.4m7-0.3l2 0.5m7-0.7l2 0.5m7-1.1l2.1 0.4m6.9-1.4l2.1 0.4m7-1.8l2 0.5m7-2.3l2 0.5m7-2.6l2.1 0.4m6.9-3l2.1 0.5m7-3.4l2 0.5m7-3.8l2 0.5m7-4.1l2.1 0.4m6.9-4.5l2.1 0.5m7-4.9l2 0.4m7-5.3l2 0.5m7-5.7l2.1 0.5m6.9-6.1l2.1 0.5m7-6.5l2 0.5m7-6.8l2 0.4m7-7.2l2.1 0.5m6.9-7.6l2.1 0.5m7-8l2 0.5m7-8.4l2 0.5m7-8.8l2 0.5m7-9.1l2.1 0.4m7-9.5l2 0.5m7-9.9l2 0.5m7-10.3l2 0.5m7-10.7l2.1 0.5m6.9-11.1l2.1 0.5m7-11.4l2 0.4M84.3 1322.9l9 7.8l9 7.5l9 7l9.1 6.7l9 6.2l9 5.9l9 5.5l9.1 5.2l9 4.7l9 4.4l9 4l9.1 3.6l9 3.2l9 2.8l9 2.5l9.1 2l9 1.7l9 1.3l9 0.9l9.1 0.6l9 0.1l9-0.2l9-0.6l9-1l9.1-1.4l9-1.8l9-2.1l9-2.6l9.1-2.9l9-3.3l9-3.6l9-4.1l9.1-4.4l9-4.9l9-5.2l9-5.6l9.1-6l9-6.3l9-6.8l9-7.1l9.1-7.5l9-7.9l9-8.3l9-8.6l9.1-9.1l9-9.4l9-9.8l9-10.2l9-10.6l9.1-10.9" stroke="#000" stroke-opacity="0.6" stroke-width="0.8" fill="none"/><path d="M86.3 1323.4l9 7.8l9.1 7.4l9 7.1l9 6.6l9 6.3l9.1 5.9l9 5.5l9 5.1l9 4.8l9.1 4.4l9 3.9l9 3.6l9 3.3l9.1 2.8l9 2.4l9 2.1l9 1.7l9 1.3l9.1 0.9l9 0.5l9 0.2l9-0.2l9.1-0.7l9-1l9-1.3l9-1.8l9.1-2.2l9-2.5l9-2.9l9-3.3l9.1-3.7l9-4l9-4.5l9-4.8l9.1-5.2l9-5.6l9-6l9-6.4l9.1-6.7l9-7.1l9-7.5l9-7.9l9-8.3l9.1-8.7l9-9l9-9.4l9-9.8l9.1-10.2l9-10.6l9-11l2.1 0.1l-9.1 11l-9 10.5l-9 10.2l-9 9.8l-9.1 9.5l-9 9l-9 8.7l-9 8.2l-9.1 7.9l-9 7.5l-9 7.2l-9 6.7l-9.1 6.4l-9 5.9l-9 5.6l-9 5.3l-9.1 4.8l-9 4.4l-9 4.1l-9 3.7l-9 3.3l-9.1 2.9l-9 2.5l-9 2.2l-9 1.7l-9.1 1.4l-9 1l-9 0.6l-9 0.2l-9.1-0.1l-9-0.5l-9-1l-9-1.3l-9.1-1.6l-9-2.1l-9-2.5l-9-2.8l-9.1-3.2l-9-3.6l-9-4l-9-4.3l-9.1-4.8l-9-5.1l-9-5.5l-9-5.9l-9-6.3l-9.1-6.7l-9-7l-9-7.4l-9-7.9z" fill="url(#g83)" fill-opacity="0.75"/><path d="M86.3 1323.4l2.1 0m6.9 7.8l2.1 0.1m7 7.3l2 0.1m7 7l2 0m7 6.6l2.1 0.1m6.9 6.2l2.1 0.1m7 5.8l2 0.1m7 5.4l2 0.1m7 5l2 0.1m7 4.7l2.1 0.1m7 4.3l2 0m7 3.9l2 0.1m7 3.5l2 0.1m7 3.2l2.1 0m7 2.8l2 0m7 2.4l2 0.1m7 2l2 0.1m7 1.6l2.1 0m6.9 1.3l2.1 0m7 0.9l2 0.1m7 0.4l2 0.1m7 0.1l2.1 0m6.9-0.2l2.1 0m7-0.7l2 0.1m7-1.1l2 0.1m7-1.4l2.1 0m6.9-1.8l2.1 0.1m7-2.3l2 0.1m7-2.6l2 0.1m7-3l2.1 0.1m6.9-3.4l2.1 0.1m7-3.8l2 0.1m7-4.1l2 0m7-4.5l2 0.1m7-4.9l2.1 0.1m7-5.3l2 0m7-5.6l2 0m7-6l2 0.1m7-6.5l2.1 0.1m7-6.8l2 0.1m7-7.2l2 0m7-7.5l2 0m7-7.9l2.1 0m6.9-8.3l2.1 0.1m7-8.8l2 0.1m7-9.1l2 0.1m7-9.5l2.1 0m6.9-9.8l2.1 0m7-10.2l2 0m7-10.6l2 0.1m7-11.1l2.1 0.1M86.3 1323.4l9 7.8l9.1 7.4l9 7.1l9 6.6l9 6.3l9.1 5.9l9 5.5l9 5.1l9 4.8l9.1 4.4l9 3.9l9 3.6l9 3.3l9.1 2.8l9 2.4l9 2.1l9 1.7l9 1.3l9.1 0.9l9 0.5l9 0.2l9-0.2l9.1-0.7l9-1l9-1.3l9-1.8l9.1-2.2l9-2.5l9-2.9l9-3.3l9.1-3.7l9-4l9-4.5l9-4.8l9.1-5.2l9-5.6l9-6l9-6.4l9.1-6.7l9-7.1l9-7.5l9-7.9l9-8.3l9.1-8.7l9-9l9-9.4l9-9.8l9.1-10.2l9-10.6l9-11" stroke="#000" stroke-opacity="0.6" stroke-width="0.8" fill="none"/><path d="M88.4 1323.4l9 7.9l9 7.4l9 7l9.1 6.7l9 6.3l9 5.9l9 5.5l9 5.1l9.1 4.8l9 4.3l9 4l9 3.6l9.1 3.2l9 2.8l9 2.5l9 2.1l9.1 1.6l9 1.3l9 1l9 0.5l9.1 0.1l9-0.2l9-0.6l9-1l9.1-1.4l9-1.7l9-2.2l9-2.5l9.1-2.9l9-3.3l9-3.7l9-4.1l9-4.4l9.1-4.8l9-5.3l9-5.6l9-5.9l9.1-6.4l9-6.7l9-7.2l9-7.5l9.1-7.9l9-8.2l9-8.7l9-9l9.1-9.5l9-9.8l9-10.2l9-10.5l9.1-11l2-0.3l-9 10.9l-9 10.6l-9.1 10.2l-9 9.8l-9 9.4l-9 9.1l-9.1 8.6l-9 8.3l-9 7.9l-9 7.5l-9.1 7.1l-9 6.8l-9 6.3l-9 6l-9.1 5.6l-9 5.2l-9 4.8l-9 4.5l-9.1 4l-9 3.7l-9 3.3l-9 2.9l-9.1 2.6l-9 2.1l-9 1.8l-9 1.4l-9 1l-9.1 0.6l-9 0.2l-9-0.2l-9-0.5l-9.1-0.9l-9-1.3l-9-1.7l-9-2.1l-9.1-2.4l-9-2.8l-9-3.2l-9-3.6l-9.1-4l-9-4.4l-9-4.7l-9-5.2l-9.1-5.5l-9-5.9l-9-6.3l-9-6.6l-9.1-7.1l-9-7.4l-9-7.8z" fill="url(#g84)" fill-opacity="0.75"/><path d="M88.4 1323.4l2-0.3m7 8.2l2-0.4m7 7.8l2-0.4m7 7.4l2.1-0.3m7 7l2-0.4m7 6.7l2-0.4m7 6.3l2-0.4m7 5.9l2.1-0.4m6.9 5.5l2.1-0.3m7 5.1l2-0.4m7 4.7l2-0.3m7 4.3l2.1-0.3m6.9 3.9l2.1-0.3m7 3.5l2-0.3m7 3.1l2-0.3m7 2.8l2.1-0.4m6.9 2.5l2.1-0.4m7 2l2-0.3m7 1.6l2-0.3m7 1.3l2.1-0.4m6.9 0.9l2.1-0.4m7 0.5l2-0.3m7 0.1l2-0.3m7-0.3l2.1-0.3m6.9-0.7l2.1-0.3m7-1.1l2-0.3m7-1.4l2-0.4m7-1.8l2-0.3m7-2.2l2.1-0.4m7-2.5l2-0.4m7-2.9l2-0.4m7-3.3l2-0.4m7-3.7l2.1-0.3m6.9-4.1l2.1-0.4m7-4.4l2-0.4m7-4.9l2-0.3m7-5.3l2.1-0.3m6.9-5.6l2.1-0.4m7-6l2-0.3m7-6.4l2-0.4m7-6.8l2.1-0.3m6.9-7.2l2.1-0.3m7-7.6l2-0.3m7-7.9l2-0.4m7-8.3l2.1-0.3m6.9-8.7l2.1-0.4m7-9.1l2-0.3m7-9.5l2-0.3m7-9.9l2.1-0.3m6.9-10.2l2.1-0.4m7-10.6l2-0.3M88.4 1323.4l9 7.9l9 7.4l9 7l9.1 6.7l9 6.3l9 5.9l9 5.5l9 5.1l9.1 4.8l9 4.3l9 4l9 3.6l9.1 3.2l9 2.8l9 2.5l9 2.1l9.1 1.6l9 1.3l9 1l9 0.5l9.1 0.1l9-0.2l9-0.6l9-1l9.1-1.4l9-1.7l9-2.2l9-2.5l9.1-2.9l9-3.3l9-3.7l9-4.1l9-4.4l9.1-4.8l9-5.3l9-5.6l9-5.9l9.1-6.4l9-6.7l9-7.2l9-7.5l9.1-7.9l9-8.2l9-8.7l9-9l9.1-9.5l9-9.8l9-10.2l9-10.5l9.1-11" stroke="#000" stroke-opacity="0.6" stroke-width="0.8" fill="none"/><path d="M90.4 1323.1l3.8 3.3l3.7 3.2l3.8 3.2l3.7 3.1l3.8 3l3.8 3l3.7 2.9l3.8 2.8l3.7 2.8l3.8 2.7l3.8 2.7l3.7 2.5l3.8 2.5l3.7 2.5l3.8 2.3l3.8 2.3l3.7 2.3l3.8 2.1l3.7 2.1l3.8 2.1l3.8 2l3.7 1.9l3.8 1.8l3.7 1.8l3.8 1.7l3.8 1.6l3.7 1.6l3.8 1.5l3.7 1.4l3.8 1.4l3.8 1.3l3.7 1.3l3.8 1.1l3.7 1.1l3.8 1.1l3.8 0.9l3.7 1l3.8 0.8l3.7 0.8l3.8 0.7l3.8 0.6l3.7 0.6l3.8 0.5l3.7 0.4l3.8 0.4l3.8 0.3l3.7 0.3l3.8 0.1l3.7 0.2l3.8 0l3.8 0l3.7-0.1l3.8-0.2l3.7-0.2l3.8-0.3l3.8-0.3l3.7-0.5l3.8-0.5l3.7-0.5l3.8-0.6l3.8-0.7l3.7-0.8l3.8-0.8l3.7-0.9l3.8-0.9l3.8-1.1l3.7-1l3.8-1.2l3.7-1.2l3.8-1.3l3.8-1.4l3.7-1.4l3.8-1.5l3.7-1.5l3.8-1.6l3.8-1.7l3.7-1.8l3.8-1.8l3.7-1.9l3.8-1.9l3.8-2.1l3.7-2l3.8-2.2l3.7-2.2l3.8-2.3l3.8-2.3l3.7-2.5l3.8-2.4l3.7-2.6l3.8-2.6l3.8-2.7l3.7-2.7l3.8-2.9l3.7-2.8l3.8-3l3.8-3l3.7-3.1l3.8-3.1l3.7-3.3l3.8-3.2l3.8-3.4l3.7-3.4l3.8-3.5l3.7-3.5l3.8-3.6l3.8-3.7l3.7-3.8l3.8-3.8l3.7-3.9l3.8-3.9l3.8-4l3.7-4.1l3.8-4.2l3.7-4.2l3.8-4.3l3.8-4.3l3.7-4.4l3.8-4.5l3.7-4.5l3.8-4.6" stroke="#000" stroke-width="4.8" fill="none" stroke-linejoin="round"/></g>
<g><path d="M832.7 422.5l0-412M1008.3 422.5l0-412M657 319.5l527 0M657 216.5l527 0M657 113.5l527 0" stroke="#e2e2e2" stroke-width="1" fill="none"/><path d="M657 332.3l3.5 2.1l3.5 2.1l3.5 2.1l3.6 2l3.5 2l3.5 1.9l3.5 2l3.5 1.9l3.5 1.8l3.5 1.8l3.5 1.8l3.6 1.8l3.5 1.7l3.5 1.7l3.5 1.7l3.5 1.6l3.5 1.6l3.5 1.6l3.6 1.5l3.5 1.5l3.5 1.5l3.5 1.4l3.5 1.4l3.5 1.4l3.5 1.3l3.5 1.3l3.6 1.3l3.5 1.2l3.5 1.2l3.5 1.2l3.5 1.1l3.5 1.2l3.5 1l3.6 1.1l3.5 1l3.5 0.9l3.5 1l3.5 0.9l3.5 0.9l3.5 0.8l3.5 0.8l3.6 0.8l3.5 0.7l3.5 0.7l3.5 0.7l3.5 0.7l3.5 0.6l3.5 0.5l3.6 0.6l3.5 0.5l3.5 0.5l3.5 0.4l3.5 0.4l3.5 0.4l3.5 0.4l3.5 0.3l3.6 0.2l3.5 0.3l3.5 0.2l3.5 0.2l3.5 0.1l3.5 0.2l3.5 0l3.6 0.1l3.5 0l3.5 0l3.5-0.1l3.5 0l3.5-0.2l3.5-0.1l3.5-0.2l3.6-0.2l3.5-0.3l3.5-0.2l3.5-0.3l3.5-0.4l3.5-0.4l3.5-0.4l3.6-0.4l3.5-0.5l3.5-0.5l3.5-0.6l3.5-0.5l3.5-0.6l3.5-0.7l3.5-0.7l3.6-0.7l3.5-0.7l3.5-0.8l3.5-0.8l3.5-0.8l3.5-0.9l3.5-0.9l3.6-1l3.5-0.9l3.5-1l3.5-1.1l3.5-1l3.5-1.2l3.5-1.1l3.5-1.2l3.6-1.2l3.5-1.2l3.5-1.3l3.5-1.3l3.5-1.3l3.5-1.4l3.5-1.4l3.6-1.4l3.5-1.5l3.5-1.5l3.5-1.5l3.5-1.6l3.5-1.6l3.5-1.6l3.5-1.7l3.6-1.7l3.5-1.7l3.5-1.8l3.5-1.8l3.5-1.8l3.5-1.8l3.5-1.9l3.6-2l3.5-1.9l3.5-2l3.5-2l3.5-2.1l3.5-2.1l3.5-2.1l3.5-2.2l3.6-2.2l3.5-2.2l3.5-2.3l3.5-2.3l3.5-2.3l3.5-2.3l3.5-2.4l3.6-2.4l3.5-2.5l3.5-2.5l3.5-2.5l3.5-2.6l3.5-2.6l3.5-2.6l3.5-2.6l3.6-2.7l3.5-2.7l3.5-2.8l3.5-2.8" stroke="#000" stroke-width="4" fill="none"/><path d="M657 201.7l3.5 6.1l3.5 6l3.5 6l3.6 5.8l3.5 5.7l3.5 5.7l3.5 5.5l3.5 5.5l3.5 5.3l3.5 5.3l3.5 5.1l3.6 5.1l3.5 5l3.5 4.9l3.5 4.8l3.5 4.6l3.5 4.6l3.5 4.5l3.6 4.4l3.5 4.4l3.5 4.2l3.5 4.1l3.5 4l3.5 4l3.5 3.8l3.5 3.7l3.6 3.7l3.5 3.5l3.5 3.5l3.5 3.4l3.5 3.2l3.5 3.2l3.5 3.1l3.6 3l3.5 2.9l3.5 2.8l3.5 2.7l3.5 2.6l3.5 2.5l3.5 2.4l3.5 2.3l3.6 2.2l3.5 2.2l3.5 2l3.5 1.9l3.5 1.9l3.5 1.7l3.5 1.7l3.6 1.6l3.5 1.4l3.5 1.4l3.5 1.3l3.5 1.2l3.5 1.1l3.5 1l3.5 0.9l3.6 0.8l3.5 0.7l3.5 0.6l3.5 0.5l3.5 0.4l3.5 0.4l3.5 0.2l3.6 0.2l3.5 0l3.5 0l3.5-0.2l3.5-0.2l3.5-0.4l3.5-0.4l3.5-0.5l3.6-0.6l3.5-0.7l3.5-0.8l3.5-0.9l3.5-1l3.5-1.1l3.5-1.2l3.6-1.3l3.5-1.4l3.5-1.4l3.5-1.6l3.5-1.7l3.5-1.7l3.5-1.9l3.5-1.9l3.6-2l3.5-2.2l3.5-2.2l3.5-2.3l3.5-2.4l3.5-2.5l3.5-2.6l3.6-2.7l3.5-2.8l3.5-2.9l3.5-3l3.5-3.1l3.5-3.2l3.5-3.2l3.5-3.4l3.6-3.5l3.5-3.5l3.5-3.7l3.5-3.7l3.5-3.8l3.5-4l3.5-4l3.6-4.1l3.5-4.2l3.5-4.4l3.5-4.4l3.5-4.5l3.5-4.6l3.5-4.6l3.5-4.8l3.6-4.9l3.5-5l3.5-5.1l3.5-5.1l3.5-5.3l3.5-5.3l3.5-5.5l3.6-5.5l3.5-5.7l3.5-5.7l3.5-5.8l3.5-6l3.5-6l3.5-6.1l3.5-6.2l3.6-6.3l3.5-6.4l3.5-6.5l3.5-6.6l3.5-6.6l3.5-6.8l3.5-6.9l3.6-7l3.5-7l3.5-7.2l3.5-7.2l3.5-7.4l3.5-7.4l3.5-7.5l3.5-7.7l3.6-7.7l3.5-7.8l3.5-7.9l3.5-8" stroke="#0000ff" stroke-width="4.2" stroke-dasharray="4.2 3.4" fill="none"/><path d="M657 262.6l3.5 4.3l3.5 4.2l3.5 4.1l3.6 4.1l3.5 3.9l3.5 4l3.5 3.8l3.5 3.8l3.5 3.7l3.5 3.7l3.5 3.6l3.6 3.5l3.5 3.5l3.5 3.4l3.5 3.3l3.5 3.3l3.5 3.2l3.5 3.1l3.6 3.1l3.5 3l3.5 2.9l3.5 2.9l3.5 2.8l3.5 2.7l3.5 2.7l3.5 2.6l3.6 2.5l3.5 2.5l3.5 2.4l3.5 2.3l3.5 2.3l3.5 2.2l3.5 2.1l3.6 2.1l3.5 2l3.5 2l3.5 1.9l3.5 1.8l3.5 1.7l3.5 1.7l3.5 1.6l3.6 1.6l3.5 1.4l3.5 1.5l3.5 1.3l3.5 1.3l3.5 1.2l3.5 1.2l3.6 1.1l3.5 1l3.5 0.9l3.5 0.9l3.5 0.9l3.5 0.7l3.5 0.7l3.5 0.6l3.6 0.6l3.5 0.5l3.5 0.4l3.5 0.4l3.5 0.3l3.5 0.2l3.5 0.2l3.6 0.1l3.5 0l3.5 0l3.5-0.1l3.5-0.2l3.5-0.2l3.5-0.3l3.5-0.4l3.6-0.4l3.5-0.5l3.5-0.6l3.5-0.6l3.5-0.7l3.5-0.7l3.5-0.9l3.6-0.9l3.5-0.9l3.5-1l3.5-1.1l3.5-1.2l3.5-1.2l3.5-1.3l3.5-1.3l3.6-1.5l3.5-1.4l3.5-1.6l3.5-1.6l3.5-1.7l3.5-1.7l3.5-1.8l3.6-1.9l3.5-2l3.5-2l3.5-2.1l3.5-2.1l3.5-2.2l3.5-2.3l3.5-2.3l3.6-2.4l3.5-2.5l3.5-2.5l3.5-2.6l3.5-2.7l3.5-2.7l3.5-2.8l3.6-2.9l3.5-2.9l3.5-3l3.5-3.1l3.5-3.1l3.5-3.2l3.5-3.3l3.5-3.3l3.6-3.4l3.5-3.5l3.5-3.5l3.5-3.6l3.5-3.7l3.5-3.7l3.5-3.8l3.6-3.8l3.5-4l3.5-3.9l3.5-4.1l3.5-4.1l3.5-4.2l3.5-4.3l3.5-4.3l3.6-4.4l3.5-4.4l3.5-4.5l3.5-4.6l3.5-4.7l3.5-4.7l3.5-4.7l3.6-4.9l3.5-4.9l3.5-5l3.5-5l3.5-5.1l3.5-5.2l3.5-5.2l3.5-5.4l3.6-5.3l3.5-5.5l3.5-5.5l3.5-5.5" stroke="#ff0000" stroke-width="4.2" stroke-dasharray="15.5 15" fill="none"/><path d="M657 10.5H1184V422.5H657ZM832.7 422.5v-5M832.7 10.5v5M1008.3 422.5v-5M1008.3 10.5v5M657 319.5h5M1184 319.5h-5M657 216.5h5M1184 216.5h-5M657 113.5h5M1184 113.5h-5" stroke="#555" stroke-width="1.1" fill="none"/></g>
<rect x="690.3" y="47.4" width="382.1" height="126.6" fill="#fff" stroke="#555" stroke-width="1"/>
<path d="M693.1 70H715.7" stroke="#000" stroke-width="4"/>
<path d="M693.1 111.2H712.8" stroke="#00f" stroke-width="4" stroke-dasharray="3.9 3.9"/>
<path d="M693.1 151.7H708.8" stroke="#f00" stroke-width="4.2"/>
<g><path d="M832.7 943l0-412.7M1008.3 943l0-412.7M657 839.8l527 0M657 736.6l527 0M657 633.5l527 0" stroke="#e2e2e2" stroke-width="1" fill="none"/><path d="M657 839.8l3.5 3.3l3.5 3.2l3.5 3.1l3.6 3.1l3.5 3l3.5 2.9l3.5 2.9l3.5 2.8l3.5 2.8l3.5 2.6l3.5 2.6l3.6 2.6l3.5 2.5l3.5 2.4l3.5 2.3l3.5 2.3l3.5 2.2l3.5 2.2l3.6 2l3.5 2.1l3.5 1.9l3.5 1.9l3.5 1.8l3.5 1.7l3.5 1.7l3.5 1.6l3.6 1.6l3.5 1.5l3.5 1.4l3.5 1.4l3.5 1.2l3.5 1.3l3.5 1.1l3.6 1.1l3.5 1l3.5 1l3.5 0.9l3.5 0.8l3.5 0.8l3.5 0.7l3.5 0.6l3.6 0.6l3.5 0.4l3.5 0.5l3.5 0.3l3.5 0.3l3.5 0.3l3.5 0.1l3.6 0.1l3.5 0.1l3.5-0.1l3.5-0.1l3.5-0.1l3.5-0.3l3.5-0.3l3.5-0.3l3.6-0.5l3.5-0.4l3.5-0.6l3.5-0.6l3.5-0.7l3.5-0.8l3.5-0.8l3.6-0.9l3.5-1l3.5-1l3.5-1.1l3.5-1.1l3.5-1.3l3.5-1.2l3.5-1.4l3.6-1.4l3.5-1.5l3.5-1.6l3.5-1.6l3.5-1.7l3.5-1.7l3.5-1.8l3.6-1.9l3.5-1.9l3.5-2.1l3.5-2l3.5-2.2l3.5-2.2l3.5-2.3l3.5-2.3l3.6-2.4l3.5-2.5l3.5-2.6l3.5-2.6l3.5-2.6l3.5-2.8l3.5-2.8l3.6-2.9l3.5-2.9l3.5-3l3.5-3.1l3.5-3.1l3.5-3.2l3.5-3.3l3.5-3.3l3.6-3.4l3.5-3.5l3.5-3.5l3.5-3.6l3.5-3.7l3.5-3.7l3.5-3.8l3.6-3.9l3.5-3.9l3.5-4l3.5-4l3.5-4.2l3.5-4.2l3.5-4.2l3.5-4.4l3.6-4.3l3.5-4.5l3.5-4.5l3.5-4.6l3.5-4.7l3.5-4.7l3.5-4.8l3.6-4.8l3.5-5l3.5-4.9l3.5-5.1l3.5-5.1l3.5-5.2l3.5-5.2l3.5-5.4l3.6-5.3l3.5-5.5l3.5-5.5l3.5-5.6l3.5-5.6l3.5-5.7l3.5-5.8l3.6-5.9l3.5-5.9l3.5-5.9l3.5-6.1l3.5-6.1l3.5-6.2l3.5-6.2l3.5-6.3l3.6-6.4l3.5-6.4l3.5-6.5l3.5-6.6" stroke="#000" stroke-width="4" fill="none"/><path d="M657 592.2l3.5 6.6l3.5 6.5l3.5 6.4l3.6 6.4l3.5 6.3l3.5 6.2l3.5 6.2l3.5 6.1l3.5 6.1l3.5 5.9l3.5 5.9l3.6 5.9l3.5 5.8l3.5 5.7l3.5 5.6l3.5 5.6l3.5 5.5l3.5 5.5l3.6 5.3l3.5 5.4l3.5 5.2l3.5 5.2l3.5 5.1l3.5 5.1l3.5 4.9l3.5 5l3.6 4.8l3.5 4.8l3.5 4.7l3.5 4.7l3.5 4.6l3.5 4.5l3.5 4.5l3.6 4.3l3.5 4.4l3.5 4.2l3.5 4.2l3.5 4.2l3.5 4l3.5 4l3.5 3.9l3.6 3.9l3.5 3.8l3.5 3.7l3.5 3.7l3.5 3.6l3.5 3.5l3.5 3.5l3.6 3.4l3.5 3.3l3.5 3.3l3.5 3.2l3.5 3.1l3.5 3.1l3.5 3l3.5 2.9l3.6 2.9l3.5 2.8l3.5 2.8l3.5 2.6l3.5 2.6l3.5 2.6l3.5 2.5l3.6 2.4l3.5 2.3l3.5 2.3l3.5 2.2l3.5 2.2l3.5 2l3.5 2.1l3.5 1.9l3.6 1.9l3.5 1.8l3.5 1.7l3.5 1.7l3.5 1.6l3.5 1.6l3.5 1.5l3.6 1.4l3.5 1.4l3.5 1.2l3.5 1.3l3.5 1.1l3.5 1.1l3.5 1l3.5 1l3.6 0.9l3.5 0.8l3.5 0.8l3.5 0.7l3.5 0.6l3.5 0.6l3.5 0.4l3.6 0.5l3.5 0.3l3.5 0.3l3.5 0.3l3.5 0.1l3.5 0.1l3.5 0.1l3.5-0.1l3.6-0.1l3.5-0.1l3.5-0.3l3.5-0.3l3.5-0.3l3.5-0.5l3.5-0.4l3.6-0.6l3.5-0.6l3.5-0.7l3.5-0.8l3.5-0.8l3.5-0.9l3.5-1l3.5-1l3.6-1.1l3.5-1.1l3.5-1.3l3.5-1.2l3.5-1.4l3.5-1.4l3.5-1.5l3.6-1.6l3.5-1.6l3.5-1.7l3.5-1.7l3.5-1.8l3.5-1.9l3.5-1.9l3.5-2.1l3.6-2l3.5-2.2l3.5-2.2l3.5-2.3l3.5-2.3l3.5-2.4l3.5-2.5l3.6-2.6l3.5-2.6l3.5-2.6l3.5-2.8l3.5-2.8l3.5-2.9l3.5-2.9l3.5-3l3.6-3.1l3.5-3.1l3.5-3.2l3.5-3.3" stroke="#0000ff" stroke-width="4.2" stroke-dasharray="4.2 3.4" fill="none"/><path d="M657 736.6l3.5 5l3.5 4.8l3.5 4.8l3.6 4.7l3.5 4.7l3.5 4.6l3.5 4.5l3.5 4.5l3.5 4.3l3.5 4.4l3.5 4.2l3.6 4.2l3.5 4.2l3.5 4l3.5 4l3.5 3.9l3.5 3.9l3.5 3.8l3.6 3.7l3.5 3.7l3.5 3.6l3.5 3.5l3.5 3.5l3.5 3.4l3.5 3.3l3.5 3.3l3.6 3.2l3.5 3.1l3.5 3.1l3.5 3l3.5 2.9l3.5 2.9l3.5 2.8l3.6 2.8l3.5 2.6l3.5 2.6l3.5 2.6l3.5 2.5l3.5 2.4l3.5 2.3l3.5 2.3l3.6 2.2l3.5 2.2l3.5 2l3.5 2.1l3.5 1.9l3.5 1.9l3.5 1.8l3.6 1.7l3.5 1.7l3.5 1.6l3.5 1.6l3.5 1.5l3.5 1.4l3.5 1.4l3.5 1.2l3.6 1.3l3.5 1.1l3.5 1.1l3.5 1l3.5 1l3.5 0.9l3.5 0.8l3.6 0.8l3.5 0.7l3.5 0.6l3.5 0.6l3.5 0.4l3.5 0.5l3.5 0.3l3.5 0.3l3.6 0.3l3.5 0.1l3.5 0.1l3.5 0.1l3.5-0.1l3.5-0.1l3.5-0.1l3.6-0.3l3.5-0.3l3.5-0.3l3.5-0.5l3.5-0.4l3.5-0.6l3.5-0.6l3.5-0.7l3.6-0.8l3.5-0.8l3.5-0.9l3.5-1l3.5-1l3.5-1.1l3.5-1.1l3.6-1.3l3.5-1.2l3.5-1.4l3.5-1.4l3.5-1.5l3.5-1.6l3.5-1.6l3.5-1.7l3.6-1.7l3.5-1.8l3.5-1.9l3.5-1.9l3.5-2.1l3.5-2l3.5-2.2l3.6-2.2l3.5-2.3l3.5-2.3l3.5-2.4l3.5-2.5l3.5-2.6l3.5-2.6l3.5-2.6l3.6-2.8l3.5-2.8l3.5-2.9l3.5-2.9l3.5-3l3.5-3.1l3.5-3.1l3.6-3.2l3.5-3.3l3.5-3.3l3.5-3.4l3.5-3.5l3.5-3.5l3.5-3.6l3.5-3.7l3.6-3.7l3.5-3.8l3.5-3.9l3.5-3.9l3.5-4l3.5-4l3.5-4.2l3.6-4.2l3.5-4.2l3.5-4.4l3.5-4.3l3.5-4.5l3.5-4.5l3.5-4.6l3.5-4.7l3.6-4.7l3.5-4.8l3.5-4.8l3.5-5" stroke="#ff0000" stroke-width="4.2" stroke-dasharray="15.5 15" fill="none"/><path d="M657 530.3H1184V943H657ZM832.7 943v-5M832.7 530.3v5M1008.3 943v-5M1008.3 530.3v5M657 839.8h5M1184 839.8h-5M657 736.6h5M1184 736.6h-5M657 633.5h5M1184 633.5h-5" stroke="#555" stroke-width="1.1" fill="none"/></g>
<rect x="741" y="555" width="374" height="125.7" fill="#fff" stroke="#555" stroke-width="1"/>
<path d="M759.4 577.2H782" stroke="#000" stroke-width="4"/>
<path d="M759.4 618.2H779.1" stroke="#00f" stroke-width="4" stroke-dasharray="3.9 3.9"/>
<path d="M759.4 658.9H775.1" stroke="#f00" stroke-width="4.2"/>
<g><path d="M826.7 1463l0-412.5M1002.1 1463l0-412.5M651.3 1359.9l526.2 0M651.3 1256.8l526.2 0M651.3 1153.6l526.2 0" stroke="#e2e2e2" stroke-width="1" fill="none"/><path d="M651.3 1261.7l3.5 4.3l3.5 4.1l3.5 4.2l3.5 4l3.5 4l3.5 4l3.6 3.8l3.5 3.8l3.5 3.7l3.5 3.7l3.5 3.6l3.5 3.5l3.5 3.5l3.5 3.4l3.5 3.3l3.5 3.3l3.5 3.2l3.5 3.1l3.6 3.1l3.5 3l3.5 2.9l3.5 2.9l3.5 2.8l3.5 2.8l3.5 2.6l3.5 2.6l3.5 2.6l3.5 2.4l3.5 2.5l3.5 2.3l3.5 2.3l3.6 2.2l3.5 2.1l3.5 2.1l3.5 2l3.5 2l3.5 1.9l3.5 1.8l3.5 1.7l3.5 1.7l3.5 1.6l3.5 1.6l3.5 1.5l3.6 1.4l3.5 1.3l3.5 1.3l3.5 1.2l3.5 1.2l3.5 1.1l3.5 1l3.5 1l3.5 0.8l3.5 0.9l3.5 0.7l3.5 0.7l3.5 0.7l3.6 0.5l3.5 0.5l3.5 0.4l3.5 0.4l3.5 0.3l3.5 0.2l3.5 0.2l3.5 0.1l3.5 0l3.5 0l3.5-0.1l3.5-0.2l3.6-0.2l3.5-0.3l3.5-0.4l3.5-0.4l3.5-0.5l3.5-0.5l3.5-0.7l3.5-0.7l3.5-0.7l3.5-0.9l3.5-0.8l3.5-1l3.5-1l3.6-1.1l3.5-1.2l3.5-1.2l3.5-1.3l3.5-1.3l3.5-1.4l3.5-1.5l3.5-1.6l3.5-1.6l3.5-1.7l3.5-1.7l3.5-1.8l3.6-1.9l3.5-2l3.5-2l3.5-2.1l3.5-2.1l3.5-2.2l3.5-2.3l3.5-2.3l3.5-2.5l3.5-2.4l3.5-2.6l3.5-2.6l3.5-2.6l3.6-2.8l3.5-2.8l3.5-2.9l3.5-2.9l3.5-3l3.5-3.1l3.5-3.1l3.5-3.2l3.5-3.3l3.5-3.3l3.5-3.4l3.5-3.5l3.6-3.5l3.5-3.6l3.5-3.7l3.5-3.7l3.5-3.8l3.5-3.8l3.5-4l3.5-4l3.5-4l3.5-4.2l3.5-4.1l3.5-4.3l3.5-4.3l3.6-4.4l3.5-4.5l3.5-4.5l3.5-4.6l3.5-4.6l3.5-4.7l3.5-4.8l3.5-4.9l3.5-4.9l3.5-5l3.5-5l3.5-5.1l3.6-5.2l3.5-5.3l3.5-5.3l3.5-5.4l3.5-5.4l3.5-5.5l3.5-5.6" stroke="#000" stroke-width="4" fill="none"/><path d="M651.3 1303l3.5 4.2l3.5 4.2l3.5 4.1l3.5 4.1l3.5 4l3.5 3.9l3.6 3.9l3.5 3.8l3.5 3.7l3.5 3.6l3.5 3.6l3.5 3.6l3.5 3.4l3.5 3.4l3.5 3.4l3.5 3.2l3.5 3.2l3.5 3.2l3.6 3l3.5 3l3.5 3l3.5 2.9l3.5 2.8l3.5 2.7l3.5 2.7l3.5 2.6l3.5 2.5l3.5 2.5l3.5 2.4l3.5 2.4l3.5 2.2l3.6 2.2l3.5 2.2l3.5 2.1l3.5 2l3.5 1.9l3.5 1.9l3.5 1.8l3.5 1.8l3.5 1.7l3.5 1.6l3.5 1.5l3.5 1.5l3.6 1.4l3.5 1.4l3.5 1.3l3.5 1.2l3.5 1.1l3.5 1.1l3.5 1.1l3.5 0.9l3.5 0.9l3.5 0.8l3.5 0.8l3.5 0.7l3.5 0.6l3.6 0.6l3.5 0.5l3.5 0.4l3.5 0.3l3.5 0.3l3.5 0.3l3.5 0.1l3.5 0.1l3.5 0.1l3.5-0.1l3.5-0.1l3.5-0.1l3.6-0.3l3.5-0.3l3.5-0.3l3.5-0.4l3.5-0.5l3.5-0.6l3.5-0.6l3.5-0.7l3.5-0.8l3.5-0.8l3.5-0.9l3.5-0.9l3.5-1.1l3.6-1.1l3.5-1.1l3.5-1.2l3.5-1.3l3.5-1.4l3.5-1.4l3.5-1.5l3.5-1.5l3.5-1.6l3.5-1.7l3.5-1.8l3.5-1.8l3.6-1.9l3.5-1.9l3.5-2l3.5-2.1l3.5-2.2l3.5-2.2l3.5-2.2l3.5-2.4l3.5-2.4l3.5-2.5l3.5-2.5l3.5-2.6l3.5-2.7l3.6-2.7l3.5-2.8l3.5-2.9l3.5-3l3.5-3l3.5-3l3.5-3.2l3.5-3.2l3.5-3.2l3.5-3.4l3.5-3.4l3.5-3.4l3.6-3.6l3.5-3.6l3.5-3.6l3.5-3.7l3.5-3.8l3.5-3.9l3.5-3.9l3.5-4l3.5-4.1l3.5-4.1l3.5-4.2l3.5-4.2l3.5-4.4l3.6-4.4l3.5-4.4l3.5-4.5l3.5-4.6l3.5-4.7l3.5-4.7l3.5-4.8l3.5-4.8l3.5-4.9l3.5-5l3.5-5.1l3.5-5.1l3.6-5.2l3.5-5.2l3.5-5.3l3.5-5.4l3.5-5.5l3.5-5.5l3.5-5.5" stroke="#0000ff" stroke-width="4.2" stroke-dasharray="4.2 3.4" fill="none"/><path d="M651.3 1220.5l3.5 4.2l3.5 4.2l3.5 4.1l3.5 4.1l3.5 4l3.5 3.9l3.6 3.9l3.5 3.8l3.5 3.7l3.5 3.6l3.5 3.6l3.5 3.6l3.5 3.4l3.5 3.4l3.5 3.4l3.5 3.2l3.5 3.2l3.5 3.2l3.6 3l3.5 3l3.5 3l3.5 2.9l3.5 2.8l3.5 2.7l3.5 2.7l3.5 2.6l3.5 2.5l3.5 2.5l3.5 2.4l3.5 2.4l3.5 2.2l3.6 2.2l3.5 2.2l3.5 2.1l3.5 2l3.5 1.9l3.5 1.9l3.5 1.8l3.5 1.8l3.5 1.6l3.5 1.7l3.5 1.5l3.5 1.5l3.6 1.4l3.5 1.4l3.5 1.3l3.5 1.2l3.5 1.1l3.5 1.1l3.5 1.1l3.5 0.9l3.5 0.9l3.5 0.8l3.5 0.8l3.5 0.7l3.5 0.6l3.6 0.6l3.5 0.5l3.5 0.4l3.5 0.3l3.5 0.3l3.5 0.3l3.5 0.1l3.5 0.1l3.5 0.1l3.5-0.1l3.5-0.1l3.5-0.1l3.6-0.3l3.5-0.3l3.5-0.3l3.5-0.4l3.5-0.5l3.5-0.6l3.5-0.6l3.5-0.7l3.5-0.8l3.5-0.8l3.5-0.9l3.5-0.9l3.5-1.1l3.6-1.1l3.5-1.1l3.5-1.2l3.5-1.3l3.5-1.4l3.5-1.4l3.5-1.5l3.5-1.5l3.5-1.7l3.5-1.6l3.5-1.8l3.5-1.8l3.6-1.9l3.5-1.9l3.5-2l3.5-2.1l3.5-2.2l3.5-2.2l3.5-2.2l3.5-2.4l3.5-2.4l3.5-2.5l3.5-2.5l3.5-2.6l3.5-2.7l3.6-2.7l3.5-2.8l3.5-2.9l3.5-3l3.5-3l3.5-3l3.5-3.2l3.5-3.2l3.5-3.2l3.5-3.4l3.5-3.4l3.5-3.4l3.6-3.6l3.5-3.6l3.5-3.6l3.5-3.7l3.5-3.8l3.5-3.9l3.5-3.9l3.5-4l3.5-4.1l3.5-4.1l3.5-4.2l3.5-4.2l3.5-4.4l3.6-4.4l3.5-4.4l3.5-4.5l3.5-4.6l3.5-4.7l3.5-4.7l3.5-4.8l3.5-4.8l3.5-5l3.5-4.9l3.5-5.1l3.5-5.1l3.6-5.2l3.5-5.2l3.5-5.3l3.5-5.4l3.5-5.5l3.5-5.5l3.5-5.5" stroke="#ff0000" stroke-width="4.2" stroke-dasharray="15.5 15" fill="none"/><path d="M651.3 1050.5H1177.5V1463H651.3ZM826.7 1463v-5M826.7 1050.5v5M1002.1 1463v-5M1002.1 1050.5v5M651.3 1359.9h5M1177.5 1359.9h-5M651.3 1256.8h5M1177.5 1256.8h-5M651.3 1153.6h5M1177.5 1153.6h-5" stroke="#555" stroke-width="1.1" fill="none"/></g>
<rect x="684.3" y="1084.3" width="374" height="126.7" fill="#fff" stroke="#555" stroke-width="1"/>
<path d="M694.4 1106.6H717" stroke="#000" stroke-width="4"/>
<path d="M694.4 1147.6H714.1" stroke="#00f" stroke-width="4" stroke-dasharray="3.9 3.9"/>
<path d="M694.4 1188.3H710.1" stroke="#f00" stroke-width="4.2"/>
<g opacity=".99"><text x="32.1" y="286.3" font-size="21.5" text-anchor="end">0</text>
<text x="32.1" y="219.9" font-size="21.5" text-anchor="end">0.5</text>
<text x="32.1" y="153.5" font-size="21.5" text-anchor="end">1</text>
<text x="32.1" y="87" font-size="21.5" text-anchor="end">1.5</text>
<text x="32.1" y="20.6" font-size="21.5" text-anchor="end">2</text>
<text x="24.4" y="51.1" font-size="25" text-anchor="middle" font-style="italic">&#963;</text>
<text x="78.4" y="431.2" font-size="21.5" text-anchor="end">0</text>
<text x="49.8" y="373.3" font-size="21.5" text-anchor="end">0.5</text>
<text x="21.1" y="315.5" font-size="21.5" text-anchor="end">1</text>
<text x="30.5" y="341" font-size="21.5" text-anchor="middle" font-style="italic">t</text>
<text x="104.4" y="446" font-size="21.5" text-anchor="middle">0</text>
<text x="254.2" y="441.2" font-size="21.5" text-anchor="middle">100</text>
<text x="404.1" y="436.5" font-size="21.5" text-anchor="middle">200</text>
<text x="553.9" y="431.7" font-size="21.5" text-anchor="middle">300</text>
<text x="483" y="431.6" font-size="21.5" text-anchor="middle" font-style="italic">x</text>
<text x="32.1" y="806.6" font-size="21.5" text-anchor="end">0</text>
<text x="32.1" y="740.2" font-size="21.5" text-anchor="end">0.5</text>
<text x="32.1" y="673.7" font-size="21.5" text-anchor="end">1</text>
<text x="32.1" y="607.3" font-size="21.5" text-anchor="end">1.5</text>
<text x="32.1" y="540.9" font-size="21.5" text-anchor="end">2</text>
<text x="24.4" y="571.4" font-size="25" text-anchor="middle" font-style="italic">&#963;</text>
<text x="78.4" y="951.5" font-size="21.5" text-anchor="end">0</text>
<text x="49.8" y="893.6" font-size="21.5" text-anchor="end">0.5</text>
<text x="21.1" y="835.8" font-size="21.5" text-anchor="end">1</text>
<text x="30.5" y="861.3" font-size="21.5" text-anchor="middle" font-style="italic">t</text>
<text x="104.4" y="966.3" font-size="21.5" text-anchor="middle">0</text>
<text x="254.2" y="961.5" font-size="21.5" text-anchor="middle">100</text>
<text x="404.1" y="956.8" font-size="21.5" text-anchor="middle">200</text>
<text x="553.9" y="952" font-size="21.5" text-anchor="middle">300</text>
<text x="483" y="951.9" font-size="21.5" text-anchor="middle" font-style="italic">x</text>
<text x="27.7" y="1325.8" font-size="21.5" text-anchor="end">0</text>
<text x="27.7" y="1259.3" font-size="21.5" text-anchor="end">0.5</text>
<text x="27.7" y="1192.8" font-size="21.5" text-anchor="end">1</text>
<text x="27.7" y="1126.3" font-size="21.5" text-anchor="end">1.5</text>
<text x="27.7" y="1059.8" font-size="21.5" text-anchor="end">2</text>
<text x="20" y="1090.3" font-size="25" text-anchor="middle" font-style="italic">&#963;</text>
<text x="73.9" y="1472.6" font-size="21.5" text-anchor="end">0</text>
<text x="45.3" y="1413.8" font-size="21.5" text-anchor="end">0.5</text>
<text x="16.7" y="1355" font-size="21.5" text-anchor="end">1</text>
<text x="24.6" y="1380.5" font-size="21.5" text-anchor="middle" font-style="italic">t</text>
<text x="96.9" y="1487.4" font-size="21.5" text-anchor="middle">0</text>
<text x="247.3" y="1482.5" font-size="21.5" text-anchor="middle">100</text>
<text x="397.7" y="1477.5" font-size="21.5" text-anchor="middle">200</text>
<text x="548.1" y="1472.6" font-size="21.5" text-anchor="middle">300</text>
<text x="477.2" y="1472.5" font-size="21.5" text-anchor="middle" font-style="italic">x</text>
<text x="718.3" y="76" font-size="23.5" textLength="312" lengthAdjust="spacingAndGlyphs"><tspan font-style="italic">&#963;</tspan>(<tspan font-style="italic">x</tspan>,&#8201;0) = 0.2(<tspan font-style="italic">x</tspan>/<tspan font-style="italic">x</tspan><tspan font-size="15" dy="4">0</tspan><tspan dy="-4"> &#8722; 1.3)</tspan><tspan font-size="15" dy="-9">2</tspan><tspan dy="9"> + 0.1</tspan></text>
<text x="718.3" y="117.2" font-size="23.5" textLength="352" lengthAdjust="spacingAndGlyphs"><tspan font-style="italic">&#963;</tspan>(<tspan font-style="italic">x</tspan>,&#8201;0.5) = 0.575(<tspan font-style="italic">x</tspan>/<tspan font-style="italic">x</tspan><tspan font-size="15" dy="4">0</tspan><tspan dy="-4"> &#8722; 1.3)</tspan><tspan font-size="15" dy="-9">2</tspan><tspan dy="9"> + 0.1</tspan></text>
<text x="718.3" y="157.7" font-size="23.5" textLength="312" lengthAdjust="spacingAndGlyphs"><tspan font-style="italic">&#963;</tspan>(<tspan font-style="italic">x</tspan>,&#8201;1) = 0.4(<tspan font-style="italic">x</tspan>/<tspan font-style="italic">x</tspan><tspan font-size="15" dy="4">0</tspan><tspan dy="-4"> &#8722; 1.3)</tspan><tspan font-size="15" dy="-9">2</tspan><tspan dy="9"> + 0.1</tspan></text>
<text x="649.5" y="428.4" font-size="22.5" text-anchor="end">0</text>
<text x="649.5" y="325.4" font-size="22.5" text-anchor="end">0.5</text>
<text x="649.5" y="222.4" font-size="22.5" text-anchor="end">1</text>
<text x="649.5" y="119.4" font-size="22.5" text-anchor="end">1.5</text>
<text x="649.5" y="16.4" font-size="22.5" text-anchor="end">2</text>
<text x="657" y="449.5" font-size="22.5" text-anchor="middle">0</text>
<text x="832.7" y="449.5" font-size="22.5" text-anchor="middle">100</text>
<text x="1008.3" y="449.5" font-size="22.5" text-anchor="middle">200</text>
<text x="1184" y="449.5" font-size="22.5" text-anchor="middle">300</text>
<text x="1095" y="448.5" font-size="22.5" text-anchor="middle" font-style="italic">x</text>
<text x="640" y="62.5" font-size="22.5" text-anchor="middle" font-style="italic">&#963;</text>
<text x="785" y="583.2" font-size="23.5" textLength="294" lengthAdjust="spacingAndGlyphs"><tspan font-style="italic">&#963;</tspan>(<tspan font-style="italic">x</tspan>,&#8201;0) = 0.4(<tspan font-style="italic">x</tspan>/<tspan font-style="italic">x</tspan><tspan font-size="15" dy="4">0</tspan><tspan dy="-4"> &#8722; 1)</tspan><tspan font-size="15" dy="-9">2</tspan><tspan dy="9"> + 0.1</tspan></text>
<text x="785" y="624.2" font-size="23.5" textLength="311" lengthAdjust="spacingAndGlyphs"><tspan font-style="italic">&#963;</tspan>(<tspan font-style="italic">x</tspan>,&#8201;0.5) = 0.4(<tspan font-style="italic">x</tspan>/<tspan font-style="italic">x</tspan><tspan font-size="15" dy="4">0</tspan><tspan dy="-4"> &#8722; 2)</tspan><tspan font-size="15" dy="-9">2</tspan><tspan dy="9"> + 0.1</tspan></text>
<text x="785" y="664.9" font-size="23.5" textLength="311" lengthAdjust="spacingAndGlyphs"><tspan font-style="italic">&#963;</tspan>(<tspan font-style="italic">x</tspan>,&#8201;1) = 0.4(<tspan font-style="italic">x</tspan>/<tspan font-style="italic">x</tspan><tspan font-size="15" dy="4">0</tspan><tspan dy="-4"> &#8722; 1.5)</tspan><tspan font-size="15" dy="-9">2</tspan><tspan dy="9"> + 0.1</tspan></text>
<text x="649.5" y="948.9" font-size="22.5" text-anchor="end">0</text>
<text x="649.5" y="845.7" font-size="22.5" text-anchor="end">0.5</text>
<text x="649.5" y="742.5" font-size="22.5" text-anchor="end">1</text>
<text x="649.5" y="639.4" font-size="22.5" text-anchor="end">1.5</text>
<text x="649.5" y="536.2" font-size="22.5" text-anchor="end">2</text>
<text x="657" y="970" font-size="22.5" text-anchor="middle">0</text>
<text x="832.7" y="970" font-size="22.5" text-anchor="middle">100</text>
<text x="1008.3" y="970" font-size="22.5" text-anchor="middle">200</text>
<text x="1184" y="970" font-size="22.5" text-anchor="middle">300</text>
<text x="1095" y="969" font-size="22.5" text-anchor="middle" font-style="italic">x</text>
<text x="640" y="582.3" font-size="22.5" text-anchor="middle" font-style="italic">&#963;</text>
<text x="720.2" y="1112.6" font-size="23.5" textLength="311.5" lengthAdjust="spacingAndGlyphs"><tspan font-style="italic">&#963;</tspan>(<tspan font-style="italic">x</tspan>,&#8201;0) = 0.4(<tspan font-style="italic">x</tspan>/<tspan font-style="italic">x</tspan><tspan font-size="15" dy="4">0</tspan><tspan dy="-4"> &#8722; 1.3)</tspan><tspan font-size="15" dy="-9">2</tspan><tspan dy="9"> + 0.3</tspan></text>
<text x="720.2" y="1153.6" font-size="23.5" textLength="328.5" lengthAdjust="spacingAndGlyphs"><tspan font-style="italic">&#963;</tspan>(<tspan font-style="italic">x</tspan>,&#8201;0.5) = 0.4(<tspan font-style="italic">x</tspan>/<tspan font-style="italic">x</tspan><tspan font-size="15" dy="4">0</tspan><tspan dy="-4"> &#8722; 1.3)</tspan><tspan font-size="15" dy="-9">2</tspan><tspan dy="9"> + 0.1</tspan></text>
<text x="720.2" y="1194.3" font-size="23.5" textLength="311.5" lengthAdjust="spacingAndGlyphs"><tspan font-style="italic">&#963;</tspan>(<tspan font-style="italic">x</tspan>,&#8201;1) = 0.4(<tspan font-style="italic">x</tspan>/<tspan font-style="italic">x</tspan><tspan font-size="15" dy="4">0</tspan><tspan dy="-4"> &#8722; 1.3)</tspan><tspan font-size="15" dy="-9">2</tspan><tspan dy="9"> + 0.5</tspan></text>
<text x="643.8" y="1468.9" font-size="22.5" text-anchor="end">0</text>
<text x="643.8" y="1365.8" font-size="22.5" text-anchor="end">0.5</text>
<text x="643.8" y="1262.7" font-size="22.5" text-anchor="end">1</text>
<text x="643.8" y="1159.5" font-size="22.5" text-anchor="end">1.5</text>
<text x="643.8" y="1056.4" font-size="22.5" text-anchor="end">2</text>
<text x="651.3" y="1490" font-size="22.5" text-anchor="middle">0</text>
<text x="826.7" y="1490" font-size="22.5" text-anchor="middle">100</text>
<text x="1002.1" y="1490" font-size="22.5" text-anchor="middle">200</text>
<text x="1177.5" y="1490" font-size="22.5" text-anchor="middle">300</text>
<text x="1089.3" y="1489" font-size="22.5" text-anchor="middle" font-style="italic">x</text>
<text x="634.3" y="1102.5" font-size="22.5" text-anchor="middle" font-style="italic">&#963;</text>
<text x="282" y="485.5" font-size="36" text-anchor="middle">(a)</text>
<text x="910.5" y="485.5" font-size="36" text-anchor="middle">(b)</text>
<text x="283" y="1007.5" font-size="36" text-anchor="middle">(c)</text>
<text x="910.7" y="1007.5" font-size="36" text-anchor="middle">(d)</text>
<text x="277.5" y="1527.5" font-size="36" text-anchor="middle">(e)</text>
<text x="905" y="1527.5" font-size="36" text-anchor="middle">(f)</text></g>
</svg></body></html>
